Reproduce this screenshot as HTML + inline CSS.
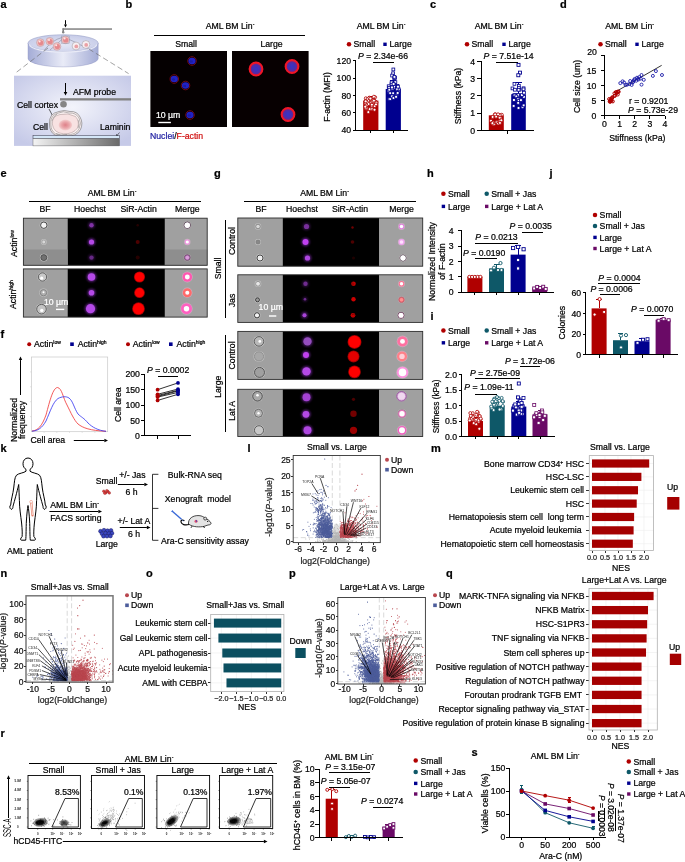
<!DOCTYPE html>
<html><head><meta charset="utf-8"><title>Figure</title>
<style>
html,body{margin:0;padding:0;background:#fff;}
body{width:685px;height:862px;overflow:hidden;font-family:"Liberation Sans",Arial,sans-serif;}
svg{display:block;}
svg text{font-family:"Liberation Sans",Arial,sans-serif;}
</style></head><body>
<svg width="685" height="862" viewBox="0 0 685 862">
<rect width="685" height="862" fill="#fff"/>
<defs>
<radialGradient id="gbox" cx="50%" cy="45%" r="65%"><stop offset="0" stop-color="#f3f4fb"/><stop offset="1" stop-color="#c6cae8"/></radialGradient>
<linearGradient id="gdish" x1="0" x2="1"><stop offset="0" stop-color="#a4acd6"/><stop offset="0.5" stop-color="#e9ebf7"/><stop offset="1" stop-color="#a4acd6"/></linearGradient>
<radialGradient id="gdtop" cx="50%" cy="60%" r="60%"><stop offset="0" stop-color="#e4e7f5"/><stop offset="1" stop-color="#c6cbe8"/></radialGradient>
<linearGradient id="gsub" x1="0" x2="1"><stop offset="0" stop-color="#f4f4f4"/><stop offset="1" stop-color="#6a6a6a"/></linearGradient>
<radialGradient id="gcell" cx="50%" cy="50%" r="50%"><stop offset="0" stop-color="#f0b0b0"/><stop offset="1" stop-color="#f7dcdc"/></radialGradient>
<radialGradient id="gnuc" cx="50%" cy="50%" r="50%"><stop offset="0" stop-color="#de8088"/><stop offset="0.6" stop-color="#eaa8ac"/><stop offset="1" stop-color="#f4d0d0"/></radialGradient>
<filter id="b1" x="-50%" y="-50%" width="200%" height="200%"><feGaussianBlur stdDeviation="0.6"/></filter>
<filter id="b2" x="-50%" y="-50%" width="200%" height="200%"><feGaussianBlur stdDeviation="1.1"/></filter>
<filter id="b3" x="-50%" y="-50%" width="200%" height="200%"><feGaussianBlur stdDeviation="0.35"/></filter>
</defs>
<text x="0.5" y="8.2" font-size="11" font-weight="bold" fill="#000" stroke="#000" stroke-width="0.22">a</text>
<path d="M65.50 20.20 L65.50 24.60" stroke="#000" stroke-width="1" fill="none"/>
<path d="M65.50 27.60 L64.00 24.60 L67.00 24.60 Z" fill="#000"/>
<rect x="62.60" y="28.30" width="49.40" height="1.50" fill="#828282"/>
<rect x="62.40" y="28.30" width="1.60" height="4.20" fill="#828282"/>
<circle cx="63.20" cy="32.30" r="1.2" fill="#858585"/>
<path d="M28 43.2 L28 58.4 A35.1 8.5 0 0 0 98.2 58.4 L98.2 43.2 Z" fill="url(#gdish)" stroke="#8f96c0" stroke-width="0.4"/>
<ellipse cx="63.1" cy="43.2" rx="35.1" ry="8.5" fill="url(#gdtop)" stroke="#8f96c0" stroke-width="0.5"/>
<path d="M29.5 44.5 A33.6 7.6 0 0 0 96.7 44.5" fill="none" stroke="#eef0fa" stroke-width="1.2" opacity="0.9"/>
<path d="M44 50.5 Q52 40 62 37.5 M50 50 Q58 43 63 38.5 M67 38.5 Q76 42 88 49" fill="none" stroke="#667" stroke-width="0.4"/>
<circle cx="40.40" cy="42.60" r="3.9" fill="#f2c0c0" stroke="#a89098" stroke-width="0.4"/>
<circle cx="40.70" cy="42.80" r="2.6" fill="#e58a8e" filter="url(#b1)"/>
<circle cx="39.60" cy="41.40" r="1.0" fill="#fbe8e8" filter="url(#b3)"/>
<circle cx="49.80" cy="41.30" r="3.9" fill="#f2c0c0" stroke="#a89098" stroke-width="0.4"/>
<circle cx="50.10" cy="41.50" r="2.6" fill="#e58a8e" filter="url(#b1)"/>
<circle cx="49.00" cy="40.10" r="1.0" fill="#fbe8e8" filter="url(#b3)"/>
<circle cx="57.00" cy="46.40" r="3.9" fill="#f2c0c0" stroke="#a89098" stroke-width="0.4"/>
<circle cx="57.30" cy="46.60" r="2.6" fill="#e58a8e" filter="url(#b1)"/>
<circle cx="56.20" cy="45.20" r="1.0" fill="#fbe8e8" filter="url(#b3)"/>
<circle cx="65.40" cy="39.80" r="3.9" fill="#f2c0c0" stroke="#a89098" stroke-width="0.4"/>
<circle cx="65.70" cy="40.00" r="2.6" fill="#e58a8e" filter="url(#b1)"/>
<circle cx="64.60" cy="38.60" r="1.0" fill="#fbe8e8" filter="url(#b3)"/>
<rect x="61.60" y="36.00" width="7.60" height="7.60" fill="none" stroke="#889" stroke-width="0.35"/>
<circle cx="76.00" cy="46.00" r="3.9" fill="#f7f0f3" stroke="#908890" stroke-width="0.45"/>
<circle cx="76.30" cy="46.40" r="1.9" fill="#eaa0a4" filter="url(#b3)"/>
<circle cx="85.90" cy="44.50" r="3.9" fill="#f7f0f3" stroke="#908890" stroke-width="0.45"/>
<circle cx="86.20" cy="44.90" r="1.9" fill="#eaa0a4" filter="url(#b3)"/>
<line x1="48.00" y1="48.00" x2="14.70" y2="73.60" stroke="#666" stroke-width="0.6" stroke-dasharray="5.5 3"/>
<line x1="88.70" y1="48.90" x2="128.60" y2="73.60" stroke="#666" stroke-width="0.6" stroke-dasharray="5.5 3"/>
<rect x="14.00" y="75.70" width="117.00" height="70.20" fill="url(#gbox)"/>
<path d="M65.50 83.00 L65.50 92.00" stroke="#000" stroke-width="1" fill="none"/>
<path d="M65.50 95.60 L63.70 92.00 L67.30 92.00 Z" fill="#000"/>
<text x="73" y="95" font-size="8.7" fill="#000" stroke="#000" stroke-width="0.22">AFM probe</text>
<rect x="60.00" y="98.20" width="71.00" height="2.30" fill="#828282"/>
<circle cx="63.50" cy="104.30" r="3.3" fill="#858585"/>
<text x="17" y="108.3" font-size="8.7" fill="#000" stroke="#000" stroke-width="0.22">Cell cortex</text>
<line x1="49.00" y1="109.00" x2="53.00" y2="116.50" stroke="#000" stroke-width="0.6"/>
<path d="M51.6 115.4 L53.6 117.8 L54 114.4 Z" fill="#000"/>
<path d="M49.5 124 Q48.5 113.5 59 111.5 Q64 109.5 70 111.5 Q77 111 80 117 Q83.5 123 80.5 129.5 Q77 136.5 66 136.3 Q60 137.5 55 135 Q49.5 132 49.5 124 Z" fill="#fbf1f1" stroke="#555" stroke-width="0.5"/>
<path d="M50.8 124 Q50 115 58.5 113 Q63 110.5 69 113 Q76 112.5 79 118 Q82 123 79 129 Q76 135 66 135 Q60 136.3 55.5 133.8 Q50.8 131 50.8 124 Z M52 121 q1.5 -5 5 -7 M78 120 q2 4 0 8 M56 133.5 q5 2.5 11 1" fill="none" stroke="#666" stroke-width="0.45"/>
<path d="M52.3 124 Q52 116 60 114.5 Q68 112.5 75.5 116.5 Q80 121.5 77.5 128 Q73 134.3 63.5 133.8 Q53.5 133 52.3 124 Z" fill="#f8e2e2" stroke="#8a7a7a" stroke-width="0.4"/>
<ellipse cx="65.4" cy="125" rx="6.8" ry="5.4" fill="url(#gnuc)"/>
<text x="33" y="130.3" font-size="8.7" fill="#000" stroke="#000" stroke-width="0.22">Cell</text>
<text x="100" y="130.3" font-size="8.7" fill="#000" stroke="#000" stroke-width="0.22">Laminin</text>
<line x1="119.50" y1="132.50" x2="117.00" y2="135.50" stroke="#000" stroke-width="0.5"/>
<path d="M116 134.2 L116.3 136.6 L118.4 135.6 Z" fill="#000"/>
<rect x="33.00" y="135.60" width="86.50" height="3.00" fill="#d4e6f7" stroke="#334" stroke-width="0.5"/>
<rect x="33.00" y="138.70" width="86.50" height="7.20" fill="url(#gsub)" stroke="#555" stroke-width="0.4"/>
<text x="125.5" y="8.2" font-size="11" font-weight="bold" fill="#000" stroke="#000" stroke-width="0.22">b</text>
<text x="230" y="29.3" font-size="8.7" text-anchor="middle" fill="#000" stroke="#000" stroke-width="0.22">AML BM Lin<tspan font-size="5.22" dy="-3.0449999999999995">-</tspan></text>
<line x1="154.00" y1="35.00" x2="304.50" y2="35.00" stroke="#000" stroke-width="1" shape-rendering="crispEdges"/>
<text x="186" y="47" font-size="8.7" text-anchor="middle" fill="#000" stroke="#000" stroke-width="0.22">Small</text>
<text x="271.5" y="47" font-size="8.7" text-anchor="middle" fill="#000" stroke="#000" stroke-width="0.22">Large</text>
<rect x="150.40" y="51.00" width="76.60" height="76.00" fill="#050001"/>
<rect x="232.00" y="51.00" width="76.60" height="76.00" fill="#070001"/>
<circle cx="192.00" cy="61.00" r="4.3" fill="none" stroke="#b01020" stroke-width="0.8" filter="url(#b3)" opacity="0.8"/>
<ellipse cx="192" cy="61" rx="3.6" ry="3.3" fill="#2424c4" filter="url(#b1)"/>
<ellipse cx="191.2" cy="61.5" rx="1.4" ry="1.2" fill="#1a1a90" filter="url(#b1)" opacity="0.7"/>
<circle cx="174.30" cy="79.00" r="4.3" fill="none" stroke="#b01020" stroke-width="0.8" filter="url(#b3)" opacity="0.8"/>
<ellipse cx="174.3" cy="79" rx="3.6" ry="3.3" fill="#2424c4" filter="url(#b1)"/>
<ellipse cx="173.5" cy="79.5" rx="1.4" ry="1.2" fill="#1a1a90" filter="url(#b1)" opacity="0.7"/>
<circle cx="185.50" cy="85.50" r="4.3" fill="none" stroke="#b01020" stroke-width="0.8" filter="url(#b3)" opacity="0.8"/>
<ellipse cx="185.5" cy="85.5" rx="3.6" ry="3.3" fill="#2424c4" filter="url(#b1)"/>
<ellipse cx="184.7" cy="86.0" rx="1.4" ry="1.2" fill="#1a1a90" filter="url(#b1)" opacity="0.7"/>
<circle cx="190.00" cy="115.00" r="4.3" fill="none" stroke="#b01020" stroke-width="0.8" filter="url(#b3)" opacity="0.8"/>
<ellipse cx="190" cy="115" rx="3.6" ry="3.3" fill="#2424c4" filter="url(#b1)"/>
<ellipse cx="189.2" cy="115.5" rx="1.4" ry="1.2" fill="#1a1a90" filter="url(#b1)" opacity="0.7"/>
<circle cx="256.00" cy="69.00" r="6.3" fill="#5a2a9c" stroke="#f01428" stroke-width="2.2" filter="url(#b1)"/>
<circle cx="256.00" cy="69.00" r="3.4" fill="#3a30c0" filter="url(#b2)"/>
<circle cx="292.00" cy="66.50" r="6.3" fill="#5a2a9c" stroke="#f01428" stroke-width="2.2" filter="url(#b1)"/>
<circle cx="292.00" cy="66.50" r="3.4" fill="#3a30c0" filter="url(#b2)"/>
<circle cx="288.00" cy="114.50" r="6.3" fill="#5a2a9c" stroke="#f01428" stroke-width="2.2" filter="url(#b1)"/>
<circle cx="288.00" cy="114.50" r="3.4" fill="#3a30c0" filter="url(#b2)"/>
<text x="156" y="118" font-size="8.7" fill="#fff" stroke="#fff" stroke-width="0.22">10 µm</text>
<rect x="158.30" y="121.80" width="12.60" height="1.40" fill="#fff"/>
<text x="150" y="139.3" font-size="8.7" fill="#000" stroke="#000" stroke-width="0.22"><tspan fill="#1c1ca0" stroke="#1c1ca0">Nuclei</tspan>/<tspan fill="#d01010" stroke="#d01010">F-actin</tspan></text>
<text x="381" y="29.3" font-size="8.7" text-anchor="middle" fill="#000" stroke="#000" stroke-width="0.22">AML BM Lin<tspan font-size="5.22" dy="-3.0449999999999995">-</tspan></text>
<circle cx="349.00" cy="44.30" r="2.25" fill="#b00000"/>
<text x="353.5" y="47.4" font-size="8.7" fill="#000" stroke="#000" stroke-width="0.22">Small</text>
<rect x="383.30" y="42.60" width="3.40" height="3.40" fill="#00008f"/>
<text x="389.5" y="47.4" font-size="8.7" fill="#000" stroke="#000" stroke-width="0.22">Large</text>
<text x="358" y="59.3" font-size="8.7" fill="#000" stroke="#000" stroke-width="0.22"><tspan font-style="italic">P</tspan> = 2.34e-66</text>
<line x1="373.40" y1="62.00" x2="393.60" y2="62.00" stroke="#000" stroke-width="1" shape-rendering="crispEdges"/>
<text x="330" y="97" font-size="8.7" text-anchor="middle" transform="rotate(-90 330 97)" fill="#000" stroke="#000" stroke-width="0.22">F-actin (MFI)</text>
<rect x="363.20" y="100.59" width="15.20" height="29.41" fill="#b00000"/>
<rect x="385.70" y="88.91" width="15.20" height="41.09" fill="#00008f"/>
<line x1="370.80" y1="96.27" x2="370.80" y2="100.59" stroke="#b00000" stroke-width="1" shape-rendering="crispEdges"/>
<line x1="367.80" y1="96.27" x2="373.80" y2="96.27" stroke="#b00000" stroke-width="1" shape-rendering="crispEdges"/>
<line x1="393.30" y1="80.69" x2="393.30" y2="89.34" stroke="#00008f" stroke-width="1" shape-rendering="crispEdges"/>
<line x1="390.30" y1="80.69" x2="396.30" y2="80.69" stroke="#00008f" stroke-width="1" shape-rendering="crispEdges"/>
<circle cx="372.55" cy="103.32" r="1.5" fill="#fff" stroke="#b00000" stroke-width="0.8"/>
<circle cx="365.84" cy="100.33" r="1.5" fill="#fff" stroke="#b00000" stroke-width="0.8"/>
<circle cx="365.67" cy="105.94" r="1.5" fill="#fff" stroke="#b00000" stroke-width="0.8"/>
<circle cx="370.89" cy="103.15" r="1.5" fill="#fff" stroke="#b00000" stroke-width="0.8"/>
<circle cx="365.81" cy="98.28" r="1.5" fill="#fff" stroke="#b00000" stroke-width="0.8"/>
<circle cx="366.05" cy="101.35" r="1.5" fill="#fff" stroke="#b00000" stroke-width="0.8"/>
<circle cx="366.44" cy="108.81" r="1.5" fill="#fff" stroke="#b00000" stroke-width="0.8"/>
<circle cx="367.59" cy="98.99" r="1.5" fill="#fff" stroke="#b00000" stroke-width="0.8"/>
<circle cx="371.69" cy="108.90" r="1.5" fill="#fff" stroke="#b00000" stroke-width="0.8"/>
<circle cx="369.60" cy="109.11" r="1.5" fill="#fff" stroke="#b00000" stroke-width="0.8"/>
<circle cx="374.96" cy="101.13" r="1.5" fill="#fff" stroke="#b00000" stroke-width="0.8"/>
<circle cx="368.36" cy="102.50" r="1.5" fill="#fff" stroke="#b00000" stroke-width="0.8"/>
<circle cx="368.58" cy="101.12" r="1.5" fill="#fff" stroke="#b00000" stroke-width="0.8"/>
<circle cx="374.47" cy="100.79" r="1.5" fill="#fff" stroke="#b00000" stroke-width="0.8"/>
<circle cx="372.41" cy="100.15" r="1.5" fill="#fff" stroke="#b00000" stroke-width="0.8"/>
<circle cx="369.32" cy="97.66" r="1.5" fill="#fff" stroke="#b00000" stroke-width="0.8"/>
<circle cx="365.69" cy="103.66" r="1.5" fill="#fff" stroke="#b00000" stroke-width="0.8"/>
<circle cx="367.39" cy="102.73" r="1.5" fill="#fff" stroke="#b00000" stroke-width="0.8"/>
<circle cx="368.64" cy="104.06" r="1.5" fill="#fff" stroke="#b00000" stroke-width="0.8"/>
<circle cx="371.79" cy="106.04" r="1.5" fill="#fff" stroke="#b00000" stroke-width="0.8"/>
<circle cx="374.21" cy="105.46" r="1.5" fill="#fff" stroke="#b00000" stroke-width="0.8"/>
<circle cx="373.11" cy="101.37" r="1.5" fill="#fff" stroke="#b00000" stroke-width="0.8"/>
<circle cx="371.09" cy="102.13" r="1.5" fill="#fff" stroke="#b00000" stroke-width="0.8"/>
<circle cx="375.15" cy="97.24" r="1.5" fill="#fff" stroke="#b00000" stroke-width="0.8"/>
<circle cx="376.37" cy="102.73" r="1.5" fill="#fff" stroke="#b00000" stroke-width="0.8"/>
<circle cx="366.37" cy="105.50" r="1.5" fill="#fff" stroke="#b00000" stroke-width="0.8"/>
<circle cx="366.76" cy="108.02" r="1.5" fill="#fff" stroke="#b00000" stroke-width="0.8"/>
<circle cx="370.67" cy="99.10" r="1.5" fill="#fff" stroke="#b00000" stroke-width="0.8"/>
<circle cx="373.87" cy="96.71" r="1.5" fill="#fff" stroke="#b00000" stroke-width="0.8"/>
<circle cx="371.65" cy="100.91" r="1.5" fill="#fff" stroke="#b00000" stroke-width="0.8"/>
<circle cx="373.07" cy="99.92" r="1.5" fill="#fff" stroke="#b00000" stroke-width="0.8"/>
<circle cx="371.89" cy="104.70" r="1.5" fill="#fff" stroke="#b00000" stroke-width="0.8"/>
<circle cx="374.74" cy="106.09" r="1.5" fill="#fff" stroke="#b00000" stroke-width="0.8"/>
<circle cx="375.96" cy="104.39" r="1.5" fill="#fff" stroke="#b00000" stroke-width="0.8"/>
<circle cx="365.70" cy="107.99" r="1.5" fill="#fff" stroke="#b00000" stroke-width="0.8"/>
<circle cx="373.14" cy="101.39" r="1.5" fill="#fff" stroke="#b00000" stroke-width="0.8"/>
<circle cx="374.53" cy="109.72" r="1.5" fill="#fff" stroke="#b00000" stroke-width="0.8"/>
<circle cx="368.30" cy="112.12" r="1.5" fill="#fff" stroke="#b00000" stroke-width="0.8"/>
<circle cx="365.26" cy="106.68" r="1.5" fill="#fff" stroke="#b00000" stroke-width="0.8"/>
<circle cx="370.36" cy="98.52" r="1.5" fill="#fff" stroke="#b00000" stroke-width="0.8"/>
<circle cx="365.68" cy="101.36" r="1.5" fill="#fff" stroke="#b00000" stroke-width="0.8"/>
<circle cx="373.91" cy="100.63" r="1.5" fill="#fff" stroke="#b00000" stroke-width="0.8"/>
<rect x="390.92" y="93.36" width="2.80" height="2.80" fill="#fff" stroke="#00008f" stroke-width="0.8"/>
<rect x="395.62" y="86.11" width="2.80" height="2.80" fill="#fff" stroke="#00008f" stroke-width="0.8"/>
<rect x="392.27" y="81.53" width="2.80" height="2.80" fill="#fff" stroke="#00008f" stroke-width="0.8"/>
<rect x="395.35" y="93.23" width="2.80" height="2.80" fill="#fff" stroke="#00008f" stroke-width="0.8"/>
<rect x="390.09" y="82.80" width="2.80" height="2.80" fill="#fff" stroke="#00008f" stroke-width="0.8"/>
<rect x="391.72" y="71.90" width="2.80" height="2.80" fill="#fff" stroke="#00008f" stroke-width="0.8"/>
<rect x="396.06" y="84.45" width="2.80" height="2.80" fill="#fff" stroke="#00008f" stroke-width="0.8"/>
<rect x="390.72" y="74.16" width="2.80" height="2.80" fill="#fff" stroke="#00008f" stroke-width="0.8"/>
<rect x="388.86" y="88.62" width="2.80" height="2.80" fill="#fff" stroke="#00008f" stroke-width="0.8"/>
<rect x="391.76" y="91.88" width="2.80" height="2.80" fill="#fff" stroke="#00008f" stroke-width="0.8"/>
<rect x="387.28" y="84.83" width="2.80" height="2.80" fill="#fff" stroke="#00008f" stroke-width="0.8"/>
<rect x="391.02" y="87.61" width="2.80" height="2.80" fill="#fff" stroke="#00008f" stroke-width="0.8"/>
<rect x="397.24" y="89.29" width="2.80" height="2.80" fill="#fff" stroke="#00008f" stroke-width="0.8"/>
<rect x="393.34" y="81.63" width="2.80" height="2.80" fill="#fff" stroke="#00008f" stroke-width="0.8"/>
<rect x="392.75" y="76.75" width="2.80" height="2.80" fill="#fff" stroke="#00008f" stroke-width="0.8"/>
<rect x="387.89" y="97.67" width="2.80" height="2.80" fill="#fff" stroke="#00008f" stroke-width="0.8"/>
<rect x="393.65" y="76.47" width="2.80" height="2.80" fill="#fff" stroke="#00008f" stroke-width="0.8"/>
<rect x="393.99" y="80.72" width="2.80" height="2.80" fill="#fff" stroke="#00008f" stroke-width="0.8"/>
<rect x="388.33" y="90.34" width="2.80" height="2.80" fill="#fff" stroke="#00008f" stroke-width="0.8"/>
<rect x="393.18" y="85.17" width="2.80" height="2.80" fill="#fff" stroke="#00008f" stroke-width="0.8"/>
<rect x="388.61" y="88.39" width="2.80" height="2.80" fill="#fff" stroke="#00008f" stroke-width="0.8"/>
<rect x="388.86" y="97.59" width="2.80" height="2.80" fill="#fff" stroke="#00008f" stroke-width="0.8"/>
<rect x="387.40" y="90.29" width="2.80" height="2.80" fill="#fff" stroke="#00008f" stroke-width="0.8"/>
<rect x="387.82" y="89.15" width="2.80" height="2.80" fill="#fff" stroke="#00008f" stroke-width="0.8"/>
<rect x="387.63" y="90.60" width="2.80" height="2.80" fill="#fff" stroke="#00008f" stroke-width="0.8"/>
<rect x="395.61" y="85.91" width="2.80" height="2.80" fill="#fff" stroke="#00008f" stroke-width="0.8"/>
<rect x="389.23" y="87.46" width="2.80" height="2.80" fill="#fff" stroke="#00008f" stroke-width="0.8"/>
<rect x="390.53" y="95.00" width="2.80" height="2.80" fill="#fff" stroke="#00008f" stroke-width="0.8"/>
<rect x="395.86" y="88.49" width="2.80" height="2.80" fill="#fff" stroke="#00008f" stroke-width="0.8"/>
<rect x="397.34" y="87.93" width="2.80" height="2.80" fill="#fff" stroke="#00008f" stroke-width="0.8"/>
<rect x="387.65" y="86.55" width="2.80" height="2.80" fill="#fff" stroke="#00008f" stroke-width="0.8"/>
<rect x="387.16" y="89.53" width="2.80" height="2.80" fill="#fff" stroke="#00008f" stroke-width="0.8"/>
<rect x="395.44" y="87.42" width="2.80" height="2.80" fill="#fff" stroke="#00008f" stroke-width="0.8"/>
<rect x="388.85" y="91.82" width="2.80" height="2.80" fill="#fff" stroke="#00008f" stroke-width="0.8"/>
<rect x="391.95" y="68.05" width="2.80" height="2.80" fill="#fff" stroke="#00008f" stroke-width="0.8"/>
<rect x="387.93" y="88.28" width="2.80" height="2.80" fill="#fff" stroke="#00008f" stroke-width="0.8"/>
<rect x="392.15" y="96.65" width="2.80" height="2.80" fill="#fff" stroke="#00008f" stroke-width="0.8"/>
<rect x="396.21" y="91.56" width="2.80" height="2.80" fill="#fff" stroke="#00008f" stroke-width="0.8"/>
<rect x="390.19" y="80.93" width="2.80" height="2.80" fill="#fff" stroke="#00008f" stroke-width="0.8"/>
<rect x="390.57" y="86.05" width="2.80" height="2.80" fill="#fff" stroke="#00008f" stroke-width="0.8"/>
<rect x="392.16" y="82.64" width="2.80" height="2.80" fill="#fff" stroke="#00008f" stroke-width="0.8"/>
<rect x="393.05" y="75.50" width="2.80" height="2.80" fill="#fff" stroke="#00008f" stroke-width="0.8"/>
<rect x="394.70" y="95.36" width="2.80" height="2.80" fill="#fff" stroke="#00008f" stroke-width="0.8"/>
<rect x="396.53" y="85.26" width="2.80" height="2.80" fill="#fff" stroke="#00008f" stroke-width="0.8"/>
<line x1="355.60" y1="60.40" x2="355.60" y2="130.40" stroke="#000" stroke-width="1" shape-rendering="crispEdges"/>
<line x1="352.60" y1="60.80" x2="355.60" y2="60.80" stroke="#000" stroke-width="1" shape-rendering="crispEdges"/>
<text x="351.1" y="63.93" font-size="8.7" text-anchor="end" fill="#000" stroke="#000" stroke-width="0.22">120</text>
<line x1="352.60" y1="78.10" x2="355.60" y2="78.10" stroke="#000" stroke-width="1" shape-rendering="crispEdges"/>
<text x="351.1" y="81.23" font-size="8.7" text-anchor="end" fill="#000" stroke="#000" stroke-width="0.22">100</text>
<line x1="352.60" y1="95.40" x2="355.60" y2="95.40" stroke="#000" stroke-width="1" shape-rendering="crispEdges"/>
<text x="351.1" y="98.53" font-size="8.7" text-anchor="end" fill="#000" stroke="#000" stroke-width="0.22">80</text>
<line x1="352.60" y1="112.70" x2="355.60" y2="112.70" stroke="#000" stroke-width="1" shape-rendering="crispEdges"/>
<text x="351.1" y="115.83" font-size="8.7" text-anchor="end" fill="#000" stroke="#000" stroke-width="0.22">60</text>
<line x1="352.60" y1="130.00" x2="355.60" y2="130.00" stroke="#000" stroke-width="1" shape-rendering="crispEdges"/>
<text x="351.1" y="133.13" font-size="8.7" text-anchor="end" fill="#000" stroke="#000" stroke-width="0.22">40</text>
<line x1="355.60" y1="130.00" x2="408.00" y2="130.00" stroke="#000" stroke-width="1" shape-rendering="crispEdges"/>
<line x1="370.80" y1="130.00" x2="370.80" y2="133.00" stroke="#000" stroke-width="1" shape-rendering="crispEdges"/>
<line x1="393.30" y1="130.00" x2="393.30" y2="133.00" stroke="#000" stroke-width="1" shape-rendering="crispEdges"/>
<text x="430" y="8.2" font-size="11" font-weight="bold" fill="#000" stroke="#000" stroke-width="0.22">c</text>
<text x="499" y="29.3" font-size="8.7" text-anchor="middle" fill="#000" stroke="#000" stroke-width="0.22">AML BM Lin<tspan font-size="5.22" dy="-3.0449999999999995">-</tspan></text>
<circle cx="467.00" cy="44.30" r="2.25" fill="#b00000"/>
<text x="471.5" y="47.4" font-size="8.7" fill="#000" stroke="#000" stroke-width="0.22">Small</text>
<rect x="502.30" y="42.60" width="3.40" height="3.40" fill="#00008f"/>
<text x="508.5" y="47.4" font-size="8.7" fill="#000" stroke="#000" stroke-width="0.22">Large</text>
<text x="483.6" y="59.3" font-size="8.7" fill="#000" stroke="#000" stroke-width="0.22"><tspan font-style="italic">P</tspan> = 7.51e-14</text>
<line x1="496.00" y1="62.00" x2="518.00" y2="62.00" stroke="#000" stroke-width="1" shape-rendering="crispEdges"/>
<text x="460.8" y="96" font-size="8.7" text-anchor="middle" transform="rotate(-90 460.8 96)" fill="#000" stroke="#000" stroke-width="0.22">Stiffness (kPa)</text>
<rect x="488.80" y="115.30" width="15.00" height="15.20" fill="#b00000"/>
<rect x="511.20" y="94.23" width="14.60" height="36.27" fill="#00008f"/>
<line x1="518.50" y1="82.49" x2="518.50" y2="94.23" stroke="#00008f" stroke-width="1" shape-rendering="crispEdges"/>
<line x1="515.50" y1="82.49" x2="521.50" y2="82.49" stroke="#00008f" stroke-width="1" shape-rendering="crispEdges"/>
<circle cx="499.73" cy="115.62" r="1.5" fill="#fff" stroke="#b00000" stroke-width="0.8"/>
<circle cx="498.99" cy="115.98" r="1.5" fill="#fff" stroke="#b00000" stroke-width="0.8"/>
<circle cx="496.50" cy="122.11" r="1.5" fill="#fff" stroke="#b00000" stroke-width="0.8"/>
<circle cx="491.02" cy="120.77" r="1.5" fill="#fff" stroke="#b00000" stroke-width="0.8"/>
<circle cx="493.83" cy="124.17" r="1.5" fill="#fff" stroke="#b00000" stroke-width="0.8"/>
<circle cx="498.46" cy="121.77" r="1.5" fill="#fff" stroke="#b00000" stroke-width="0.8"/>
<circle cx="495.71" cy="114.54" r="1.5" fill="#fff" stroke="#b00000" stroke-width="0.8"/>
<circle cx="501.77" cy="114.75" r="1.5" fill="#fff" stroke="#b00000" stroke-width="0.8"/>
<circle cx="494.78" cy="114.56" r="1.5" fill="#fff" stroke="#b00000" stroke-width="0.8"/>
<circle cx="493.24" cy="122.17" r="1.5" fill="#fff" stroke="#b00000" stroke-width="0.8"/>
<circle cx="492.99" cy="122.42" r="1.5" fill="#fff" stroke="#b00000" stroke-width="0.8"/>
<circle cx="500.78" cy="117.99" r="1.5" fill="#fff" stroke="#b00000" stroke-width="0.8"/>
<circle cx="496.07" cy="115.75" r="1.5" fill="#fff" stroke="#b00000" stroke-width="0.8"/>
<circle cx="499.66" cy="117.69" r="1.5" fill="#fff" stroke="#b00000" stroke-width="0.8"/>
<circle cx="498.10" cy="123.58" r="1.5" fill="#fff" stroke="#b00000" stroke-width="0.8"/>
<circle cx="499.46" cy="115.03" r="1.5" fill="#fff" stroke="#b00000" stroke-width="0.8"/>
<circle cx="496.05" cy="116.68" r="1.5" fill="#fff" stroke="#b00000" stroke-width="0.8"/>
<circle cx="499.54" cy="122.61" r="1.5" fill="#fff" stroke="#b00000" stroke-width="0.8"/>
<circle cx="499.67" cy="121.01" r="1.5" fill="#fff" stroke="#b00000" stroke-width="0.8"/>
<circle cx="495.13" cy="114.39" r="1.5" fill="#fff" stroke="#b00000" stroke-width="0.8"/>
<circle cx="501.30" cy="120.30" r="1.5" fill="#fff" stroke="#b00000" stroke-width="0.8"/>
<circle cx="492.60" cy="116.95" r="1.5" fill="#fff" stroke="#b00000" stroke-width="0.8"/>
<circle cx="492.39" cy="123.14" r="1.5" fill="#fff" stroke="#b00000" stroke-width="0.8"/>
<circle cx="499.73" cy="115.08" r="1.5" fill="#fff" stroke="#b00000" stroke-width="0.8"/>
<circle cx="499.96" cy="122.94" r="1.5" fill="#fff" stroke="#b00000" stroke-width="0.8"/>
<circle cx="498.06" cy="114.30" r="1.5" fill="#fff" stroke="#b00000" stroke-width="0.8"/>
<rect x="512.52" y="98.58" width="2.80" height="2.80" fill="#fff" stroke="#00008f" stroke-width="0.8"/>
<rect x="511.08" y="87.01" width="2.80" height="2.80" fill="#fff" stroke="#00008f" stroke-width="0.8"/>
<rect x="517.43" y="84.35" width="2.80" height="2.80" fill="#fff" stroke="#00008f" stroke-width="0.8"/>
<rect x="522.48" y="95.43" width="2.80" height="2.80" fill="#fff" stroke="#00008f" stroke-width="0.8"/>
<rect x="521.14" y="105.86" width="2.80" height="2.80" fill="#fff" stroke="#00008f" stroke-width="0.8"/>
<rect x="513.52" y="88.32" width="2.80" height="2.80" fill="#fff" stroke="#00008f" stroke-width="0.8"/>
<rect x="513.88" y="93.76" width="2.80" height="2.80" fill="#fff" stroke="#00008f" stroke-width="0.8"/>
<rect x="518.17" y="88.23" width="2.80" height="2.80" fill="#fff" stroke="#00008f" stroke-width="0.8"/>
<rect x="512.53" y="94.10" width="2.80" height="2.80" fill="#fff" stroke="#00008f" stroke-width="0.8"/>
<rect x="522.18" y="86.87" width="2.80" height="2.80" fill="#fff" stroke="#00008f" stroke-width="0.8"/>
<rect x="518.13" y="98.11" width="2.80" height="2.80" fill="#fff" stroke="#00008f" stroke-width="0.8"/>
<rect x="522.11" y="87.92" width="2.80" height="2.80" fill="#fff" stroke="#00008f" stroke-width="0.8"/>
<rect x="517.12" y="106.58" width="2.80" height="2.80" fill="#fff" stroke="#00008f" stroke-width="0.8"/>
<rect x="517.49" y="86.68" width="2.80" height="2.80" fill="#fff" stroke="#00008f" stroke-width="0.8"/>
<rect x="516.36" y="94.96" width="2.80" height="2.80" fill="#fff" stroke="#00008f" stroke-width="0.8"/>
<rect x="513.17" y="93.88" width="2.80" height="2.80" fill="#fff" stroke="#00008f" stroke-width="0.8"/>
<rect x="513.04" y="82.47" width="2.80" height="2.80" fill="#fff" stroke="#00008f" stroke-width="0.8"/>
<rect x="516.77" y="93.41" width="2.80" height="2.80" fill="#fff" stroke="#00008f" stroke-width="0.8"/>
<rect x="514.94" y="95.00" width="2.80" height="2.80" fill="#fff" stroke="#00008f" stroke-width="0.8"/>
<rect x="517.33" y="101.96" width="2.80" height="2.80" fill="#fff" stroke="#00008f" stroke-width="0.8"/>
<rect x="512.22" y="104.50" width="2.80" height="2.80" fill="#fff" stroke="#00008f" stroke-width="0.8"/>
<rect x="517.85" y="97.62" width="2.80" height="2.80" fill="#fff" stroke="#00008f" stroke-width="0.8"/>
<rect x="520.48" y="93.65" width="2.80" height="2.80" fill="#fff" stroke="#00008f" stroke-width="0.8"/>
<rect x="517.20" y="88.41" width="2.80" height="2.80" fill="#fff" stroke="#00008f" stroke-width="0.8"/>
<rect x="522.21" y="103.96" width="2.80" height="2.80" fill="#fff" stroke="#00008f" stroke-width="0.8"/>
<rect x="516.40" y="97.89" width="2.80" height="2.80" fill="#fff" stroke="#00008f" stroke-width="0.8"/>
<rect x="517.25" y="99.62" width="2.80" height="2.80" fill="#fff" stroke="#00008f" stroke-width="0.8"/>
<rect x="519.49" y="98.76" width="2.80" height="2.80" fill="#fff" stroke="#00008f" stroke-width="0.8"/>
<rect x="516.83" y="101.44" width="2.80" height="2.80" fill="#fff" stroke="#00008f" stroke-width="0.8"/>
<rect x="522.57" y="91.31" width="2.80" height="2.80" fill="#fff" stroke="#00008f" stroke-width="0.8"/>
<rect x="517.00" y="63.37" width="3.00" height="3.00" fill="#fff" stroke="#00008f" stroke-width="0.9"/>
<rect x="518.50" y="71.15" width="3.00" height="3.00" fill="#fff" stroke="#00008f" stroke-width="0.9"/>
<rect x="516.80" y="73.74" width="3.00" height="3.00" fill="#fff" stroke="#00008f" stroke-width="0.9"/>
<line x1="481.20" y1="61.02" x2="481.20" y2="130.90" stroke="#000" stroke-width="1" shape-rendering="crispEdges"/>
<line x1="477.40" y1="61.42" x2="481.20" y2="61.42" stroke="#000" stroke-width="1" shape-rendering="crispEdges"/>
<text x="475.2" y="64.55" font-size="8.7" text-anchor="end" fill="#000" stroke="#000" stroke-width="0.22">4</text>
<line x1="477.40" y1="78.69" x2="481.20" y2="78.69" stroke="#000" stroke-width="1" shape-rendering="crispEdges"/>
<text x="475.2" y="81.82" font-size="8.7" text-anchor="end" fill="#000" stroke="#000" stroke-width="0.22">3</text>
<line x1="477.40" y1="95.96" x2="481.20" y2="95.96" stroke="#000" stroke-width="1" shape-rendering="crispEdges"/>
<text x="475.2" y="99.09" font-size="8.7" text-anchor="end" fill="#000" stroke="#000" stroke-width="0.22">2</text>
<line x1="477.40" y1="113.23" x2="481.20" y2="113.23" stroke="#000" stroke-width="1" shape-rendering="crispEdges"/>
<text x="475.2" y="116.36" font-size="8.7" text-anchor="end" fill="#000" stroke="#000" stroke-width="0.22">1</text>
<line x1="477.40" y1="130.50" x2="481.20" y2="130.50" stroke="#000" stroke-width="1" shape-rendering="crispEdges"/>
<text x="475.2" y="133.63" font-size="8.7" text-anchor="end" fill="#000" stroke="#000" stroke-width="0.22">0</text>
<line x1="481.20" y1="130.50" x2="533.80" y2="130.50" stroke="#000" stroke-width="1" shape-rendering="crispEdges"/>
<line x1="507.50" y1="130.50" x2="507.50" y2="133.50" stroke="#000" stroke-width="1" shape-rendering="crispEdges"/>
<text x="560" y="8.2" font-size="11" font-weight="bold" fill="#000" stroke="#000" stroke-width="0.22">d</text>
<text x="629.7" y="29.3" font-size="8.7" text-anchor="middle" fill="#000" stroke="#000" stroke-width="0.22">AML BM Lin<tspan font-size="5.22" dy="-3.0449999999999995">-</tspan></text>
<circle cx="600.50" cy="44.30" r="2.25" fill="#b00000"/>
<text x="605.0" y="47.4" font-size="8.7" fill="#000" stroke="#000" stroke-width="0.22">Small</text>
<rect x="635.30" y="42.60" width="3.40" height="3.40" fill="#00008f"/>
<text x="641.5" y="47.4" font-size="8.7" fill="#000" stroke="#000" stroke-width="0.22">Large</text>
<text x="579.5" y="86.5" font-size="8.7" text-anchor="middle" transform="rotate(-90 579.5 86.5)" fill="#000" stroke="#000" stroke-width="0.22">Cell size (um)</text>
<line x1="615.46" y1="91.88" x2="661.67" y2="65.35" stroke="#000" stroke-width="0.8"/>
<circle cx="615.83" cy="92.06" r="1.5" fill="none" stroke="#b00000" stroke-width="1.0"/>
<circle cx="611.50" cy="100.95" r="1.5" fill="none" stroke="#b00000" stroke-width="1.0"/>
<circle cx="614.45" cy="93.31" r="1.5" fill="none" stroke="#b00000" stroke-width="1.0"/>
<circle cx="610.30" cy="100.79" r="1.5" fill="none" stroke="#b00000" stroke-width="1.0"/>
<circle cx="610.14" cy="100.53" r="1.5" fill="none" stroke="#b00000" stroke-width="1.0"/>
<circle cx="611.31" cy="98.68" r="1.5" fill="none" stroke="#b00000" stroke-width="1.0"/>
<circle cx="609.67" cy="101.66" r="1.5" fill="none" stroke="#b00000" stroke-width="1.0"/>
<circle cx="617.78" cy="94.52" r="1.5" fill="none" stroke="#b00000" stroke-width="1.0"/>
<circle cx="610.47" cy="100.14" r="1.5" fill="none" stroke="#b00000" stroke-width="1.0"/>
<circle cx="610.35" cy="101.78" r="1.5" fill="none" stroke="#b00000" stroke-width="1.0"/>
<circle cx="617.64" cy="91.64" r="1.5" fill="none" stroke="#b00000" stroke-width="1.0"/>
<circle cx="618.32" cy="92.09" r="1.5" fill="none" stroke="#b00000" stroke-width="1.0"/>
<circle cx="612.87" cy="101.42" r="1.5" fill="none" stroke="#b00000" stroke-width="1.0"/>
<circle cx="617.14" cy="92.74" r="1.5" fill="none" stroke="#b00000" stroke-width="1.0"/>
<circle cx="610.54" cy="101.13" r="1.5" fill="none" stroke="#b00000" stroke-width="1.0"/>
<circle cx="612.28" cy="97.22" r="1.5" fill="none" stroke="#b00000" stroke-width="1.0"/>
<circle cx="610.87" cy="100.22" r="1.5" fill="none" stroke="#b00000" stroke-width="1.0"/>
<circle cx="609.14" cy="99.06" r="1.5" fill="none" stroke="#b00000" stroke-width="1.0"/>
<circle cx="614.40" cy="96.04" r="1.5" fill="none" stroke="#b00000" stroke-width="1.0"/>
<circle cx="612.21" cy="97.89" r="1.5" fill="none" stroke="#b00000" stroke-width="1.0"/>
<circle cx="615.09" cy="95.61" r="1.5" fill="none" stroke="#b00000" stroke-width="1.0"/>
<circle cx="618.65" cy="91.61" r="1.5" fill="none" stroke="#b00000" stroke-width="1.0"/>
<circle cx="616.71" cy="92.87" r="1.5" fill="none" stroke="#b00000" stroke-width="1.0"/>
<circle cx="611.56" cy="98.74" r="1.5" fill="none" stroke="#b00000" stroke-width="1.0"/>
<circle cx="620.31" cy="83.14" r="1.5" fill="none" stroke="#1c1ca8" stroke-width="0.9"/>
<circle cx="622.58" cy="81.33" r="1.5" fill="none" stroke="#1c1ca8" stroke-width="0.9"/>
<circle cx="625.61" cy="84.95" r="1.5" fill="none" stroke="#1c1ca8" stroke-width="0.9"/>
<circle cx="627.12" cy="84.65" r="1.5" fill="none" stroke="#1c1ca8" stroke-width="0.9"/>
<circle cx="629.40" cy="84.04" r="1.5" fill="none" stroke="#1c1ca8" stroke-width="0.9"/>
<circle cx="630.15" cy="81.03" r="1.5" fill="none" stroke="#1c1ca8" stroke-width="0.9"/>
<circle cx="631.67" cy="84.95" r="1.5" fill="none" stroke="#1c1ca8" stroke-width="0.9"/>
<circle cx="632.43" cy="82.53" r="1.5" fill="none" stroke="#1c1ca8" stroke-width="0.9"/>
<circle cx="633.94" cy="80.12" r="1.5" fill="none" stroke="#1c1ca8" stroke-width="0.9"/>
<circle cx="634.70" cy="78.92" r="1.5" fill="none" stroke="#1c1ca8" stroke-width="0.9"/>
<circle cx="636.22" cy="80.73" r="1.5" fill="none" stroke="#1c1ca8" stroke-width="0.9"/>
<circle cx="636.97" cy="77.71" r="1.5" fill="none" stroke="#1c1ca8" stroke-width="0.9"/>
<circle cx="638.49" cy="79.52" r="1.5" fill="none" stroke="#1c1ca8" stroke-width="0.9"/>
<circle cx="639.25" cy="77.11" r="1.5" fill="none" stroke="#1c1ca8" stroke-width="0.9"/>
<circle cx="640.76" cy="78.62" r="1.5" fill="none" stroke="#1c1ca8" stroke-width="0.9"/>
<circle cx="641.52" cy="75.00" r="1.5" fill="none" stroke="#1c1ca8" stroke-width="0.9"/>
<circle cx="641.52" cy="84.65" r="1.5" fill="none" stroke="#1c1ca8" stroke-width="0.9"/>
<circle cx="643.79" cy="79.82" r="1.5" fill="none" stroke="#1c1ca8" stroke-width="0.9"/>
<circle cx="652.88" cy="75.90" r="1.5" fill="none" stroke="#1c1ca8" stroke-width="0.9"/>
<circle cx="655.91" cy="71.08" r="1.5" fill="none" stroke="#1c1ca8" stroke-width="0.9"/>
<circle cx="661.97" cy="75.00" r="1.5" fill="none" stroke="#1c1ca8" stroke-width="0.9"/>
<circle cx="624.10" cy="82.53" r="1.5" fill="none" stroke="#1c1ca8" stroke-width="0.9"/>
<circle cx="633.18" cy="81.93" r="1.5" fill="none" stroke="#1c1ca8" stroke-width="0.9"/>
<circle cx="637.73" cy="78.92" r="1.5" fill="none" stroke="#1c1ca8" stroke-width="0.9"/>
<text x="629" y="104.3" font-size="8.7" fill="#000" stroke="#000" stroke-width="0.22">r = 0.9201</text>
<text x="628" y="113.3" font-size="8.7" fill="#000" stroke="#000" stroke-width="0.22"><tspan font-style="italic">P</tspan> = 5.73e-29</text>
<line x1="604.40" y1="55.00" x2="604.40" y2="116.10" stroke="#000" stroke-width="1" shape-rendering="crispEdges"/>
<line x1="601.20" y1="55.40" x2="604.40" y2="55.40" stroke="#000" stroke-width="1" shape-rendering="crispEdges"/>
<text x="596.4" y="58.53" font-size="8.7" text-anchor="end" fill="#000" stroke="#000" stroke-width="0.22"></text>
<line x1="601.20" y1="70.47" x2="604.40" y2="70.47" stroke="#000" stroke-width="1" shape-rendering="crispEdges"/>
<text x="596.4" y="73.61" font-size="8.7" text-anchor="end" fill="#000" stroke="#000" stroke-width="0.22">15</text>
<line x1="601.20" y1="85.55" x2="604.40" y2="85.55" stroke="#000" stroke-width="1" shape-rendering="crispEdges"/>
<text x="596.4" y="88.68" font-size="8.7" text-anchor="end" fill="#000" stroke="#000" stroke-width="0.22">10</text>
<line x1="601.20" y1="100.62" x2="604.40" y2="100.62" stroke="#000" stroke-width="1" shape-rendering="crispEdges"/>
<text x="596.4" y="103.76" font-size="8.7" text-anchor="end" fill="#000" stroke="#000" stroke-width="0.22">5</text>
<line x1="601.20" y1="115.70" x2="604.40" y2="115.70" stroke="#000" stroke-width="1" shape-rendering="crispEdges"/>
<text x="596.4" y="118.83" font-size="8.7" text-anchor="end" fill="#000" stroke="#000" stroke-width="0.22">0</text>
<text x="596.9" y="54.8" font-size="8.7" text-anchor="end" fill="#000" stroke="#000" stroke-width="0.22">20</text>
<line x1="604.40" y1="115.70" x2="665.40" y2="115.70" stroke="#000" stroke-width="1" shape-rendering="crispEdges"/>
<line x1="604.40" y1="115.70" x2="604.40" y2="118.70" stroke="#000" stroke-width="1" shape-rendering="crispEdges"/>
<text x="604.4" y="126.97" font-size="8.7" text-anchor="middle" fill="#000" stroke="#000" stroke-width="0.22">0</text>
<line x1="619.55" y1="115.70" x2="619.55" y2="118.70" stroke="#000" stroke-width="1" shape-rendering="crispEdges"/>
<text x="619.55" y="126.97" font-size="8.7" text-anchor="middle" fill="#000" stroke="#000" stroke-width="0.22">1</text>
<line x1="634.70" y1="115.70" x2="634.70" y2="118.70" stroke="#000" stroke-width="1" shape-rendering="crispEdges"/>
<text x="634.6999999999999" y="126.97" font-size="8.7" text-anchor="middle" fill="#000" stroke="#000" stroke-width="0.22">2</text>
<line x1="649.85" y1="115.70" x2="649.85" y2="118.70" stroke="#000" stroke-width="1" shape-rendering="crispEdges"/>
<text x="649.85" y="126.97" font-size="8.7" text-anchor="middle" fill="#000" stroke="#000" stroke-width="0.22">3</text>
<line x1="665.00" y1="115.70" x2="665.00" y2="118.70" stroke="#000" stroke-width="1" shape-rendering="crispEdges"/>
<text x="665.0" y="126.97" font-size="8.7" text-anchor="middle" fill="#000" stroke="#000" stroke-width="0.22">4</text>
<text x="637.3" y="141" font-size="8.7" text-anchor="middle" fill="#000" stroke="#000" stroke-width="0.22">Stiffness (kPa)</text>
<text x="0.5" y="177" font-size="11" font-weight="bold" fill="#000" stroke="#000" stroke-width="0.22">e</text>
<text x="112" y="196.4" font-size="8.7" text-anchor="middle" fill="#000" stroke="#000" stroke-width="0.22">AML BM Lin<tspan font-size="5.22" dy="-3.0449999999999995">-</tspan></text>
<line x1="29.00" y1="201.50" x2="201.00" y2="201.50" stroke="#000" stroke-width="1" shape-rendering="crispEdges"/>
<text x="45" y="212" font-size="8.7" text-anchor="middle" fill="#000" stroke="#000" stroke-width="0.22">BF</text>
<text x="90" y="212" font-size="8.7" text-anchor="middle" fill="#000" stroke="#000" stroke-width="0.22">Hoechst</text>
<text x="138.7" y="212" font-size="8.7" text-anchor="middle" fill="#000" stroke="#000" stroke-width="0.22">SiR-Actin</text>
<text x="187.4" y="212" font-size="8.7" text-anchor="middle" fill="#000" stroke="#000" stroke-width="0.22">Merge</text>
<rect x="23.40" y="218.20" width="44.20" height="47.10" fill="#a0a0a0"/>
<rect x="67.60" y="218.20" width="97.30" height="47.10" fill="#000"/>
<rect x="164.90" y="218.20" width="42.30" height="47.10" fill="#a0a0a0"/>
<rect x="23.40" y="249.50" width="44.20" height="15.80" fill="#8e8e8e"/>
<rect x="164.90" y="249.50" width="42.30" height="15.80" fill="#8e8e8e"/>
<rect x="23.40" y="268.90" width="44.20" height="48.20" fill="#a0a0a0"/>
<rect x="67.60" y="268.90" width="97.30" height="48.20" fill="#000"/>
<rect x="164.90" y="268.90" width="42.30" height="48.20" fill="#a0a0a0"/>
<text x="16.5" y="243.5" font-size="8.7" text-anchor="middle" transform="rotate(-90 16.5 243.5)" fill="#000" stroke="#000" stroke-width="0.22">Actin<tspan font-size="5" dy="-3">low</tspan></text>
<text x="16.5" y="294.6" font-size="8.7" text-anchor="middle" transform="rotate(-90 16.5 294.6)" fill="#000" stroke="#000" stroke-width="0.22">Actin<tspan font-size="5" dy="-3">high</tspan></text>
<circle cx="43.80" cy="225.20" r="4.1000000000000005" fill="#c4c4c4" filter="url(#b3)"/>
<circle cx="43.80" cy="225.20" r="3.2" fill="#f4f4f4" stroke="#222" stroke-width="0.8" filter="url(#b3)"/>
<circle cx="43.80" cy="242.00" r="2.9" fill="#c4c4c4" filter="url(#b3)"/>
<circle cx="43.80" cy="242.00" r="2.0" fill="#d8d8d8" stroke="#999" stroke-width="0.8" filter="url(#b3)"/>
<circle cx="43.80" cy="257.60" r="3.9" fill="#c4c4c4" filter="url(#b3)"/>
<circle cx="43.80" cy="257.60" r="3.0" fill="#707070" stroke="#444" stroke-width="0.8" filter="url(#b3)"/>
<circle cx="91.50" cy="225.20" r="3.4000000000000004" fill="#7a2aa8" filter="url(#b2)" opacity="0.42"/>
<circle cx="91.50" cy="225.20" r="2.2" fill="#b44ae6" filter="url(#b1)" opacity="0.6"/>
<circle cx="91.50" cy="242.00" r="3.8" fill="#7a2aa8" filter="url(#b2)" opacity="0.7"/>
<circle cx="91.50" cy="242.00" r="2.6" fill="#b44ae6" filter="url(#b1)" opacity="1.0"/>
<circle cx="91.50" cy="257.60" r="3.4000000000000004" fill="#7a2aa8" filter="url(#b2)" opacity="0.315"/>
<circle cx="91.50" cy="257.60" r="2.2" fill="#b44ae6" filter="url(#b1)" opacity="0.45"/>
<circle cx="137.70" cy="225.20" r="1.2" fill="#ff0000" filter="url(#b1)" opacity="0.15"/>
<circle cx="137.70" cy="242.00" r="2.0" fill="#ff0000" filter="url(#b1)" opacity="0.3"/>
<circle cx="137.70" cy="257.60" r="2.0" fill="#ff0000" filter="url(#b1)" opacity="0.15"/>
<circle cx="187.30" cy="225.20" r="3.8000000000000003" fill="#c8b0c0" filter="url(#b3)"/>
<circle cx="187.30" cy="225.20" r="3.2" fill="#f0c8f0" stroke="#222" stroke-width="0.7" filter="url(#b3)"/>
<circle cx="187.30" cy="225.20" r="2.7" fill="#fff" filter="url(#b1)"/>
<circle cx="187.30" cy="242.00" r="3.2" fill="#c8b0c0" filter="url(#b3)"/>
<circle cx="187.30" cy="242.00" r="2.6" fill="#f090e0" filter="url(#b3)"/>
<circle cx="187.30" cy="242.00" r="1.612" fill="#fff" filter="url(#b1)"/>
<circle cx="187.30" cy="257.60" r="3.6" fill="#c8b0c0" filter="url(#b3)"/>
<circle cx="187.30" cy="257.60" r="3.0" fill="#b060b0" stroke="#555" stroke-width="0.7" filter="url(#b3)"/>
<circle cx="187.30" cy="257.60" r="1.8599999999999999" fill="#d8a0d8" filter="url(#b1)"/>
<circle cx="42.50" cy="277.00" r="5.1000000000000005" fill="#c4c4c4" filter="url(#b3)"/>
<circle cx="42.50" cy="277.00" r="4.2" fill="#c8c8c8" stroke="#444" stroke-width="0.8" filter="url(#b3)"/>
<circle cx="41.70" cy="278.20" r="1.6" fill="#fff"/>
<circle cx="43.50" cy="292.70" r="4.1000000000000005" fill="#c4c4c4" filter="url(#b3)"/>
<circle cx="43.50" cy="292.70" r="3.2" fill="#b0b0b0" stroke="#777" stroke-width="0.8" filter="url(#b3)"/>
<circle cx="43.50" cy="292.20" r="1.0" fill="#fff"/>
<circle cx="41.50" cy="309.20" r="5.7" fill="#c4c4c4" filter="url(#b3)"/>
<circle cx="41.50" cy="309.20" r="4.8" fill="#c4c4c4" stroke="#444" stroke-width="0.8" filter="url(#b3)"/>
<circle cx="41.80" cy="310.40" r="1.7" fill="#fff"/>
<circle cx="91.50" cy="277.00" r="5.0" fill="#7a2aa8" filter="url(#b2)" opacity="0.7"/>
<circle cx="91.50" cy="277.00" r="3.8" fill="#b44ae6" filter="url(#b1)" opacity="1.0"/>
<circle cx="91.50" cy="292.70" r="4.0" fill="#7a2aa8" filter="url(#b2)" opacity="0.7"/>
<circle cx="91.50" cy="292.70" r="2.8" fill="#b44ae6" filter="url(#b1)" opacity="1.0"/>
<circle cx="90.50" cy="308.70" r="5.8" fill="#7a2aa8" filter="url(#b2)" opacity="0.7"/>
<circle cx="90.50" cy="308.70" r="4.6" fill="#b44ae6" filter="url(#b1)" opacity="1.0"/>
<circle cx="139.50" cy="277.00" r="5.6" fill="#c00000" filter="url(#b1)" opacity="0.8"/>
<circle cx="139.50" cy="277.00" r="4.8" fill="#ff0000" filter="url(#b1)" opacity="1.0"/>
<circle cx="139.50" cy="292.70" r="5.3999999999999995" fill="#c00000" filter="url(#b1)" opacity="0.8"/>
<circle cx="139.50" cy="292.70" r="4.6" fill="#ff0000" filter="url(#b1)" opacity="1.0"/>
<circle cx="138.50" cy="308.70" r="6.3999999999999995" fill="#c00000" filter="url(#b1)" opacity="0.8"/>
<circle cx="138.50" cy="308.70" r="5.6" fill="#ff0000" filter="url(#b1)" opacity="1.0"/>
<circle cx="187.30" cy="277.00" r="5.3999999999999995" fill="#c8b0c0" filter="url(#b3)"/>
<circle cx="187.30" cy="277.00" r="4.8" fill="#ff58b0" filter="url(#b3)"/>
<circle cx="187.30" cy="277.00" r="2.43" fill="#fff" filter="url(#b1)"/>
<circle cx="187.30" cy="292.70" r="5.1" fill="#c8b0c0" filter="url(#b3)"/>
<circle cx="187.30" cy="292.70" r="4.5" fill="#ff6a6a" filter="url(#b3)"/>
<circle cx="187.30" cy="292.70" r="2.0250000000000004" fill="#fff" filter="url(#b1)"/>
<circle cx="186.50" cy="308.70" r="6.1" fill="#c8b0c0" filter="url(#b3)"/>
<circle cx="186.50" cy="308.70" r="5.5" fill="#ff60c0" filter="url(#b3)"/>
<circle cx="186.50" cy="308.70" r="2.7" fill="#fff" filter="url(#b1)"/>
<rect x="23.40" y="218.20" width="183.80" height="47.10" fill="none" stroke="#2c2c2c" stroke-width="0.9"/>
<rect x="23.40" y="268.90" width="183.80" height="48.20" fill="none" stroke="#2c2c2c" stroke-width="0.9"/>
<text x="44" y="305" font-size="8.7" fill="#fff" stroke="#fff" stroke-width="0.22">10 µm</text>
<rect x="56.00" y="308.70" width="8.30" height="1.40" fill="#fff"/>
<text x="0.5" y="338" font-size="11" font-weight="bold" fill="#000" stroke="#000" stroke-width="0.22">f</text>
<circle cx="29.20" cy="344.20" r="2" fill="#b00000"/>
<text x="34.0" y="347.3" font-size="8.7" fill="#000" stroke="#000" stroke-width="0.22">Actin<tspan font-size="5" dy="-3">low</tspan></text>
<rect x="70.20" y="342.40" width="3.60" height="3.60" fill="#00008f"/>
<text x="77.7" y="347.3" font-size="8.7" fill="#000" stroke="#000" stroke-width="0.22">Actin<tspan font-size="5" dy="-3">high</tspan></text>
<circle cx="128.00" cy="344.20" r="2" fill="#b00000"/>
<text x="132.8" y="347.3" font-size="8.7" fill="#000" stroke="#000" stroke-width="0.22">Actin<tspan font-size="5" dy="-3">low</tspan></text>
<rect x="169.00" y="342.40" width="3.60" height="3.60" fill="#00008f"/>
<text x="176.5" y="347.3" font-size="8.7" fill="#000" stroke="#000" stroke-width="0.22">Actin<tspan font-size="5" dy="-3">high</tspan></text>
<rect x="31.40" y="357.00" width="76.30" height="74.70" fill="#fff" stroke="#c8c8c8" stroke-width="0.7"/>
<line x1="30.00" y1="371.90" x2="31.40" y2="371.90" stroke="#ccc" stroke-width="0.5"/>
<line x1="30.00" y1="386.80" x2="31.40" y2="386.80" stroke="#ccc" stroke-width="0.5"/>
<line x1="30.00" y1="401.70" x2="31.40" y2="401.70" stroke="#ccc" stroke-width="0.5"/>
<line x1="30.00" y1="416.60" x2="31.40" y2="416.60" stroke="#ccc" stroke-width="0.5"/>
<line x1="44.10" y1="431.70" x2="44.10" y2="433.00" stroke="#ccc" stroke-width="0.5"/>
<line x1="56.80" y1="431.70" x2="56.80" y2="433.00" stroke="#ccc" stroke-width="0.5"/>
<line x1="69.50" y1="431.70" x2="69.50" y2="433.00" stroke="#ccc" stroke-width="0.5"/>
<line x1="82.20" y1="431.70" x2="82.20" y2="433.00" stroke="#ccc" stroke-width="0.5"/>
<line x1="94.90" y1="431.70" x2="94.90" y2="433.00" stroke="#ccc" stroke-width="0.5"/>
<path d="M20.50 395.00 L20.50 360.10" stroke="#000" stroke-width="1" fill="none"/>
<path d="M20.50 356.50 L22.20 360.10 L18.80 360.10 Z" fill="#000"/>
<text x="16.5" y="420" font-size="8.7" text-anchor="middle" transform="rotate(-90 16.5 420)" fill="#000" stroke="#000" stroke-width="0.22">Normalized</text>
<text x="25.2" y="420" font-size="8.7" text-anchor="middle" transform="rotate(-90 25.2 420)" fill="#000" stroke="#000" stroke-width="0.22">frequency</text>
<text x="30.4" y="443" font-size="8.7" fill="#000" stroke="#000" stroke-width="0.22">Cell area</text>
<path d="M73.80 440.50 L104.40 440.50" stroke="#000" stroke-width="1" fill="none"/>
<path d="M108.00 440.50 L104.40 442.20 L104.40 438.80 Z" fill="#000"/>
<path d="M32 431 C38 430.5 42 426 46 415 C50 400 53 388 57.4 387.5 C62 388 63 398 67 405 C71 413 74 420 78 424 C83 428 90 430.5 106 431.3" fill="none" stroke="#f03030" stroke-width="0.8"/>
<path d="M32 431.2 C38 430.8 42 428 46 421 C50 412 53 402 58 398.5 C62 396.5 66 396 69 398 C73 401 74 408 78 414 C81 417 84 418 88 423 C92 427 98 430.5 106 431.3" fill="none" stroke="#3030f0" stroke-width="0.8"/>
<text x="121.5" y="404.7" font-size="8.7" text-anchor="middle" transform="rotate(-90 121.5 404.7)" fill="#000" stroke="#000" stroke-width="0.22">Cell area</text>
<text x="147" y="373.4" font-size="8.7" fill="#000" stroke="#000" stroke-width="0.22"><tspan font-style="italic">P</tspan> = 0.0002</text>
<line x1="157.60" y1="376.80" x2="178.00" y2="376.80" stroke="#000" stroke-width="1" shape-rendering="crispEdges"/>
<line x1="157.60" y1="389.68" x2="178.00" y2="382.91" stroke="#000" stroke-width="0.8"/>
<line x1="157.60" y1="394.29" x2="178.00" y2="389.06" stroke="#000" stroke-width="0.8"/>
<line x1="157.60" y1="395.52" x2="178.00" y2="390.29" stroke="#000" stroke-width="0.8"/>
<line x1="157.60" y1="396.44" x2="178.00" y2="390.91" stroke="#000" stroke-width="0.8"/>
<line x1="157.60" y1="397.06" x2="178.00" y2="392.44" stroke="#000" stroke-width="0.8"/>
<line x1="157.60" y1="400.44" x2="178.00" y2="394.29" stroke="#000" stroke-width="0.8"/>
<circle cx="157.60" cy="389.68" r="1.9" fill="#b00000"/>
<circle cx="178.00" cy="382.91" r="1.9" fill="#00008f"/>
<circle cx="157.60" cy="394.29" r="1.9" fill="#b00000"/>
<circle cx="178.00" cy="389.06" r="1.9" fill="#00008f"/>
<circle cx="157.60" cy="395.52" r="1.9" fill="#b00000"/>
<circle cx="178.00" cy="390.29" r="1.9" fill="#00008f"/>
<circle cx="157.60" cy="396.44" r="1.9" fill="#b00000"/>
<circle cx="178.00" cy="390.91" r="1.9" fill="#00008f"/>
<circle cx="157.60" cy="397.06" r="1.9" fill="#b00000"/>
<circle cx="178.00" cy="392.44" r="1.9" fill="#00008f"/>
<circle cx="157.60" cy="400.44" r="1.9" fill="#b00000"/>
<circle cx="178.00" cy="394.29" r="1.9" fill="#00008f"/>
<line x1="144.40" y1="373.90" x2="144.40" y2="436.20" stroke="#000" stroke-width="1" shape-rendering="crispEdges"/>
<line x1="141.40" y1="374.30" x2="144.40" y2="374.30" stroke="#000" stroke-width="1" shape-rendering="crispEdges"/>
<text x="139.9" y="377.43" font-size="8.7" text-anchor="end" fill="#000" stroke="#000" stroke-width="0.22">200</text>
<line x1="141.40" y1="389.68" x2="144.40" y2="389.68" stroke="#000" stroke-width="1" shape-rendering="crispEdges"/>
<text x="139.9" y="392.81" font-size="8.7" text-anchor="end" fill="#000" stroke="#000" stroke-width="0.22">150</text>
<line x1="141.40" y1="405.05" x2="144.40" y2="405.05" stroke="#000" stroke-width="1" shape-rendering="crispEdges"/>
<text x="139.9" y="408.18" font-size="8.7" text-anchor="end" fill="#000" stroke="#000" stroke-width="0.22">100</text>
<line x1="141.40" y1="420.43" x2="144.40" y2="420.43" stroke="#000" stroke-width="1" shape-rendering="crispEdges"/>
<text x="139.9" y="423.56" font-size="8.7" text-anchor="end" fill="#000" stroke="#000" stroke-width="0.22">50</text>
<line x1="141.40" y1="435.80" x2="144.40" y2="435.80" stroke="#000" stroke-width="1" shape-rendering="crispEdges"/>
<text x="139.9" y="438.93" font-size="8.7" text-anchor="end" fill="#000" stroke="#000" stroke-width="0.22">0</text>
<line x1="144.40" y1="435.80" x2="190.80" y2="435.80" stroke="#000" stroke-width="1" shape-rendering="crispEdges"/>
<line x1="157.60" y1="435.80" x2="157.60" y2="438.80" stroke="#000" stroke-width="1" shape-rendering="crispEdges"/>
<line x1="178.00" y1="435.80" x2="178.00" y2="438.80" stroke="#000" stroke-width="1" shape-rendering="crispEdges"/>
<text x="214" y="177" font-size="11" font-weight="bold" fill="#000" stroke="#000" stroke-width="0.22">g</text>
<text x="324.5" y="196" font-size="8.7" text-anchor="middle" fill="#000" stroke="#000" stroke-width="0.22">AML BM Lin<tspan font-size="5.22" dy="-3.0449999999999995">-</tspan></text>
<line x1="244.00" y1="201.30" x2="416.30" y2="201.30" stroke="#000" stroke-width="1" shape-rendering="crispEdges"/>
<text x="261" y="212" font-size="8.7" text-anchor="middle" fill="#000" stroke="#000" stroke-width="0.22">BF</text>
<text x="302" y="212" font-size="8.7" text-anchor="middle" fill="#000" stroke="#000" stroke-width="0.22">Hoechst</text>
<text x="350" y="212" font-size="8.7" text-anchor="middle" fill="#000" stroke="#000" stroke-width="0.22">SiR-Actin</text>
<text x="401.5" y="212" font-size="8.7" text-anchor="middle" fill="#000" stroke="#000" stroke-width="0.22">Merge</text>
<rect x="237.80" y="218.00" width="44.90" height="48.20" fill="#a0a0a0"/>
<rect x="282.70" y="218.00" width="96.70" height="48.20" fill="#000"/>
<rect x="379.40" y="218.00" width="43.30" height="48.20" fill="#a0a0a0"/>
<rect x="237.80" y="274.80" width="44.90" height="47.60" fill="#a0a0a0"/>
<rect x="282.70" y="274.80" width="96.70" height="47.60" fill="#000"/>
<rect x="379.40" y="274.80" width="43.30" height="47.60" fill="#a0a0a0"/>
<rect x="237.80" y="331.40" width="44.90" height="48.00" fill="#a0a0a0"/>
<rect x="282.70" y="331.40" width="96.70" height="48.00" fill="#000"/>
<rect x="379.40" y="331.40" width="43.30" height="48.00" fill="#a0a0a0"/>
<rect x="237.80" y="389.30" width="44.90" height="47.20" fill="#a0a0a0"/>
<rect x="282.70" y="389.30" width="96.70" height="47.20" fill="#000"/>
<rect x="379.40" y="389.30" width="43.30" height="47.20" fill="#a0a0a0"/>
<text x="235.3" y="241" font-size="8.7" text-anchor="middle" transform="rotate(-90 235.3 241)" fill="#000" stroke="#000" stroke-width="0.22">Control</text>
<text x="235.3" y="300.5" font-size="8.7" text-anchor="middle" transform="rotate(-90 235.3 300.5)" fill="#000" stroke="#000" stroke-width="0.22">Jas</text>
<text x="235.3" y="355.4" font-size="8.7" text-anchor="middle" transform="rotate(-90 235.3 355.4)" fill="#000" stroke="#000" stroke-width="0.22">Control</text>
<text x="235.3" y="410.8" font-size="8.7" text-anchor="middle" transform="rotate(-90 235.3 410.8)" fill="#000" stroke="#000" stroke-width="0.22">Lat A</text>
<line x1="225.90" y1="220.00" x2="225.90" y2="317.50" stroke="#000" stroke-width="1" shape-rendering="crispEdges"/>
<line x1="225.90" y1="335.00" x2="225.90" y2="432.00" stroke="#000" stroke-width="1" shape-rendering="crispEdges"/>
<text x="221.5" y="268.4" font-size="8.7" text-anchor="middle" transform="rotate(-90 221.5 268.4)" fill="#000" stroke="#000" stroke-width="0.22">Small</text>
<text x="221.5" y="386.7" font-size="8.7" text-anchor="middle" transform="rotate(-90 221.5 386.7)" fill="#000" stroke="#000" stroke-width="0.22">Large</text>
<circle cx="258.00" cy="226.50" r="3.1999999999999997" fill="#c4c4c4" filter="url(#b3)"/>
<circle cx="258.00" cy="226.50" r="2.3" fill="#d8d8d8" stroke="#777" stroke-width="0.8" filter="url(#b3)"/>
<circle cx="258.00" cy="242.00" r="2.9" fill="#c4c4c4" filter="url(#b3)"/>
<circle cx="258.00" cy="242.00" r="2.0" fill="#888" stroke="#777" stroke-width="0.8" filter="url(#b3)"/>
<circle cx="260.00" cy="258.00" r="3.9" fill="#c4c4c4" filter="url(#b3)"/>
<circle cx="260.00" cy="258.00" r="3.0" fill="#eee" stroke="#222" stroke-width="0.8" filter="url(#b3)"/>
<circle cx="306.50" cy="226.50" r="3.8" fill="#7a2aa8" filter="url(#b2)" opacity="0.385"/>
<circle cx="306.50" cy="226.50" r="2.6" fill="#b44ae6" filter="url(#b1)" opacity="0.55"/>
<circle cx="305.50" cy="242.00" r="4.2" fill="#7a2aa8" filter="url(#b2)" opacity="0.7"/>
<circle cx="305.50" cy="242.00" r="3.0" fill="#c040f0" filter="url(#b1)" opacity="1.0"/>
<circle cx="307.50" cy="258.00" r="3.8" fill="#7a2aa8" filter="url(#b2)" opacity="0.6649999999999999"/>
<circle cx="307.50" cy="258.00" r="2.6" fill="#b44ae6" filter="url(#b1)" opacity="0.95"/>
<circle cx="352.50" cy="227.50" r="1.2" fill="#ff0000" filter="url(#b1)" opacity="0.45"/>
<circle cx="352.50" cy="242.00" r="1.8" fill="#ff0000" filter="url(#b1)" opacity="0.3"/>
<circle cx="353.50" cy="258.00" r="1.5" fill="#ff0000" filter="url(#b1)" opacity="0.12"/>
<circle cx="401.50" cy="226.50" r="3.4" fill="#c8b0c0" filter="url(#b3)"/>
<circle cx="401.50" cy="226.50" r="2.8" fill="#e080e0" filter="url(#b3)"/>
<circle cx="401.50" cy="226.50" r="1.736" fill="#fff" filter="url(#b1)"/>
<circle cx="401.50" cy="242.00" r="3.6" fill="#c8b0c0" filter="url(#b3)"/>
<circle cx="401.50" cy="242.00" r="3.0" fill="#f0a0f0" filter="url(#b3)"/>
<circle cx="401.50" cy="242.00" r="1.8599999999999999" fill="#ffe0ff" filter="url(#b1)"/>
<circle cx="403.00" cy="258.00" r="3.6" fill="#c8b0c0" filter="url(#b3)"/>
<circle cx="403.00" cy="258.00" r="3.0" fill="#f8d0f8" stroke="#222" stroke-width="0.7" filter="url(#b3)"/>
<circle cx="403.00" cy="258.00" r="2.7" fill="#fff" filter="url(#b1)"/>
<circle cx="258.00" cy="283.80" r="3.3" fill="#c4c4c4" filter="url(#b3)"/>
<circle cx="258.00" cy="283.80" r="2.4" fill="#e8e8e8" stroke="#888" stroke-width="0.8" filter="url(#b3)"/>
<circle cx="257.50" cy="299.80" r="2.9" fill="#c4c4c4" filter="url(#b3)"/>
<circle cx="257.50" cy="299.80" r="2.0" fill="#999" stroke="#222" stroke-width="0.8" filter="url(#b3)"/>
<circle cx="257.00" cy="315.30" r="3.5" fill="#c4c4c4" filter="url(#b3)"/>
<circle cx="257.00" cy="315.30" r="2.6" fill="#f4f4f4" stroke="#111" stroke-width="0.8" filter="url(#b3)"/>
<circle cx="305.50" cy="283.80" r="3.4000000000000004" fill="#7a2aa8" filter="url(#b2)" opacity="0.35"/>
<circle cx="305.50" cy="283.80" r="2.2" fill="#b44ae6" filter="url(#b1)" opacity="0.5"/>
<circle cx="305.00" cy="299.30" r="2.5" fill="#7a2aa8" filter="url(#b2)" opacity="0.35"/>
<circle cx="305.00" cy="299.30" r="1.3" fill="#b44ae6" filter="url(#b1)" opacity="0.5"/>
<circle cx="304.50" cy="315.30" r="3.2" fill="#7a2aa8" filter="url(#b2)" opacity="0.63"/>
<circle cx="304.50" cy="315.30" r="2.0" fill="#b44ae6" filter="url(#b1)" opacity="0.9"/>
<circle cx="353.50" cy="283.80" r="2.3" fill="#ff0000" filter="url(#b1)" opacity="0.75"/>
<circle cx="353.50" cy="299.30" r="2.2" fill="#ff0000" filter="url(#b1)" opacity="0.8"/>
<circle cx="353.00" cy="315.30" r="2.4" fill="#ff0000" filter="url(#b1)" opacity="0.75"/>
<path d="M352.0 282.3 q1.5 1.2 1 3 M352.0 314.8 q2 -1.5 3 0.5" stroke="#500" stroke-width="0.6" fill="none"/>
<circle cx="401.50" cy="283.80" r="3.4" fill="#c8b0c0" filter="url(#b3)"/>
<circle cx="401.50" cy="283.80" r="2.8" fill="#ff7090" filter="url(#b3)"/>
<circle cx="401.50" cy="283.80" r="1.736" fill="#fff" filter="url(#b1)"/>
<circle cx="401.50" cy="299.80" r="3.4" fill="#c8b0c0" filter="url(#b3)"/>
<circle cx="401.50" cy="299.80" r="2.8" fill="#f06070" stroke="#a66" stroke-width="0.7" filter="url(#b3)"/>
<circle cx="401.50" cy="299.80" r="1.736" fill="#ff9090" filter="url(#b1)"/>
<circle cx="401.00" cy="315.30" r="3.6" fill="#c8b0c0" filter="url(#b3)"/>
<circle cx="401.00" cy="315.30" r="3.0" fill="#f060c0" stroke="#333" stroke-width="0.7" filter="url(#b3)"/>
<circle cx="401.00" cy="315.30" r="2.565" fill="#fff" filter="url(#b1)"/>
<circle cx="259.00" cy="341.40" r="5.7" fill="#c4c4c4" filter="url(#b3)"/>
<circle cx="259.00" cy="341.40" r="4.8" fill="#b8b8b8" stroke="#444" stroke-width="0.8" filter="url(#b3)"/>
<circle cx="259.80" cy="341.40" r="1.4" fill="#fff"/>
<circle cx="259.00" cy="356.40" r="5.5" fill="#c4c4c4" filter="url(#b3)"/>
<circle cx="259.00" cy="356.40" r="4.6" fill="#a8a8a8" stroke="#888" stroke-width="0.8" filter="url(#b3)"/>
<circle cx="259.50" cy="372.40" r="5.9" fill="#c4c4c4" filter="url(#b3)"/>
<circle cx="259.50" cy="372.40" r="5.0" fill="#a0a0a0" stroke="#444" stroke-width="0.8" filter="url(#b3)"/>
<circle cx="307.50" cy="341.40" r="5.4" fill="#7a2aa8" filter="url(#b2)" opacity="0.5249999999999999"/>
<circle cx="307.50" cy="341.40" r="4.2" fill="#b060e0" filter="url(#b1)" opacity="0.75"/>
<circle cx="306.00" cy="354.90" r="4.2" fill="#7a2aa8" filter="url(#b2)" opacity="0.7"/>
<circle cx="306.00" cy="354.90" r="3.0" fill="#c040f0" filter="url(#b1)" opacity="1.0"/>
<circle cx="306.50" cy="371.40" r="5.4" fill="#7a2aa8" filter="url(#b2)" opacity="0.7"/>
<circle cx="306.50" cy="371.40" r="4.2" fill="#b44ae6" filter="url(#b1)" opacity="1.0"/>
<circle cx="354.50" cy="341.90" r="7.0" fill="#c00000" filter="url(#b1)" opacity="0.8"/>
<circle cx="354.50" cy="341.90" r="6.2" fill="#ff0000" filter="url(#b1)" opacity="1.0"/>
<circle cx="353.50" cy="356.40" r="6.0" fill="#c00000" filter="url(#b1)" opacity="0.8"/>
<circle cx="353.50" cy="356.40" r="5.2" fill="#e80000" filter="url(#b1)" opacity="0.95"/>
<circle cx="354.50" cy="371.90" r="6.3999999999999995" fill="#c00000" filter="url(#b1)" opacity="0.8"/>
<circle cx="354.50" cy="371.90" r="5.6" fill="#ff0000" filter="url(#b1)" opacity="1.0"/>
<circle cx="402.50" cy="341.40" r="5.8" fill="#c8b0c0" filter="url(#b3)"/>
<circle cx="402.50" cy="341.40" r="5.2" fill="#ff70a0" filter="url(#b3)"/>
<circle cx="402.50" cy="341.40" r="2.43" fill="#fff" filter="url(#b1)"/>
<circle cx="402.00" cy="356.40" r="5.6" fill="#c8b0c0" filter="url(#b3)"/>
<circle cx="402.00" cy="356.40" r="5.0" fill="#ff8088" filter="url(#b3)"/>
<circle cx="402.00" cy="356.40" r="2.7" fill="#ffd0d8" filter="url(#b1)"/>
<circle cx="402.50" cy="372.40" r="6.199999999999999" fill="#c8b0c0" filter="url(#b3)"/>
<circle cx="402.50" cy="372.40" r="5.6" fill="#ff90e0" filter="url(#b3)"/>
<circle cx="402.50" cy="372.40" r="3.78" fill="#fff" filter="url(#b1)"/>
<circle cx="257.50" cy="396.30" r="5.7" fill="#c4c4c4" filter="url(#b3)"/>
<circle cx="257.50" cy="396.30" r="4.8" fill="#a8a8a8" stroke="#333" stroke-width="0.8" filter="url(#b3)"/>
<circle cx="257.50" cy="395.30" r="1.3" fill="#fff"/>
<circle cx="258.50" cy="413.30" r="4.9" fill="#c4c4c4" filter="url(#b3)"/>
<circle cx="258.50" cy="413.30" r="4.0" fill="#b8b8b8" stroke="#555" stroke-width="0.8" filter="url(#b3)"/>
<circle cx="258.50" cy="413.30" r="1.2" fill="#fff"/>
<circle cx="259.00" cy="430.30" r="5.5" fill="#c4c4c4" filter="url(#b3)"/>
<circle cx="259.00" cy="430.30" r="4.6" fill="#c8c8c8" stroke="#444" stroke-width="0.8" filter="url(#b3)"/>
<circle cx="306.50" cy="397.30" r="5.2" fill="#7a2aa8" filter="url(#b2)" opacity="0.595"/>
<circle cx="306.50" cy="397.30" r="4.0" fill="#b44ae6" filter="url(#b1)" opacity="0.85"/>
<circle cx="306.00" cy="414.30" r="4.6" fill="#7a2aa8" filter="url(#b2)" opacity="0.7"/>
<circle cx="306.00" cy="414.30" r="3.4" fill="#b44ae6" filter="url(#b1)" opacity="1.0"/>
<circle cx="307.50" cy="430.30" r="5.2" fill="#7a2aa8" filter="url(#b2)" opacity="0.6649999999999999"/>
<circle cx="307.50" cy="430.30" r="4.0" fill="#b44ae6" filter="url(#b1)" opacity="0.95"/>
<circle cx="353.50" cy="399.30" r="1.6" fill="#ff0000" filter="url(#b1)" opacity="0.3"/>
<circle cx="353.50" cy="413.80" r="3.2" fill="#ff0000" filter="url(#b1)" opacity="0.45"/>
<circle cx="353.50" cy="430.30" r="3.6" fill="#ff0000" filter="url(#b1)" opacity="0.6"/>
<circle cx="401.50" cy="396.30" r="5.3999999999999995" fill="#c8b0c0" filter="url(#b3)"/>
<circle cx="401.50" cy="396.30" r="4.8" fill="#d8a8d8" stroke="#7a3a8a" stroke-width="0.7" filter="url(#b3)"/>
<circle cx="401.50" cy="396.30" r="3.5100000000000002" fill="#f0d8f0" filter="url(#b1)"/>
<circle cx="402.00" cy="413.80" r="4.8" fill="#c8b0c0" filter="url(#b3)"/>
<circle cx="402.00" cy="413.80" r="4.2" fill="#f070c0" stroke="#888" stroke-width="0.7" filter="url(#b3)"/>
<circle cx="402.00" cy="413.80" r="2.7" fill="#fff" filter="url(#b1)"/>
<circle cx="402.00" cy="430.30" r="5.0" fill="#c8b0c0" filter="url(#b3)"/>
<circle cx="402.00" cy="430.30" r="4.4" fill="#f060c0" filter="url(#b3)"/>
<circle cx="402.00" cy="430.30" r="2.9700000000000006" fill="#fff" filter="url(#b1)"/>
<rect x="237.80" y="218.00" width="184.90" height="48.20" fill="none" stroke="#2c2c2c" stroke-width="0.9"/>
<rect x="237.80" y="274.80" width="184.90" height="47.60" fill="none" stroke="#2c2c2c" stroke-width="0.9"/>
<rect x="237.80" y="331.40" width="184.90" height="48.00" fill="none" stroke="#2c2c2c" stroke-width="0.9"/>
<rect x="237.80" y="389.30" width="184.90" height="47.20" fill="none" stroke="#2c2c2c" stroke-width="0.9"/>
<text x="258.6" y="310" font-size="8.7" fill="#fff" stroke="#fff" stroke-width="0.22">10 µm</text>
<rect x="269.00" y="315.30" width="7.30" height="1.40" fill="#fff"/>
<text x="427" y="177" font-size="11" font-weight="bold" fill="#000" stroke="#000" stroke-width="0.22">h</text>
<circle cx="443.40" cy="193.80" r="2.25" fill="#b00000"/>
<text x="447.9" y="196.9" font-size="8.7" fill="#000" stroke="#000" stroke-width="0.22">Small</text>
<circle cx="486.70" cy="193.80" r="2.25" fill="#0e5868"/>
<text x="491.2" y="196.9" font-size="8.7" fill="#000" stroke="#000" stroke-width="0.22">Small + Jas</text>
<rect x="441.70" y="204.70" width="3.40" height="3.40" fill="#00008f"/>
<text x="447.9" y="209.5" font-size="8.7" fill="#000" stroke="#000" stroke-width="0.22">Large</text>
<rect x="485.00" y="204.70" width="3.40" height="3.40" fill="#6a0a66"/>
<text x="491.2" y="209.5" font-size="8.7" fill="#000" stroke="#000" stroke-width="0.22">Large + Lat A</text>
<text x="435.5" y="261.6" font-size="8.7" text-anchor="middle" transform="rotate(-90 435.5 261.6)" fill="#000" stroke="#000" stroke-width="0.22">Normalized Intensity</text>
<text x="445.3" y="261.6" font-size="8.7" text-anchor="middle" transform="rotate(-90 445.3 261.6)" fill="#000" stroke="#000" stroke-width="0.22">of  F-actin</text>
<rect x="467.40" y="276.92" width="15.00" height="15.38" fill="#b00000"/>
<rect x="489.00" y="268.46" width="15.00" height="23.84" fill="#0e5868"/>
<rect x="510.60" y="254.62" width="15.00" height="37.68" fill="#00008f"/>
<rect x="532.20" y="288.15" width="15.00" height="4.15" fill="#6a0a66"/>
<line x1="496.50" y1="264.62" x2="496.50" y2="269.23" stroke="#0e5868" stroke-width="1" shape-rendering="crispEdges"/>
<line x1="493.50" y1="264.62" x2="499.50" y2="264.62" stroke="#0e5868" stroke-width="1" shape-rendering="crispEdges"/>
<line x1="518.10" y1="245.39" x2="518.10" y2="255.39" stroke="#00008f" stroke-width="1" shape-rendering="crispEdges"/>
<line x1="515.10" y1="245.39" x2="521.10" y2="245.39" stroke="#00008f" stroke-width="1" shape-rendering="crispEdges"/>
<line x1="539.70" y1="286.46" x2="539.70" y2="288.45" stroke="#6a0a66" stroke-width="1" shape-rendering="crispEdges"/>
<line x1="537.20" y1="286.46" x2="542.20" y2="286.46" stroke="#6a0a66" stroke-width="1" shape-rendering="crispEdges"/>
<circle cx="469.40" cy="276.92" r="1.6" fill="#fff" stroke="#b00000" stroke-width="0.9"/>
<circle cx="472.10" cy="276.92" r="1.6" fill="#fff" stroke="#b00000" stroke-width="0.9"/>
<circle cx="474.90" cy="276.92" r="1.6" fill="#fff" stroke="#b00000" stroke-width="0.9"/>
<circle cx="477.70" cy="276.92" r="1.6" fill="#fff" stroke="#b00000" stroke-width="0.9"/>
<circle cx="480.40" cy="276.92" r="1.6" fill="#fff" stroke="#b00000" stroke-width="0.9"/>
<circle cx="491.00" cy="270.46" r="1.6" fill="#fff" stroke="#0e5868" stroke-width="0.9"/>
<circle cx="494.00" cy="267.69" r="1.6" fill="#fff" stroke="#0e5868" stroke-width="0.9"/>
<circle cx="498.00" cy="270.00" r="1.6" fill="#fff" stroke="#0e5868" stroke-width="0.9"/>
<circle cx="500.50" cy="263.08" r="1.6" fill="#fff" stroke="#0e5868" stroke-width="0.9"/>
<circle cx="501.50" cy="270.00" r="1.6" fill="#fff" stroke="#0e5868" stroke-width="0.9"/>
<rect x="511.50" y="246.41" width="3.20" height="3.20" fill="#fff" stroke="#00008f" stroke-width="0.9"/>
<rect x="516.50" y="245.33" width="3.20" height="3.20" fill="#fff" stroke="#00008f" stroke-width="0.9"/>
<rect x="522.00" y="247.64" width="3.20" height="3.20" fill="#fff" stroke="#00008f" stroke-width="0.9"/>
<rect x="516.50" y="258.40" width="3.20" height="3.20" fill="#fff" stroke="#00008f" stroke-width="0.9"/>
<rect x="516.50" y="266.86" width="3.20" height="3.20" fill="#fff" stroke="#00008f" stroke-width="0.9"/>
<rect x="532.70" y="286.95" width="3.00" height="3.00" fill="#fff" stroke="#6a0a66" stroke-width="0.9"/>
<rect x="535.70" y="285.42" width="3.00" height="3.00" fill="#fff" stroke="#6a0a66" stroke-width="0.9"/>
<rect x="538.70" y="286.49" width="3.00" height="3.00" fill="#fff" stroke="#6a0a66" stroke-width="0.9"/>
<rect x="541.70" y="285.26" width="3.00" height="3.00" fill="#fff" stroke="#6a0a66" stroke-width="0.9"/>
<rect x="544.20" y="287.42" width="3.00" height="3.00" fill="#fff" stroke="#6a0a66" stroke-width="0.9"/>
<line x1="461.20" y1="230.38" x2="461.20" y2="292.70" stroke="#000" stroke-width="1" shape-rendering="crispEdges"/>
<line x1="457.60" y1="230.78" x2="461.20" y2="230.78" stroke="#000" stroke-width="1" shape-rendering="crispEdges"/>
<text x="453.6" y="233.91" font-size="8.7" text-anchor="end" fill="#000" stroke="#000" stroke-width="0.22">4</text>
<line x1="457.60" y1="246.16" x2="461.20" y2="246.16" stroke="#000" stroke-width="1" shape-rendering="crispEdges"/>
<text x="453.6" y="249.29" font-size="8.7" text-anchor="end" fill="#000" stroke="#000" stroke-width="0.22">3</text>
<line x1="457.60" y1="261.54" x2="461.20" y2="261.54" stroke="#000" stroke-width="1" shape-rendering="crispEdges"/>
<text x="453.6" y="264.67" font-size="8.7" text-anchor="end" fill="#000" stroke="#000" stroke-width="0.22">2</text>
<line x1="457.60" y1="276.92" x2="461.20" y2="276.92" stroke="#000" stroke-width="1" shape-rendering="crispEdges"/>
<text x="453.6" y="280.05" font-size="8.7" text-anchor="end" fill="#000" stroke="#000" stroke-width="0.22">1</text>
<line x1="457.60" y1="292.30" x2="461.20" y2="292.30" stroke="#000" stroke-width="1" shape-rendering="crispEdges"/>
<text x="453.6" y="295.43" font-size="8.7" text-anchor="end" fill="#000" stroke="#000" stroke-width="0.22">0</text>
<line x1="461.20" y1="292.30" x2="553.50" y2="292.30" stroke="#000" stroke-width="1" shape-rendering="crispEdges"/>
<line x1="474.90" y1="292.30" x2="474.90" y2="295.30" stroke="#000" stroke-width="1" shape-rendering="crispEdges"/>
<line x1="496.50" y1="292.30" x2="496.50" y2="295.30" stroke="#000" stroke-width="1" shape-rendering="crispEdges"/>
<line x1="518.10" y1="292.30" x2="518.10" y2="295.30" stroke="#000" stroke-width="1" shape-rendering="crispEdges"/>
<line x1="539.70" y1="292.30" x2="539.70" y2="295.30" stroke="#000" stroke-width="1" shape-rendering="crispEdges"/>
<text x="509.6" y="228.9" font-size="8.7" fill="#000" stroke="#000" stroke-width="0.22"><tspan font-style="italic">P</tspan> = 0.0035</text>
<line x1="522.00" y1="232.20" x2="543.00" y2="232.20" stroke="#000" stroke-width="1" shape-rendering="crispEdges"/>
<text x="475.3" y="240" font-size="8.7" fill="#000" stroke="#000" stroke-width="0.22"><tspan font-style="italic">P</tspan> = 0.0213</text>
<line x1="475.30" y1="243.20" x2="517.50" y2="243.20" stroke="#000" stroke-width="1" shape-rendering="crispEdges"/>
<text x="463" y="255.6" font-size="8.7" fill="#000" stroke="#000" stroke-width="0.22"><tspan font-style="italic">P</tspan> = 0.0190</text>
<line x1="475.30" y1="258.80" x2="496.60" y2="258.80" stroke="#000" stroke-width="1" shape-rendering="crispEdges"/>
<text x="430.5" y="320" font-size="11" font-weight="bold" fill="#000" stroke="#000" stroke-width="0.22">i</text>
<circle cx="443.40" cy="330.40" r="2.25" fill="#b00000"/>
<text x="447.9" y="333.5" font-size="8.7" fill="#000" stroke="#000" stroke-width="0.22">Small</text>
<circle cx="486.70" cy="330.40" r="2.25" fill="#0e5868"/>
<text x="491.2" y="333.5" font-size="8.7" fill="#000" stroke="#000" stroke-width="0.22">Small + Jas</text>
<rect x="441.70" y="341.10" width="3.40" height="3.40" fill="#00008f"/>
<text x="447.9" y="345.9" font-size="8.7" fill="#000" stroke="#000" stroke-width="0.22">Large</text>
<rect x="485.00" y="341.10" width="3.40" height="3.40" fill="#6a0a66"/>
<text x="491.2" y="345.9" font-size="8.7" fill="#000" stroke="#000" stroke-width="0.22">Large + Lat A</text>
<text x="439.3" y="406.4" font-size="8.3" text-anchor="middle" transform="rotate(-90 439.3 406.4)" fill="#000" stroke="#000" stroke-width="0.22">Stiffness (kPa)</text>
<rect x="468.00" y="421.02" width="15.00" height="15.38" fill="#b00000"/>
<line x1="475.50" y1="417.33" x2="475.50" y2="421.02" stroke="#b00000" stroke-width="1" shape-rendering="crispEdges"/>
<line x1="473.00" y1="417.33" x2="478.00" y2="417.33" stroke="#b00000" stroke-width="1" shape-rendering="crispEdges"/>
<rect x="489.70" y="405.65" width="15.00" height="30.75" fill="#0e5868"/>
<line x1="497.20" y1="401.04" x2="497.20" y2="405.65" stroke="#0e5868" stroke-width="1" shape-rendering="crispEdges"/>
<line x1="494.70" y1="401.04" x2="499.70" y2="401.04" stroke="#0e5868" stroke-width="1" shape-rendering="crispEdges"/>
<rect x="511.30" y="406.57" width="15.00" height="29.83" fill="#00008f"/>
<line x1="518.80" y1="401.96" x2="518.80" y2="406.57" stroke="#00008f" stroke-width="1" shape-rendering="crispEdges"/>
<line x1="516.30" y1="401.96" x2="521.30" y2="401.96" stroke="#00008f" stroke-width="1" shape-rendering="crispEdges"/>
<rect x="532.50" y="414.26" width="15.00" height="22.14" fill="#6a0a66"/>
<line x1="540.00" y1="410.57" x2="540.00" y2="414.26" stroke="#6a0a66" stroke-width="1" shape-rendering="crispEdges"/>
<line x1="537.50" y1="410.57" x2="542.50" y2="410.57" stroke="#6a0a66" stroke-width="1" shape-rendering="crispEdges"/>
<circle cx="472.75" cy="413.16" r="1.5" fill="#fff" stroke="#b00000" stroke-width="0.8"/>
<circle cx="471.05" cy="418.57" r="1.5" fill="#fff" stroke="#b00000" stroke-width="0.8"/>
<circle cx="479.33" cy="428.78" r="1.5" fill="#fff" stroke="#b00000" stroke-width="0.8"/>
<circle cx="472.60" cy="415.96" r="1.5" fill="#fff" stroke="#b00000" stroke-width="0.8"/>
<circle cx="476.35" cy="414.70" r="1.5" fill="#fff" stroke="#b00000" stroke-width="0.8"/>
<circle cx="477.91" cy="412.62" r="1.5" fill="#fff" stroke="#b00000" stroke-width="0.8"/>
<circle cx="477.76" cy="419.16" r="1.5" fill="#fff" stroke="#b00000" stroke-width="0.8"/>
<circle cx="474.60" cy="419.62" r="1.5" fill="#fff" stroke="#b00000" stroke-width="0.8"/>
<circle cx="477.11" cy="411.80" r="1.5" fill="#fff" stroke="#b00000" stroke-width="0.8"/>
<circle cx="479.12" cy="415.94" r="1.5" fill="#fff" stroke="#b00000" stroke-width="0.8"/>
<circle cx="470.30" cy="413.08" r="1.5" fill="#fff" stroke="#b00000" stroke-width="0.8"/>
<circle cx="479.85" cy="416.15" r="1.5" fill="#fff" stroke="#b00000" stroke-width="0.8"/>
<circle cx="476.14" cy="424.16" r="1.5" fill="#fff" stroke="#b00000" stroke-width="0.8"/>
<circle cx="480.62" cy="419.29" r="1.5" fill="#fff" stroke="#b00000" stroke-width="0.8"/>
<circle cx="475.82" cy="420.66" r="1.5" fill="#fff" stroke="#b00000" stroke-width="0.8"/>
<circle cx="472.36" cy="418.16" r="1.5" fill="#fff" stroke="#b00000" stroke-width="0.8"/>
<circle cx="470.10" cy="418.44" r="1.5" fill="#fff" stroke="#b00000" stroke-width="0.8"/>
<circle cx="471.92" cy="418.79" r="1.5" fill="#fff" stroke="#b00000" stroke-width="0.8"/>
<circle cx="478.61" cy="421.80" r="1.5" fill="#fff" stroke="#b00000" stroke-width="0.8"/>
<circle cx="472.98" cy="417.01" r="1.5" fill="#fff" stroke="#b00000" stroke-width="0.8"/>
<circle cx="473.66" cy="423.10" r="1.5" fill="#fff" stroke="#b00000" stroke-width="0.8"/>
<circle cx="469.72" cy="420.41" r="1.5" fill="#fff" stroke="#b00000" stroke-width="0.8"/>
<circle cx="478.30" cy="420.41" r="1.5" fill="#fff" stroke="#b00000" stroke-width="0.8"/>
<circle cx="476.11" cy="419.65" r="1.5" fill="#fff" stroke="#b00000" stroke-width="0.8"/>
<circle cx="480.72" cy="418.60" r="1.5" fill="#fff" stroke="#b00000" stroke-width="0.8"/>
<circle cx="470.78" cy="415.87" r="1.5" fill="#fff" stroke="#b00000" stroke-width="0.8"/>
<circle cx="497.14" cy="403.11" r="1.5" fill="#fff" stroke="#0e5868" stroke-width="0.8"/>
<circle cx="501.22" cy="409.19" r="1.5" fill="#fff" stroke="#0e5868" stroke-width="0.8"/>
<circle cx="499.45" cy="409.04" r="1.5" fill="#fff" stroke="#0e5868" stroke-width="0.8"/>
<circle cx="502.99" cy="401.85" r="1.5" fill="#fff" stroke="#0e5868" stroke-width="0.8"/>
<circle cx="499.68" cy="409.51" r="1.5" fill="#fff" stroke="#0e5868" stroke-width="0.8"/>
<circle cx="498.83" cy="398.24" r="1.5" fill="#fff" stroke="#0e5868" stroke-width="0.8"/>
<circle cx="491.85" cy="408.32" r="1.5" fill="#fff" stroke="#0e5868" stroke-width="0.8"/>
<circle cx="492.76" cy="402.79" r="1.5" fill="#fff" stroke="#0e5868" stroke-width="0.8"/>
<circle cx="494.27" cy="398.65" r="1.5" fill="#fff" stroke="#0e5868" stroke-width="0.8"/>
<circle cx="493.16" cy="401.99" r="1.5" fill="#fff" stroke="#0e5868" stroke-width="0.8"/>
<circle cx="501.65" cy="397.91" r="1.5" fill="#fff" stroke="#0e5868" stroke-width="0.8"/>
<circle cx="499.25" cy="400.85" r="1.5" fill="#fff" stroke="#0e5868" stroke-width="0.8"/>
<circle cx="494.72" cy="405.67" r="1.5" fill="#fff" stroke="#0e5868" stroke-width="0.8"/>
<circle cx="496.71" cy="401.89" r="1.5" fill="#fff" stroke="#0e5868" stroke-width="0.8"/>
<circle cx="494.36" cy="402.47" r="1.5" fill="#fff" stroke="#0e5868" stroke-width="0.8"/>
<circle cx="502.74" cy="401.12" r="1.5" fill="#fff" stroke="#0e5868" stroke-width="0.8"/>
<circle cx="494.13" cy="399.70" r="1.5" fill="#fff" stroke="#0e5868" stroke-width="0.8"/>
<circle cx="502.79" cy="405.96" r="1.5" fill="#fff" stroke="#0e5868" stroke-width="0.8"/>
<circle cx="491.21" cy="406.51" r="1.5" fill="#fff" stroke="#0e5868" stroke-width="0.8"/>
<circle cx="495.78" cy="401.27" r="1.5" fill="#fff" stroke="#0e5868" stroke-width="0.8"/>
<circle cx="493.61" cy="410.06" r="1.5" fill="#fff" stroke="#0e5868" stroke-width="0.8"/>
<circle cx="497.26" cy="404.23" r="1.5" fill="#fff" stroke="#0e5868" stroke-width="0.8"/>
<circle cx="492.28" cy="401.66" r="1.5" fill="#fff" stroke="#0e5868" stroke-width="0.8"/>
<circle cx="495.99" cy="404.93" r="1.5" fill="#fff" stroke="#0e5868" stroke-width="0.8"/>
<circle cx="494.85" cy="404.15" r="1.5" fill="#fff" stroke="#0e5868" stroke-width="0.8"/>
<circle cx="493.99" cy="404.80" r="1.5" fill="#fff" stroke="#0e5868" stroke-width="0.8"/>
<rect x="520.31" y="409.00" width="3.00" height="3.00" fill="#fff" stroke="#00008f" stroke-width="0.8"/>
<rect x="519.19" y="407.16" width="3.00" height="3.00" fill="#fff" stroke="#00008f" stroke-width="0.8"/>
<rect x="515.97" y="406.33" width="3.00" height="3.00" fill="#fff" stroke="#00008f" stroke-width="0.8"/>
<rect x="515.21" y="413.11" width="3.00" height="3.00" fill="#fff" stroke="#00008f" stroke-width="0.8"/>
<rect x="519.99" y="402.02" width="3.00" height="3.00" fill="#fff" stroke="#00008f" stroke-width="0.8"/>
<rect x="519.02" y="404.69" width="3.00" height="3.00" fill="#fff" stroke="#00008f" stroke-width="0.8"/>
<rect x="522.00" y="396.59" width="3.00" height="3.00" fill="#fff" stroke="#00008f" stroke-width="0.8"/>
<rect x="518.83" y="402.24" width="3.00" height="3.00" fill="#fff" stroke="#00008f" stroke-width="0.8"/>
<rect x="512.97" y="405.25" width="3.00" height="3.00" fill="#fff" stroke="#00008f" stroke-width="0.8"/>
<rect x="517.59" y="412.29" width="3.00" height="3.00" fill="#fff" stroke="#00008f" stroke-width="0.8"/>
<rect x="520.96" y="412.63" width="3.00" height="3.00" fill="#fff" stroke="#00008f" stroke-width="0.8"/>
<rect x="521.22" y="404.68" width="3.00" height="3.00" fill="#fff" stroke="#00008f" stroke-width="0.8"/>
<rect x="519.49" y="412.32" width="3.00" height="3.00" fill="#fff" stroke="#00008f" stroke-width="0.8"/>
<rect x="519.62" y="409.04" width="3.00" height="3.00" fill="#fff" stroke="#00008f" stroke-width="0.8"/>
<rect x="512.90" y="404.32" width="3.00" height="3.00" fill="#fff" stroke="#00008f" stroke-width="0.8"/>
<rect x="515.63" y="403.38" width="3.00" height="3.00" fill="#fff" stroke="#00008f" stroke-width="0.8"/>
<rect x="518.00" y="397.99" width="3.00" height="3.00" fill="#fff" stroke="#00008f" stroke-width="0.8"/>
<rect x="518.83" y="399.45" width="3.00" height="3.00" fill="#fff" stroke="#00008f" stroke-width="0.8"/>
<rect x="517.17" y="409.02" width="3.00" height="3.00" fill="#fff" stroke="#00008f" stroke-width="0.8"/>
<rect x="511.34" y="409.09" width="3.00" height="3.00" fill="#fff" stroke="#00008f" stroke-width="0.8"/>
<rect x="517.34" y="402.35" width="3.00" height="3.00" fill="#fff" stroke="#00008f" stroke-width="0.8"/>
<rect x="517.72" y="411.29" width="3.00" height="3.00" fill="#fff" stroke="#00008f" stroke-width="0.8"/>
<rect x="520.14" y="405.32" width="3.00" height="3.00" fill="#fff" stroke="#00008f" stroke-width="0.8"/>
<rect x="514.33" y="405.80" width="3.00" height="3.00" fill="#fff" stroke="#00008f" stroke-width="0.8"/>
<rect x="520.05" y="401.44" width="3.00" height="3.00" fill="#fff" stroke="#00008f" stroke-width="0.8"/>
<rect x="513.76" y="402.93" width="3.00" height="3.00" fill="#fff" stroke="#00008f" stroke-width="0.8"/>
<rect x="538.43" y="412.89" width="3.00" height="3.00" fill="#fff" stroke="#6a0a66" stroke-width="0.8"/>
<rect x="537.09" y="421.37" width="3.00" height="3.00" fill="#fff" stroke="#6a0a66" stroke-width="0.8"/>
<rect x="541.70" y="418.62" width="3.00" height="3.00" fill="#fff" stroke="#6a0a66" stroke-width="0.8"/>
<rect x="539.90" y="411.29" width="3.00" height="3.00" fill="#fff" stroke="#6a0a66" stroke-width="0.8"/>
<rect x="534.27" y="413.22" width="3.00" height="3.00" fill="#fff" stroke="#6a0a66" stroke-width="0.8"/>
<rect x="535.55" y="413.50" width="3.00" height="3.00" fill="#fff" stroke="#6a0a66" stroke-width="0.8"/>
<rect x="539.31" y="412.30" width="3.00" height="3.00" fill="#fff" stroke="#6a0a66" stroke-width="0.8"/>
<rect x="532.65" y="415.81" width="3.00" height="3.00" fill="#fff" stroke="#6a0a66" stroke-width="0.8"/>
<rect x="540.56" y="408.98" width="3.00" height="3.00" fill="#fff" stroke="#6a0a66" stroke-width="0.8"/>
<rect x="540.81" y="410.88" width="3.00" height="3.00" fill="#fff" stroke="#6a0a66" stroke-width="0.8"/>
<rect x="538.70" y="413.75" width="3.00" height="3.00" fill="#fff" stroke="#6a0a66" stroke-width="0.8"/>
<rect x="538.08" y="415.33" width="3.00" height="3.00" fill="#fff" stroke="#6a0a66" stroke-width="0.8"/>
<rect x="543.22" y="414.26" width="3.00" height="3.00" fill="#fff" stroke="#6a0a66" stroke-width="0.8"/>
<rect x="534.89" y="411.69" width="3.00" height="3.00" fill="#fff" stroke="#6a0a66" stroke-width="0.8"/>
<rect x="532.71" y="403.53" width="3.00" height="3.00" fill="#fff" stroke="#6a0a66" stroke-width="0.8"/>
<rect x="538.01" y="413.53" width="3.00" height="3.00" fill="#fff" stroke="#6a0a66" stroke-width="0.8"/>
<rect x="517.30" y="382.01" width="3.00" height="3.00" fill="#fff" stroke="#00008f" stroke-width="0.9"/>
<rect x="516.50" y="395.85" width="3.00" height="3.00" fill="#fff" stroke="#00008f" stroke-width="0.9"/>
<circle cx="497.00" cy="397.04" r="1.5" fill="#fff" stroke="#0e5868" stroke-width="0.9"/>
<line x1="461.50" y1="374.50" x2="461.50" y2="436.80" stroke="#000" stroke-width="1" shape-rendering="crispEdges"/>
<line x1="458.50" y1="374.90" x2="461.50" y2="374.90" stroke="#000" stroke-width="1" shape-rendering="crispEdges"/>
<text x="457.0" y="378.03" font-size="8.7" text-anchor="end" fill="#000" stroke="#000" stroke-width="0.22">2.0</text>
<line x1="458.50" y1="390.27" x2="461.50" y2="390.27" stroke="#000" stroke-width="1" shape-rendering="crispEdges"/>
<text x="457.0" y="393.41" font-size="8.7" text-anchor="end" fill="#000" stroke="#000" stroke-width="0.22">1.5</text>
<line x1="458.50" y1="405.65" x2="461.50" y2="405.65" stroke="#000" stroke-width="1" shape-rendering="crispEdges"/>
<text x="457.0" y="408.78" font-size="8.7" text-anchor="end" fill="#000" stroke="#000" stroke-width="0.22">1.0</text>
<line x1="458.50" y1="421.02" x2="461.50" y2="421.02" stroke="#000" stroke-width="1" shape-rendering="crispEdges"/>
<text x="457.0" y="424.16" font-size="8.7" text-anchor="end" fill="#000" stroke="#000" stroke-width="0.22">0.5</text>
<line x1="458.50" y1="436.40" x2="461.50" y2="436.40" stroke="#000" stroke-width="1" shape-rendering="crispEdges"/>
<text x="457.0" y="439.53" font-size="8.7" text-anchor="end" fill="#000" stroke="#000" stroke-width="0.22">0.0</text>
<line x1="461.50" y1="436.40" x2="555.00" y2="436.40" stroke="#000" stroke-width="1" shape-rendering="crispEdges"/>
<line x1="475.50" y1="436.40" x2="475.50" y2="439.40" stroke="#000" stroke-width="1" shape-rendering="crispEdges"/>
<line x1="497.20" y1="436.40" x2="497.20" y2="439.40" stroke="#000" stroke-width="1" shape-rendering="crispEdges"/>
<line x1="518.80" y1="436.40" x2="518.80" y2="439.40" stroke="#000" stroke-width="1" shape-rendering="crispEdges"/>
<line x1="540.00" y1="436.40" x2="540.00" y2="439.40" stroke="#000" stroke-width="1" shape-rendering="crispEdges"/>
<text x="504.9" y="363.9" font-size="8.7" fill="#000" stroke="#000" stroke-width="0.22"><tspan font-style="italic">P</tspan> = 1.72e-06</text>
<line x1="519.50" y1="366.80" x2="540.30" y2="366.80" stroke="#000" stroke-width="1" shape-rendering="crispEdges"/>
<text x="470" y="375.7" font-size="8.7" fill="#000" stroke="#000" stroke-width="0.22"><tspan font-style="italic">P</tspan> = 2.75e-09</text>
<line x1="475.00" y1="378.60" x2="519.50" y2="378.60" stroke="#000" stroke-width="1" shape-rendering="crispEdges"/>
<text x="464.3" y="389.9" font-size="8.7" fill="#000" stroke="#000" stroke-width="0.22"><tspan font-style="italic">P</tspan> = 1.09e-11</text>
<line x1="475.00" y1="394.60" x2="496.60" y2="394.60" stroke="#000" stroke-width="1" shape-rendering="crispEdges"/>
<text x="549.5" y="177" font-size="11" font-weight="bold" fill="#000" stroke="#000" stroke-width="0.22">j</text>
<circle cx="595.00" cy="215.00" r="2.25" fill="#b00000"/>
<text x="599.6" y="218.1" font-size="8.7" fill="#000" stroke="#000" stroke-width="0.22">Small</text>
<circle cx="595.00" cy="226.00" r="2.25" fill="#0e5868"/>
<text x="599.6" y="229.1" font-size="8.7" fill="#000" stroke="#000" stroke-width="0.22">Small + Jas</text>
<rect x="593.30" y="235.70" width="3.40" height="3.40" fill="#00008f"/>
<text x="599.6" y="240.5" font-size="8.7" fill="#000" stroke="#000" stroke-width="0.22">Large</text>
<rect x="593.30" y="246.80" width="3.40" height="3.40" fill="#6a0a66"/>
<text x="599.6" y="251.6" font-size="8.7" fill="#000" stroke="#000" stroke-width="0.22">Large + Lat A</text>
<text x="565.5" y="322.7" font-size="8.7" text-anchor="middle" transform="rotate(-90 565.5 322.7)" fill="#000" stroke="#000" stroke-width="0.22">Colonies</text>
<rect x="591.60" y="308.39" width="15.00" height="46.21" fill="#b00000"/>
<line x1="599.10" y1="299.14" x2="599.10" y2="308.39" stroke="#b00000" stroke-width="1" shape-rendering="crispEdges"/>
<line x1="596.30" y1="299.14" x2="601.90" y2="299.14" stroke="#b00000" stroke-width="1" shape-rendering="crispEdges"/>
<rect x="613.00" y="340.22" width="15.00" height="14.38" fill="#0e5868"/>
<line x1="620.50" y1="333.55" x2="620.50" y2="340.22" stroke="#0e5868" stroke-width="1" shape-rendering="crispEdges"/>
<line x1="617.70" y1="333.55" x2="623.30" y2="333.55" stroke="#0e5868" stroke-width="1" shape-rendering="crispEdges"/>
<rect x="634.50" y="341.25" width="15.00" height="13.35" fill="#00008f"/>
<line x1="642.00" y1="338.68" x2="642.00" y2="341.25" stroke="#00008f" stroke-width="1" shape-rendering="crispEdges"/>
<line x1="639.20" y1="338.68" x2="644.80" y2="338.68" stroke="#00008f" stroke-width="1" shape-rendering="crispEdges"/>
<rect x="655.60" y="319.68" width="15.00" height="34.92" fill="#6a0a66"/>
<line x1="663.10" y1="318.14" x2="663.10" y2="319.68" stroke="#6a0a66" stroke-width="1" shape-rendering="crispEdges"/>
<line x1="660.30" y1="318.14" x2="665.90" y2="318.14" stroke="#6a0a66" stroke-width="1" shape-rendering="crispEdges"/>
<circle cx="599.60" cy="299.14" r="1.6" fill="#fff" stroke="#b00000" stroke-width="0.9"/>
<circle cx="594.60" cy="314.55" r="1.6" fill="#fff" stroke="#b00000" stroke-width="0.9"/>
<circle cx="604.10" cy="311.98" r="1.6" fill="#fff" stroke="#b00000" stroke-width="0.9"/>
<circle cx="621.00" cy="335.60" r="1.6" fill="#fff" stroke="#0e5868" stroke-width="0.9"/>
<circle cx="626.00" cy="335.09" r="1.6" fill="#fff" stroke="#0e5868" stroke-width="0.9"/>
<circle cx="621.00" cy="347.41" r="1.6" fill="#fff" stroke="#0e5868" stroke-width="0.9"/>
<rect x="636.00" y="341.29" width="3.00" height="3.00" fill="#fff" stroke="#00008f" stroke-width="0.9"/>
<rect x="641.50" y="338.21" width="3.00" height="3.00" fill="#fff" stroke="#00008f" stroke-width="0.9"/>
<rect x="646.00" y="337.70" width="3.00" height="3.00" fill="#fff" stroke="#00008f" stroke-width="0.9"/>
<rect x="657.10" y="319.21" width="3.00" height="3.00" fill="#fff" stroke="#6a0a66" stroke-width="0.9"/>
<rect x="662.10" y="317.67" width="3.00" height="3.00" fill="#fff" stroke="#6a0a66" stroke-width="0.9"/>
<rect x="667.10" y="318.70" width="3.00" height="3.00" fill="#fff" stroke="#6a0a66" stroke-width="0.9"/>
<line x1="585.60" y1="292.58" x2="585.60" y2="355.00" stroke="#000" stroke-width="1" shape-rendering="crispEdges"/>
<line x1="582.60" y1="292.98" x2="585.60" y2="292.98" stroke="#000" stroke-width="1" shape-rendering="crispEdges"/>
<text x="581.1" y="296.11" font-size="8.7" text-anchor="end" fill="#000" stroke="#000" stroke-width="0.22">60</text>
<line x1="582.60" y1="313.52" x2="585.60" y2="313.52" stroke="#000" stroke-width="1" shape-rendering="crispEdges"/>
<text x="581.1" y="316.65" font-size="8.7" text-anchor="end" fill="#000" stroke="#000" stroke-width="0.22">40</text>
<line x1="582.60" y1="334.06" x2="585.60" y2="334.06" stroke="#000" stroke-width="1" shape-rendering="crispEdges"/>
<text x="581.1" y="337.19" font-size="8.7" text-anchor="end" fill="#000" stroke="#000" stroke-width="0.22">20</text>
<line x1="582.60" y1="354.60" x2="585.60" y2="354.60" stroke="#000" stroke-width="1" shape-rendering="crispEdges"/>
<text x="581.1" y="357.73" font-size="8.7" text-anchor="end" fill="#000" stroke="#000" stroke-width="0.22">0</text>
<line x1="585.60" y1="354.60" x2="677.50" y2="354.60" stroke="#000" stroke-width="1" shape-rendering="crispEdges"/>
<line x1="599.10" y1="354.60" x2="599.10" y2="357.60" stroke="#000" stroke-width="1" shape-rendering="crispEdges"/>
<line x1="620.50" y1="354.60" x2="620.50" y2="357.60" stroke="#000" stroke-width="1" shape-rendering="crispEdges"/>
<line x1="642.00" y1="354.60" x2="642.00" y2="357.60" stroke="#000" stroke-width="1" shape-rendering="crispEdges"/>
<line x1="663.10" y1="354.60" x2="663.10" y2="357.60" stroke="#000" stroke-width="1" shape-rendering="crispEdges"/>
<text x="598.3" y="280.5" font-size="8.7" fill="#000" stroke="#000" stroke-width="0.22"><tspan font-style="italic">P</tspan> = 0.0004</text>
<line x1="598.30" y1="283.30" x2="639.70" y2="283.30" stroke="#000" stroke-width="1" shape-rendering="crispEdges"/>
<text x="590.4" y="292" font-size="8.7" fill="#000" stroke="#000" stroke-width="0.22"><tspan font-style="italic">P</tspan> = 0.0006</text>
<line x1="600.00" y1="294.30" x2="620.00" y2="294.30" stroke="#000" stroke-width="1" shape-rendering="crispEdges"/>
<text x="631" y="312.4" font-size="8.7" fill="#000" stroke="#000" stroke-width="0.22"><tspan font-style="italic">P</tspan> = 0.0070</text>
<line x1="644.40" y1="315.20" x2="664.00" y2="315.20" stroke="#000" stroke-width="1" shape-rendering="crispEdges"/>
<text x="0.5" y="452" font-size="11" font-weight="bold" fill="#000" stroke="#000" stroke-width="0.22">k</text>
<path d="M28 458 C31 458 33 460.5 33 463.7 C33 466.5 31.5 468.6 30 469.4 L30 471.2 C32 473 37.5 473.2 39.5 475.2 C41.5 477.5 41.5 482 42.3 488 C43 494 45 500 45.3 505 C46.8 506 46.2 508.6 45 509.2 C43.6 509.8 43 508 43 506.2 C41.5 501 39 492 37.3 484.5 C37 490 36.8 496 36.6 500.5 C36.6 508 35.2 516 34.4 523 C33.8 529 33.6 534 33.9 536.6 C35.5 538.4 36 539.8 34.6 540.2 L30.3 540.2 C29.8 536 30 528 29.6 521 C29.2 514 28.6 509 28 505.5 C27.4 509 26.8 514 26.4 521 C26 528 26.2 536 25.7 540.2 L21.4 540.2 C20 539.8 20.5 538.4 22.1 536.6 C22.4 534 22.2 529 21.6 523 C20.8 516 19.4 508 19.4 500.5 C19.2 496 19 490 18.7 484.5 C17 492 14.5 501 13 506.2 C13 508 12.4 509.8 11 509.2 C9.8 508.6 9.2 506 10.7 505 C11 500 13 494 13.7 488 C14.5 482 14.5 477.5 16.5 475.2 C18.5 473.2 24 473 26 471.2 L26 469.4 C24.5 468.6 23 466.5 23 463.7 C23 460.5 25 458 28 458 Z" fill="#fff" stroke="#000" stroke-width="1.0" stroke-linejoin="round"/>
<path d="M31.3 502.5 L32.5 515.5" stroke="#e8806a" stroke-width="2.2" stroke-linecap="round"/><path d="M31.4 503.5 L32.4 514.5" stroke="#fff" stroke-width="0.8" stroke-linecap="round"/><circle cx="31.1" cy="501.8" r="1.4" fill="#fff" stroke="#e8806a" stroke-width="0.5"/>
<text x="7" y="553.8" font-size="8.7" fill="#000" stroke="#000" stroke-width="0.22">AML patient</text>
<text x="74.5" y="508.1" font-size="8.7" text-anchor="middle" fill="#000" stroke="#000" stroke-width="0.22">AML BM Lin<tspan font-size="5.22" dy="-3.0449999999999995">-</tspan></text>
<path d="M49.40 511.50 L98.40 511.50" stroke="#000" stroke-width="1" fill="none"/>
<path d="M102.00 511.50 L98.40 513.20 L98.40 509.80 Z" fill="#000"/>
<text x="50.3" y="521.1" font-size="8.7" fill="#000" stroke="#000" stroke-width="0.22">FACS sorting</text>
<text x="106.5" y="484.4" font-size="8.7" text-anchor="middle" fill="#000" stroke="#000" stroke-width="0.22">Small</text>
<circle cx="103.80" cy="491.20" r="1.3" fill="#e04040" stroke="#801818" stroke-width="0.35"/>
<circle cx="105.80" cy="492.80" r="1.3" fill="#e04040" stroke="#801818" stroke-width="0.35"/>
<circle cx="107.80" cy="491.40" r="1.3" fill="#e04040" stroke="#801818" stroke-width="0.35"/>
<circle cx="109.30" cy="492.90" r="1.3" fill="#e04040" stroke="#801818" stroke-width="0.35"/>
<circle cx="104.80" cy="493.20" r="1.3" fill="#e04040" stroke="#801818" stroke-width="0.35"/>
<circle cx="106.80" cy="490.70" r="1.3" fill="#e04040" stroke="#801818" stroke-width="0.35"/>
<circle cx="100.50" cy="531.20" r="1.9" fill="#3a46c0" stroke="#14145a" stroke-width="0.45"/>
<circle cx="104.00" cy="530.20" r="1.9" fill="#3a46c0" stroke="#14145a" stroke-width="0.45"/>
<circle cx="107.50" cy="530.70" r="1.9" fill="#3a46c0" stroke="#14145a" stroke-width="0.45"/>
<circle cx="111.00" cy="530.40" r="1.9" fill="#3a46c0" stroke="#14145a" stroke-width="0.45"/>
<circle cx="102.00" cy="533.70" r="1.9" fill="#3a46c0" stroke="#14145a" stroke-width="0.45"/>
<circle cx="105.50" cy="533.20" r="1.9" fill="#3a46c0" stroke="#14145a" stroke-width="0.45"/>
<circle cx="109.00" cy="533.50" r="1.9" fill="#3a46c0" stroke="#14145a" stroke-width="0.45"/>
<circle cx="112.00" cy="533.20" r="1.9" fill="#3a46c0" stroke="#14145a" stroke-width="0.45"/>
<circle cx="103.50" cy="536.20" r="1.9" fill="#3a46c0" stroke="#14145a" stroke-width="0.45"/>
<circle cx="107.00" cy="536.20" r="1.9" fill="#3a46c0" stroke="#14145a" stroke-width="0.45"/>
<circle cx="110.50" cy="536.00" r="1.9" fill="#3a46c0" stroke="#14145a" stroke-width="0.45"/>
<text x="106.8" y="546.8" font-size="8.7" text-anchor="middle" fill="#000" stroke="#000" stroke-width="0.22">Large</text>
<text x="119.2" y="478.2" font-size="8.7" fill="#000" stroke="#000" stroke-width="0.22">+/- Jas</text>
<path d="M117.80 484.50 L144.40 484.50" stroke="#000" stroke-width="1" fill="none"/>
<path d="M148.00 484.50 L144.40 486.20 L144.40 482.80 Z" fill="#000"/>
<text x="131.5" y="495.0" font-size="8.7" text-anchor="middle" fill="#000" stroke="#000" stroke-width="0.22">6 h</text>
<text x="117.6" y="524.2" font-size="8.7" fill="#000" stroke="#000" stroke-width="0.22">+/- Lat A</text>
<path d="M119.80 527.50 L146.90 527.50" stroke="#000" stroke-width="1" fill="none"/>
<path d="M150.50 527.50 L146.90 529.20 L146.90 525.80 Z" fill="#000"/>
<text x="134" y="537.2" font-size="8.7" text-anchor="middle" fill="#000" stroke="#000" stroke-width="0.22">6 h</text>
<path d="M158.4 474.3 H152.5 V540.3 H158.4 M152.5 508.4 H158.4" fill="none" stroke="#000" stroke-width="0.8"/>
<text x="167.8" y="477.6" font-size="8.7" fill="#000" stroke="#000" stroke-width="0.22">Bulk-RNA seq</text>
<text x="164.8" y="501.7" font-size="8.7" fill="#000" stroke="#000" stroke-width="0.22">Xenograft&#160; model</text>
<text x="161" y="544.2" font-size="8.7" fill="#000" stroke="#000" stroke-width="0.22">Ara-C sensitivity assay</text>
<path d="M189 524.5 C185 525.5 181.5 524.5 181 522 C180.6 520 182.5 519.5 184 520.5" fill="none" stroke="#000" stroke-width="1.2" stroke-linecap="round"/>
<path d="M188.5 524 C188 518.5 193 515.2 199 515.6 C202 515.8 204 517 205.2 518.4 C207.5 519 210 521 211 523 C211.4 524.2 210 525 208 525 L204 526.4 C200 527.2 193 527.4 188.5 524 Z" fill="#e4e4e4" stroke="#000" stroke-width="0.7"/>
<circle cx="205.20" cy="518.60" r="1.5" fill="#ddd" stroke="#000" stroke-width="0.6"/>
<circle cx="207.70" cy="521.40" r="0.6" fill="#000"/>
<path d="M192 526.2 l-1 1.6 M203.5 526.4 l1 1.6" stroke="#000" stroke-width="0.9"/>
<circle cx="196.00" cy="521.30" r="1.5" fill="#e05070"/>
<circle cx="196.50" cy="521.00" r="0.7" fill="#3040c0"/>
<path d="M172 511 L181.5 519.3" stroke="#3a6ad8" stroke-width="1.4"/><path d="M171 511.8 L173 510.2 M181.5 519.3 L183.5 521" stroke="#3a6ad8" stroke-width="0.6"/>
<text x="247.5" y="452" font-size="11" font-weight="bold" fill="#000" stroke="#000" stroke-width="0.22">l</text>
<rect x="293.20" y="455.50" width="87.10" height="87.10" fill="#fff"/>
<clipPath id="cp101"><rect x="293.2" y="455.5" width="87.10000000000002" height="87.10000000000002"/></clipPath>
<g clip-path="url(#cp101)">
<line x1="332.31" y1="455.50" x2="332.31" y2="542.60" stroke="#cfcfcf" stroke-width="0.8" stroke-dasharray="5 2.5"/>
<line x1="339.89" y1="455.50" x2="339.89" y2="542.60" stroke="#cfcfcf" stroke-width="0.8" stroke-dasharray="5 2.5"/>
<line x1="293.20" y1="537.63" x2="380.30" y2="537.63" stroke="#cfcfcf" stroke-width="0.8" stroke-dasharray="5 2.5"/>
<polygon points="321.0,541.9 328.5,538.0 332.6,537.3 332.9,528.7 334.8,523.8 337.4,523.8 339.3,528.7 339.6,537.3 343.7,538.0 351.2,541.9" fill="#b4b4b4" opacity="0.45" filter="url(#b1)"/>
<path d="M334.4 527.5h.01M335.1 530.9h.01M331.7 541.0h.01M337.0 540.8h.01M335.0 540.9h.01M340.6 537.7h.01M337.9 541.5h.01M336.9 535.6h.01M333.8 540.2h.01M338.6 537.6h.01M334.4 539.5h.01M337.3 540.3h.01M340.4 539.0h.01M339.7 537.2h.01M338.3 539.9h.01M334.1 539.5h.01M332.4 541.9h.01M338.6 539.2h.01M333.4 541.8h.01M335.5 536.7h.01M340.0 541.2h.01M336.3 541.7h.01M336.6 541.2h.01M337.1 537.0h.01M335.7 537.4h.01M333.3 539.1h.01M329.9 540.6h.01M336.2 533.2h.01M334.4 541.9h.01M331.8 541.5h.01M338.8 529.4h.01M336.7 533.0h.01M336.9 536.7h.01M334.8 535.5h.01M338.1 541.3h.01M331.1 541.1h.01M337.4 532.4h.01M331.3 540.0h.01M337.4 528.4h.01M335.0 532.7h.01M335.5 538.5h.01M337.1 536.9h.01M335.5 540.5h.01M336.9 534.5h.01M342.1 540.8h.01M339.9 541.0h.01M342.6 538.0h.01M341.6 540.5h.01M339.7 532.6h.01M338.6 541.8h.01M332.1 539.9h.01M331.7 539.5h.01M336.8 540.5h.01M334.0 537.3h.01M332.6 540.2h.01M334.9 530.1h.01M335.0 532.3h.01M340.5 540.2h.01M338.1 541.6h.01M336.8 541.2h.01M338.1 539.9h.01M338.0 539.4h.01M333.8 536.9h.01M332.2 540.3h.01M334.1 541.3h.01M332.8 538.5h.01M334.2 536.2h.01M340.2 540.9h.01M333.0 540.4h.01M337.4 541.7h.01M345.2 538.7h.01M339.0 539.4h.01M334.9 536.6h.01M334.0 529.0h.01M336.6 524.3h.01M332.7 531.0h.01M339.0 539.3h.01M337.2 540.5h.01M334.8 536.0h.01M335.0 533.6h.01M340.4 540.8h.01M337.9 537.6h.01M333.1 535.1h.01M328.4 540.5h.01M335.9 536.6h.01M334.4 539.6h.01M335.9 540.9h.01M338.3 535.1h.01M337.9 541.0h.01M337.4 541.2h.01M335.6 537.2h.01M332.1 538.1h.01M335.3 541.0h.01M336.4 538.8h.01M334.6 538.8h.01M329.5 540.9h.01M330.2 540.5h.01M332.2 537.9h.01M339.4 539.1h.01M333.8 541.3h.01M336.8 537.9h.01M336.7 536.6h.01M340.2 537.7h.01M335.9 539.7h.01M336.8 540.4h.01M336.9 538.7h.01M338.6 540.8h.01M335.9 536.4h.01M333.1 541.2h.01M338.6 533.7h.01M340.5 537.9h.01M333.6 540.2h.01M338.6 532.2h.01M336.6 539.2h.01M336.6 541.1h.01M337.8 539.4h.01M341.7 538.7h.01M333.3 535.9h.01M338.0 540.8h.01M341.0 539.7h.01M342.4 541.4h.01M337.4 538.1h.01M333.8 537.0h.01M332.4 539.9h.01M338.0 537.8h.01M329.2 537.7h.01M336.7 537.1h.01M335.3 541.5h.01M334.6 533.7h.01M333.6 541.7h.01M337.0 541.7h.01M335.8 541.9h.01M342.3 538.3h.01M342.4 538.0h.01M337.9 535.1h.01M340.4 538.8h.01M335.1 536.3h.01M344.1 539.0h.01M335.4 535.8h.01M339.1 538.8h.01M329.3 540.1h.01M336.6 533.5h.01M339.7 536.6h.01M337.2 541.9h.01M335.3 537.7h.01M333.8 537.7h.01M340.9 540.9h.01M341.6 541.3h.01M335.1 541.4h.01M336.5 535.8h.01M339.2 532.6h.01M338.3 539.3h.01M338.3 541.1h.01M330.9 541.6h.01M337.4 533.7h.01M330.2 538.8h.01M328.5 538.7h.01M335.6 535.7h.01M337.0 536.1h.01M335.6 538.1h.01M338.4 536.5h.01M336.3 538.7h.01M333.8 538.3h.01M335.1 532.9h.01M339.9 538.8h.01M335.6 541.5h.01M338.6 534.4h.01M339.1 541.4h.01M338.2 540.3h.01M339.0 541.3h.01M337.8 535.2h.01M338.8 541.1h.01M336.5 540.7h.01M335.0 537.2h.01M338.8 541.2h.01M336.2 540.8h.01M337.5 536.5h.01M334.9 531.6h.01M336.2 540.2h.01M342.1 538.6h.01M333.6 532.6h.01M334.7 536.8h.01M334.4 540.4h.01M339.7 540.5h.01M343.7 541.2h.01M333.0 531.3h.01M336.0 541.4h.01M335.7 539.5h.01M340.8 540.8h.01M332.1 540.0h.01M338.0 541.4h.01M335.2 539.6h.01M333.5 532.9h.01M330.5 541.9h.01M336.8 538.0h.01M337.5 539.7h.01M339.8 537.8h.01M334.1 536.9h.01M337.9 533.5h.01M342.3 538.4h.01M336.5 541.7h.01M334.3 540.0h.01M335.7 533.2h.01M334.1 533.6h.01M335.0 541.2h.01M332.8 534.8h.01M337.8 535.8h.01M339.2 537.6h.01M336.6 540.2h.01M342.3 540.1h.01M331.7 541.7h.01M337.9 537.6h.01M330.7 540.3h.01M336.5 538.3h.01M337.1 535.2h.01M335.9 539.2h.01M335.4 540.9h.01M338.4 534.0h.01M338.4 538.8h.01M343.5 540.7h.01M336.9 532.7h.01M332.2 541.3h.01M335.8 541.0h.01M335.4 539.6h.01M335.1 538.3h.01M338.4 536.0h.01M333.0 535.4h.01M337.9 540.8h.01M336.8 539.9h.01M336.1 534.4h.01M336.4 541.1h.01M338.8 526.3h.01M337.0 538.6h.01M335.2 541.2h.01M338.2 536.7h.01M336.3 538.7h.01M335.2 541.5h.01M340.0 540.4h.01M340.7 540.3h.01M339.4 536.5h.01M334.5 538.2h.01M338.8 540.6h.01M331.1 541.6h.01M334.6 541.0h.01M339.6 541.4h.01M336.5 538.8h.01M338.1 540.5h.01M339.2 536.0h.01M339.2 539.2h.01M329.1 538.1h.01M337.9 525.1h.01M334.0 528.3h.01M338.9 536.9h.01M340.3 539.3h.01M335.5 534.2h.01M333.7 536.4h.01M339.3 536.3h.01M343.3 541.7h.01M337.9 537.3h.01M336.5 536.4h.01M352.7 541.7h.01M328.4 541.8h.01M328.4 539.7h.01M340.1 538.9h.01M337.1 541.0h.01M325.5 540.6h.01M344.0 541.3h.01M325.5 541.7h.01M343.7 539.1h.01M342.1 541.7h.01M334.2 541.9h.01M324.2 541.2h.01M345.0 540.2h.01M344.8 540.7h.01M348.6 538.7h.01M346.9 541.1h.01M335.3 539.0h.01M338.8 539.5h.01M341.3 541.9h.01M319.8 538.3h.01M333.5 540.4h.01M324.1 541.8h.01M337.1 539.9h.01M333.1 541.7h.01M333.9 540.8h.01M352.0 541.7h.01M324.9 540.6h.01M340.6 541.5h.01M323.1 540.4h.01M342.7 541.2h.01M337.3 540.8h.01M330.6 541.6h.01M329.2 541.4h.01M337.9 541.5h.01M328.1 541.2h.01M317.3 541.5h.01M324.9 540.7h.01M328.5 537.8h.01M338.3 541.8h.01M329.7 539.1h.01M344.4 541.1h.01M331.9 541.2h.01M343.3 540.4h.01M336.5 539.5h.01M340.1 541.9h.01M315.4 541.7h.01M322.7 541.5h.01M331.6 541.9h.01M335.5 539.1h.01M343.0 541.8h.01M324.0 541.3h.01M338.9 541.2h.01M326.6 539.6h.01M342.3 540.5h.01M346.1 541.2h.01M356.1 538.3h.01M320.1 541.8h.01M335.2 540.0h.01M317.4 540.1h.01M356.2 541.5h.01M346.4 541.8h.01M330.3 540.0h.01M351.8 540.9h.01M328.4 538.7h.01M332.4 541.9h.01M346.1 541.8h.01M323.1 538.8h.01M324.2 541.0h.01M332.4 539.6h.01M343.8 541.8h.01M328.5 541.5h.01M344.6 541.7h.01M327.3 541.2h.01M335.4 539.9h.01M335.2 541.4h.01M327.2 541.9h.01M328.3 541.9h.01M337.1 541.7h.01M320.5 541.3h.01M319.2 540.2h.01M338.2 540.0h.01M335.0 540.2h.01M352.8 540.5h.01M334.1 539.6h.01M341.8 541.6h.01M337.8 541.2h.01M309.6 539.1h.01M335.8 541.5h.01M341.8 540.6h.01M338.6 541.6h.01M323.8 540.8h.01M349.4 539.3h.01M334.8 541.4h.01M343.0 539.4h.01M330.4 541.8h.01M334.9 541.9h.01M325.4 541.0h.01M347.7 537.9h.01M342.4 541.0h.01M337.2 541.2h.01M344.5 539.5h.01M330.2 540.5h.01M341.5 540.9h.01M317.9 539.0h.01M333.3 541.7h.01M331.7 541.8h.01M333.2 541.5h.01M339.6 541.1h.01M334.5 541.9h.01M327.1 541.7h.01M343.3 541.3h.01M336.9 539.7h.01M328.8 540.3h.01M329.8 540.6h.01M336.0 541.4h.01M332.2 540.8h.01M347.9 541.7h.01M339.2 539.1h.01M337.9 541.8h.01M332.4 538.8h.01M338.6 539.2h.01M318.8 541.6h.01M348.2 541.5h.01M342.7 540.6h.01M344.9 539.6h.01M343.0 541.7h.01M345.1 541.9h.01M323.4 539.6h.01M321.9 539.7h.01M317.1 541.6h.01M369.0 541.6h.01M331.9 540.1h.01M329.8 541.3h.01M341.4 541.6h.01M344.8 540.3h.01M336.9 541.2h.01M327.0 540.0h.01M322.5 540.1h.01M324.7 541.1h.01M344.7 541.7h.01M336.7 541.4h.01M332.5 541.6h.01M335.1 540.7h.01M348.1 540.6h.01M331.7 541.0h.01M346.0 539.8h.01M323.8 541.6h.01M331.7 539.3h.01M305.8 539.0h.01M342.9 541.7h.01M327.2 541.3h.01M343.1 541.5h.01M345.4 541.9h.01M341.8 541.1h.01M340.4 539.4h.01M346.0 541.6h.01M350.3 541.1h.01M331.0 541.0h.01M344.3 541.0h.01M321.5 538.8h.01" stroke="#b4b4b4" stroke-width="1.0" stroke-linecap="round" fill="none" opacity="1.0"/>
<polygon points="332.0,537.6 332.0,522.2 329.8,517.2 326.0,516.3 322.2,520.5 319.1,526.1 316.5,532.0 315.9,537.6" fill="#4d5d9b" opacity="0.45" filter="url(#b1)"/>
<polygon points="340.2,537.6 340.2,525.5 342.4,524.1 346.2,527.4 350.6,530.7 355.0,534.0 357.6,537.6" fill="#b9474f" opacity="0.45" filter="url(#b1)"/>
<path d="M327.0 533.5h.01M323.0 528.3h.01M325.3 536.3h.01M321.6 527.4h.01M324.1 524.7h.01M329.0 531.9h.01M327.5 534.7h.01M324.5 530.3h.01M327.6 519.9h.01M328.3 537.6h.01M317.4 525.4h.01M323.5 534.0h.01M328.7 530.3h.01M324.9 531.6h.01M327.6 530.7h.01M321.9 537.4h.01M324.9 532.1h.01M326.9 528.0h.01M328.4 531.1h.01M325.8 532.9h.01M321.7 528.0h.01M321.2 532.6h.01M325.8 529.9h.01M329.2 534.4h.01M326.9 528.9h.01M326.4 523.0h.01M329.4 525.9h.01M330.1 528.9h.01M329.3 533.0h.01M332.3 533.4h.01M329.4 525.5h.01M326.8 530.7h.01M317.8 524.5h.01M327.2 520.7h.01M327.6 534.0h.01M314.6 523.8h.01M327.5 537.4h.01M329.4 531.1h.01M329.6 516.0h.01M317.3 520.1h.01M325.9 537.0h.01M331.1 535.2h.01M319.0 532.4h.01M331.5 527.8h.01M327.1 527.8h.01M328.2 519.0h.01M326.1 525.9h.01M313.8 523.2h.01M326.9 526.9h.01M327.1 534.0h.01M325.8 535.2h.01M320.1 523.2h.01M322.6 532.5h.01M328.0 524.1h.01M330.6 527.3h.01M324.1 534.1h.01M328.8 528.7h.01M318.3 529.9h.01M326.0 519.7h.01M322.8 531.8h.01M328.5 527.0h.01M323.5 535.9h.01M323.8 535.3h.01M322.6 517.8h.01M321.9 531.3h.01M322.6 534.5h.01M328.2 527.3h.01M326.8 525.9h.01M326.5 530.7h.01M327.6 528.4h.01M326.5 537.6h.01M319.5 530.1h.01M326.4 521.1h.01M327.0 527.2h.01M330.3 529.4h.01M325.4 519.4h.01M328.5 524.2h.01M331.0 525.3h.01M324.6 525.0h.01M327.6 522.9h.01M318.8 528.6h.01M329.2 533.9h.01M322.5 526.1h.01M323.6 521.3h.01M326.3 524.6h.01M322.6 529.5h.01M325.3 533.3h.01M327.5 532.9h.01M328.1 530.6h.01M325.5 523.6h.01M328.8 528.9h.01M329.3 531.5h.01M330.5 536.7h.01M325.3 526.0h.01M330.2 535.1h.01M314.4 530.2h.01M332.3 526.4h.01M326.6 527.1h.01M328.9 523.2h.01M324.8 526.9h.01M331.7 532.1h.01M327.4 523.8h.01M327.5 524.8h.01M321.0 537.1h.01M331.8 529.2h.01M318.6 517.3h.01M325.8 528.6h.01M328.2 533.7h.01M326.8 536.6h.01M323.6 525.6h.01M330.7 535.8h.01M328.2 524.5h.01M322.2 532.4h.01M323.6 528.1h.01M330.0 533.0h.01M331.6 521.1h.01M322.1 530.5h.01M327.4 526.6h.01M330.3 526.6h.01M326.4 529.3h.01M322.8 532.9h.01M330.5 531.8h.01M320.1 532.4h.01M324.4 534.0h.01M328.0 533.8h.01M324.1 531.4h.01M324.9 537.1h.01M321.5 521.0h.01M318.9 523.2h.01M326.0 525.8h.01M324.8 530.0h.01M324.8 535.1h.01M330.9 529.4h.01M330.2 526.0h.01M330.2 527.2h.01M329.2 533.1h.01M325.4 529.9h.01M326.4 534.8h.01M320.5 522.6h.01M323.8 532.9h.01M321.2 522.1h.01M325.1 513.6h.01M322.6 534.2h.01M326.3 534.7h.01M328.5 536.7h.01M323.8 520.7h.01M321.1 532.6h.01M325.6 536.9h.01M331.2 524.4h.01M327.0 532.0h.01M324.9 521.2h.01M329.3 531.9h.01M324.9 530.5h.01M329.1 533.2h.01M319.4 520.2h.01M316.4 528.2h.01M328.2 531.0h.01M325.8 534.0h.01M327.6 519.4h.01M329.2 526.5h.01M322.0 520.1h.01M323.6 535.6h.01M330.2 526.3h.01M324.4 534.5h.01M316.5 519.7h.01M325.2 527.0h.01M329.7 515.7h.01M326.3 532.0h.01M321.2 524.0h.01M330.7 523.6h.01M319.4 523.8h.01M327.2 527.7h.01M331.5 537.0h.01M329.5 534.3h.01M322.6 537.5h.01M313.7 524.7h.01M326.6 528.4h.01M325.6 524.6h.01M324.8 533.6h.01M326.4 529.8h.01M327.8 529.3h.01M331.6 530.6h.01M325.8 524.8h.01M319.6 519.5h.01M329.1 530.1h.01M328.3 527.3h.01M326.2 531.7h.01M325.3 522.9h.01M324.8 518.0h.01M317.7 520.6h.01M318.4 524.8h.01M331.2 526.8h.01M326.7 534.5h.01M326.3 525.3h.01M321.8 518.5h.01M329.1 536.4h.01M326.2 532.3h.01M330.8 528.4h.01M322.8 533.9h.01M330.0 529.4h.01M322.4 529.2h.01M322.8 529.7h.01M325.8 526.4h.01M324.7 527.2h.01M325.2 531.4h.01M320.3 519.0h.01M318.2 530.3h.01M322.9 532.4h.01M325.3 537.4h.01M320.7 528.3h.01M319.3 520.3h.01M323.3 532.5h.01M324.7 514.3h.01M318.0 536.7h.01M330.6 533.8h.01M329.9 535.3h.01M326.8 534.6h.01M322.1 521.7h.01M327.5 520.2h.01M327.0 536.6h.01M323.3 530.6h.01M324.0 532.5h.01M326.5 525.2h.01M326.5 528.7h.01M320.9 534.1h.01M328.4 537.6h.01M325.6 530.1h.01M331.4 535.4h.01M320.0 525.6h.01M323.4 528.5h.01M331.4 531.3h.01M326.0 525.1h.01M324.0 535.2h.01M322.0 533.5h.01M328.5 524.6h.01M323.7 535.8h.01M327.5 528.9h.01M318.9 523.4h.01M324.5 520.2h.01M329.1 529.8h.01M327.4 523.4h.01M325.2 519.0h.01M321.9 531.2h.01M330.0 537.1h.01M329.9 537.0h.01M326.5 534.2h.01M321.4 534.6h.01M321.4 532.1h.01M326.1 537.3h.01M323.8 530.9h.01M327.2 515.8h.01M325.0 527.7h.01M326.6 526.2h.01M327.8 530.6h.01M324.8 531.0h.01M318.4 526.4h.01M328.1 529.6h.01M320.8 528.7h.01M329.8 535.3h.01M330.5 532.1h.01M325.9 533.5h.01M330.6 535.8h.01M321.4 536.3h.01M329.2 533.7h.01M330.0 533.0h.01M327.0 534.4h.01M318.8 522.0h.01M327.1 528.6h.01M319.8 524.4h.01M322.3 532.3h.01M326.3 524.4h.01M327.0 522.4h.01M330.2 518.1h.01M326.7 532.6h.01M327.2 530.2h.01M321.0 529.0h.01M331.4 537.4h.01M325.0 532.5h.01M330.0 527.8h.01M321.9 534.9h.01M320.6 524.1h.01M326.3 527.8h.01M323.1 530.7h.01M320.2 520.6h.01M329.9 526.0h.01M317.9 534.0h.01M325.7 520.9h.01M323.5 528.3h.01M322.9 518.2h.01M319.5 526.6h.01M321.2 518.4h.01M320.2 531.1h.01M323.5 518.2h.01M327.7 525.8h.01M328.9 527.9h.01M330.3 521.1h.01M325.0 524.1h.01M319.8 525.9h.01M329.1 529.8h.01M320.0 532.0h.01M325.2 535.7h.01M319.2 525.9h.01M324.6 531.6h.01M318.8 537.5h.01M323.5 526.6h.01M326.8 530.7h.01M327.3 536.1h.01M329.6 521.4h.01M328.3 529.6h.01M323.5 525.4h.01M322.3 529.1h.01M325.7 532.3h.01M325.1 521.0h.01M325.8 535.6h.01M323.8 527.0h.01M322.8 529.1h.01M329.8 532.9h.01M331.4 528.6h.01M327.6 532.3h.01M325.8 521.1h.01M325.6 528.1h.01M329.2 514.9h.01M323.1 528.6h.01M327.2 537.4h.01M326.2 526.4h.01M318.8 534.0h.01M326.3 531.3h.01M322.7 526.3h.01M325.8 528.2h.01M317.3 534.4h.01M323.7 526.7h.01M330.0 534.6h.01M322.5 528.6h.01M325.3 531.8h.01M318.9 533.7h.01M327.0 531.4h.01M329.1 528.0h.01M328.6 529.8h.01M329.5 536.0h.01M327.6 525.5h.01M323.1 535.1h.01M327.1 535.9h.01M318.5 527.3h.01M331.1 526.8h.01M331.0 523.6h.01M323.8 518.0h.01M320.2 533.9h.01M326.8 525.9h.01M321.5 525.4h.01M327.9 530.2h.01M330.6 533.3h.01M331.4 534.7h.01M323.0 533.9h.01M326.9 522.2h.01M322.1 516.0h.01M328.4 532.7h.01M329.1 537.0h.01M327.1 527.0h.01M328.6 520.2h.01M320.6 528.6h.01M327.9 524.7h.01M325.3 525.4h.01M321.1 536.6h.01M328.3 533.4h.01M321.2 528.8h.01M328.4 526.7h.01M326.0 534.2h.01M322.7 530.5h.01M328.2 533.8h.01M331.5 536.0h.01M324.0 516.0h.01M320.0 534.6h.01M331.9 520.4h.01M327.0 524.6h.01M327.6 534.2h.01M318.6 535.5h.01M328.1 526.0h.01M327.0 533.5h.01M326.8 531.2h.01M329.6 522.1h.01M322.5 535.0h.01M328.3 535.8h.01M328.7 534.5h.01M316.8 523.6h.01M323.6 535.9h.01M324.3 523.7h.01M325.6 526.0h.01M318.5 519.9h.01M321.3 521.8h.01M329.7 525.5h.01M324.9 533.2h.01M321.5 529.0h.01M326.1 519.7h.01M327.1 534.9h.01M319.0 522.9h.01M324.8 526.0h.01M326.1 525.2h.01M326.5 532.0h.01M326.3 525.7h.01M324.1 520.3h.01M323.2 525.6h.01M331.4 526.0h.01M323.4 534.6h.01M329.0 518.6h.01M324.5 525.2h.01M323.8 526.3h.01M325.0 530.9h.01M330.3 536.0h.01M328.8 527.5h.01M331.7 533.3h.01M325.6 525.8h.01M328.9 523.0h.01M323.0 527.3h.01M324.1 523.2h.01M323.7 536.1h.01M327.9 528.0h.01M329.2 526.1h.01M330.7 531.4h.01M329.8 536.5h.01M320.4 534.8h.01M323.3 536.6h.01M328.6 521.6h.01M327.2 527.5h.01M329.4 527.6h.01M329.0 532.9h.01M326.5 532.9h.01M321.4 534.8h.01M326.9 534.5h.01M321.3 525.3h.01M323.1 529.2h.01M327.8 534.6h.01M324.0 521.1h.01M328.5 526.2h.01M324.1 516.0h.01M326.4 534.5h.01M325.4 536.7h.01M318.0 530.7h.01M332.0 528.5h.01M320.3 528.9h.01M324.9 530.5h.01M328.4 534.3h.01M329.4 535.0h.01M324.1 532.1h.01M321.6 530.1h.01M326.7 534.9h.01M329.6 529.6h.01M328.8 537.6h.01M319.3 533.6h.01M322.4 524.2h.01M322.2 528.7h.01M328.2 533.2h.01M332.2 533.3h.01M324.9 533.5h.01M330.0 520.2h.01M331.0 519.9h.01M326.6 527.8h.01M325.7 522.8h.01M326.3 537.4h.01M324.2 531.2h.01M330.6 529.3h.01M325.2 528.4h.01M328.6 536.5h.01M329.5 528.7h.01M327.5 531.9h.01M326.1 529.9h.01M319.8 524.4h.01M329.1 529.3h.01M325.4 531.3h.01M327.0 531.3h.01M323.2 518.5h.01M328.7 532.0h.01M332.2 533.9h.01M329.6 535.4h.01M327.5 531.0h.01M328.7 521.1h.01M324.8 533.1h.01M316.5 530.0h.01M327.2 524.1h.01M320.0 534.5h.01M323.2 531.2h.01M321.4 527.0h.01M329.0 533.7h.01M325.6 518.7h.01M330.0 514.0h.01M324.3 535.6h.01M327.9 532.4h.01M319.5 529.5h.01M318.6 531.7h.01M329.9 536.8h.01M319.1 528.9h.01M325.2 528.8h.01M324.3 532.4h.01M321.4 537.1h.01M329.0 521.9h.01M318.4 524.7h.01M327.7 530.8h.01M318.8 528.6h.01M323.7 534.8h.01M330.7 526.5h.01M325.4 531.9h.01M324.4 533.9h.01M327.4 537.2h.01M331.3 529.1h.01M326.7 529.8h.01M323.5 521.3h.01M329.9 526.2h.01M332.3 527.0h.01M327.8 533.9h.01M332.3 524.9h.01M329.5 528.0h.01M325.4 529.7h.01M326.8 531.5h.01M328.3 536.5h.01M324.7 523.8h.01M325.8 528.1h.01M316.9 521.3h.01M324.1 536.3h.01M328.8 526.0h.01M313.2 527.9h.01M318.3 527.2h.01M329.1 529.9h.01M331.3 535.7h.01M322.6 534.0h.01M325.7 528.1h.01M326.7 528.8h.01M328.3 534.0h.01M319.7 527.6h.01M328.4 535.8h.01M321.5 526.4h.01M324.0 526.8h.01M328.1 519.8h.01M322.9 525.1h.01M321.7 531.0h.01M325.0 517.7h.01M320.8 524.9h.01M330.0 528.2h.01M327.9 537.1h.01M325.6 531.8h.01M330.6 532.5h.01M329.8 535.8h.01M329.2 534.8h.01M330.7 535.2h.01M329.2 525.5h.01M323.3 527.8h.01M331.9 519.8h.01M328.1 527.3h.01M328.5 529.3h.01M327.5 526.4h.01M323.5 534.7h.01M331.7 535.1h.01M329.6 535.0h.01M324.5 533.7h.01M332.0 533.2h.01M329.8 530.2h.01M325.0 529.1h.01M321.0 521.1h.01M319.5 522.7h.01M323.7 524.4h.01M326.5 532.4h.01M327.3 534.6h.01M327.9 528.2h.01M327.5 531.3h.01M324.3 529.9h.01M318.1 516.6h.01M328.6 535.1h.01M326.1 534.4h.01M332.1 536.1h.01M330.7 523.1h.01M319.7 532.2h.01M319.9 528.0h.01M316.4 534.7h.01M326.6 521.1h.01M323.7 526.9h.01M327.2 534.8h.01M323.7 525.9h.01M325.3 528.0h.01M327.3 532.1h.01M324.7 533.4h.01M329.1 534.1h.01M327.6 528.3h.01M323.7 532.5h.01M325.7 536.0h.01M331.0 533.2h.01M326.6 525.1h.01M321.0 525.2h.01M322.7 517.4h.01M326.1 529.8h.01M325.9 525.3h.01M322.5 531.3h.01M330.6 527.5h.01M329.4 533.4h.01M331.5 535.4h.01M320.4 520.6h.01M325.2 520.7h.01M326.2 537.2h.01M332.1 524.1h.01M328.0 536.9h.01M323.8 524.7h.01M329.9 524.0h.01M330.2 536.9h.01M329.0 527.2h.01M323.3 532.1h.01M322.9 521.4h.01M327.8 524.4h.01M328.4 530.5h.01M324.1 528.1h.01M325.9 529.7h.01M329.5 535.3h.01M319.4 536.9h.01M322.7 531.6h.01M325.2 526.7h.01M325.9 529.6h.01M330.2 523.4h.01M324.6 530.4h.01M331.0 536.2h.01M322.3 533.5h.01M330.5 527.5h.01M326.4 523.9h.01M327.1 534.9h.01M321.6 527.8h.01M320.5 524.9h.01M325.4 525.9h.01M327.0 536.6h.01M321.7 524.5h.01M326.1 530.9h.01M325.5 536.5h.01M330.4 534.7h.01M326.8 527.4h.01M326.7 532.4h.01M327.9 534.3h.01M330.2 522.3h.01M330.8 525.5h.01M328.1 520.5h.01M325.8 530.9h.01M321.0 524.9h.01M327.6 534.8h.01M326.0 529.2h.01M326.5 525.8h.01M332.0 525.9h.01M329.4 527.9h.01M322.3 533.5h.01M321.9 535.2h.01M323.6 529.5h.01M324.1 528.6h.01M327.3 536.7h.01M327.0 531.2h.01M323.7 524.8h.01M331.9 530.4h.01M320.1 529.7h.01M324.1 533.2h.01M321.9 528.3h.01M324.3 523.8h.01M327.8 522.4h.01M326.7 529.4h.01M325.8 534.8h.01M329.9 528.6h.01M331.7 526.2h.01M329.2 528.2h.01M323.2 527.2h.01M328.8 532.0h.01M327.5 519.8h.01M328.0 527.5h.01M327.5 527.3h.01M325.9 532.7h.01M322.0 520.4h.01M322.7 533.6h.01M327.0 537.3h.01M325.5 535.8h.01M326.0 517.1h.01M324.8 524.7h.01M325.5 527.6h.01M327.3 524.4h.01M323.3 525.3h.01M325.5 533.0h.01M330.1 530.3h.01M324.7 519.4h.01M318.9 525.4h.01M325.0 531.0h.01M331.1 534.5h.01M320.5 531.5h.01M330.9 535.4h.01M325.7 530.1h.01M319.7 537.3h.01M330.4 532.2h.01M328.8 528.3h.01M330.7 520.4h.01M329.1 528.2h.01M317.1 526.1h.01M328.2 532.2h.01M330.4 517.9h.01M319.5 527.7h.01M327.0 534.7h.01M329.8 537.3h.01M324.6 523.2h.01M325.5 535.8h.01M316.2 532.0h.01M331.4 533.0h.01M332.1 536.4h.01M328.4 527.2h.01M330.1 528.3h.01M331.5 532.1h.01M320.3 528.5h.01M328.6 528.9h.01M323.0 529.2h.01M321.8 536.5h.01M324.6 528.2h.01M321.3 522.9h.01M327.1 529.1h.01M328.7 531.2h.01M320.1 528.3h.01M321.6 529.0h.01M318.7 532.5h.01M324.4 532.3h.01M327.5 524.8h.01M332.1 527.5h.01M327.9 536.5h.01M327.5 535.7h.01M324.1 529.5h.01M331.8 520.7h.01M329.5 536.4h.01M323.0 533.5h.01M328.3 523.1h.01M323.8 532.9h.01M332.3 527.3h.01M317.3 536.9h.01M328.1 526.8h.01M318.7 529.9h.01M323.5 532.7h.01M324.1 530.0h.01M327.3 531.7h.01M324.9 530.8h.01M329.7 537.4h.01M320.2 519.3h.01M327.4 529.0h.01M328.5 528.0h.01M317.4 526.6h.01M316.2 517.6h.01M328.1 532.1h.01M325.7 525.8h.01M325.2 531.7h.01M318.2 530.3h.01M323.3 523.2h.01M324.6 528.8h.01M322.0 519.7h.01M321.8 526.6h.01M323.2 527.8h.01M316.8 525.9h.01M322.8 524.7h.01M332.3 528.0h.01M331.0 532.4h.01M324.9 532.5h.01M326.5 522.5h.01M323.8 522.9h.01M328.8 528.2h.01M326.6 534.0h.01M322.2 523.5h.01M328.2 531.1h.01M332.3 523.3h.01M326.0 528.8h.01M331.2 523.6h.01M318.6 529.3h.01M322.7 524.5h.01M325.6 524.8h.01M328.8 522.8h.01M321.1 511.7h.01M330.1 525.8h.01M321.7 523.9h.01M323.7 517.6h.01M322.9 514.9h.01M328.3 513.8h.01M315.5 509.9h.01M323.2 517.2h.01M319.7 520.0h.01M322.9 522.3h.01M318.4 506.8h.01M329.0 519.1h.01M312.3 503.6h.01M325.0 509.0h.01M323.6 516.0h.01M323.1 513.7h.01M323.0 519.7h.01M328.0 521.9h.01M317.2 521.1h.01M321.4 518.4h.01M313.0 494.0h.01M322.4 524.7h.01M320.9 532.7h.01M323.0 511.1h.01M324.7 513.5h.01M320.7 515.3h.01M321.3 506.8h.01M321.2 514.7h.01M324.9 513.9h.01M327.7 513.6h.01M320.5 518.3h.01M324.4 505.3h.01M320.7 518.6h.01M318.5 510.7h.01M322.3 515.0h.01M320.7 512.9h.01M327.0 517.1h.01M327.8 531.0h.01M316.5 508.2h.01M319.5 519.5h.01M321.5 517.5h.01M321.5 515.2h.01M322.0 523.2h.01M321.2 518.2h.01M329.6 515.2h.01M324.3 522.3h.01M316.1 508.8h.01M327.5 516.2h.01M318.7 526.7h.01M324.9 521.0h.01M321.7 516.8h.01M325.8 500.3h.01M325.9 520.2h.01M330.1 528.0h.01M312.9 499.1h.01M318.6 511.9h.01M316.2 494.9h.01M323.7 526.7h.01M323.4 512.0h.01M322.3 525.5h.01M320.4 524.4h.01M317.3 516.1h.01M318.3 521.1h.01M319.2 524.5h.01M325.0 523.3h.01M328.4 514.1h.01M321.4 505.0h.01M321.8 520.1h.01M330.7 526.9h.01M314.5 502.7h.01M321.2 508.2h.01M322.1 508.2h.01M317.6 508.4h.01M320.4 511.4h.01M324.2 529.5h.01M313.3 512.8h.01M322.8 518.6h.01M321.4 519.1h.01M316.6 507.8h.01M321.2 500.8h.01M318.7 514.3h.01M325.4 507.7h.01M314.3 512.3h.01M323.7 521.2h.01M318.4 513.1h.01M324.2 527.9h.01M327.5 517.3h.01M328.7 514.4h.01M321.2 537.1h.01M318.9 510.4h.01M315.7 503.4h.01M325.4 523.0h.01M322.3 533.0h.01M329.6 526.4h.01M317.7 517.3h.01M323.7 533.4h.01M327.4 518.0h.01M322.7 509.6h.01M330.7 517.0h.01M323.2 520.9h.01M327.1 524.7h.01M322.0 507.0h.01M324.9 515.6h.01M326.2 524.3h.01M319.8 506.2h.01M322.2 506.8h.01M323.0 527.2h.01M316.8 509.6h.01M324.5 524.5h.01M324.8 528.2h.01M319.9 515.7h.01M324.8 512.6h.01M323.6 520.8h.01M331.5 526.1h.01M317.6 508.6h.01M319.6 506.1h.01M322.8 513.8h.01M329.5 525.8h.01M315.6 501.0h.01M315.2 504.2h.01M318.2 510.9h.01M322.2 514.0h.01M323.2 508.1h.01M325.5 512.6h.01M322.3 508.3h.01M322.7 515.4h.01M322.8 512.9h.01M318.6 512.3h.01M320.7 509.7h.01M324.3 521.2h.01M321.9 533.2h.01M323.3 527.4h.01M325.1 514.0h.01M319.0 509.0h.01M323.9 528.1h.01M317.6 530.6h.01M320.8 505.2h.01M320.3 513.0h.01M324.0 531.5h.01M321.3 519.5h.01M321.1 521.5h.01M321.9 509.7h.01M324.7 525.2h.01M326.2 528.7h.01M331.3 521.1h.01M326.7 531.9h.01M326.8 512.3h.01M332.0 523.0h.01M327.6 518.2h.01M326.1 518.5h.01M327.7 521.6h.01M328.7 515.7h.01M325.5 526.0h.01M320.8 528.1h.01M331.1 529.0h.01M317.6 508.7h.01M323.1 517.4h.01M320.0 520.4h.01M318.6 524.3h.01M319.3 516.2h.01M319.1 510.8h.01M327.6 506.4h.01M317.4 509.1h.01M329.7 519.0h.01M321.9 517.7h.01M323.7 527.7h.01M316.6 503.6h.01M326.4 516.3h.01M321.7 515.8h.01M329.7 523.5h.01M321.0 530.7h.01M320.9 506.0h.01M329.5 518.0h.01M327.5 507.3h.01M320.8 508.6h.01M318.9 524.0h.01M331.1 507.6h.01M328.9 506.4h.01M331.5 525.9h.01M324.1 521.9h.01M321.1 522.6h.01M323.8 513.5h.01M330.4 535.3h.01M317.8 518.5h.01M317.9 514.4h.01M318.3 510.9h.01M319.5 524.4h.01M328.9 520.2h.01M321.1 510.6h.01M324.5 529.9h.01M322.8 527.7h.01M328.5 530.2h.01M314.3 501.8h.01M330.4 512.6h.01M326.2 526.4h.01M326.1 516.6h.01M324.2 516.6h.01M318.6 512.2h.01M324.5 526.0h.01M323.1 516.6h.01M320.2 520.6h.01M327.5 525.2h.01M328.7 522.1h.01M325.5 524.2h.01M316.5 532.6h.01M318.7 509.9h.01M317.7 510.0h.01M321.7 510.5h.01M318.2 512.8h.01M326.7 529.5h.01M318.6 518.6h.01M319.5 528.9h.01M325.1 513.3h.01M318.6 520.3h.01M313.9 500.3h.01M325.7 522.4h.01M319.8 524.1h.01M331.2 525.5h.01M318.0 500.9h.01M329.2 515.1h.01M329.2 528.5h.01M327.7 522.8h.01M319.7 522.0h.01M322.1 525.1h.01M329.0 513.3h.01M322.4 528.6h.01M323.8 509.5h.01M322.1 523.4h.01M321.0 510.0h.01M319.8 507.4h.01M317.8 510.2h.01M319.4 508.9h.01M327.0 508.3h.01M330.9 524.5h.01M314.2 507.0h.01M321.7 497.7h.01M320.2 509.6h.01M322.2 518.4h.01M326.8 513.0h.01M328.6 536.0h.01M315.6 511.8h.01M324.2 514.1h.01M318.6 514.6h.01M323.6 515.6h.01M317.7 502.6h.01M325.2 514.9h.01M319.8 523.7h.01M321.2 507.1h.01M323.1 524.6h.01M318.4 519.8h.01M321.3 523.1h.01M317.6 511.6h.01M327.3 516.2h.01M315.9 512.2h.01M319.0 506.1h.01M326.7 525.7h.01M315.2 493.6h.01M316.5 500.9h.01M324.2 515.3h.01M320.8 500.5h.01M318.1 498.1h.01M319.8 508.4h.01M318.9 509.8h.01M319.6 508.6h.01M317.7 497.6h.01M323.2 499.8h.01M320.3 500.7h.01M323.8 505.0h.01M317.2 509.2h.01M320.8 512.2h.01M320.8 505.8h.01M321.9 492.4h.01M320.9 498.5h.01M325.1 516.4h.01M322.8 498.8h.01M318.0 490.8h.01M322.4 509.5h.01M322.7 505.7h.01M318.8 510.3h.01M324.3 493.4h.01M320.0 508.0h.01M319.9 489.6h.01M318.7 500.2h.01M322.6 493.1h.01M315.5 498.7h.01M319.0 502.9h.01M320.6 511.2h.01M322.6 507.0h.01M319.1 501.2h.01M322.2 518.2h.01M321.5 509.2h.01M316.2 502.1h.01M328.3 497.7h.01M325.8 511.2h.01M319.4 493.6h.01M315.6 507.8h.01M322.7 503.4h.01M316.6 491.2h.01M321.8 508.6h.01M321.2 489.4h.01M320.9 492.3h.01M320.9 511.4h.01M310.9 503.5h.01M312.8 500.4h.01M321.7 501.4h.01M321.7 501.6h.01M327.6 505.5h.01M320.3 500.9h.01M321.2 508.7h.01M322.6 504.5h.01M322.5 494.8h.01M321.8 498.8h.01M318.6 507.2h.01M324.3 497.2h.01M321.8 507.5h.01M313.1 505.1h.01M318.0 495.4h.01M323.1 511.2h.01M323.0 509.8h.01M319.1 504.9h.01M317.2 499.3h.01M316.8 501.2h.01M320.6 505.1h.01M322.3 500.3h.01M320.5 504.8h.01M316.7 510.5h.01M321.8 526.3h.01M318.3 531.1h.01M314.0 531.8h.01M319.6 530.1h.01M310.5 530.7h.01M303.7 529.5h.01M316.0 528.2h.01M316.3 529.7h.01M321.1 534.2h.01M307.6 535.3h.01M326.5 527.8h.01M314.3 519.4h.01M317.6 527.3h.01M320.4 521.9h.01M318.2 527.1h.01M317.8 531.8h.01M302.5 530.0h.01M313.1 534.1h.01M310.3 528.9h.01M315.6 532.1h.01M323.6 531.0h.01M315.7 537.4h.01M315.2 531.2h.01M321.8 533.3h.01M317.1 533.9h.01M309.0 526.4h.01M323.4 531.2h.01M319.4 528.7h.01M317.5 530.3h.01M320.9 530.6h.01M322.4 531.7h.01M307.9 522.2h.01M318.9 531.8h.01M313.1 524.8h.01M306.4 531.5h.01M319.4 534.4h.01M320.2 529.2h.01M315.1 523.7h.01M322.8 522.8h.01M323.5 533.4h.01M321.6 529.5h.01M316.0 535.0h.01M310.5 524.4h.01M320.1 535.7h.01M306.9 532.0h.01M314.0 531.6h.01M315.0 524.0h.01M315.4 528.2h.01M317.8 534.2h.01M320.4 522.8h.01M308.9 535.9h.01M316.7 531.1h.01M320.5 530.7h.01M320.9 529.8h.01M307.8 534.0h.01M330.9 534.3h.01" stroke="#4d5d9b" stroke-width="0.95" stroke-linecap="round" fill="none" opacity="1.0"/>
<path d="M352.7 521.7h.01M343.6 522.4h.01M345.1 531.5h.01M347.9 535.5h.01M353.5 521.4h.01M355.1 530.5h.01M347.8 536.5h.01M345.9 537.3h.01M345.1 529.3h.01M350.4 530.4h.01M341.4 533.8h.01M348.1 536.9h.01M345.8 532.0h.01M352.3 524.1h.01M343.1 535.8h.01M346.8 536.7h.01M354.0 532.0h.01M350.0 525.1h.01M350.3 533.8h.01M340.1 532.6h.01M347.6 528.8h.01M345.7 536.3h.01M343.9 528.4h.01M343.3 533.0h.01M347.7 535.0h.01M348.5 536.0h.01M351.5 520.5h.01M353.1 523.7h.01M343.3 534.9h.01M347.9 527.9h.01M346.4 529.9h.01M343.7 536.9h.01M348.9 533.4h.01M351.1 537.0h.01M341.7 525.2h.01M347.1 530.9h.01M348.7 527.7h.01M348.8 537.1h.01M344.1 535.8h.01M349.4 531.1h.01M351.3 524.7h.01M346.3 532.8h.01M350.5 535.8h.01M342.9 527.7h.01M350.4 536.9h.01M341.6 534.9h.01M341.0 536.7h.01M355.7 530.7h.01M347.3 531.9h.01M355.2 534.3h.01M343.3 535.1h.01M350.9 529.6h.01M353.0 537.0h.01M341.6 530.3h.01M349.2 529.6h.01M341.1 525.6h.01M353.0 523.5h.01M348.3 529.4h.01M346.6 533.6h.01M342.9 524.7h.01M344.8 534.7h.01M344.8 533.8h.01M347.9 537.0h.01M352.9 528.7h.01M347.4 525.8h.01M340.0 528.1h.01M340.1 531.2h.01M342.8 532.2h.01M342.0 532.7h.01M346.1 534.0h.01M348.6 528.6h.01M346.8 536.2h.01M353.2 524.9h.01M353.9 526.3h.01M342.4 532.8h.01M348.7 520.7h.01M349.0 532.4h.01M347.2 530.4h.01M350.6 537.5h.01M340.3 528.2h.01M345.5 534.5h.01M351.3 524.6h.01M347.9 535.0h.01M342.8 529.7h.01M345.3 525.7h.01M351.4 535.0h.01M343.1 536.6h.01M349.5 534.6h.01M347.3 537.6h.01M344.6 532.2h.01M347.4 528.2h.01M352.7 526.7h.01M349.3 523.5h.01M346.5 526.4h.01M346.2 530.1h.01M341.5 533.1h.01M350.2 525.0h.01M350.5 532.8h.01M350.6 529.3h.01M348.0 534.7h.01M343.3 533.8h.01M345.2 528.4h.01M346.5 529.3h.01M345.9 535.8h.01M347.2 534.6h.01M351.1 529.1h.01M344.8 533.8h.01M348.3 530.9h.01M345.0 527.9h.01M345.5 537.5h.01M346.4 531.5h.01M352.9 530.2h.01M344.0 530.0h.01M346.9 532.1h.01M345.1 532.7h.01M343.0 536.5h.01M352.7 529.6h.01M348.4 535.1h.01M347.3 529.6h.01M345.2 532.6h.01M346.4 525.0h.01M350.3 534.2h.01M347.0 535.5h.01M353.6 531.4h.01M345.7 533.1h.01M343.5 535.1h.01M347.2 525.3h.01M351.3 532.1h.01M345.6 530.7h.01M342.4 531.8h.01M344.8 532.8h.01M346.4 533.4h.01M344.7 533.4h.01M342.2 533.8h.01M344.7 526.9h.01M345.4 535.8h.01M344.8 535.3h.01M353.1 534.6h.01M355.6 533.7h.01M345.0 535.6h.01M345.0 534.6h.01M350.1 532.9h.01M344.2 531.9h.01M345.6 530.9h.01M351.4 529.9h.01M345.4 531.3h.01M341.9 535.0h.01M344.8 535.2h.01M342.5 532.6h.01M345.1 524.3h.01M344.1 529.8h.01M341.8 533.9h.01M343.2 534.9h.01M348.8 537.1h.01M342.4 529.5h.01M341.5 537.2h.01M343.8 535.9h.01M349.0 533.3h.01M345.6 536.0h.01M349.1 536.8h.01M351.7 529.8h.01M339.9 531.6h.01M350.9 533.7h.01M349.3 531.9h.01M344.3 528.1h.01M346.5 531.5h.01M346.9 525.6h.01M342.8 536.5h.01M340.4 529.2h.01M346.1 534.0h.01M346.5 534.6h.01M341.6 534.0h.01M342.6 529.9h.01M344.8 532.7h.01M341.5 528.0h.01M343.6 533.5h.01M352.5 527.6h.01M342.3 537.0h.01M344.8 529.4h.01M347.0 526.0h.01M341.6 528.7h.01M352.3 525.6h.01M350.7 516.3h.01M348.8 521.5h.01M344.6 530.5h.01M340.7 527.7h.01M343.8 532.6h.01M347.0 528.2h.01M341.4 536.7h.01M341.0 534.3h.01M349.5 536.7h.01M346.5 533.8h.01M340.9 533.8h.01M348.7 532.8h.01M345.1 525.9h.01M355.1 526.3h.01M343.9 533.9h.01M348.6 527.9h.01M350.5 530.9h.01M345.5 528.5h.01M347.2 530.8h.01M343.4 525.0h.01M349.8 533.1h.01M344.9 536.0h.01M346.6 525.7h.01M347.9 526.4h.01M352.7 536.8h.01M346.2 533.9h.01M341.0 536.5h.01M351.7 537.5h.01M345.2 530.6h.01M340.8 537.5h.01M348.9 531.3h.01M343.8 532.8h.01M349.9 529.9h.01M344.1 534.8h.01M345.9 534.8h.01M352.2 536.7h.01M350.3 527.4h.01M347.2 533.4h.01M341.3 535.6h.01M340.5 536.9h.01M345.8 537.0h.01M347.2 533.2h.01M343.2 529.3h.01M346.6 531.3h.01M341.5 532.9h.01M348.6 527.1h.01M350.7 530.9h.01M352.6 531.1h.01M343.0 534.2h.01M354.3 524.2h.01M344.9 525.2h.01M352.2 531.9h.01M354.0 532.1h.01M343.5 537.4h.01M342.3 534.5h.01M350.5 536.4h.01M343.8 530.0h.01M346.4 537.5h.01M342.0 533.8h.01M349.3 531.7h.01M342.9 527.3h.01M344.8 535.3h.01M341.5 527.2h.01M345.0 534.7h.01M348.4 527.9h.01M345.8 529.5h.01M345.7 528.3h.01M344.8 535.0h.01M340.4 529.0h.01M341.6 526.5h.01M344.9 530.8h.01M343.7 534.9h.01M346.4 530.4h.01M346.0 531.6h.01M360.2 534.3h.01M346.5 537.3h.01M349.6 535.7h.01M346.8 523.7h.01M350.3 523.9h.01M346.6 525.2h.01M349.8 536.2h.01M351.2 534.8h.01M344.7 532.3h.01M343.3 532.8h.01M345.2 536.1h.01M346.5 535.1h.01M340.2 535.1h.01M341.9 529.0h.01M343.0 533.4h.01M353.5 525.9h.01M345.0 528.8h.01M351.2 528.0h.01M348.8 533.1h.01M351.8 533.8h.01M345.2 530.7h.01M346.8 529.8h.01M344.4 535.1h.01M341.7 528.0h.01M345.2 534.4h.01M349.7 531.8h.01M351.4 533.3h.01M350.0 532.3h.01M345.9 533.4h.01M345.0 536.2h.01M346.6 529.1h.01M350.1 526.1h.01M351.0 529.9h.01M343.9 526.8h.01M353.4 532.4h.01M345.2 526.4h.01M344.2 529.4h.01M347.6 535.3h.01M349.1 533.2h.01M344.2 532.6h.01M346.8 528.9h.01M348.0 527.9h.01M345.7 523.3h.01M342.8 535.5h.01M347.9 520.8h.01M346.5 533.6h.01M345.9 536.4h.01M345.3 534.9h.01M342.2 530.7h.01M343.4 529.3h.01M343.7 531.5h.01M345.3 532.6h.01M345.8 532.2h.01M342.6 530.7h.01M351.4 531.8h.01M347.5 534.1h.01M351.5 530.8h.01M345.2 532.2h.01M345.1 529.3h.01M340.2 535.7h.01M348.8 524.2h.01M344.5 524.9h.01M356.8 530.3h.01M348.4 531.7h.01M343.5 531.2h.01M346.6 526.1h.01M341.0 529.5h.01M344.2 529.7h.01M346.9 526.3h.01M347.4 531.2h.01M345.2 536.5h.01M345.0 525.2h.01M341.1 523.3h.01M344.8 526.7h.01M349.9 532.2h.01M344.0 527.9h.01M344.8 531.1h.01M348.0 533.6h.01M343.2 532.5h.01M343.1 531.4h.01M341.8 535.7h.01M342.4 529.2h.01M347.4 527.3h.01M347.7 534.1h.01M350.6 531.4h.01M343.6 519.9h.01M346.1 531.2h.01M346.9 533.6h.01M350.3 532.8h.01M353.4 527.6h.01M350.4 524.7h.01M343.5 535.6h.01M344.5 533.1h.01M342.1 529.2h.01M348.1 534.3h.01M353.4 532.4h.01M348.1 527.2h.01M347.4 533.1h.01M350.3 534.0h.01M347.0 529.1h.01M343.8 527.4h.01M356.3 537.0h.01M343.5 535.9h.01M345.3 534.6h.01M355.0 534.5h.01M341.4 528.3h.01M348.2 528.2h.01M344.6 527.6h.01M353.1 528.2h.01M349.7 529.2h.01M345.2 525.1h.01M348.0 528.5h.01M347.2 527.5h.01M348.6 534.3h.01M347.5 537.2h.01M347.3 527.0h.01M342.7 535.0h.01M349.4 537.1h.01M342.7 525.2h.01M352.5 522.0h.01M347.0 537.4h.01M350.0 532.3h.01M346.0 528.8h.01M352.0 530.6h.01M347.2 530.0h.01M347.4 535.6h.01M350.0 525.5h.01M346.8 531.0h.01M347.9 529.8h.01M342.3 534.9h.01M349.9 533.8h.01M349.3 536.9h.01M342.0 534.3h.01M346.4 536.1h.01M343.5 533.1h.01M342.0 534.2h.01M343.1 530.9h.01M345.8 533.1h.01M349.8 533.7h.01M341.3 525.2h.01M341.7 526.5h.01M349.5 524.0h.01M343.1 534.8h.01M345.6 532.6h.01M340.0 535.0h.01M344.7 526.5h.01M348.1 533.0h.01M343.5 534.0h.01M344.8 525.4h.01M341.5 533.3h.01M343.5 532.3h.01M344.6 529.3h.01M345.2 527.5h.01M355.9 531.1h.01M349.8 527.4h.01M340.2 521.4h.01M341.8 533.6h.01M343.1 537.1h.01M340.4 533.2h.01M347.5 528.8h.01M344.8 532.6h.01M341.5 534.4h.01M351.3 534.4h.01M344.7 535.9h.01M341.1 526.8h.01M345.1 529.5h.01M340.4 527.1h.01M352.2 517.1h.01M345.5 529.7h.01M346.9 533.5h.01M343.7 535.9h.01M343.8 522.0h.01M347.2 537.4h.01M347.8 527.5h.01M347.2 530.6h.01M343.5 534.4h.01M346.7 530.6h.01M350.5 531.3h.01M345.0 531.2h.01M340.8 534.5h.01M340.5 534.8h.01M348.1 524.8h.01M351.8 531.1h.01M346.7 532.0h.01M346.5 529.2h.01M345.5 525.3h.01M346.4 531.5h.01M347.8 532.1h.01M346.5 537.4h.01M348.1 535.0h.01M347.3 529.7h.01M349.2 525.7h.01M349.6 521.8h.01M344.0 532.6h.01M341.0 533.1h.01M352.9 526.3h.01M341.6 531.7h.01M348.1 533.5h.01M343.0 528.3h.01M344.0 533.4h.01M344.5 529.3h.01M348.1 529.9h.01M347.0 532.7h.01M345.1 535.0h.01M345.8 523.5h.01M348.3 530.0h.01M342.6 531.9h.01M350.0 530.6h.01M348.7 531.6h.01M342.3 527.8h.01M342.9 533.2h.01M345.0 532.2h.01M340.9 534.7h.01M348.8 529.8h.01M346.9 522.9h.01M340.6 535.3h.01M348.0 537.2h.01M343.0 530.1h.01M354.7 528.9h.01M347.0 531.7h.01M345.1 536.2h.01M353.4 535.7h.01M354.5 536.5h.01M345.8 531.8h.01M340.4 530.8h.01M352.6 534.8h.01M348.7 534.7h.01M344.1 526.0h.01M342.0 535.9h.01M350.9 537.3h.01M347.5 531.9h.01M346.5 531.0h.01M345.0 536.7h.01M349.8 534.5h.01M342.1 532.1h.01M340.7 532.4h.01M340.4 534.0h.01M344.4 536.6h.01M346.0 534.5h.01M342.8 524.9h.01M351.8 531.4h.01M345.4 531.8h.01M341.1 527.2h.01M347.3 524.9h.01M347.8 534.5h.01M343.0 534.6h.01M348.1 530.3h.01M346.5 531.0h.01M344.0 534.2h.01M344.4 533.6h.01M348.1 519.3h.01M347.1 528.6h.01M341.3 524.8h.01M345.0 537.3h.01M340.0 532.6h.01M348.2 534.7h.01M344.0 526.5h.01M342.3 534.5h.01M349.7 529.2h.01M345.2 537.5h.01M351.2 535.0h.01M343.6 524.8h.01M344.1 535.2h.01M348.2 530.6h.01M350.3 528.0h.01M344.3 525.1h.01M347.2 530.1h.01M345.5 530.9h.01M345.5 529.8h.01M351.2 522.9h.01M343.6 537.3h.01M343.1 527.4h.01M347.8 532.3h.01M341.4 533.3h.01M340.6 536.5h.01M342.8 533.8h.01M344.7 536.5h.01M345.9 531.0h.01M350.4 526.6h.01M350.7 528.6h.01M344.7 527.5h.01M354.6 534.8h.01M348.2 530.5h.01M347.5 531.9h.01M348.9 533.5h.01M344.8 525.9h.01M345.0 537.5h.01M342.2 534.1h.01M340.2 531.1h.01M342.7 528.7h.01M343.0 534.8h.01M345.7 536.9h.01M340.8 531.4h.01M353.8 534.9h.01M349.9 524.9h.01M346.2 524.8h.01M346.9 526.1h.01M348.0 535.7h.01M350.0 530.7h.01M345.0 527.1h.01M351.6 535.0h.01M351.2 529.6h.01M351.7 526.4h.01M341.6 522.7h.01M355.6 530.2h.01M346.2 536.7h.01M367.5 532.8h.01M358.3 532.0h.01M356.1 515.7h.01M347.0 534.7h.01M347.0 527.2h.01M355.9 520.4h.01M351.0 533.4h.01M360.4 524.5h.01M361.3 530.1h.01M342.5 533.0h.01M352.4 534.0h.01M343.5 524.0h.01M350.5 534.3h.01M345.1 533.4h.01M361.5 530.2h.01M362.1 534.0h.01M345.9 530.3h.01M352.3 530.9h.01M349.9 529.4h.01M347.6 521.4h.01M353.1 527.9h.01M352.3 523.1h.01M355.1 518.2h.01M342.2 531.5h.01M362.9 521.1h.01M358.3 528.7h.01M350.5 532.7h.01M352.2 533.5h.01M358.5 534.2h.01M352.6 529.9h.01M342.6 531.6h.01M348.3 528.8h.01M340.3 531.2h.01M353.0 531.7h.01M355.6 532.9h.01M347.9 534.0h.01M343.7 528.4h.01M367.2 528.8h.01M365.7 532.2h.01M355.7 533.0h.01M348.3 536.3h.01M354.8 533.2h.01M349.8 534.1h.01M358.8 524.2h.01M341.9 534.4h.01M351.8 534.0h.01M342.0 534.7h.01M353.7 528.6h.01M365.8 517.2h.01M360.7 525.4h.01M351.7 527.4h.01M353.2 523.9h.01M360.5 532.5h.01M358.6 530.2h.01M355.5 533.4h.01M361.0 531.4h.01M353.9 532.2h.01M360.9 528.6h.01M360.2 528.2h.01M345.5 536.7h.01M353.4 529.9h.01M362.3 517.9h.01M356.0 519.5h.01M371.3 518.3h.01M347.8 533.5h.01M351.0 531.4h.01M363.2 529.4h.01M344.6 535.1h.01M357.3 525.0h.01M344.8 536.2h.01M349.2 525.4h.01M358.6 526.6h.01M346.5 534.5h.01M348.6 537.3h.01M340.6 537.3h.01M350.8 526.8h.01M345.8 528.6h.01M350.0 523.9h.01M352.1 522.8h.01M352.9 528.3h.01M363.5 525.5h.01M343.7 530.4h.01M350.6 529.8h.01M350.6 534.7h.01M351.4 527.2h.01M366.2 534.1h.01M351.4 524.2h.01M346.5 529.0h.01M357.4 535.5h.01M356.9 527.1h.01M358.1 517.8h.01M355.0 531.8h.01M349.9 535.8h.01M357.2 529.0h.01M356.0 531.5h.01M349.8 534.8h.01M353.6 523.9h.01M356.2 534.9h.01M350.4 532.1h.01M347.4 536.6h.01M340.1 532.8h.01M348.3 518.9h.01M345.5 526.2h.01M363.2 524.5h.01M352.8 531.0h.01M354.3 533.2h.01M355.2 523.4h.01M357.5 531.7h.01M345.4 533.1h.01M356.1 530.1h.01M360.5 531.1h.01M359.7 523.7h.01M346.4 531.0h.01M345.9 532.9h.01M353.3 527.9h.01M342.1 536.1h.01M351.8 530.3h.01M352.0 528.5h.01M353.5 530.2h.01M354.7 535.2h.01M344.5 528.7h.01M349.0 522.2h.01M343.0 531.9h.01M355.3 529.7h.01M351.3 523.0h.01M344.2 531.4h.01M363.7 527.8h.01M342.2 535.8h.01M354.1 521.6h.01M349.1 522.8h.01M346.7 527.7h.01M349.5 521.5h.01M342.0 527.7h.01M345.7 531.0h.01M366.0 524.4h.01M347.4 528.6h.01M351.5 532.3h.01M351.5 526.7h.01M358.6 528.0h.01M355.2 522.8h.01M355.0 525.0h.01M354.6 527.2h.01M357.8 522.9h.01M347.8 520.9h.01M356.3 519.2h.01M354.3 534.7h.01M348.8 528.2h.01M349.1 531.4h.01M354.0 522.5h.01M353.5 521.6h.01M350.7 535.8h.01M349.2 525.4h.01M363.1 526.0h.01M350.1 528.4h.01M353.3 533.3h.01M353.8 526.6h.01M357.0 522.9h.01M352.5 525.5h.01M345.3 525.0h.01M354.4 528.6h.01M355.0 534.0h.01M357.6 522.2h.01M355.8 532.9h.01M348.9 533.7h.01M351.8 534.0h.01M357.9 525.7h.01M355.7 532.0h.01M351.8 522.6h.01M353.6 525.5h.01M356.1 531.1h.01M353.5 523.4h.01M349.6 536.1h.01M350.6 528.2h.01M359.9 531.0h.01M356.3 535.1h.01M345.2 526.1h.01M350.5 520.7h.01M347.6 534.8h.01M356.9 527.7h.01M356.3 533.2h.01M366.4 515.9h.01M350.4 534.6h.01M356.0 530.1h.01M353.3 527.6h.01M359.2 529.4h.01M355.6 531.5h.01M351.9 529.8h.01M346.0 523.9h.01M349.1 527.2h.01M344.3 525.6h.01M343.3 524.1h.01M358.8 535.9h.01M355.8 530.8h.01M349.3 532.8h.01M349.1 531.5h.01M354.2 531.6h.01M342.3 522.5h.01M355.1 531.2h.01M347.8 527.6h.01M349.7 535.1h.01M347.2 525.3h.01M359.0 530.9h.01M353.2 530.1h.01M360.7 528.6h.01M355.9 535.8h.01M355.8 528.4h.01M361.2 532.1h.01M349.0 524.6h.01M351.8 536.1h.01M353.5 522.6h.01M350.5 523.2h.01M350.1 521.0h.01M349.6 531.8h.01M356.6 526.6h.01M351.2 532.7h.01M355.9 532.5h.01M346.3 535.1h.01M352.9 517.6h.01M363.6 528.7h.01M362.3 530.8h.01M358.3 513.4h.01M354.9 530.8h.01M365.4 504.0h.01M365.6 523.5h.01M357.5 527.4h.01M366.3 509.0h.01M363.0 531.5h.01M357.4 535.5h.01M367.4 529.0h.01M360.2 513.6h.01M355.6 523.2h.01M354.6 518.2h.01M351.1 517.7h.01M361.1 520.0h.01M363.8 526.4h.01M356.2 532.1h.01M349.4 534.8h.01M362.4 518.9h.01M355.7 520.6h.01M347.8 523.6h.01M345.0 512.8h.01M352.1 526.9h.01M371.5 520.6h.01M363.5 514.4h.01M367.7 515.5h.01M357.2 531.8h.01M363.9 522.2h.01M353.8 528.8h.01M350.6 525.4h.01M372.1 523.9h.01M370.1 525.6h.01M376.9 506.3h.01M352.0 537.1h.01M360.0 536.2h.01M363.9 499.4h.01M363.2 531.3h.01M355.4 525.7h.01M363.4 511.9h.01" stroke="#b9474f" stroke-width="0.95" stroke-linecap="round" fill="none" opacity="1.0"/>
<path d="M324.7 459.0h.01M327.9 486.7h.01M323.5 490.9h.01M326.0 485.3h.01" stroke="#4d5d9b" stroke-width="1.2" stroke-linecap="round" fill="none" opacity="1.0"/>
<path d="M362.0 474.2h.01M357.6 485.3h.01M355.0 490.9h.01M356.3 489.3h.01M368.9 496.5h.01M362.6 500.8h.01M370.2 515.6h.01M377.1 527.1h.01" stroke="#b9474f" stroke-width="1.2" stroke-linecap="round" fill="none" opacity="1.0"/>
</g>
<line x1="320.27" y1="478.17" x2="326.57" y2="496.86" stroke="#000" stroke-width="0.7"/>
<line x1="311.86" y1="483.54" x2="318.40" y2="494.05" stroke="#000" stroke-width="0.7"/>
<line x1="311.39" y1="495.92" x2="319.57" y2="501.06" stroke="#000" stroke-width="0.7"/>
<line x1="342.92" y1="511.57" x2="344.56" y2="534.93" stroke="#000" stroke-width="0.7"/>
<line x1="346.90" y1="506.20" x2="344.09" y2="533.76" stroke="#000" stroke-width="0.7"/>
<line x1="353.44" y1="502.23" x2="345.26" y2="534.93" stroke="#000" stroke-width="0.7"/>
<line x1="360.91" y1="508.07" x2="346.43" y2="534.93" stroke="#000" stroke-width="0.7"/>
<line x1="366.98" y1="513.21" x2="347.60" y2="535.40" stroke="#000" stroke-width="0.7"/>
<line x1="366.28" y1="519.75" x2="348.76" y2="535.40" stroke="#000" stroke-width="0.7"/>
<line x1="366.98" y1="523.95" x2="349.93" y2="535.63" stroke="#000" stroke-width="0.7"/>
<line x1="366.28" y1="527.92" x2="351.10" y2="535.63" stroke="#000" stroke-width="0.7"/>
<line x1="365.12" y1="531.90" x2="352.27" y2="535.63" stroke="#000" stroke-width="0.7"/>
<line x1="362.78" y1="534.93" x2="353.44" y2="536.10" stroke="#000" stroke-width="0.7"/>
<text x="319.6" y="477.7" font-size="3.4" text-anchor="middle" fill="#222">PCNA</text>
<text x="307.9" y="483.1" font-size="3.4" text-anchor="middle" fill="#222">TOP2A</text>
<text x="306.0" y="495.7" font-size="3.4" text-anchor="middle" fill="#222">MKI67</text>
<text x="337.1" y="511.6" font-size="3.4" text-anchor="middle" fill="#222">NOTCH1</text>
<text x="344.6" y="505.8" font-size="3.4" text-anchor="middle" fill="#222">CD34</text>
<text x="356.5" y="501.8" font-size="3.4" text-anchor="middle" fill="#222">WNT16</text>
<text x="364.4" y="507.6" font-size="3.4" text-anchor="middle" fill="#222">KLF12</text>
<text x="371.7" y="512.8" font-size="3.4" text-anchor="middle" fill="#222">EPAS1</text>
<text x="369.8" y="519.8" font-size="3.4" text-anchor="middle" fill="#222">KLF6</text>
<text x="372.8" y="524.4" font-size="3.4" text-anchor="middle" fill="#222">CD8115</text>
<text x="372.1" y="528.4" font-size="3.4" text-anchor="middle" fill="#222">CD133</text>
<text x="369.8" y="532.6" font-size="3.4" text-anchor="middle" fill="#222">FLT3</text>
<text x="368.6" y="536.1" font-size="3.4" text-anchor="middle" fill="#222">CCR17</text>
<rect x="293.20" y="455.50" width="87.10" height="87.10" fill="none" stroke="#333" stroke-width="0.9"/>
<line x1="298.24" y1="542.60" x2="298.24" y2="544.60" stroke="#333" stroke-width="1" shape-rendering="crispEdges"/>
<text x="298.2" y="551.8" font-size="8.5" text-anchor="middle" fill="#111" stroke="#111" stroke-width="0.22">-6</text>
<line x1="310.86" y1="542.60" x2="310.86" y2="544.60" stroke="#333" stroke-width="1" shape-rendering="crispEdges"/>
<text x="310.9" y="551.8" font-size="8.5" text-anchor="middle" fill="#111" stroke="#111" stroke-width="0.22">-4</text>
<line x1="323.48" y1="542.60" x2="323.48" y2="544.60" stroke="#333" stroke-width="1" shape-rendering="crispEdges"/>
<text x="323.5" y="551.8" font-size="8.5" text-anchor="middle" fill="#111" stroke="#111" stroke-width="0.22">-2</text>
<line x1="336.10" y1="542.60" x2="336.10" y2="544.60" stroke="#333" stroke-width="1" shape-rendering="crispEdges"/>
<text x="336.1" y="551.8" font-size="8.5" text-anchor="middle" fill="#111" stroke="#111" stroke-width="0.22">0</text>
<line x1="348.72" y1="542.60" x2="348.72" y2="544.60" stroke="#333" stroke-width="1" shape-rendering="crispEdges"/>
<text x="348.7" y="551.8" font-size="8.5" text-anchor="middle" fill="#111" stroke="#111" stroke-width="0.22">2</text>
<line x1="361.34" y1="542.60" x2="361.34" y2="544.60" stroke="#333" stroke-width="1" shape-rendering="crispEdges"/>
<text x="361.3" y="551.8" font-size="8.5" text-anchor="middle" fill="#111" stroke="#111" stroke-width="0.22">4</text>
<line x1="373.96" y1="542.60" x2="373.96" y2="544.60" stroke="#333" stroke-width="1" shape-rendering="crispEdges"/>
<text x="374.0" y="551.8" font-size="8.5" text-anchor="middle" fill="#111" stroke="#111" stroke-width="0.22">6</text>
<line x1="291.20" y1="459.70" x2="293.20" y2="459.70" stroke="#333" stroke-width="1" shape-rendering="crispEdges"/>
<text x="290.6" y="462.8" font-size="8.5" text-anchor="end" fill="#111" stroke="#111" stroke-width="0.22">25</text>
<line x1="291.20" y1="476.14" x2="293.20" y2="476.14" stroke="#333" stroke-width="1" shape-rendering="crispEdges"/>
<text x="290.6" y="479.2" font-size="8.5" text-anchor="end" fill="#111" stroke="#111" stroke-width="0.22">20</text>
<line x1="291.20" y1="492.58" x2="293.20" y2="492.58" stroke="#333" stroke-width="1" shape-rendering="crispEdges"/>
<text x="290.6" y="495.6" font-size="8.5" text-anchor="end" fill="#111" stroke="#111" stroke-width="0.22">15</text>
<line x1="291.20" y1="509.02" x2="293.20" y2="509.02" stroke="#333" stroke-width="1" shape-rendering="crispEdges"/>
<text x="290.6" y="512.1" font-size="8.5" text-anchor="end" fill="#111" stroke="#111" stroke-width="0.22">10</text>
<line x1="291.20" y1="525.46" x2="293.20" y2="525.46" stroke="#333" stroke-width="1" shape-rendering="crispEdges"/>
<text x="290.6" y="528.5" font-size="8.5" text-anchor="end" fill="#111" stroke="#111" stroke-width="0.22">5</text>
<line x1="291.20" y1="541.90" x2="293.20" y2="541.90" stroke="#333" stroke-width="1" shape-rendering="crispEdges"/>
<text x="290.6" y="545.0" font-size="8.5" text-anchor="end" fill="#111" stroke="#111" stroke-width="0.22">0</text>
<text x="337" y="450" font-size="8.7" text-anchor="middle" fill="#000" stroke="#000" stroke-width="0.22">Small vs. Large</text>
<text x="335.2" y="563.5" font-size="8.7" text-anchor="middle" fill="#222" stroke="#222" stroke-width="0.22">log2(FoldChange)</text>
<text x="272.3" y="507" font-size="8.7" text-anchor="middle" transform="rotate(-90 272.3 507)" fill="#222" stroke="#222" stroke-width="0.22">-log10(<tspan font-style="italic">P</tspan>-value)</text>
<circle cx="387.00" cy="459.70" r="2" fill="#b9474f"/>
<text x="391" y="462.8" font-size="8.7" fill="#000" stroke="#000" stroke-width="0.22">Up</text>
<rect x="385.20" y="467.90" width="3.60" height="3.60" fill="#4d5d9b"/>
<text x="391" y="472.8" font-size="8.7" fill="#000" stroke="#000" stroke-width="0.22">Down</text>
<text x="431" y="452" font-size="11" font-weight="bold" fill="#000" stroke="#000" stroke-width="0.22">m</text>
<rect x="589.30" y="455.60" width="64.10" height="95.00" fill="#fff"/>
<line x1="592.00" y1="455.60" x2="592.00" y2="550.60" stroke="#ececec" stroke-width="0.6"/>
<line x1="605.00" y1="455.60" x2="605.00" y2="550.60" stroke="#ececec" stroke-width="0.6"/>
<line x1="618.00" y1="455.60" x2="618.00" y2="550.60" stroke="#ececec" stroke-width="0.6"/>
<line x1="631.00" y1="455.60" x2="631.00" y2="550.60" stroke="#ececec" stroke-width="0.6"/>
<line x1="644.00" y1="455.60" x2="644.00" y2="550.60" stroke="#ececec" stroke-width="0.6"/>
<line x1="589.30" y1="463.50" x2="653.40" y2="463.50" stroke="#ececec" stroke-width="0.6"/>
<line x1="589.30" y1="476.87" x2="653.40" y2="476.87" stroke="#ececec" stroke-width="0.6"/>
<line x1="589.30" y1="490.24" x2="653.40" y2="490.24" stroke="#ececec" stroke-width="0.6"/>
<line x1="589.30" y1="503.61" x2="653.40" y2="503.61" stroke="#ececec" stroke-width="0.6"/>
<line x1="589.30" y1="516.98" x2="653.40" y2="516.98" stroke="#ececec" stroke-width="0.6"/>
<line x1="589.30" y1="530.35" x2="653.40" y2="530.35" stroke="#ececec" stroke-width="0.6"/>
<line x1="589.30" y1="543.72" x2="653.40" y2="543.72" stroke="#ececec" stroke-width="0.6"/>
<rect x="592.00" y="459.40" width="57.20" height="8.20" fill="#a50000"/>
<line x1="586.10" y1="463.50" x2="589.30" y2="463.50" stroke="#333" stroke-width="1" shape-rendering="crispEdges"/>
<text x="584" y="466.5" font-size="8.7" text-anchor="end" fill="#000" stroke="#000" stroke-width="0.22">Bone marrow CD34<tspan font-size="5" dy="-3">+</tspan><tspan dy="3"> HSC</tspan></text>
<rect x="592.00" y="472.77" width="49.40" height="8.20" fill="#a50000"/>
<line x1="586.10" y1="476.87" x2="589.30" y2="476.87" stroke="#333" stroke-width="1" shape-rendering="crispEdges"/>
<text x="584" y="479.9" font-size="8.7" text-anchor="end" fill="#000" stroke="#000" stroke-width="0.22">HSC-LSC</text>
<rect x="592.00" y="486.14" width="46.02" height="8.20" fill="#a50000"/>
<line x1="586.10" y1="490.24" x2="589.30" y2="490.24" stroke="#333" stroke-width="1" shape-rendering="crispEdges"/>
<text x="584" y="493.3" font-size="8.7" text-anchor="end" fill="#000" stroke="#000" stroke-width="0.22">Leukemic stem cell</text>
<rect x="592.00" y="499.51" width="44.72" height="8.20" fill="#a50000"/>
<line x1="586.10" y1="503.61" x2="589.30" y2="503.61" stroke="#333" stroke-width="1" shape-rendering="crispEdges"/>
<text x="584" y="506.7" font-size="8.7" text-anchor="end" fill="#000" stroke="#000" stroke-width="0.22">HSC</text>
<rect x="592.00" y="512.88" width="42.12" height="8.20" fill="#a50000"/>
<line x1="586.10" y1="516.98" x2="589.30" y2="516.98" stroke="#333" stroke-width="1" shape-rendering="crispEdges"/>
<text x="584" y="520.0" font-size="8.7" text-anchor="end" fill="#000" stroke="#000" stroke-width="0.22">Hematopoiesis stem cell&#160; long term</text>
<rect x="592.00" y="526.25" width="41.60" height="8.20" fill="#a50000"/>
<line x1="586.10" y1="530.35" x2="589.30" y2="530.35" stroke="#333" stroke-width="1" shape-rendering="crispEdges"/>
<text x="584" y="533.4" font-size="8.7" text-anchor="end" fill="#000" stroke="#000" stroke-width="0.22">Acute myeloid leukemia&#160;</text>
<rect x="592.00" y="539.62" width="40.82" height="8.20" fill="#a50000"/>
<line x1="586.10" y1="543.72" x2="589.30" y2="543.72" stroke="#333" stroke-width="1" shape-rendering="crispEdges"/>
<text x="584" y="546.8" font-size="8.7" text-anchor="end" fill="#000" stroke="#000" stroke-width="0.22">Hematopoietic stem cell homeostasis</text>
<rect x="589.30" y="455.60" width="64.10" height="95.00" fill="none" stroke="#b0b0b0" stroke-width="0.8"/>
<line x1="592.00" y1="550.60" x2="592.00" y2="552.60" stroke="#333" stroke-width="1" shape-rendering="crispEdges"/>
<text x="592.0" y="560.2" font-size="7.2" text-anchor="middle" fill="#222" stroke="#222" stroke-width="0.22">0.0</text>
<line x1="605.00" y1="550.60" x2="605.00" y2="552.60" stroke="#333" stroke-width="1" shape-rendering="crispEdges"/>
<text x="605.0" y="560.2" font-size="7.2" text-anchor="middle" fill="#222" stroke="#222" stroke-width="0.22">0.5</text>
<line x1="618.00" y1="550.60" x2="618.00" y2="552.60" stroke="#333" stroke-width="1" shape-rendering="crispEdges"/>
<text x="618.0" y="560.2" font-size="7.2" text-anchor="middle" fill="#222" stroke="#222" stroke-width="0.22">1.0</text>
<line x1="631.00" y1="550.60" x2="631.00" y2="552.60" stroke="#333" stroke-width="1" shape-rendering="crispEdges"/>
<text x="631.0" y="560.2" font-size="7.2" text-anchor="middle" fill="#222" stroke="#222" stroke-width="0.22">1.5</text>
<line x1="644.00" y1="550.60" x2="644.00" y2="552.60" stroke="#333" stroke-width="1" shape-rendering="crispEdges"/>
<text x="644.0" y="560.2" font-size="7.2" text-anchor="middle" fill="#222" stroke="#222" stroke-width="0.22">2.0</text>
<text x="620" y="449.5" font-size="8.7" text-anchor="middle" fill="#000" stroke="#000" stroke-width="0.22">Small vs. Large</text>
<text x="621" y="570.5" font-size="8.7" text-anchor="middle" fill="#000" stroke="#000" stroke-width="0.22">NES</text>
<text x="667" y="490.3" font-size="8.7" fill="#000" stroke="#000" stroke-width="0.22">Up</text>
<rect x="667.20" y="497.00" width="12.20" height="12.60" fill="#a50000"/>
<text x="0.5" y="576.7" font-size="11" font-weight="bold" fill="#000" stroke="#000" stroke-width="0.22">n</text>
<rect x="26.00" y="595.80" width="87.00" height="86.40" fill="#fff"/>
<clipPath id="cp202"><rect x="26" y="595.8" width="87" height="86.40000000000009"/></clipPath>
<g clip-path="url(#cp202)">
<line x1="67.20" y1="595.80" x2="67.20" y2="682.20" stroke="#cfcfcf" stroke-width="0.8" stroke-dasharray="5 2.5"/>
<line x1="71.60" y1="595.80" x2="71.60" y2="682.20" stroke="#cfcfcf" stroke-width="0.8" stroke-dasharray="5 2.5"/>
<line x1="26.00" y1="680.59" x2="113.00" y2="680.59" stroke="#cfcfcf" stroke-width="0.8" stroke-dasharray="5 2.5"/>
<polygon points="67.2,681.6 67.2,679.3 68.3,677.0 70.5,677.0 71.6,679.3 71.6,681.6" fill="#b4b4b4" opacity="0.45" filter="url(#b1)"/>
<path d="M69.6 679.4h.01M66.9 681.4h.01M67.3 679.2h.01M65.2 680.7h.01M71.5 680.6h.01M69.9 678.7h.01M66.7 681.1h.01M67.2 680.7h.01M69.0 678.9h.01M70.2 676.2h.01M69.3 680.4h.01M68.9 680.3h.01M66.0 681.3h.01M70.0 681.4h.01M72.2 680.8h.01M67.3 681.4h.01M69.3 671.1h.01M70.5 681.0h.01M70.3 674.9h.01M70.3 680.7h.01M70.9 677.1h.01M69.2 680.7h.01M68.5 656.0h.01M72.8 681.4h.01M69.0 680.7h.01M69.9 679.5h.01M67.1 681.2h.01M69.1 680.9h.01M67.9 679.8h.01M68.8 666.2h.01M69.1 668.2h.01M69.2 666.7h.01M65.6 681.5h.01M72.5 680.7h.01M71.1 676.8h.01M72.5 680.6h.01M68.6 669.6h.01M71.8 681.5h.01M70.3 681.0h.01M71.5 681.4h.01M71.0 677.1h.01M69.6 678.9h.01M69.1 681.1h.01M69.2 678.0h.01M69.6 681.3h.01M69.6 677.1h.01M71.4 681.6h.01M68.9 680.7h.01M68.1 680.6h.01M66.6 681.1h.01M71.5 675.6h.01M69.9 678.6h.01M69.7 676.9h.01M68.1 678.9h.01M68.9 679.0h.01M69.0 677.5h.01M69.6 681.5h.01M71.6 681.2h.01M71.8 681.1h.01M68.5 672.9h.01M68.7 679.6h.01M67.4 672.8h.01M67.5 679.6h.01M68.6 680.9h.01M70.3 678.3h.01M71.6 680.8h.01M67.8 678.1h.01M69.9 680.4h.01M71.8 681.3h.01M68.8 678.7h.01M71.7 680.9h.01M65.8 680.7h.01M70.0 679.3h.01M67.8 678.9h.01M71.6 681.0h.01M70.2 675.0h.01M66.8 680.9h.01M73.5 681.0h.01M70.0 676.7h.01M73.5 681.0h.01M69.8 680.7h.01M70.5 670.9h.01M66.8 680.9h.01M70.4 674.5h.01M69.1 667.5h.01M70.5 681.0h.01M71.2 681.5h.01M69.4 680.1h.01M69.6 681.0h.01M67.6 681.3h.01M71.6 679.7h.01M70.1 676.8h.01M70.4 678.2h.01M70.4 679.9h.01M68.9 675.7h.01M68.1 677.0h.01M67.1 681.3h.01M70.8 670.8h.01M69.3 673.5h.01M68.0 677.4h.01M71.2 671.1h.01M67.3 678.3h.01M67.8 670.5h.01M71.8 681.1h.01M68.9 679.9h.01M67.1 681.4h.01M68.6 679.1h.01M68.7 675.2h.01M68.0 667.2h.01M70.7 677.8h.01M68.3 675.7h.01M69.1 679.6h.01M68.5 674.0h.01M65.1 681.4h.01M71.7 681.4h.01M68.3 681.4h.01M69.4 678.8h.01M71.7 681.6h.01M70.0 673.8h.01M69.2 678.7h.01M70.4 676.5h.01M66.3 681.2h.01M68.2 680.3h.01M69.3 681.5h.01M66.9 680.9h.01M72.2 681.5h.01M68.4 678.4h.01M71.0 678.6h.01M70.0 677.2h.01M68.4 677.2h.01M70.4 681.1h.01M69.5 677.5h.01M71.7 680.8h.01M66.6 681.0h.01M67.5 680.1h.01M67.6 678.8h.01M70.4 679.7h.01M70.6 668.2h.01M69.9 681.3h.01M71.4 681.3h.01M67.1 681.1h.01M69.2 662.7h.01M67.0 680.7h.01M69.8 681.0h.01M69.5 672.5h.01M68.5 675.5h.01M70.1 681.4h.01M66.0 681.5h.01M68.8 671.3h.01M69.7 680.8h.01M69.7 681.1h.01M72.2 680.7h.01M68.1 673.9h.01M71.1 681.3h.01M69.3 676.4h.01M71.1 680.1h.01M68.3 677.8h.01M70.0 679.3h.01M69.3 678.1h.01M69.2 669.3h.01M69.8 681.5h.01M75.9 681.4h.01M73.2 681.1h.01M76.3 681.5h.01M74.5 681.5h.01M69.2 681.6h.01M58.1 681.2h.01M63.2 681.5h.01M69.0 681.5h.01M74.1 681.3h.01M75.3 680.9h.01M62.0 681.6h.01M68.4 681.4h.01M67.5 681.5h.01M65.7 681.5h.01M78.6 681.4h.01M87.0 681.5h.01M58.4 681.5h.01M85.9 681.5h.01M63.6 680.9h.01M68.0 681.5h.01M70.2 681.5h.01M65.9 681.5h.01M67.8 681.5h.01M69.6 681.5h.01M56.7 681.5h.01M67.7 681.6h.01M65.6 681.3h.01M66.5 681.2h.01M58.3 681.3h.01M72.3 681.6h.01M83.6 680.9h.01M75.5 681.3h.01M60.8 681.3h.01M58.2 681.6h.01M77.8 681.1h.01M69.1 681.5h.01M57.4 681.3h.01M78.9 681.1h.01M68.4 681.5h.01M50.2 681.3h.01M80.7 681.2h.01M67.7 681.6h.01M62.7 681.2h.01M58.2 681.4h.01M75.5 681.2h.01M59.5 680.8h.01M80.8 681.6h.01M75.1 681.5h.01M63.9 681.5h.01M74.6 681.4h.01M55.2 681.3h.01M67.2 680.8h.01M84.4 681.2h.01M80.3 681.5h.01M66.8 681.5h.01M80.4 680.9h.01M69.2 681.6h.01M57.6 681.5h.01M66.4 681.6h.01M67.4 681.0h.01M54.5 681.1h.01M71.0 681.5h.01M77.0 681.1h.01M72.9 681.2h.01M70.1 681.4h.01M73.6 681.5h.01M82.5 681.5h.01M70.3 680.9h.01M63.1 680.9h.01M84.8 681.4h.01M64.5 681.6h.01M74.3 681.4h.01M62.3 681.6h.01M82.6 681.1h.01M57.7 681.3h.01M73.4 681.3h.01M74.7 681.6h.01M68.2 681.6h.01M70.8 680.9h.01M65.1 681.1h.01M80.6 681.6h.01M62.8 680.8h.01M54.3 681.4h.01M75.7 681.5h.01M70.6 681.5h.01M65.6 681.6h.01M63.8 681.0h.01M72.3 680.9h.01M61.8 681.2h.01M72.6 681.3h.01M72.6 681.5h.01M67.4 681.5h.01M73.4 681.5h.01M80.2 681.5h.01M65.6 681.6h.01M67.3 681.0h.01M75.1 681.3h.01M82.1 681.6h.01M73.6 681.2h.01M73.6 681.5h.01M74.3 681.2h.01M67.2 681.6h.01M49.4 681.5h.01M73.6 681.6h.01M63.2 681.1h.01M76.9 681.6h.01M71.4 681.3h.01M67.2 681.6h.01M73.1 681.3h.01M63.6 681.4h.01M72.1 681.4h.01M60.2 681.1h.01M80.5 681.4h.01M69.9 681.4h.01M73.7 681.6h.01M63.0 681.3h.01M75.2 681.5h.01M62.9 681.2h.01M72.2 681.2h.01" stroke="#b4b4b4" stroke-width="1.0" stroke-linecap="round" fill="none" opacity="1.0"/>
<polygon points="67.2,681.6 67.2,673.1 63.9,671.5 60.2,673.1 56.6,676.2 53.3,679.3 51.8,681.6" fill="#4d5d9b" opacity="0.45" filter="url(#b1)"/>
<polygon points="71.6,681.6 71.6,670.8 74.9,667.6 78.6,668.4 82.2,671.5 85.9,674.6 88.8,677.7 91.4,680.1 92.1,681.6" fill="#b9474f" opacity="0.45" filter="url(#b1)"/>
<path d="M58.4 673.0h.01M58.5 676.5h.01M67.0 676.5h.01M53.9 672.5h.01M59.3 672.0h.01M55.3 672.8h.01M65.5 680.3h.01M66.1 677.6h.01M64.1 676.6h.01M60.9 678.7h.01M63.5 675.7h.01M63.2 678.5h.01M57.7 679.2h.01M58.4 677.8h.01M54.7 673.3h.01M63.3 675.5h.01M65.2 675.9h.01M65.3 676.5h.01M64.0 677.9h.01M59.8 677.2h.01M53.2 670.3h.01M62.5 677.5h.01M66.3 677.7h.01M60.7 670.8h.01M65.6 677.1h.01M66.6 677.8h.01M64.7 680.6h.01M58.2 671.3h.01M66.2 675.2h.01M63.5 674.1h.01M59.3 672.3h.01M62.7 676.7h.01M66.7 676.3h.01M65.7 671.0h.01M65.6 670.8h.01M59.4 672.9h.01M63.1 675.1h.01M65.5 669.3h.01M64.3 674.5h.01M66.4 677.6h.01M60.5 679.9h.01M62.8 676.7h.01M64.7 677.6h.01M56.2 678.3h.01M64.8 677.0h.01M58.1 676.6h.01M66.1 676.7h.01M58.6 673.7h.01M56.8 675.1h.01M57.7 674.8h.01M65.2 679.4h.01M63.9 675.8h.01M60.9 674.2h.01M67.1 677.0h.01M63.8 680.0h.01M59.7 679.5h.01M59.2 678.6h.01M64.8 680.0h.01M64.3 669.7h.01M57.0 676.8h.01M55.0 674.2h.01M64.2 679.4h.01M54.0 673.5h.01M58.1 676.8h.01M62.9 675.6h.01M51.5 673.8h.01M62.9 677.0h.01M59.9 676.0h.01M57.5 676.5h.01M63.4 672.3h.01M63.3 673.2h.01M65.3 677.4h.01M57.5 678.8h.01M53.2 676.1h.01M62.5 675.1h.01M64.3 677.0h.01M57.9 679.6h.01M56.1 675.8h.01M60.2 678.6h.01M63.3 676.4h.01M62.7 679.1h.01M66.8 675.4h.01M64.6 679.2h.01M55.4 672.8h.01M58.5 678.0h.01M61.7 674.3h.01M56.7 680.2h.01M64.3 678.8h.01M65.1 674.9h.01M64.1 678.3h.01M51.3 677.5h.01M65.7 674.1h.01M63.2 679.8h.01M63.2 671.6h.01M55.5 674.8h.01M64.7 676.1h.01M56.6 679.3h.01M64.6 674.8h.01M65.2 677.6h.01M60.0 673.5h.01M60.7 673.3h.01M66.9 674.3h.01M55.3 671.1h.01M60.3 675.5h.01M62.8 676.2h.01M65.9 677.1h.01M61.7 671.3h.01M62.4 677.2h.01M56.4 673.6h.01M64.7 674.7h.01M59.4 674.0h.01M61.3 679.4h.01M56.7 673.9h.01M57.1 676.1h.01M58.8 676.5h.01M64.3 673.3h.01M62.5 677.0h.01M64.5 678.5h.01M61.0 680.0h.01M67.1 679.9h.01M56.2 677.6h.01M56.5 672.7h.01M56.3 677.6h.01M58.0 670.8h.01M57.5 675.8h.01M55.5 677.1h.01M66.9 677.2h.01M58.9 669.2h.01M59.9 670.8h.01M56.8 678.1h.01M62.7 676.3h.01M54.2 673.6h.01M64.4 673.7h.01M62.3 677.5h.01M59.7 678.7h.01M51.1 675.4h.01M61.8 671.4h.01M65.1 675.7h.01M65.9 675.2h.01M65.3 676.1h.01M65.8 674.2h.01M66.5 670.3h.01M65.9 677.8h.01M60.4 679.5h.01M57.4 672.4h.01M60.3 677.7h.01M58.0 673.1h.01M64.9 676.8h.01M58.5 680.3h.01M66.2 679.4h.01M54.4 676.5h.01M61.6 670.3h.01M64.0 680.0h.01M60.3 679.3h.01M67.1 674.4h.01M66.7 674.0h.01M60.6 679.1h.01M53.8 667.4h.01M61.9 672.1h.01M61.4 674.4h.01M62.7 674.2h.01M53.7 679.7h.01M63.7 674.1h.01M66.8 679.9h.01M59.1 675.3h.01M62.7 677.8h.01M58.9 675.8h.01M63.7 676.3h.01M60.4 679.3h.01M62.6 676.8h.01M63.3 680.3h.01M59.4 676.0h.01M62.4 678.5h.01M56.9 674.8h.01M63.1 679.5h.01M54.0 679.2h.01M61.0 675.6h.01M59.8 679.6h.01M64.5 676.6h.01M65.8 678.8h.01M62.1 678.8h.01M65.0 680.2h.01M58.9 678.1h.01M66.9 678.0h.01M63.4 675.4h.01M65.1 678.9h.01M67.1 673.6h.01M52.9 679.2h.01M63.8 679.5h.01M61.2 680.5h.01M61.8 674.0h.01M59.3 678.3h.01M61.0 680.3h.01M59.6 675.7h.01M66.3 674.7h.01M62.2 673.8h.01M57.9 678.5h.01M56.7 674.2h.01M62.2 674.5h.01M66.2 679.8h.01M50.4 676.8h.01M61.1 678.0h.01M62.3 674.3h.01M64.3 679.9h.01M58.0 677.2h.01M61.4 673.2h.01M66.4 673.0h.01M64.9 678.7h.01M59.1 678.6h.01M67.2 678.0h.01M65.6 677.1h.01M56.9 677.7h.01M62.4 680.4h.01M65.3 679.1h.01M55.2 671.9h.01M50.5 676.7h.01M60.1 673.7h.01M59.5 679.4h.01M56.5 677.2h.01M59.7 672.9h.01M60.3 672.6h.01M59.9 677.9h.01M64.3 676.2h.01M61.2 674.6h.01M60.3 675.5h.01M53.9 678.6h.01M57.1 674.0h.01M52.0 678.1h.01M64.9 680.6h.01M60.0 675.2h.01M55.1 677.6h.01M59.6 677.7h.01M52.4 675.9h.01M66.5 676.4h.01M66.9 676.0h.01M62.8 674.8h.01M58.9 674.7h.01M54.5 676.1h.01M59.7 672.2h.01M56.5 677.6h.01M65.9 678.6h.01M57.3 678.6h.01M59.2 676.0h.01M65.0 677.8h.01M56.7 675.9h.01M62.6 677.7h.01M64.8 678.1h.01M66.5 677.3h.01M64.4 675.1h.01M62.4 675.0h.01M62.8 675.0h.01M55.8 677.7h.01M56.6 670.0h.01M57.4 677.8h.01M63.2 676.4h.01M52.1 672.5h.01M63.8 677.5h.01M66.7 678.7h.01M65.7 674.7h.01M66.8 677.2h.01M64.2 677.8h.01M59.4 678.9h.01M58.1 678.6h.01M61.0 676.0h.01M55.0 676.6h.01M63.7 676.6h.01M65.8 675.3h.01M60.0 678.8h.01M63.5 680.6h.01M59.6 672.0h.01M65.8 672.4h.01M57.3 675.5h.01M61.4 673.5h.01M60.0 676.2h.01M59.9 674.2h.01M66.6 679.9h.01M66.9 677.1h.01M59.8 673.8h.01M62.4 677.5h.01M63.9 675.0h.01M62.1 678.2h.01M61.2 679.8h.01M60.2 680.0h.01M56.4 671.3h.01M51.8 672.9h.01M66.9 674.7h.01M66.0 676.6h.01M57.0 670.1h.01M57.0 678.7h.01M62.6 675.7h.01M66.4 676.6h.01M59.1 680.0h.01M59.6 673.8h.01M66.5 670.1h.01M60.6 680.4h.01M64.5 679.1h.01M61.2 676.9h.01M63.6 680.5h.01M65.9 671.9h.01M58.7 678.4h.01M64.1 677.2h.01M62.6 677.9h.01M66.5 676.1h.01M54.9 676.1h.01M59.7 679.2h.01M63.0 675.0h.01M56.7 668.0h.01M64.8 680.5h.01M62.5 680.5h.01M51.4 675.8h.01M66.2 676.9h.01M64.8 672.7h.01M53.1 676.2h.01M53.4 678.6h.01M61.6 673.0h.01M66.8 679.2h.01M61.5 670.9h.01M63.0 680.3h.01M66.0 679.8h.01M64.8 678.4h.01M54.9 677.3h.01M55.4 676.6h.01M60.3 672.9h.01M62.0 677.5h.01M65.8 678.4h.01M55.5 673.9h.01M64.0 671.3h.01M65.1 672.4h.01M57.2 680.5h.01M57.0 674.6h.01M57.2 677.2h.01M58.5 674.9h.01M61.5 678.0h.01M56.3 679.3h.01M57.6 677.3h.01M62.3 678.1h.01M63.4 680.5h.01M65.6 676.5h.01M61.2 676.8h.01M61.1 672.0h.01M62.1 676.1h.01M65.7 673.2h.01M65.7 674.4h.01M65.7 674.3h.01M62.6 671.0h.01M66.6 674.7h.01M64.7 678.4h.01M64.3 677.0h.01M64.9 680.3h.01M64.7 674.1h.01M65.3 672.7h.01M63.3 674.1h.01M60.4 675.3h.01M61.3 670.6h.01M61.7 673.6h.01M61.0 673.1h.01M65.9 677.9h.01M59.8 672.3h.01M63.9 680.0h.01M62.5 676.2h.01M62.8 677.7h.01M57.1 671.9h.01M61.8 677.2h.01M57.4 680.4h.01M60.8 678.3h.01M59.0 677.7h.01M61.3 673.4h.01M64.5 676.2h.01M62.8 670.4h.01M64.2 677.5h.01M63.3 675.2h.01M53.6 680.2h.01M65.0 674.8h.01M61.4 680.4h.01M61.0 679.0h.01M62.6 674.2h.01M52.4 674.9h.01M57.4 679.2h.01M60.9 676.3h.01M65.1 680.1h.01M64.3 679.5h.01M62.2 663.8h.01M56.3 677.2h.01M62.0 678.2h.01M62.5 671.2h.01M63.2 675.0h.01M63.8 675.7h.01M61.1 673.7h.01M54.2 678.5h.01M64.6 671.6h.01M66.9 677.0h.01M66.5 676.4h.01M66.7 677.5h.01M64.8 670.5h.01M55.8 680.3h.01M65.4 676.1h.01M61.6 679.7h.01M63.5 672.2h.01M57.8 671.1h.01M62.3 674.2h.01M64.6 674.6h.01M59.9 676.1h.01M62.9 680.6h.01M66.6 680.6h.01M62.9 680.0h.01M56.9 679.2h.01M63.7 677.4h.01M62.2 675.5h.01M62.6 678.4h.01M66.1 672.9h.01M59.5 678.0h.01M59.9 674.2h.01M55.7 675.6h.01M66.9 673.7h.01M63.5 677.7h.01M67.1 679.9h.01M62.1 680.0h.01M61.0 675.5h.01M59.1 678.7h.01M61.2 679.2h.01M62.6 676.1h.01M62.4 674.2h.01M58.2 675.5h.01M57.8 677.9h.01M63.0 677.6h.01M58.3 680.1h.01M65.5 672.7h.01M61.7 680.3h.01M65.4 671.3h.01M65.4 678.4h.01M66.3 678.8h.01M65.1 668.6h.01M58.7 673.8h.01M67.0 678.3h.01M64.6 673.6h.01M62.9 679.1h.01M59.4 674.1h.01M63.4 679.9h.01M57.0 678.5h.01M66.0 669.8h.01M53.1 673.7h.01M55.8 673.4h.01M64.4 679.9h.01M64.7 678.0h.01M64.1 678.6h.01M60.1 676.5h.01M66.1 673.3h.01M60.2 674.2h.01M59.5 669.9h.01M62.3 676.3h.01M65.1 674.4h.01M64.1 678.9h.01M60.4 672.1h.01M63.5 679.3h.01M63.7 674.7h.01M65.8 675.1h.01M58.0 671.5h.01M63.2 678.7h.01M55.1 673.0h.01M62.2 678.1h.01M64.5 676.0h.01M60.8 679.3h.01M57.5 679.5h.01M59.0 675.5h.01M67.1 679.5h.01M65.6 674.7h.01M62.3 679.9h.01M65.8 671.1h.01M67.1 680.6h.01M63.5 674.8h.01M55.8 673.9h.01M63.2 675.2h.01M64.1 678.2h.01M63.7 669.7h.01M62.0 677.4h.01M61.7 677.6h.01M63.3 677.3h.01M63.3 674.5h.01M56.1 673.1h.01M64.2 677.6h.01M66.8 671.3h.01M65.4 674.6h.01M51.6 679.0h.01M61.0 675.5h.01M62.8 679.8h.01M61.1 679.2h.01M63.4 677.2h.01M63.2 678.8h.01M58.5 676.2h.01M58.1 674.8h.01M66.2 673.3h.01M59.5 673.6h.01M62.8 679.3h.01M60.7 675.5h.01M63.2 678.2h.01M58.6 677.9h.01M62.0 676.1h.01M63.3 680.1h.01M62.3 680.2h.01M62.9 676.5h.01M64.3 678.9h.01M64.8 673.1h.01M55.3 672.1h.01M56.2 677.5h.01M59.4 678.6h.01M65.5 679.8h.01M57.3 679.0h.01M57.1 671.4h.01M56.5 679.0h.01M54.7 676.7h.01M64.4 673.0h.01M57.4 675.6h.01M64.4 677.6h.01M59.6 673.0h.01M63.4 677.4h.01M54.8 677.4h.01M62.7 677.4h.01M60.8 680.3h.01M63.7 678.5h.01M67.0 672.2h.01M59.6 677.8h.01M59.3 676.8h.01M59.4 678.1h.01M60.3 680.3h.01M55.9 676.5h.01M58.9 677.9h.01M57.3 673.9h.01M62.4 676.5h.01M64.5 677.3h.01M59.2 672.2h.01M65.8 677.5h.01M57.6 670.5h.01M64.9 680.0h.01M60.7 676.6h.01M65.1 673.7h.01M65.0 677.3h.01M63.9 679.8h.01M67.1 668.1h.01M64.0 677.1h.01M58.2 675.6h.01M59.6 675.3h.01M63.5 680.4h.01M55.1 677.5h.01M57.3 676.2h.01M60.7 678.3h.01M62.1 676.1h.01M61.1 678.0h.01M52.3 661.5h.01M55.8 677.5h.01M65.9 677.8h.01M60.1 672.6h.01M65.7 676.4h.01M64.3 679.9h.01M67.0 676.8h.01M60.4 679.8h.01M63.5 676.4h.01M57.1 673.0h.01M65.7 676.6h.01M64.2 675.9h.01M54.3 672.7h.01M63.8 677.7h.01M57.5 677.9h.01M64.6 676.0h.01M60.1 676.8h.01M61.1 680.5h.01M61.8 674.4h.01M62.3 677.7h.01M57.5 675.6h.01M58.5 673.4h.01M67.0 679.3h.01M58.8 672.4h.01M61.2 672.2h.01M60.8 679.6h.01M61.5 677.1h.01M60.6 679.3h.01M65.1 679.6h.01M63.8 676.1h.01M60.4 673.1h.01M62.1 678.9h.01M62.9 677.7h.01M61.6 673.7h.01M61.0 675.9h.01M59.7 673.8h.01M63.4 673.5h.01M63.5 671.9h.01M54.9 680.5h.01M62.9 677.1h.01M59.6 674.9h.01M62.6 678.7h.01M60.1 680.0h.01M58.4 676.5h.01M61.2 677.9h.01M63.4 674.6h.01M58.1 669.6h.01M62.2 673.9h.01M58.5 674.2h.01M62.5 677.8h.01M62.5 679.9h.01M58.0 679.6h.01M52.0 674.1h.01M63.0 668.6h.01M54.2 675.1h.01M65.9 674.8h.01M63.5 677.0h.01M60.6 674.3h.01M53.7 673.1h.01M65.2 673.1h.01M65.0 677.5h.01M56.0 670.5h.01M57.1 680.0h.01M65.1 676.7h.01M64.3 672.3h.01M61.0 676.0h.01M60.7 678.0h.01M66.6 680.4h.01M56.9 678.2h.01M64.4 672.3h.01M61.2 675.2h.01M58.5 670.4h.01M57.6 674.0h.01M54.2 674.9h.01M65.9 680.5h.01M51.8 677.6h.01M61.8 676.3h.01M55.3 673.8h.01M54.8 674.0h.01M59.7 676.1h.01M63.4 677.8h.01M63.6 680.3h.01M63.8 679.5h.01M62.3 678.2h.01M57.6 675.9h.01M61.2 677.3h.01M64.4 680.2h.01M60.2 677.3h.01M62.5 678.5h.01M65.8 677.7h.01M59.7 676.3h.01M64.7 676.1h.01M63.2 677.6h.01M66.7 669.6h.01M66.0 676.7h.01M61.8 679.3h.01M65.5 675.8h.01M57.4 675.1h.01M58.4 676.2h.01M63.5 674.5h.01M56.9 672.6h.01M63.3 672.5h.01M53.7 675.4h.01M66.5 676.8h.01M60.4 673.4h.01M65.4 677.3h.01M59.8 677.8h.01M57.1 677.4h.01M45.4 667.4h.01M58.9 675.5h.01M63.4 675.7h.01M60.3 672.5h.01M63.0 667.5h.01M50.1 670.4h.01M62.9 667.1h.01M57.6 664.0h.01M52.0 670.5h.01M54.6 676.3h.01M52.1 670.0h.01M50.8 667.0h.01M57.7 674.9h.01M55.7 659.7h.01M57.4 673.2h.01M61.7 671.5h.01M67.1 675.4h.01M65.6 670.7h.01M56.2 677.0h.01M61.0 667.9h.01M61.8 674.6h.01M63.2 671.0h.01M54.6 678.2h.01M58.7 674.5h.01M58.1 661.4h.01M56.8 673.0h.01M57.5 670.9h.01M64.0 678.7h.01M60.5 678.1h.01M58.7 670.5h.01M55.4 670.8h.01M44.9 666.8h.01M58.8 672.9h.01M65.9 667.1h.01M66.9 680.2h.01M60.9 669.8h.01M53.8 675.5h.01M59.9 666.8h.01M57.3 667.3h.01M53.1 664.7h.01M62.1 670.0h.01M55.9 664.1h.01M57.7 667.6h.01M51.7 665.2h.01M62.1 674.0h.01M54.3 668.8h.01M57.0 675.4h.01M60.5 676.7h.01M55.9 673.5h.01M58.3 673.9h.01M62.6 666.6h.01M57.4 671.0h.01M54.2 673.4h.01M55.2 667.5h.01M53.3 671.6h.01M54.7 668.9h.01M61.2 679.8h.01M59.0 675.3h.01M54.2 675.1h.01M50.6 672.1h.01M58.0 672.6h.01M60.5 667.0h.01M63.0 675.2h.01M56.0 661.2h.01M60.8 670.9h.01M62.5 678.6h.01M62.1 678.4h.01M55.8 666.7h.01M57.5 674.4h.01M54.0 674.0h.01M61.2 669.0h.01M65.9 677.0h.01M60.8 675.5h.01M66.8 663.8h.01M52.5 672.3h.01M58.9 669.8h.01M65.9 671.5h.01M65.9 670.0h.01M60.4 672.0h.01M62.8 673.8h.01M49.2 674.9h.01M56.5 665.8h.01M52.4 669.9h.01M65.9 671.5h.01M61.4 671.5h.01M64.3 676.8h.01M64.3 673.9h.01M63.8 672.2h.01M54.3 664.0h.01M62.7 675.1h.01M63.2 677.9h.01M62.4 679.3h.01M59.6 668.5h.01M60.7 674.6h.01M64.3 679.0h.01M54.9 669.8h.01M59.4 670.7h.01M51.7 659.7h.01M57.6 660.6h.01M58.4 675.2h.01M63.5 675.8h.01M59.0 677.4h.01M58.4 680.2h.01M63.3 672.5h.01M65.7 668.2h.01M64.0 674.2h.01M55.7 668.5h.01M60.7 674.5h.01M58.4 669.5h.01M53.9 675.8h.01M59.7 675.3h.01M59.4 654.3h.01M58.7 674.4h.01M57.4 659.7h.01M56.6 676.0h.01M65.3 678.8h.01M57.1 670.1h.01M62.2 671.2h.01M65.8 679.3h.01M60.5 662.4h.01M48.3 673.2h.01M56.8 671.8h.01M55.9 672.6h.01M66.6 676.8h.01M61.7 675.3h.01M61.6 660.3h.01M55.6 670.1h.01M60.1 677.7h.01M59.3 669.6h.01M48.8 668.2h.01M45.9 662.0h.01M52.3 662.1h.01M64.4 668.1h.01M64.2 673.3h.01M63.1 663.3h.01M59.3 673.8h.01M65.0 680.2h.01M60.8 667.9h.01M58.3 665.4h.01M57.6 665.5h.01M54.1 669.0h.01M55.9 667.4h.01M58.9 667.4h.01M63.7 671.1h.01M60.5 675.2h.01M63.7 673.9h.01M59.7 669.8h.01M50.7 659.1h.01M63.0 672.9h.01M56.2 665.6h.01M58.3 677.1h.01M60.8 666.4h.01M60.2 672.3h.01M66.4 668.5h.01M55.3 677.3h.01M60.1 673.3h.01M62.3 672.3h.01M62.7 674.7h.01M56.4 676.2h.01M56.8 676.5h.01M60.4 666.0h.01M53.4 666.7h.01M55.8 660.7h.01M66.6 679.7h.01M58.8 668.8h.01M58.1 674.5h.01M58.9 672.9h.01M57.2 673.7h.01M59.3 667.7h.01M63.3 673.6h.01M47.5 674.5h.01M59.5 668.2h.01M60.2 677.5h.01M55.2 674.3h.01M63.2 671.8h.01M56.8 678.2h.01M55.7 667.4h.01M57.5 669.4h.01M65.2 669.6h.01M62.0 678.4h.01M57.2 669.7h.01M51.7 671.8h.01M61.5 676.8h.01M56.6 666.5h.01M57.2 666.5h.01M65.5 676.3h.01M61.1 677.1h.01M56.4 667.5h.01M58.3 675.1h.01M66.7 667.2h.01M56.6 670.1h.01M59.7 678.2h.01M55.5 668.9h.01M58.2 662.7h.01M58.6 666.2h.01M60.1 667.4h.01M59.4 669.1h.01M59.3 671.2h.01M52.9 667.9h.01M59.8 670.8h.01M62.3 671.9h.01M61.1 669.9h.01M55.2 677.0h.01M65.1 638.0h.01M55.9 657.9h.01M65.8 659.4h.01M55.9 678.9h.01M50.4 668.7h.01M59.7 659.1h.01M57.6 645.9h.01M52.8 650.8h.01M63.1 655.5h.01M59.6 658.8h.01M60.6 655.7h.01M55.5 657.7h.01M62.7 668.1h.01M58.1 655.8h.01M58.6 668.1h.01M60.0 663.3h.01M61.1 658.6h.01M50.8 651.5h.01M53.2 657.8h.01M56.1 658.7h.01M55.8 656.2h.01M43.4 657.9h.01M58.6 650.5h.01M60.1 662.2h.01M56.9 648.5h.01M61.8 657.5h.01M60.9 653.2h.01M65.8 655.0h.01M56.7 664.3h.01M51.8 635.5h.01M59.5 658.5h.01M62.0 661.9h.01M61.3 658.7h.01M58.2 676.5h.01M55.2 661.2h.01M62.9 665.6h.01M55.9 664.2h.01M55.1 646.8h.01M56.7 661.7h.01M64.1 665.2h.01M55.5 664.2h.01M53.3 650.1h.01M58.5 652.3h.01M52.9 648.0h.01M53.4 656.7h.01M58.8 653.1h.01M54.3 657.6h.01M52.9 666.4h.01M61.0 660.8h.01M58.1 678.9h.01M64.0 663.9h.01M64.8 657.2h.01M66.5 653.2h.01M62.3 659.4h.01M63.2 671.7h.01M42.9 676.7h.01M42.5 679.2h.01M46.7 678.8h.01M61.9 671.9h.01M52.7 676.2h.01M55.8 673.5h.01M42.0 676.4h.01M52.8 668.8h.01M49.8 680.1h.01M51.4 673.6h.01M54.6 673.3h.01M63.1 673.8h.01M50.1 678.6h.01M49.2 673.7h.01M36.9 676.3h.01M43.0 677.4h.01M52.7 673.3h.01M54.1 679.9h.01M41.9 678.5h.01M58.2 675.8h.01M41.0 676.3h.01M54.7 670.3h.01M50.9 676.3h.01M66.8 677.8h.01M59.0 672.4h.01M49.8 674.7h.01M49.3 678.0h.01M57.4 668.8h.01M56.3 672.9h.01M56.9 673.7h.01M51.7 670.1h.01M58.2 667.7h.01M32.7 677.2h.01M51.7 673.1h.01M37.3 675.6h.01M52.3 672.7h.01" stroke="#4d5d9b" stroke-width="0.95" stroke-linecap="round" fill="none" opacity="1.0"/>
<path d="M82.0 671.0h.01M78.8 674.6h.01M92.9 674.2h.01M78.2 679.2h.01M79.6 677.8h.01M79.4 676.7h.01M79.1 676.8h.01M83.3 680.0h.01M84.7 670.6h.01M78.7 675.9h.01M73.2 677.9h.01M79.2 672.7h.01M75.8 675.1h.01M81.6 678.6h.01M79.8 677.4h.01M74.8 679.8h.01M74.7 673.9h.01M72.5 676.7h.01M84.2 672.3h.01M80.4 679.3h.01M81.1 673.9h.01M80.3 674.5h.01M82.0 676.6h.01M78.4 678.6h.01M77.0 678.4h.01M81.3 672.1h.01M74.6 680.5h.01M77.0 671.3h.01M80.5 674.3h.01M85.6 670.7h.01M86.5 671.1h.01M81.3 664.0h.01M78.8 679.3h.01M81.3 674.6h.01M75.1 671.3h.01M79.9 672.5h.01M73.5 675.8h.01M80.9 673.4h.01M84.2 677.6h.01M78.2 677.0h.01M78.2 676.5h.01M72.2 673.3h.01M74.0 678.4h.01M79.2 678.5h.01M77.3 672.9h.01M72.3 678.0h.01M82.3 672.0h.01M77.5 680.2h.01M81.5 674.6h.01M79.3 675.9h.01M75.9 672.9h.01M82.4 673.7h.01M84.3 676.5h.01M88.6 672.4h.01M85.8 671.6h.01M78.3 675.4h.01M83.2 677.0h.01M80.5 678.8h.01M87.6 678.6h.01M83.8 672.9h.01M82.3 676.3h.01M74.2 679.6h.01M73.3 678.5h.01M76.8 676.6h.01M71.9 675.4h.01M81.4 676.2h.01M84.2 675.5h.01M73.0 670.5h.01M78.9 674.6h.01M82.4 674.0h.01M76.9 676.2h.01M78.3 673.9h.01M81.0 675.9h.01M77.9 673.8h.01M86.7 677.2h.01M73.4 668.8h.01M80.1 672.5h.01M83.5 677.1h.01M84.4 675.6h.01M81.1 676.2h.01M75.1 677.7h.01M73.7 675.4h.01M84.4 674.1h.01M83.0 671.2h.01M78.3 677.4h.01M78.8 677.1h.01M79.1 676.0h.01M90.0 677.5h.01M92.1 677.9h.01M73.4 677.7h.01M84.7 673.5h.01M73.1 676.8h.01M80.4 671.5h.01M81.4 671.3h.01M75.0 673.6h.01M77.2 675.1h.01M80.3 668.5h.01M78.0 676.2h.01M73.0 678.8h.01M76.3 678.4h.01M78.9 670.5h.01M79.4 673.3h.01M84.2 677.0h.01M76.0 674.2h.01M85.2 675.7h.01M82.8 668.4h.01M76.8 679.0h.01M77.3 673.8h.01M89.2 678.1h.01M85.0 678.9h.01M76.2 675.2h.01M82.3 678.6h.01M82.7 678.1h.01M79.6 679.7h.01M82.8 673.5h.01M90.6 679.5h.01M83.1 671.2h.01M77.9 673.9h.01M75.0 676.1h.01M89.5 678.3h.01M75.3 676.5h.01M79.4 677.5h.01M82.0 678.0h.01M81.4 676.2h.01M77.7 671.3h.01M80.3 679.4h.01M75.3 675.4h.01M78.5 677.2h.01M82.7 677.2h.01M72.9 674.7h.01M75.3 671.9h.01M79.6 674.3h.01M76.0 675.4h.01M80.2 676.1h.01M77.7 679.9h.01M80.8 676.6h.01M72.7 673.2h.01M81.7 676.6h.01M81.1 676.1h.01M73.1 675.1h.01M76.1 677.0h.01M74.1 674.2h.01M87.4 675.9h.01M76.3 674.6h.01M87.6 674.0h.01M75.4 674.9h.01M86.4 677.6h.01M74.4 671.9h.01M71.9 676.8h.01M77.5 677.2h.01M77.3 671.1h.01M82.3 674.6h.01M74.7 673.8h.01M75.3 667.8h.01M80.1 675.3h.01M89.1 676.6h.01M74.5 679.6h.01M77.6 676.8h.01M85.9 673.9h.01M73.9 673.8h.01M77.1 678.6h.01M83.1 674.6h.01M81.2 668.5h.01M73.8 675.7h.01M79.1 672.4h.01M81.7 677.3h.01M86.7 674.4h.01M78.3 677.2h.01M81.9 677.5h.01M86.7 679.8h.01M87.4 677.2h.01M85.7 677.2h.01M77.6 675.9h.01M75.9 670.9h.01M80.2 676.6h.01M85.2 678.2h.01M84.6 669.1h.01M80.1 673.2h.01M78.1 674.0h.01M75.6 678.8h.01M72.4 680.2h.01M78.0 676.2h.01M75.2 674.9h.01M81.2 676.1h.01M87.0 669.3h.01M75.6 674.7h.01M74.3 674.8h.01M76.3 671.5h.01M79.5 676.8h.01M74.4 675.4h.01M77.7 680.4h.01M80.5 672.2h.01M82.2 675.9h.01M76.8 678.0h.01M72.8 676.1h.01M73.6 666.4h.01M73.9 675.7h.01M84.3 678.4h.01M79.4 677.9h.01M85.6 679.2h.01M80.5 678.8h.01M73.4 675.4h.01M79.7 678.4h.01M79.2 677.6h.01M80.1 672.7h.01M73.5 679.8h.01M76.7 680.3h.01M82.8 676.6h.01M77.9 676.7h.01M80.0 676.3h.01M79.6 679.8h.01M74.4 669.4h.01M72.0 678.6h.01M78.7 675.7h.01M79.8 674.5h.01M77.5 678.0h.01M83.3 673.2h.01M79.8 678.7h.01M88.1 668.5h.01M78.9 673.6h.01M79.1 679.8h.01M82.7 677.8h.01M77.4 672.3h.01M79.3 670.6h.01M76.0 674.2h.01M75.7 677.3h.01M77.3 680.6h.01M78.6 675.1h.01M89.8 678.7h.01M85.6 679.0h.01M84.8 676.1h.01M80.7 674.3h.01M84.0 675.8h.01M77.5 679.2h.01M75.7 674.0h.01M84.9 677.2h.01M85.4 672.4h.01M72.0 674.2h.01M74.0 672.7h.01M78.8 679.4h.01M76.7 680.1h.01M80.7 673.9h.01M79.2 676.1h.01M77.9 675.0h.01M75.5 674.7h.01M84.0 678.1h.01M80.9 677.4h.01M84.1 679.8h.01M83.9 673.4h.01M80.9 675.1h.01M79.7 677.0h.01M78.4 671.1h.01M79.5 671.2h.01M77.5 673.7h.01M79.1 676.5h.01M79.8 678.9h.01M75.9 680.5h.01M80.9 673.2h.01M79.6 675.4h.01M78.0 663.7h.01M75.1 678.6h.01M82.6 676.7h.01M82.4 671.0h.01M84.9 679.7h.01M72.8 680.0h.01M82.6 674.1h.01M75.4 676.8h.01M76.8 677.3h.01M81.6 677.1h.01M80.6 674.2h.01M80.6 671.4h.01M83.1 673.7h.01M78.8 675.8h.01M75.0 678.5h.01M72.6 680.3h.01M85.0 675.9h.01M80.4 680.4h.01M77.3 678.1h.01M79.9 668.8h.01M73.9 679.4h.01M73.2 679.3h.01M83.3 672.9h.01M73.4 672.8h.01M75.3 675.1h.01M77.7 676.0h.01M81.1 671.8h.01M84.1 675.2h.01M86.8 673.4h.01M79.6 675.7h.01M75.0 675.1h.01M80.2 678.7h.01M79.9 674.5h.01M73.6 673.9h.01M77.9 676.3h.01M82.3 676.0h.01M77.9 678.4h.01M74.0 672.9h.01M79.8 673.5h.01M73.9 676.7h.01M75.8 671.0h.01M77.2 679.2h.01M81.3 678.2h.01M72.9 680.3h.01M82.4 677.9h.01M82.5 672.2h.01M80.2 679.3h.01M72.3 675.0h.01M78.1 675.2h.01M83.6 678.5h.01M81.4 679.4h.01M81.7 677.6h.01M82.2 680.3h.01M78.1 679.5h.01M78.3 675.4h.01M76.9 678.7h.01M78.7 676.2h.01M76.1 675.7h.01M77.1 672.9h.01M81.5 676.2h.01M77.9 679.3h.01M77.0 679.1h.01M74.8 672.0h.01M72.7 677.7h.01M77.5 670.6h.01M83.8 679.2h.01M74.3 679.5h.01M75.8 673.8h.01M84.4 677.2h.01M83.1 671.1h.01M76.1 677.3h.01M73.8 678.0h.01M75.3 674.7h.01M76.5 680.1h.01M73.3 677.3h.01M80.3 676.5h.01M84.4 676.5h.01M82.6 678.8h.01M72.2 676.1h.01M72.9 675.3h.01M82.2 675.5h.01M89.4 680.4h.01M73.2 671.9h.01M81.8 677.8h.01M79.4 676.8h.01M79.5 676.3h.01M78.8 670.2h.01M71.9 674.1h.01M85.8 679.0h.01M76.1 668.5h.01M82.6 676.0h.01M79.9 671.1h.01M76.0 676.6h.01M73.9 676.4h.01M82.3 675.6h.01M78.1 672.8h.01M72.0 670.9h.01M72.1 680.2h.01M73.5 673.2h.01M85.9 672.3h.01M85.9 673.5h.01M72.1 679.8h.01M84.3 677.7h.01M74.9 673.7h.01M81.9 675.0h.01M77.9 678.4h.01M84.0 679.1h.01M82.9 671.4h.01M71.6 679.9h.01M80.8 677.2h.01M71.8 678.7h.01M83.6 670.1h.01M73.1 669.7h.01M87.6 679.5h.01M87.9 671.1h.01M79.2 674.7h.01M73.4 677.1h.01M80.5 680.0h.01M81.3 675.2h.01M75.0 670.9h.01M79.3 677.9h.01M76.4 676.5h.01M86.8 676.2h.01M83.3 670.2h.01M77.8 667.7h.01M74.6 674.7h.01M84.4 674.7h.01M74.5 676.6h.01M88.4 677.1h.01M79.0 674.8h.01M80.1 673.4h.01M75.3 675.0h.01M79.1 672.3h.01M77.5 670.6h.01M84.1 671.9h.01M75.4 674.1h.01M96.7 667.7h.01M82.4 673.9h.01M75.0 679.4h.01M86.9 672.6h.01M77.5 674.6h.01M75.5 675.7h.01M75.5 672.1h.01M75.2 674.4h.01M74.9 669.0h.01M75.3 679.6h.01M78.7 673.1h.01M83.5 672.0h.01M77.3 680.1h.01M79.1 671.8h.01M78.7 671.3h.01M74.9 675.3h.01M80.1 677.0h.01M74.4 677.8h.01M81.4 674.7h.01M75.1 677.1h.01M75.0 672.6h.01M78.5 676.0h.01M73.4 676.4h.01M75.0 676.2h.01M77.8 680.1h.01M86.4 671.9h.01M80.5 676.9h.01M74.8 676.8h.01M85.4 675.6h.01M81.7 674.4h.01M81.5 676.5h.01M82.9 676.5h.01M77.6 677.0h.01M78.1 678.8h.01M89.0 679.8h.01M83.6 672.9h.01M78.9 678.1h.01M79.9 675.9h.01M78.2 669.4h.01M75.8 675.6h.01M82.6 675.9h.01M78.0 674.9h.01M77.0 676.9h.01M83.6 674.5h.01M75.5 671.9h.01M82.1 677.2h.01M79.6 679.0h.01M77.2 671.1h.01M82.2 677.8h.01M81.7 675.9h.01M72.1 676.4h.01M74.1 675.6h.01M90.2 677.4h.01M78.3 679.7h.01M83.9 675.8h.01M84.0 678.7h.01M83.0 677.6h.01M79.3 677.8h.01M79.0 679.4h.01M72.3 672.7h.01M76.3 679.2h.01M80.7 680.2h.01M82.5 670.3h.01M81.6 675.1h.01M77.0 669.0h.01M80.0 674.6h.01M77.8 673.4h.01M75.0 674.7h.01M85.0 678.0h.01M80.0 675.5h.01M78.6 673.5h.01M82.5 678.7h.01M80.1 679.8h.01M79.4 676.7h.01M83.6 677.1h.01M76.6 669.4h.01M83.7 674.7h.01M73.5 674.2h.01M79.1 675.7h.01M76.7 673.9h.01M89.4 674.1h.01M78.3 678.8h.01M79.9 672.4h.01M79.9 672.7h.01M80.0 672.2h.01M79.9 675.9h.01M78.1 671.4h.01M75.7 675.6h.01M76.6 676.3h.01M85.4 673.3h.01M77.5 672.6h.01M81.1 675.3h.01M81.1 671.9h.01M72.4 666.9h.01M79.2 677.3h.01M82.5 675.2h.01M75.0 677.9h.01M83.8 676.2h.01M80.7 674.4h.01M75.6 678.1h.01M75.0 677.7h.01M83.2 671.6h.01M84.5 678.3h.01M73.1 678.5h.01M77.0 672.8h.01M83.3 677.2h.01M74.2 676.3h.01M72.1 673.9h.01M82.8 679.2h.01M90.4 664.2h.01M81.0 664.4h.01M72.6 678.1h.01M79.1 672.0h.01M81.9 674.0h.01M86.2 670.9h.01M73.4 676.8h.01M78.3 672.2h.01M90.1 669.6h.01M78.1 679.9h.01M74.2 674.8h.01M76.4 679.3h.01M72.9 679.9h.01M82.0 670.4h.01M82.5 673.8h.01M76.5 677.8h.01M80.3 675.2h.01M74.7 678.5h.01M81.6 674.7h.01M81.0 676.2h.01M80.1 670.8h.01M78.8 680.5h.01M73.8 679.5h.01M88.8 676.0h.01M78.0 676.6h.01M81.0 679.1h.01M81.7 676.3h.01M84.3 671.8h.01M84.9 677.9h.01M81.7 675.5h.01M73.7 671.4h.01M73.9 674.6h.01M86.2 675.5h.01M81.7 675.0h.01M77.8 679.0h.01M81.3 675.3h.01M82.3 672.8h.01M79.4 678.4h.01M85.5 678.2h.01M83.1 680.5h.01M78.6 674.7h.01M75.5 677.0h.01M74.3 672.0h.01M91.2 674.6h.01M86.8 679.4h.01M84.3 679.7h.01M74.1 673.1h.01M73.4 675.6h.01M78.8 671.4h.01M75.1 670.4h.01M75.4 676.0h.01M84.5 674.6h.01M73.5 674.9h.01M71.8 672.9h.01M77.9 677.1h.01M78.7 680.2h.01M79.1 677.6h.01M80.9 675.2h.01M82.3 673.1h.01M78.5 670.7h.01M89.3 678.9h.01M79.7 673.2h.01M82.4 679.5h.01M76.3 677.9h.01M75.7 676.4h.01M85.0 677.0h.01M76.5 670.2h.01M74.8 674.7h.01M82.0 679.8h.01M72.9 679.3h.01M77.2 673.4h.01M78.8 680.3h.01M74.7 668.3h.01M78.6 675.4h.01M77.5 674.7h.01M75.9 672.8h.01M88.5 676.4h.01M76.7 669.5h.01M76.1 679.5h.01M84.0 674.7h.01M80.7 676.0h.01M77.5 679.2h.01M75.3 673.8h.01M73.7 676.0h.01M90.7 674.2h.01M73.0 677.1h.01M77.7 673.7h.01M78.4 675.6h.01M75.6 679.1h.01M77.8 674.2h.01M79.9 675.8h.01M74.2 675.5h.01M81.4 672.0h.01M78.0 678.3h.01M76.6 669.1h.01M81.6 680.3h.01M77.6 673.2h.01M82.3 670.7h.01M83.4 674.2h.01M78.0 676.4h.01M82.6 675.1h.01M90.4 677.0h.01M75.7 672.5h.01M75.9 669.3h.01M73.1 680.0h.01M78.5 678.3h.01M77.4 677.6h.01M80.1 677.1h.01M81.0 678.0h.01M74.4 679.0h.01M85.0 677.0h.01M80.8 675.6h.01M84.6 680.3h.01M73.9 677.4h.01M85.4 672.9h.01M77.7 670.3h.01M81.4 677.5h.01M75.3 677.8h.01M81.6 674.7h.01M71.9 677.7h.01M82.9 677.9h.01M73.4 672.0h.01M82.1 673.4h.01M77.6 676.7h.01M80.1 675.6h.01M72.2 679.7h.01M71.9 671.7h.01M85.7 679.0h.01M74.9 679.5h.01M83.2 675.4h.01M81.8 674.2h.01M72.3 671.3h.01M77.2 679.5h.01M83.3 676.0h.01M85.6 672.7h.01M82.0 679.6h.01M71.9 674.1h.01M72.0 674.7h.01M73.5 676.5h.01M74.6 679.0h.01M77.7 676.1h.01M79.0 676.5h.01M85.5 677.7h.01M75.3 673.6h.01M80.3 674.2h.01M74.1 678.8h.01M83.8 674.3h.01M79.1 678.9h.01M75.2 674.6h.01M78.3 679.9h.01M82.1 668.6h.01M76.9 674.0h.01M88.5 679.1h.01M81.5 677.3h.01M89.4 680.5h.01M85.4 676.5h.01M77.9 676.2h.01M78.9 680.4h.01M78.8 674.1h.01M79.4 679.3h.01M81.2 676.0h.01M77.2 676.6h.01M76.3 674.0h.01M85.0 677.9h.01M78.5 677.4h.01M74.6 677.9h.01M77.7 673.4h.01M74.0 677.1h.01M75.9 677.9h.01M76.7 673.0h.01M82.1 678.7h.01M82.0 677.9h.01M80.5 675.4h.01M72.3 676.7h.01M73.9 680.4h.01M78.7 671.4h.01M73.2 676.7h.01M82.8 677.5h.01M84.7 675.5h.01M75.7 677.2h.01M86.7 675.1h.01M83.0 676.2h.01M82.9 672.4h.01M71.8 678.7h.01M74.7 672.8h.01M73.1 677.4h.01M79.5 674.5h.01M88.2 668.6h.01M89.4 677.0h.01M80.3 678.9h.01M79.3 666.5h.01M78.8 678.0h.01M71.8 671.6h.01M81.0 668.2h.01M79.1 675.4h.01M81.4 670.8h.01M82.8 671.6h.01M80.8 678.4h.01M78.1 670.0h.01M83.2 670.3h.01M80.3 679.0h.01M74.0 674.2h.01M78.4 677.1h.01M82.7 677.4h.01M76.9 679.1h.01M86.5 678.3h.01M85.3 675.7h.01M77.3 676.9h.01M78.6 676.7h.01M76.7 676.3h.01M76.1 679.3h.01M75.3 669.3h.01M74.7 677.4h.01M79.3 675.9h.01M74.4 678.4h.01M77.1 676.3h.01M75.8 671.8h.01M74.3 675.4h.01M82.5 678.2h.01M86.4 675.1h.01M77.7 679.3h.01M79.1 677.1h.01M75.1 676.0h.01M76.0 677.7h.01M81.1 673.7h.01M76.9 675.6h.01M79.8 673.7h.01M79.5 679.7h.01M80.9 675.4h.01M78.7 669.8h.01M74.6 676.3h.01M75.4 677.6h.01M81.7 680.5h.01M83.3 673.5h.01M74.7 676.2h.01M74.8 677.5h.01M83.2 674.8h.01M79.2 674.6h.01M75.1 675.8h.01M77.4 678.4h.01M75.7 674.1h.01M84.6 675.1h.01M85.2 673.8h.01M75.6 676.6h.01M84.2 673.6h.01M73.7 675.9h.01M72.4 673.9h.01M76.7 680.2h.01M76.8 674.0h.01M74.4 677.7h.01M78.5 665.7h.01M81.7 670.4h.01M76.6 676.8h.01M81.0 674.8h.01M80.6 671.3h.01M82.6 677.1h.01M77.0 678.8h.01M73.1 679.6h.01M78.9 674.6h.01M75.0 677.2h.01M78.0 669.6h.01M75.5 680.1h.01M74.4 672.1h.01M77.8 676.8h.01M77.8 675.5h.01M78.1 675.5h.01M85.3 676.2h.01M74.6 676.8h.01M72.9 671.4h.01M75.3 670.6h.01M75.1 675.2h.01M74.9 675.3h.01M78.2 680.3h.01M74.3 675.2h.01M74.6 676.7h.01M81.5 678.9h.01M73.8 667.0h.01M76.0 674.5h.01M72.0 678.6h.01M88.2 672.1h.01M78.5 668.4h.01M74.9 673.1h.01M78.6 671.1h.01M85.6 675.7h.01M81.7 679.0h.01M73.9 670.3h.01M78.9 676.3h.01M79.3 668.1h.01M79.3 679.3h.01M77.0 677.9h.01M76.6 668.2h.01M79.8 679.2h.01M73.5 677.2h.01M83.7 669.9h.01M75.8 677.3h.01M73.9 678.6h.01M80.0 676.0h.01M76.0 670.3h.01M87.0 675.7h.01M78.9 675.0h.01M71.6 673.1h.01M77.2 676.0h.01M75.8 671.1h.01M74.6 676.3h.01M82.4 676.5h.01M72.6 673.7h.01M73.9 679.9h.01M77.6 673.2h.01M77.4 675.6h.01M82.9 669.1h.01M78.4 677.6h.01M74.8 679.9h.01M79.1 670.5h.01M81.3 674.5h.01M81.4 676.4h.01M84.4 678.9h.01M83.5 678.9h.01M82.0 671.0h.01M80.7 676.2h.01M73.0 676.2h.01M79.0 671.7h.01M82.9 679.6h.01M76.7 673.9h.01M76.0 677.4h.01M82.1 679.8h.01M75.9 676.4h.01M81.6 676.3h.01M73.5 678.1h.01M76.2 677.2h.01M74.2 672.7h.01M77.1 677.0h.01M86.9 676.7h.01M78.6 673.7h.01M75.2 678.8h.01M75.3 671.1h.01M75.5 679.6h.01M81.7 678.7h.01M80.8 680.4h.01M75.7 679.9h.01M82.0 678.0h.01M81.9 678.7h.01M79.8 680.3h.01M78.5 678.1h.01M73.3 678.8h.01M84.8 673.6h.01M84.4 677.6h.01M81.4 678.0h.01M74.1 672.6h.01M79.4 669.8h.01M77.3 675.4h.01M76.5 674.3h.01M79.0 676.5h.01M78.7 673.1h.01M75.1 679.7h.01M74.8 671.6h.01M74.4 674.3h.01M84.3 678.6h.01M79.0 675.0h.01M78.3 673.3h.01M75.8 679.4h.01M81.9 676.4h.01M88.0 678.0h.01M76.4 678.9h.01M72.6 676.0h.01M74.4 678.4h.01M79.1 674.2h.01M74.2 679.7h.01M76.8 677.7h.01M77.1 670.1h.01M82.7 671.9h.01M73.7 677.0h.01M77.4 675.3h.01M77.2 671.6h.01M79.1 674.3h.01M78.4 674.6h.01M78.8 674.2h.01M75.2 674.6h.01M80.2 674.5h.01M85.9 678.5h.01M77.3 677.0h.01M75.2 679.7h.01M82.0 671.1h.01M82.9 672.4h.01M76.2 673.0h.01M74.7 676.9h.01M83.0 675.0h.01M80.3 674.3h.01M80.7 675.0h.01M78.7 678.8h.01M74.1 676.7h.01M84.0 674.4h.01M78.8 677.1h.01M83.8 671.7h.01M71.8 673.2h.01M85.4 675.1h.01M74.5 678.4h.01M76.7 677.7h.01M74.5 676.6h.01M84.8 668.0h.01M76.9 675.1h.01M78.1 674.0h.01M74.7 676.4h.01M86.5 665.8h.01M84.9 674.8h.01M85.8 673.6h.01M76.5 678.1h.01M80.0 679.9h.01M76.2 666.3h.01M76.3 676.0h.01M80.2 674.3h.01M79.7 673.4h.01M76.7 673.3h.01M82.2 672.3h.01M83.2 677.5h.01M78.0 671.5h.01M81.1 676.8h.01M81.3 677.8h.01M82.9 670.3h.01M81.0 679.9h.01M89.0 675.1h.01M82.0 672.2h.01M82.8 674.3h.01M82.5 674.7h.01M85.1 676.5h.01M83.2 676.3h.01M75.4 678.5h.01M80.1 678.9h.01M73.6 676.8h.01M75.3 678.6h.01M78.2 669.4h.01M87.6 675.4h.01M77.3 674.1h.01M78.0 678.7h.01M84.2 678.7h.01M78.5 677.5h.01M78.8 671.8h.01M84.0 676.1h.01M79.9 669.9h.01M80.1 676.5h.01M76.0 677.4h.01M79.6 676.3h.01M76.6 675.3h.01M73.5 675.5h.01M81.7 675.0h.01M76.5 675.3h.01M83.5 675.0h.01M77.8 676.1h.01M75.8 675.0h.01M76.3 675.9h.01M72.4 677.9h.01M74.5 673.8h.01M73.8 679.8h.01M84.5 671.4h.01M78.3 673.8h.01M83.0 677.6h.01M82.5 673.3h.01M73.0 680.1h.01M79.0 674.6h.01M84.5 674.9h.01M82.4 676.1h.01M74.0 678.1h.01M74.9 667.8h.01M84.7 675.3h.01M82.7 679.4h.01M76.0 678.8h.01M78.2 674.5h.01M80.4 676.9h.01M74.9 671.9h.01M75.8 672.4h.01M80.6 672.2h.01M75.8 673.7h.01M71.8 679.2h.01M89.3 673.4h.01M82.9 672.4h.01M79.3 679.5h.01M86.5 677.0h.01M74.6 675.0h.01M73.8 675.9h.01M73.8 674.0h.01M79.2 678.8h.01M88.7 670.1h.01M77.3 675.1h.01M85.1 676.6h.01M72.6 679.8h.01M83.0 675.7h.01M74.8 678.7h.01M86.4 679.4h.01M86.0 678.4h.01M83.1 677.6h.01M77.7 673.3h.01M72.5 668.0h.01M82.9 672.0h.01M81.8 677.0h.01M79.3 678.2h.01M84.5 674.4h.01M77.2 677.8h.01M75.2 673.4h.01M73.9 674.6h.01M76.8 678.5h.01M83.3 675.9h.01M75.8 673.7h.01M91.2 670.6h.01M75.5 677.2h.01M71.8 674.6h.01M80.5 678.8h.01M79.5 674.9h.01M76.9 672.8h.01M82.0 680.1h.01M82.4 675.9h.01M79.3 673.9h.01M75.0 670.8h.01M78.1 676.5h.01M74.0 676.9h.01M72.5 680.2h.01M75.7 677.4h.01M74.5 677.7h.01M73.7 680.0h.01M77.1 670.2h.01M80.3 670.1h.01M78.0 676.2h.01M80.9 670.0h.01M74.6 677.9h.01M83.8 678.5h.01M75.0 675.9h.01M75.5 679.6h.01M85.4 677.6h.01M75.3 670.1h.01M74.8 673.6h.01M73.5 679.4h.01M87.0 679.8h.01M84.3 675.5h.01M74.8 675.5h.01M82.5 672.4h.01M81.5 676.1h.01M76.9 675.2h.01M74.5 678.9h.01M82.5 675.0h.01M80.2 676.8h.01M83.0 679.3h.01M73.5 672.9h.01M75.5 673.2h.01M90.0 679.7h.01M81.8 671.8h.01M90.4 671.7h.01M79.6 678.8h.01M76.9 675.8h.01M78.8 672.2h.01M73.5 678.5h.01M77.6 679.1h.01M80.0 675.7h.01M72.7 674.6h.01M80.0 674.1h.01M75.0 680.4h.01M77.8 677.9h.01M73.1 679.3h.01M80.6 679.2h.01M77.3 670.8h.01M81.6 676.3h.01M79.1 678.2h.01M78.0 671.3h.01M77.8 675.6h.01M76.1 677.6h.01M76.4 677.8h.01M78.5 676.4h.01M84.8 671.3h.01M79.7 678.4h.01M82.6 680.5h.01M80.2 676.0h.01M73.0 674.9h.01M77.4 679.6h.01M78.6 679.0h.01M79.6 670.0h.01M73.3 674.7h.01M84.5 676.1h.01M75.7 679.5h.01M73.9 678.7h.01M82.2 668.7h.01M77.0 676.4h.01M78.1 673.0h.01M85.7 679.1h.01M89.6 675.1h.01M79.6 671.1h.01M88.4 660.0h.01M86.8 677.3h.01M87.0 660.1h.01M91.9 675.6h.01M77.6 678.9h.01M86.2 668.1h.01M87.5 663.7h.01M83.1 672.7h.01M83.2 673.7h.01M87.3 673.3h.01M83.2 677.8h.01M74.1 668.7h.01M84.2 669.0h.01M79.9 677.8h.01M81.6 678.0h.01M81.9 670.8h.01M75.2 673.8h.01M103.4 676.5h.01M74.2 670.8h.01M93.2 671.1h.01M84.8 670.2h.01M91.5 666.5h.01M85.8 675.5h.01M89.3 671.0h.01M72.3 668.9h.01M76.4 668.9h.01M77.1 670.0h.01M95.0 672.4h.01M85.0 672.0h.01M89.0 676.8h.01M86.5 666.3h.01M84.4 674.9h.01M78.7 670.9h.01M82.1 668.0h.01M82.4 675.3h.01M76.3 662.2h.01M82.3 665.8h.01M84.8 672.5h.01M73.0 676.8h.01M85.6 675.5h.01M79.5 672.5h.01M78.1 679.4h.01M89.6 665.6h.01M77.3 673.2h.01M74.2 673.7h.01M93.4 669.5h.01M80.1 667.6h.01M75.8 664.1h.01M84.4 664.8h.01M83.3 660.4h.01M88.3 671.9h.01M87.9 672.4h.01M79.7 678.7h.01M74.1 664.1h.01M88.2 671.5h.01M77.5 667.8h.01M77.1 677.0h.01M95.8 664.2h.01M80.1 675.4h.01M85.3 663.1h.01M82.8 667.9h.01M78.7 677.3h.01M86.8 678.6h.01M85.3 676.3h.01M84.1 669.3h.01M84.5 679.3h.01M86.6 670.2h.01M78.8 672.2h.01M73.9 668.2h.01M85.1 676.7h.01M76.8 675.9h.01M74.6 678.6h.01M81.8 671.5h.01M78.6 676.3h.01M81.2 674.5h.01M80.8 678.1h.01M83.9 678.9h.01M90.5 652.2h.01M85.9 666.3h.01M72.3 669.4h.01M84.3 673.3h.01M78.3 672.4h.01M87.8 671.1h.01M80.9 674.3h.01M84.1 671.3h.01M84.6 668.1h.01M83.8 670.3h.01M81.0 671.6h.01M88.4 672.5h.01M84.9 672.9h.01M83.7 668.8h.01M82.8 676.0h.01M88.9 677.4h.01M90.7 670.6h.01M83.2 667.8h.01M87.5 670.7h.01M81.6 666.4h.01M79.1 661.8h.01M80.3 673.5h.01M79.4 665.1h.01M90.8 675.2h.01M81.0 659.2h.01M79.8 666.0h.01M80.8 672.4h.01M81.2 665.9h.01M84.7 674.1h.01M84.2 665.9h.01M94.3 671.4h.01M81.4 665.5h.01M88.2 669.2h.01M79.5 675.8h.01M92.3 666.4h.01M78.8 671.7h.01M77.1 665.7h.01M87.4 660.8h.01M84.7 674.7h.01M77.7 661.3h.01M85.0 674.8h.01M75.9 673.0h.01M88.3 671.3h.01M83.1 675.6h.01M81.9 664.3h.01M93.1 665.3h.01M75.8 673.9h.01M84.0 674.2h.01M77.6 680.0h.01M77.5 673.3h.01M73.3 667.0h.01M76.7 672.0h.01M81.8 674.3h.01M77.7 676.4h.01M84.1 665.1h.01M77.7 660.6h.01M90.9 658.4h.01M72.2 666.2h.01M79.8 667.8h.01M72.4 675.6h.01M87.1 663.0h.01M76.4 678.9h.01M89.7 676.1h.01M80.5 673.9h.01M77.8 677.2h.01M95.4 660.7h.01M84.5 666.8h.01M86.3 664.0h.01M84.7 669.0h.01M74.4 664.8h.01M88.1 670.1h.01M79.2 677.4h.01M83.7 670.1h.01M84.9 668.9h.01M80.1 665.4h.01M82.2 661.6h.01M75.9 655.1h.01M75.6 678.2h.01M81.8 666.3h.01M73.1 667.7h.01M79.4 666.8h.01M78.8 662.4h.01M76.4 680.0h.01M80.6 670.3h.01M90.2 667.8h.01M77.0 673.4h.01M89.7 663.4h.01M79.0 660.5h.01M83.1 663.1h.01M72.6 677.4h.01M84.0 665.1h.01M75.3 669.1h.01M73.1 673.4h.01M73.1 673.2h.01M81.6 671.3h.01M77.7 670.4h.01M77.9 674.6h.01M77.6 676.0h.01M85.7 668.2h.01M85.6 675.8h.01M94.6 667.2h.01M86.0 665.7h.01M81.6 662.9h.01M73.5 669.6h.01M80.5 672.3h.01M81.0 660.3h.01M81.2 677.1h.01M80.1 666.2h.01M76.6 661.4h.01M72.7 668.8h.01M85.2 668.7h.01M84.2 672.8h.01M80.4 668.6h.01M74.0 660.7h.01M82.4 674.2h.01M87.0 663.6h.01M87.4 659.4h.01M87.4 670.4h.01M83.8 672.3h.01M84.2 667.4h.01M78.9 667.5h.01M76.5 670.9h.01M87.5 668.2h.01M81.0 669.3h.01M81.9 657.0h.01M83.3 661.6h.01M88.4 674.6h.01M82.3 671.2h.01M85.2 668.2h.01M75.9 669.6h.01M82.6 667.4h.01M86.2 674.3h.01M75.2 672.8h.01M86.5 668.1h.01M79.3 674.1h.01M84.0 661.0h.01M86.2 677.8h.01M84.9 663.7h.01M77.0 668.7h.01M77.0 667.5h.01M81.4 674.7h.01M75.2 664.7h.01M85.3 669.4h.01M84.7 675.7h.01M78.4 661.6h.01M77.9 673.6h.01M82.2 674.0h.01M72.7 669.4h.01M81.9 676.0h.01M82.1 668.5h.01M81.5 679.1h.01M73.1 670.6h.01M86.5 660.5h.01M85.9 672.4h.01M78.3 676.0h.01M77.0 672.5h.01M91.9 671.5h.01M83.9 668.9h.01M85.9 673.3h.01M77.5 670.4h.01M88.0 669.0h.01M89.5 670.2h.01M80.2 667.8h.01M76.4 669.9h.01M77.7 671.0h.01M74.0 665.9h.01M80.8 663.2h.01M86.2 672.8h.01M80.5 665.5h.01M96.2 671.3h.01M74.2 667.9h.01M88.0 666.3h.01M82.8 665.0h.01M76.1 667.5h.01M80.8 664.8h.01M76.3 668.8h.01M86.8 673.0h.01M86.0 664.5h.01M78.6 678.9h.01M87.9 665.4h.01M87.2 680.0h.01M82.5 670.0h.01M81.7 670.2h.01M75.9 669.4h.01M87.8 672.7h.01M85.6 669.9h.01M89.4 669.3h.01M75.6 674.8h.01M90.4 675.4h.01M73.3 672.8h.01M84.8 676.4h.01M90.7 668.0h.01M77.5 675.2h.01M84.1 660.7h.01M83.0 671.7h.01M83.5 678.1h.01M81.7 670.0h.01M74.8 668.0h.01M80.0 660.6h.01M81.3 671.8h.01M76.6 674.7h.01M80.8 667.1h.01M78.0 674.5h.01M87.8 664.1h.01M85.0 669.4h.01M77.3 675.2h.01M79.3 668.9h.01M85.1 673.1h.01M76.3 671.7h.01M89.7 664.2h.01M89.9 675.3h.01M82.9 668.0h.01M84.6 672.3h.01M88.2 674.5h.01M79.0 673.7h.01M83.0 674.2h.01M78.1 666.8h.01M79.3 677.6h.01M87.8 672.8h.01M84.5 675.2h.01M83.7 666.9h.01M81.3 664.5h.01M80.7 667.2h.01M83.3 667.5h.01M86.4 676.7h.01M86.2 679.0h.01M72.2 675.1h.01M87.3 663.7h.01M83.5 671.3h.01M86.9 664.3h.01M78.3 666.1h.01M89.7 670.7h.01M83.2 677.5h.01M83.4 666.9h.01M75.0 673.1h.01M91.9 668.7h.01M83.1 677.8h.01M74.2 674.0h.01M85.0 657.7h.01M86.0 670.9h.01M78.0 665.3h.01M79.6 670.6h.01M81.2 673.9h.01M87.4 669.1h.01M72.3 671.5h.01M81.1 679.2h.01M81.9 662.6h.01M76.2 678.0h.01M74.8 667.8h.01M82.2 672.3h.01M87.6 675.1h.01M86.4 676.5h.01M86.4 670.1h.01M75.2 670.1h.01M82.7 679.6h.01M85.4 670.1h.01M76.5 679.8h.01M81.8 668.3h.01M86.1 671.2h.01M73.9 661.3h.01M77.6 668.3h.01M77.8 657.5h.01M89.0 670.2h.01M77.0 665.2h.01M87.8 670.8h.01M81.0 671.2h.01M75.6 671.5h.01M88.6 679.1h.01M81.6 667.3h.01M80.6 668.8h.01M85.7 671.6h.01M84.0 675.6h.01M82.2 674.7h.01M92.5 664.7h.01M80.3 666.7h.01M81.6 667.7h.01M76.9 672.5h.01M74.2 672.0h.01M90.6 664.2h.01M78.8 672.3h.01M85.8 670.4h.01M80.5 663.7h.01M89.3 671.8h.01M78.3 670.3h.01M93.1 661.2h.01M81.9 677.5h.01M81.2 674.3h.01M98.8 676.9h.01M81.5 659.6h.01M85.8 663.3h.01M87.6 659.9h.01M85.2 655.3h.01M108.5 673.2h.01M79.3 676.3h.01M76.9 678.3h.01M109.1 671.7h.01M87.2 665.7h.01M82.2 666.8h.01M87.9 677.9h.01M86.5 665.9h.01M96.4 662.9h.01M104.5 659.1h.01M87.9 663.5h.01M101.0 676.1h.01M90.7 669.9h.01M88.2 673.5h.01M85.1 670.1h.01M104.8 669.7h.01M81.8 665.1h.01M101.8 672.2h.01M80.3 666.0h.01M74.1 680.3h.01M87.3 670.1h.01M77.9 675.3h.01M89.9 674.1h.01M100.6 679.2h.01M87.5 678.9h.01M76.3 675.9h.01M87.5 665.4h.01M96.4 670.8h.01M87.0 661.7h.01M95.8 671.4h.01M89.7 662.1h.01M80.5 672.8h.01M81.7 676.9h.01M104.2 672.5h.01M85.0 668.4h.01M90.1 673.5h.01M80.5 668.6h.01M102.3 670.6h.01M100.2 672.3h.01M99.6 678.0h.01M87.3 670.2h.01M94.9 673.2h.01M82.2 671.4h.01M78.8 673.7h.01M94.7 663.7h.01M79.4 674.4h.01M94.4 668.7h.01M90.2 657.9h.01M104.2 669.6h.01M80.0 668.8h.01M95.6 657.8h.01M78.3 667.8h.01M86.4 674.6h.01M86.7 669.3h.01M93.7 671.6h.01M79.6 666.9h.01M94.8 668.9h.01M85.7 672.2h.01M95.4 663.4h.01M83.4 672.3h.01M74.2 660.2h.01M82.0 663.6h.01M84.8 670.7h.01M85.3 674.5h.01M102.7 668.1h.01M74.1 667.2h.01M80.5 650.4h.01M88.6 673.0h.01M91.9 676.2h.01M103.8 672.0h.01M95.6 679.3h.01M90.5 661.5h.01M77.8 675.4h.01M87.9 676.2h.01M88.6 668.3h.01M86.5 670.2h.01M105.4 673.5h.01M91.5 671.5h.01M105.9 673.3h.01M94.4 674.2h.01M108.1 676.0h.01M94.5 677.7h.01M94.6 675.8h.01M99.7 664.9h.01M92.3 663.4h.01M80.3 665.0h.01M98.6 679.0h.01M95.4 665.0h.01M92.5 666.6h.01M97.0 672.2h.01M90.9 680.2h.01M92.8 673.2h.01M94.5 670.4h.01M80.2 669.6h.01M92.2 678.9h.01M84.6 675.0h.01M82.9 670.0h.01M99.0 674.0h.01M85.1 673.9h.01M87.8 666.0h.01M74.7 660.2h.01M87.8 675.4h.01M94.7 676.6h.01M84.2 666.5h.01M79.4 664.9h.01M91.3 657.4h.01M89.1 640.3h.01M75.2 665.2h.01M87.0 660.1h.01M84.3 645.5h.01M85.1 653.2h.01M85.5 665.3h.01M89.0 662.4h.01M84.0 658.7h.01M94.2 649.0h.01M89.1 654.2h.01M82.2 647.8h.01M74.2 648.2h.01M87.4 660.1h.01M80.5 638.2h.01M88.8 662.6h.01M87.0 660.6h.01M96.3 667.5h.01M75.4 633.9h.01M94.4 642.4h.01M73.3 649.4h.01M82.7 644.2h.01M73.1 657.8h.01M88.8 651.6h.01M101.9 660.2h.01M89.5 644.1h.01M78.8 664.4h.01M85.7 648.6h.01M89.9 649.8h.01M87.1 651.6h.01M79.5 660.8h.01M84.0 658.1h.01M87.9 652.4h.01M102.3 648.4h.01M94.7 657.1h.01M81.4 644.0h.01M72.7 645.3h.01M86.5 645.9h.01M99.9 669.4h.01M102.3 678.0h.01M102.8 671.5h.01M103.7 676.2h.01M107.4 659.1h.01M92.8 661.6h.01M103.9 670.3h.01M109.2 668.5h.01M104.0 675.0h.01M109.5 671.6h.01M101.0 672.7h.01M112.7 674.2h.01M110.3 663.6h.01M100.6 671.1h.01M94.3 674.4h.01M103.3 661.6h.01M97.4 679.5h.01" stroke="#b9474f" stroke-width="0.95" stroke-linecap="round" fill="none" opacity="1.0"/>
<path d="M48.9 630.5h.01M51.1 633.6h.01M54.7 639.0h.01M61.3 643.6h.01M63.9 648.3h.01M62.1 650.6h.01M63.5 654.5h.01" stroke="#4d5d9b" stroke-width="1.2" stroke-linecap="round" fill="none" opacity="1.0"/>
<path d="M83.0 600.2h.01M79.7 605.6h.01M77.5 608.0h.01M77.8 615.7h.01M77.5 628.9h.01M78.9 628.9h.01M74.9 641.3h.01M84.8 635.9h.01M94.3 635.1h.01M87.7 642.9h.01M96.9 643.6h.01M78.9 650.6h.01M109.7 664.6h.01M112.6 670.8h.01M104.2 666.1h.01" stroke="#b9474f" stroke-width="1.2" stroke-linecap="round" fill="none" opacity="1.0"/>
</g>
<line x1="49.05" y1="636.20" x2="67.44" y2="678.10" stroke="#000" stroke-width="0.7"/>
<line x1="38.83" y1="639.68" x2="66.42" y2="679.12" stroke="#000" stroke-width="0.7"/>
<line x1="53.55" y1="645.40" x2="65.40" y2="676.06" stroke="#000" stroke-width="0.7"/>
<line x1="37.81" y1="648.47" x2="65.81" y2="679.53" stroke="#000" stroke-width="0.7"/>
<line x1="61.31" y1="651.12" x2="66.42" y2="675.03" stroke="#000" stroke-width="0.7"/>
<line x1="38.83" y1="654.60" x2="65.81" y2="679.73" stroke="#000" stroke-width="0.7"/>
<line x1="40.26" y1="660.73" x2="66.42" y2="679.73" stroke="#000" stroke-width="0.7"/>
<line x1="66.42" y1="662.77" x2="67.44" y2="676.06" stroke="#000" stroke-width="0.7"/>
<line x1="41.90" y1="665.84" x2="66.42" y2="679.73" stroke="#000" stroke-width="0.7"/>
<line x1="41.90" y1="670.54" x2="66.42" y2="680.14" stroke="#000" stroke-width="0.7"/>
<line x1="39.85" y1="674.62" x2="66.42" y2="680.14" stroke="#000" stroke-width="0.7"/>
<line x1="40.87" y1="679.12" x2="66.42" y2="680.55" stroke="#000" stroke-width="0.7"/>
<text x="45.4" y="636.0" font-size="3.4" text-anchor="middle" fill="#222">NOTCH4</text>
<text x="33.7" y="639.8" font-size="3.4" text-anchor="middle" fill="#222">CD110</text>
<text x="53.5" y="645.0" font-size="3.4" text-anchor="middle" fill="#222">FLT3</text>
<text x="32.7" y="648.6" font-size="3.4" text-anchor="middle" fill="#222">CD34</text>
<text x="61.9" y="650.7" font-size="3.4" text-anchor="middle" fill="#222">FNDN2</text>
<text x="32.3" y="655.2" font-size="3.4" text-anchor="middle" fill="#222">DNMT1</text>
<text x="32.7" y="661.5" font-size="3.4" text-anchor="middle" fill="#222">DNMT3B</text>
<text x="68.5" y="662.5" font-size="3.4" text-anchor="middle" fill="#222">RUNX1</text>
<text x="36.2" y="666.6" font-size="3.4" text-anchor="middle" fill="#222">KLF4</text>
<text x="35.2" y="671.5" font-size="3.4" text-anchor="middle" fill="#222">PDSM1</text>
<text x="33.1" y="675.8" font-size="3.4" text-anchor="middle" fill="#222">CEBPA</text>
<text x="37.2" y="680.3" font-size="3.4" text-anchor="middle" fill="#222">MYB</text>
<rect x="26.00" y="595.80" width="87.00" height="86.40" fill="none" stroke="#777" stroke-width="1.5"/>
<line x1="32.75" y1="682.20" x2="32.75" y2="684.20" stroke="#333" stroke-width="1" shape-rendering="crispEdges"/>
<text x="32.8" y="692.3" font-size="8.5" text-anchor="middle" fill="#111" stroke="#111" stroke-width="0.22">-10</text>
<line x1="51.08" y1="682.20" x2="51.08" y2="684.20" stroke="#333" stroke-width="1" shape-rendering="crispEdges"/>
<text x="51.1" y="692.3" font-size="8.5" text-anchor="middle" fill="#111" stroke="#111" stroke-width="0.22">-5</text>
<line x1="69.40" y1="682.20" x2="69.40" y2="684.20" stroke="#333" stroke-width="1" shape-rendering="crispEdges"/>
<text x="69.4" y="692.3" font-size="8.5" text-anchor="middle" fill="#111" stroke="#111" stroke-width="0.22">0</text>
<line x1="87.73" y1="682.20" x2="87.73" y2="684.20" stroke="#333" stroke-width="1" shape-rendering="crispEdges"/>
<text x="87.7" y="692.3" font-size="8.5" text-anchor="middle" fill="#111" stroke="#111" stroke-width="0.22">5</text>
<line x1="106.05" y1="682.20" x2="106.05" y2="684.20" stroke="#333" stroke-width="1" shape-rendering="crispEdges"/>
<text x="106.1" y="692.3" font-size="8.5" text-anchor="middle" fill="#111" stroke="#111" stroke-width="0.22">10</text>
<line x1="24.00" y1="604.10" x2="26.00" y2="604.10" stroke="#333" stroke-width="1" shape-rendering="crispEdges"/>
<text x="23.4" y="607.2" font-size="8.5" text-anchor="end" fill="#111" stroke="#111" stroke-width="0.22">100</text>
<line x1="24.00" y1="619.60" x2="26.00" y2="619.60" stroke="#333" stroke-width="1" shape-rendering="crispEdges"/>
<text x="23.4" y="622.7" font-size="8.5" text-anchor="end" fill="#111" stroke="#111" stroke-width="0.22">80</text>
<line x1="24.00" y1="635.10" x2="26.00" y2="635.10" stroke="#333" stroke-width="1" shape-rendering="crispEdges"/>
<text x="23.4" y="638.2" font-size="8.5" text-anchor="end" fill="#111" stroke="#111" stroke-width="0.22">60</text>
<line x1="24.00" y1="650.60" x2="26.00" y2="650.60" stroke="#333" stroke-width="1" shape-rendering="crispEdges"/>
<text x="23.4" y="653.7" font-size="8.5" text-anchor="end" fill="#111" stroke="#111" stroke-width="0.22">40</text>
<line x1="24.00" y1="666.10" x2="26.00" y2="666.10" stroke="#333" stroke-width="1" shape-rendering="crispEdges"/>
<text x="23.4" y="669.2" font-size="8.5" text-anchor="end" fill="#111" stroke="#111" stroke-width="0.22">20</text>
<line x1="24.00" y1="681.60" x2="26.00" y2="681.60" stroke="#333" stroke-width="1" shape-rendering="crispEdges"/>
<text x="23.4" y="684.7" font-size="8.5" text-anchor="end" fill="#111" stroke="#111" stroke-width="0.22">0</text>
<text x="69.8" y="589.6" font-size="8.7" text-anchor="middle" fill="#000" stroke="#000" stroke-width="0.22">Small+Jas vs. Small</text>
<text x="72.5" y="702.6" font-size="8.7" text-anchor="middle" fill="#222" stroke="#222" stroke-width="0.22">log2(FoldChange)</text>
<text x="6.2" y="642.5" font-size="8.7" text-anchor="middle" transform="rotate(-90 6.2 642.5)" fill="#222" stroke="#222" stroke-width="0.22">-log10(<tspan font-style="italic">P</tspan>-value)</text>
<circle cx="127.00" cy="595.30" r="2" fill="#b9474f"/>
<text x="131" y="598.4" font-size="8.7" fill="#000" stroke="#000" stroke-width="0.22">Up</text>
<rect x="125.20" y="603.50" width="3.60" height="3.60" fill="#4d5d9b"/>
<text x="131" y="608.4" font-size="8.7" fill="#000" stroke="#000" stroke-width="0.22">Down</text>
<text x="146" y="576.7" font-size="11" font-weight="bold" fill="#000" stroke="#000" stroke-width="0.22">o</text>
<rect x="210.70" y="614.40" width="73.20" height="77.20" fill="#fff"/>
<line x1="221.40" y1="614.40" x2="221.40" y2="691.60" stroke="#ececec" stroke-width="0.6"/>
<line x1="236.35" y1="614.40" x2="236.35" y2="691.60" stroke="#ececec" stroke-width="0.6"/>
<line x1="251.30" y1="614.40" x2="251.30" y2="691.60" stroke="#ececec" stroke-width="0.6"/>
<line x1="266.25" y1="614.40" x2="266.25" y2="691.60" stroke="#ececec" stroke-width="0.6"/>
<line x1="281.20" y1="614.40" x2="281.20" y2="691.60" stroke="#ececec" stroke-width="0.6"/>
<line x1="210.70" y1="623.10" x2="283.90" y2="623.10" stroke="#ececec" stroke-width="0.6"/>
<line x1="210.70" y1="638.05" x2="283.90" y2="638.05" stroke="#ececec" stroke-width="0.6"/>
<line x1="210.70" y1="653.00" x2="283.90" y2="653.00" stroke="#ececec" stroke-width="0.6"/>
<line x1="210.70" y1="667.95" x2="283.90" y2="667.95" stroke="#ececec" stroke-width="0.6"/>
<line x1="210.70" y1="682.90" x2="283.90" y2="682.90" stroke="#ececec" stroke-width="0.6"/>
<rect x="213.93" y="618.60" width="67.27" height="9.00" fill="#0b4f60"/>
<line x1="207.50" y1="623.10" x2="210.70" y2="623.10" stroke="#333" stroke-width="1" shape-rendering="crispEdges"/>
<text x="207.5" y="626.1" font-size="8.5" text-anchor="end" fill="#000" stroke="#000" stroke-width="0.22">Leukemic stem cell</text>
<rect x="218.41" y="633.55" width="62.79" height="9.00" fill="#0b4f60"/>
<line x1="207.50" y1="638.05" x2="210.70" y2="638.05" stroke="#333" stroke-width="1" shape-rendering="crispEdges"/>
<text x="207.5" y="641.0" font-size="8.5" text-anchor="end" fill="#000" stroke="#000" stroke-width="0.22">Gal Leukemic stem cell</text>
<rect x="222.30" y="648.50" width="58.90" height="9.00" fill="#0b4f60"/>
<line x1="207.50" y1="653.00" x2="210.70" y2="653.00" stroke="#333" stroke-width="1" shape-rendering="crispEdges"/>
<text x="207.5" y="656.0" font-size="8.5" text-anchor="end" fill="#000" stroke="#000" stroke-width="0.22">APL pathogenesis</text>
<rect x="223.49" y="663.45" width="57.71" height="9.00" fill="#0b4f60"/>
<line x1="207.50" y1="667.95" x2="210.70" y2="667.95" stroke="#333" stroke-width="1" shape-rendering="crispEdges"/>
<text x="207.5" y="670.9" font-size="8.5" text-anchor="end" fill="#000" stroke="#000" stroke-width="0.22">Acute myeloid leukemia</text>
<rect x="226.48" y="678.40" width="54.72" height="9.00" fill="#0b4f60"/>
<line x1="207.50" y1="682.90" x2="210.70" y2="682.90" stroke="#333" stroke-width="1" shape-rendering="crispEdges"/>
<text x="207.5" y="685.9" font-size="8.5" text-anchor="end" fill="#000" stroke="#000" stroke-width="0.22">AML with CEBPA</text>
<rect x="210.70" y="614.40" width="73.20" height="77.20" fill="none" stroke="#b0b0b0" stroke-width="0.8"/>
<line x1="221.40" y1="691.60" x2="221.40" y2="693.60" stroke="#333" stroke-width="1" shape-rendering="crispEdges"/>
<text x="221.39999999999998" y="700.5" font-size="7.2" text-anchor="middle" fill="#222" stroke="#222" stroke-width="0.22">−2.0</text>
<line x1="236.35" y1="691.60" x2="236.35" y2="693.60" stroke="#333" stroke-width="1" shape-rendering="crispEdges"/>
<text x="236.35" y="700.5" font-size="7.2" text-anchor="middle" fill="#222" stroke="#222" stroke-width="0.22">−1.5</text>
<line x1="251.30" y1="691.60" x2="251.30" y2="693.60" stroke="#333" stroke-width="1" shape-rendering="crispEdges"/>
<text x="251.29999999999998" y="700.5" font-size="7.2" text-anchor="middle" fill="#222" stroke="#222" stroke-width="0.22">−1.0</text>
<line x1="266.25" y1="691.60" x2="266.25" y2="693.60" stroke="#333" stroke-width="1" shape-rendering="crispEdges"/>
<text x="266.25" y="700.5" font-size="7.2" text-anchor="middle" fill="#222" stroke="#222" stroke-width="0.22">−0.5</text>
<line x1="281.20" y1="691.60" x2="281.20" y2="693.60" stroke="#333" stroke-width="1" shape-rendering="crispEdges"/>
<text x="281.2" y="700.5" font-size="7.2" text-anchor="middle" fill="#222" stroke="#222" stroke-width="0.22">0.0</text>
<text x="245.3" y="608" font-size="8.7" text-anchor="middle" fill="#000" stroke="#000" stroke-width="0.22">Small+Jas vs. Small</text>
<text x="247" y="710.3" font-size="8.7" text-anchor="middle" fill="#000" stroke="#000" stroke-width="0.22">NES</text>
<text x="289.6" y="644" font-size="8.7" fill="#000" stroke="#000" stroke-width="0.22">Down</text>
<rect x="295.30" y="648.00" width="10.40" height="10.00" fill="#0b4f60"/>
<text x="289" y="576.7" font-size="11" font-weight="bold" fill="#000" stroke="#000" stroke-width="0.22">p</text>
<rect x="337.80" y="597.50" width="87.60" height="86.50" fill="#fff"/>
<clipPath id="cp303"><rect x="337.8" y="597.5" width="87.59999999999997" height="86.5"/></clipPath>
<g clip-path="url(#cp303)">
<line x1="379.29" y1="597.50" x2="379.29" y2="684.00" stroke="#cfcfcf" stroke-width="0.8" stroke-dasharray="5 2.5"/>
<line x1="383.71" y1="597.50" x2="383.71" y2="684.00" stroke="#cfcfcf" stroke-width="0.8" stroke-dasharray="5 2.5"/>
<line x1="337.80" y1="681.67" x2="425.40" y2="681.67" stroke="#cfcfcf" stroke-width="0.8" stroke-dasharray="5 2.5"/>
<polygon points="379.3,683.4 379.3,679.4 380.4,672.7 382.6,672.7 383.7,679.4 383.7,683.4" fill="#b4b4b4" opacity="0.45" filter="url(#b1)"/>
<path d="M386.1 683.1h.01M382.4 660.9h.01M382.8 680.3h.01M381.0 681.2h.01M378.9 682.0h.01M383.2 682.1h.01M378.9 682.4h.01M380.8 682.8h.01M379.9 672.2h.01M382.8 675.9h.01M380.8 671.3h.01M380.2 682.3h.01M381.0 679.5h.01M382.4 676.5h.01M380.5 678.1h.01M378.3 682.3h.01M381.5 663.2h.01M386.0 682.1h.01M385.2 681.9h.01M381.4 677.3h.01M382.5 682.8h.01M379.0 681.9h.01M380.0 673.5h.01M383.5 680.5h.01M381.2 674.4h.01M383.7 681.9h.01M385.4 682.0h.01M381.4 680.5h.01M383.2 683.2h.01M385.3 681.8h.01M380.7 682.6h.01M380.5 677.9h.01M383.2 682.9h.01M382.3 682.8h.01M381.5 683.3h.01M384.1 681.9h.01M380.6 678.0h.01M380.5 683.1h.01M381.5 675.1h.01M383.6 678.5h.01M385.8 683.1h.01M382.6 682.5h.01M380.9 681.1h.01M381.2 682.4h.01M379.9 681.0h.01M382.0 681.6h.01M378.9 682.7h.01M381.8 680.1h.01M381.0 683.0h.01M383.2 680.7h.01M380.5 681.7h.01M381.5 679.9h.01M379.0 683.0h.01M381.7 676.0h.01M383.9 682.8h.01M384.7 682.9h.01M379.3 678.3h.01M385.2 681.8h.01M383.5 676.4h.01M381.4 683.2h.01M382.0 681.6h.01M380.2 678.6h.01M379.3 682.8h.01M381.4 681.2h.01M381.9 683.3h.01M381.3 678.9h.01M382.7 682.0h.01M382.2 683.3h.01M377.8 681.9h.01M384.5 683.3h.01M385.3 681.9h.01M381.2 682.6h.01M381.1 677.6h.01M382.5 677.9h.01M380.8 677.8h.01M385.9 682.2h.01M378.4 682.4h.01M383.1 676.9h.01M382.1 683.2h.01M381.2 682.2h.01M382.9 681.3h.01M380.8 679.9h.01M379.7 676.0h.01M380.9 680.7h.01M381.6 677.4h.01M380.5 680.7h.01M380.5 674.6h.01M381.5 682.7h.01M381.7 683.4h.01M379.4 669.8h.01M381.5 682.5h.01M380.7 671.5h.01M379.3 681.0h.01M382.2 683.4h.01M382.7 682.8h.01M382.1 681.1h.01M379.2 683.3h.01M383.4 678.6h.01M381.5 681.6h.01M384.0 683.3h.01M381.4 676.1h.01M380.8 681.7h.01M383.3 678.6h.01M383.0 664.0h.01M381.7 672.2h.01M382.3 682.0h.01M379.9 666.0h.01M379.9 679.5h.01M381.9 676.5h.01M380.4 680.5h.01M381.7 682.8h.01M379.0 682.7h.01M380.6 681.7h.01M380.8 681.9h.01M378.0 681.8h.01M382.4 678.9h.01M379.6 674.8h.01M377.8 682.4h.01M383.1 682.0h.01M381.9 679.3h.01M380.8 678.8h.01M382.1 681.0h.01M377.9 682.0h.01M382.0 682.8h.01M378.8 683.0h.01M381.4 681.7h.01M382.7 678.1h.01M377.3 682.7h.01M379.7 683.0h.01M378.2 683.3h.01M378.2 681.8h.01M378.9 683.0h.01M379.7 681.1h.01M383.9 683.1h.01M379.1 682.9h.01M381.8 677.7h.01M379.7 682.0h.01M380.6 668.3h.01M382.9 681.3h.01M382.1 680.7h.01M381.3 682.0h.01M385.3 682.0h.01M378.8 681.9h.01M380.4 680.9h.01M383.3 683.3h.01M381.9 683.4h.01M382.3 674.1h.01M381.9 677.4h.01M381.5 683.3h.01M382.2 681.0h.01M377.9 682.7h.01M382.7 679.8h.01M380.5 682.2h.01M380.8 682.4h.01M380.0 681.0h.01M383.5 674.7h.01M380.5 681.6h.01M380.7 673.5h.01M383.3 680.7h.01M381.7 682.6h.01M384.1 683.2h.01M360.1 683.1h.01M391.4 683.3h.01M381.8 682.8h.01M379.6 682.0h.01M376.8 683.1h.01M362.5 682.9h.01M377.2 683.3h.01M381.0 683.2h.01M381.4 682.6h.01M387.6 683.3h.01M385.6 683.3h.01M378.7 682.7h.01M405.1 683.3h.01M374.9 683.2h.01M380.3 682.7h.01M391.5 683.0h.01M387.7 682.9h.01M389.2 683.0h.01M377.2 682.7h.01M388.9 683.3h.01M379.8 683.3h.01M389.7 683.1h.01M400.8 682.9h.01M370.4 683.2h.01M380.9 682.6h.01M386.7 682.6h.01M387.6 683.2h.01M379.8 683.4h.01M370.4 682.5h.01M388.0 682.9h.01M391.1 683.4h.01M386.9 682.0h.01M393.8 683.0h.01M400.9 683.2h.01M372.2 682.8h.01M383.5 682.5h.01M376.4 683.3h.01M389.7 683.2h.01M380.9 683.4h.01M378.5 682.9h.01M375.1 683.1h.01M378.1 683.0h.01M392.4 683.2h.01M386.0 682.9h.01M388.2 682.7h.01M384.3 683.4h.01M385.9 683.3h.01M385.3 682.4h.01M372.1 682.5h.01M373.8 683.0h.01M380.9 682.9h.01M376.4 683.0h.01M379.3 682.4h.01M385.2 682.5h.01M381.9 683.1h.01M385.7 683.2h.01M378.6 683.1h.01M383.8 682.3h.01M389.8 683.2h.01M394.8 682.9h.01M388.2 682.9h.01M372.3 682.7h.01M391.1 683.2h.01M381.1 683.0h.01M390.1 683.0h.01M381.2 683.4h.01M390.9 683.1h.01M378.7 683.3h.01M373.3 682.7h.01M379.9 682.7h.01M376.0 683.2h.01M359.2 683.1h.01M393.4 683.3h.01M373.3 683.2h.01M378.0 683.1h.01M375.0 682.5h.01M376.2 682.2h.01M393.0 683.0h.01M378.5 683.4h.01M387.1 683.3h.01M387.7 683.4h.01M389.3 683.2h.01M396.4 683.3h.01M369.5 683.3h.01M390.6 682.7h.01M380.1 682.6h.01M372.4 682.7h.01M389.6 683.0h.01M369.1 683.1h.01M372.7 682.4h.01M375.6 682.5h.01M385.8 683.3h.01M377.3 682.5h.01M389.3 683.3h.01M372.1 683.3h.01M391.5 681.8h.01M384.3 683.3h.01M381.9 683.1h.01M383.5 683.1h.01M385.5 683.3h.01M373.0 682.8h.01M379.5 683.4h.01M376.2 683.2h.01M377.6 682.8h.01M382.5 683.1h.01M358.5 682.2h.01M372.5 683.4h.01M376.7 683.4h.01M374.5 683.3h.01M378.9 683.1h.01M374.0 682.7h.01M372.5 683.3h.01M384.7 682.5h.01M390.9 683.1h.01M391.1 683.2h.01M374.6 683.1h.01M397.7 683.4h.01M391.7 682.9h.01M387.2 683.3h.01" stroke="#b4b4b4" stroke-width="1.0" stroke-linecap="round" fill="none" opacity="1.0"/>
<polygon points="379.3,683.4 379.3,664.7 376.7,662.1 373.0,664.7 369.7,668.7 366.7,673.4 363.8,678.1 361.6,683.4" fill="#4d5d9b" opacity="0.45" filter="url(#b1)"/>
<polygon points="383.7,683.4 383.7,660.7 385.9,656.7 389.6,659.4 393.3,664.7 397.0,670.1 400.7,675.4 404.4,680.1 405.5,683.4" fill="#b9474f" opacity="0.45" filter="url(#b1)"/>
<path d="M364.2 679.5h.01M370.0 673.8h.01M376.8 679.1h.01M371.1 669.9h.01M364.0 671.4h.01M370.8 676.9h.01M367.3 672.5h.01M376.3 675.0h.01M364.6 679.2h.01M373.4 667.5h.01M363.5 670.6h.01M374.0 669.7h.01M373.0 667.3h.01M369.9 661.5h.01M374.8 662.8h.01M377.8 673.3h.01M374.5 679.2h.01M374.7 670.8h.01M367.5 674.4h.01M365.1 671.0h.01M369.7 674.4h.01M373.7 673.6h.01M372.8 672.2h.01M367.0 668.0h.01M375.7 677.7h.01M374.3 666.5h.01M371.8 680.6h.01M371.6 672.2h.01M369.5 680.3h.01M368.8 669.5h.01M376.6 660.1h.01M374.9 676.8h.01M372.4 678.5h.01M376.1 676.7h.01M372.3 675.0h.01M367.7 662.5h.01M367.5 671.9h.01M370.5 681.2h.01M373.4 668.3h.01M378.6 681.6h.01M378.9 677.5h.01M372.4 667.1h.01M375.8 672.2h.01M372.5 674.7h.01M363.5 664.8h.01M366.1 676.0h.01M376.4 665.1h.01M367.8 666.7h.01M376.6 674.8h.01M374.5 676.9h.01M368.2 666.8h.01M373.6 669.8h.01M373.8 677.4h.01M376.4 671.4h.01M374.7 678.0h.01M369.8 679.4h.01M374.8 675.5h.01M367.5 680.5h.01M375.5 678.0h.01M378.1 676.6h.01M364.5 667.1h.01M379.3 671.6h.01M358.7 666.2h.01M371.6 677.3h.01M365.5 679.6h.01M378.5 662.8h.01M358.5 677.0h.01M370.0 677.3h.01M368.4 679.8h.01M370.4 679.8h.01M374.2 673.7h.01M377.3 676.7h.01M368.8 676.4h.01M375.1 680.1h.01M371.5 669.7h.01M355.9 675.1h.01M369.4 665.0h.01M375.0 676.7h.01M369.8 672.7h.01M374.1 671.6h.01M365.4 670.3h.01M375.1 672.7h.01M366.5 678.7h.01M375.2 679.3h.01M374.0 662.3h.01M371.6 671.9h.01M374.0 676.0h.01M365.7 671.2h.01M366.8 672.5h.01M370.5 681.2h.01M360.1 667.8h.01M369.2 676.6h.01M367.9 667.3h.01M364.8 668.6h.01M378.8 679.0h.01M373.9 674.7h.01M375.0 671.3h.01M370.1 673.5h.01M376.3 676.5h.01M368.2 668.7h.01M366.6 661.4h.01M367.9 673.3h.01M371.9 673.1h.01M367.9 670.2h.01M374.3 676.6h.01M364.4 674.0h.01M372.0 674.2h.01M376.6 674.9h.01M376.6 668.2h.01M366.4 666.9h.01M372.5 670.7h.01M369.5 668.8h.01M372.9 673.3h.01M374.8 675.0h.01M362.5 675.7h.01M372.1 673.3h.01M372.1 674.3h.01M373.1 680.6h.01M370.4 668.3h.01M374.7 675.9h.01M374.5 675.6h.01M371.3 670.9h.01M366.1 663.0h.01M371.4 679.6h.01M376.3 666.5h.01M370.9 678.2h.01M377.1 675.5h.01M374.9 674.4h.01M376.1 673.2h.01M366.6 667.3h.01M372.7 662.8h.01M371.9 681.2h.01M367.7 671.6h.01M366.0 673.3h.01M368.4 667.5h.01M370.8 671.9h.01M373.5 680.8h.01M376.3 677.1h.01M371.2 678.5h.01M372.7 667.7h.01M372.0 672.9h.01M373.3 678.1h.01M374.9 673.8h.01M376.2 676.7h.01M374.0 680.2h.01M373.3 675.9h.01M375.5 675.7h.01M368.4 673.1h.01M370.1 677.2h.01M368.5 673.4h.01M368.2 669.2h.01M370.7 672.6h.01M370.4 676.8h.01M365.3 680.8h.01M376.0 677.3h.01M371.8 670.5h.01M372.1 678.2h.01M378.9 675.2h.01M361.9 678.2h.01M368.4 678.1h.01M374.4 671.4h.01M367.5 673.0h.01M362.1 666.8h.01M373.4 675.1h.01M367.4 677.4h.01M362.5 679.0h.01M374.0 675.6h.01M370.9 671.9h.01M370.0 663.9h.01M368.4 676.1h.01M376.4 677.8h.01M376.2 676.0h.01M369.6 672.2h.01M357.7 672.9h.01M371.3 679.2h.01M370.7 664.5h.01M370.7 681.3h.01M371.6 676.0h.01M378.2 670.5h.01M370.4 654.5h.01M369.9 671.5h.01M368.3 672.0h.01M374.3 676.0h.01M378.2 674.7h.01M371.4 669.9h.01M372.5 668.0h.01M375.8 672.4h.01M376.1 678.0h.01M373.5 669.1h.01M364.7 676.4h.01M376.2 659.5h.01M366.7 677.7h.01M378.3 663.7h.01M371.6 667.9h.01M375.6 669.6h.01M375.5 669.2h.01M374.1 671.8h.01M377.7 668.5h.01M374.1 674.1h.01M369.3 678.9h.01M370.7 676.2h.01M376.7 679.9h.01M378.0 672.3h.01M377.1 670.7h.01M378.5 676.9h.01M369.8 673.8h.01M372.3 674.4h.01M373.2 681.5h.01M378.5 676.7h.01M377.4 669.2h.01M363.8 662.4h.01M373.7 675.6h.01M367.1 676.7h.01M367.6 673.2h.01M374.2 673.0h.01M371.7 677.7h.01M377.7 677.8h.01M376.4 670.1h.01M371.1 668.4h.01M377.2 677.3h.01M368.4 681.4h.01M372.7 677.6h.01M376.9 671.1h.01M365.6 672.9h.01M363.6 672.1h.01M364.9 670.1h.01M371.6 677.9h.01M377.4 679.5h.01M364.9 674.0h.01M368.2 662.4h.01M375.7 670.0h.01M370.1 681.5h.01M374.1 662.5h.01M373.1 667.9h.01M373.3 678.7h.01M378.5 670.4h.01M377.3 672.8h.01M365.6 671.8h.01M378.7 676.9h.01M376.6 670.9h.01M377.4 664.1h.01M377.2 670.8h.01M374.2 674.9h.01M366.0 670.8h.01M367.6 666.8h.01M370.5 674.3h.01M368.5 658.7h.01M372.6 665.6h.01M377.3 672.6h.01M368.9 665.4h.01M372.6 673.6h.01M374.0 679.4h.01M368.5 677.4h.01M362.4 674.4h.01M373.8 677.6h.01M373.3 663.0h.01M368.8 676.2h.01M374.8 681.4h.01M366.8 673.1h.01M379.2 673.1h.01M372.6 671.1h.01M371.7 681.6h.01M374.9 673.0h.01M371.4 672.6h.01M364.9 660.1h.01M376.1 674.6h.01M377.4 673.5h.01M376.8 666.8h.01M369.6 669.7h.01M364.9 672.1h.01M368.2 677.2h.01M362.9 664.5h.01M378.6 675.1h.01M374.0 674.7h.01M379.1 676.4h.01M378.1 677.0h.01M377.4 678.3h.01M369.8 672.0h.01M375.2 670.1h.01M374.8 680.5h.01M370.3 674.8h.01M373.7 678.8h.01M377.6 679.0h.01M373.0 680.1h.01M374.0 674.5h.01M366.5 679.7h.01M372.9 678.4h.01M370.3 676.6h.01M373.1 672.6h.01M378.3 670.3h.01M376.0 673.8h.01M362.1 674.4h.01M369.3 677.4h.01M369.4 680.8h.01M359.2 667.3h.01M373.5 666.7h.01M376.9 669.7h.01M370.5 674.8h.01M374.6 668.8h.01M364.4 668.2h.01M377.2 674.5h.01M354.7 671.1h.01M369.4 672.1h.01M369.9 676.7h.01M375.5 672.3h.01M373.8 674.1h.01M373.7 678.9h.01M370.6 671.7h.01M372.7 665.5h.01M367.5 674.1h.01M363.4 673.9h.01M363.7 670.1h.01M368.4 675.9h.01M374.0 669.5h.01M375.8 675.0h.01M370.4 664.9h.01M378.4 675.6h.01M367.3 679.2h.01M365.8 676.1h.01M364.5 668.4h.01M374.5 680.5h.01M369.0 673.3h.01M377.6 675.3h.01M366.9 667.4h.01M375.8 673.2h.01M371.9 676.1h.01M370.0 672.6h.01M375.0 673.7h.01M371.7 673.1h.01M370.8 676.3h.01M373.2 673.6h.01M376.5 679.4h.01M374.1 663.6h.01M375.8 671.5h.01M377.5 671.4h.01M366.9 671.4h.01M373.9 680.2h.01M377.9 666.5h.01M364.9 660.9h.01M374.1 675.4h.01M375.9 669.8h.01M374.1 674.1h.01M379.0 667.3h.01M365.8 670.3h.01M378.1 678.3h.01M369.5 664.5h.01M371.2 674.1h.01M369.6 669.2h.01M375.6 674.6h.01M375.3 675.9h.01M373.4 679.7h.01M372.0 678.0h.01M366.2 674.0h.01M377.0 675.2h.01M365.5 666.9h.01M369.9 670.0h.01M372.3 678.7h.01M377.0 677.9h.01M368.0 674.3h.01M377.3 666.9h.01M371.3 675.3h.01M371.9 677.0h.01M375.5 679.3h.01M377.8 676.7h.01M366.6 676.7h.01M365.8 675.0h.01M367.4 664.2h.01M371.7 678.1h.01M366.7 671.9h.01M377.9 673.5h.01M376.2 681.4h.01M372.3 678.4h.01M374.5 670.9h.01M373.2 673.1h.01M369.0 675.2h.01M376.6 678.9h.01M376.9 655.9h.01M371.2 676.6h.01M364.7 671.4h.01M364.2 676.1h.01M369.5 673.1h.01M370.4 670.5h.01M369.5 665.4h.01M372.4 668.3h.01M371.0 668.3h.01M376.6 667.6h.01M371.6 673.2h.01M378.3 668.1h.01M376.1 674.8h.01M372.5 673.8h.01M371.3 679.8h.01M374.8 669.4h.01M377.9 680.9h.01M368.4 674.8h.01M374.7 677.5h.01M378.4 676.6h.01M371.5 678.8h.01M368.4 675.3h.01M373.8 674.2h.01M373.0 671.0h.01M372.0 671.2h.01M371.6 676.8h.01M372.3 675.5h.01M365.6 673.2h.01M371.4 679.6h.01M374.6 674.9h.01M372.4 680.0h.01M370.7 677.5h.01M366.1 679.3h.01M375.2 672.9h.01M371.6 672.0h.01M375.3 667.2h.01M367.0 672.4h.01M366.6 673.6h.01M372.6 662.2h.01M373.4 679.7h.01M378.7 677.1h.01M373.1 675.5h.01M374.5 673.2h.01M369.4 678.7h.01M370.7 670.7h.01M361.2 672.4h.01M368.9 668.7h.01M376.7 672.2h.01M371.4 673.9h.01M360.1 668.9h.01M371.3 673.8h.01M372.3 669.8h.01M369.1 676.3h.01M362.3 668.0h.01M375.2 680.1h.01M364.4 667.9h.01M373.1 674.7h.01M374.9 671.6h.01M361.0 671.6h.01M377.6 667.7h.01M368.1 676.9h.01M375.0 671.5h.01M372.9 677.9h.01M378.7 676.0h.01M378.9 676.3h.01M376.1 681.7h.01M368.8 680.8h.01M368.6 678.2h.01M367.0 676.1h.01M368.5 678.9h.01M370.8 664.1h.01M372.9 663.8h.01M362.0 667.9h.01M365.8 668.2h.01M369.9 674.4h.01M366.3 673.0h.01M375.4 667.7h.01M374.4 669.2h.01M372.7 678.1h.01M372.9 667.8h.01M366.5 681.3h.01M375.7 674.4h.01M370.5 672.7h.01M363.4 668.7h.01M359.3 679.5h.01M366.1 667.1h.01M366.7 681.1h.01M372.9 676.5h.01M369.4 675.8h.01M372.4 675.8h.01M364.8 680.1h.01M366.0 678.4h.01M377.2 675.2h.01M374.0 666.0h.01M372.2 675.5h.01M373.8 677.1h.01M368.1 672.6h.01M366.4 672.9h.01M374.7 670.9h.01M371.3 671.6h.01M375.8 667.0h.01M379.0 672.2h.01M376.3 676.3h.01M376.0 672.2h.01M365.1 663.0h.01M374.8 681.4h.01M358.9 678.8h.01M367.8 672.1h.01M378.7 672.3h.01M374.6 670.7h.01M367.9 669.2h.01M373.8 681.6h.01M375.2 673.9h.01M375.4 667.9h.01M379.2 674.9h.01M370.4 667.5h.01M374.9 660.7h.01M371.6 674.4h.01M365.7 670.6h.01M370.9 676.9h.01M375.9 677.7h.01M375.6 680.6h.01M372.3 669.4h.01M373.1 671.4h.01M371.4 677.0h.01M367.6 672.4h.01M369.5 667.7h.01M370.1 675.6h.01M377.5 677.8h.01M374.7 676.9h.01M376.3 671.3h.01M375.4 680.1h.01M372.3 660.8h.01M369.0 675.5h.01M376.2 679.7h.01M373.0 679.3h.01M368.2 675.6h.01M368.7 681.2h.01M376.4 674.3h.01M376.2 670.0h.01M360.1 671.0h.01M365.6 675.1h.01M376.3 670.1h.01M374.9 677.8h.01M370.0 676.1h.01M376.2 673.2h.01M375.4 678.5h.01M374.6 679.1h.01M373.3 669.8h.01M376.6 676.5h.01M372.1 681.4h.01M374.6 674.0h.01M366.9 675.6h.01M370.0 673.5h.01M376.3 681.1h.01M370.6 675.2h.01M370.5 669.8h.01M363.4 658.5h.01M374.1 675.7h.01M365.8 675.1h.01M374.3 678.7h.01M373.5 674.9h.01M366.8 671.2h.01M370.4 672.0h.01M374.4 675.2h.01M360.1 667.2h.01M369.4 669.2h.01M364.5 673.9h.01M373.4 669.5h.01M365.3 674.9h.01M365.6 675.2h.01M367.5 665.3h.01M371.2 675.0h.01M374.4 667.4h.01M366.2 664.1h.01M373.2 667.3h.01M376.6 679.6h.01M367.4 670.1h.01M376.1 677.7h.01M375.4 670.1h.01M360.8 667.4h.01M375.9 676.5h.01M375.1 670.5h.01M379.0 675.0h.01M373.0 674.3h.01M372.8 680.9h.01M369.8 672.2h.01M373.8 676.4h.01M372.1 669.0h.01M369.9 674.8h.01M374.0 669.0h.01M368.8 669.5h.01M374.4 681.4h.01M373.8 681.4h.01M376.3 675.7h.01M364.4 670.5h.01M369.2 675.5h.01M369.4 677.4h.01M370.5 671.5h.01M368.0 675.8h.01M374.7 675.9h.01M378.2 680.9h.01M373.4 674.3h.01M366.4 679.1h.01M367.8 669.7h.01M374.1 665.1h.01M372.1 677.8h.01M369.5 674.9h.01M366.8 674.7h.01M366.8 678.4h.01M365.3 668.3h.01M370.6 676.7h.01M372.1 669.4h.01M376.7 671.3h.01M374.3 677.7h.01M366.8 679.9h.01M367.1 669.6h.01M368.5 664.1h.01M370.8 676.9h.01M367.8 677.7h.01M377.8 677.9h.01M367.7 659.5h.01M368.9 673.1h.01M376.2 680.7h.01M377.5 673.4h.01M373.2 680.6h.01M374.0 674.7h.01M373.9 674.1h.01M372.5 673.5h.01M373.8 670.1h.01M378.0 680.7h.01M373.8 673.7h.01M378.5 667.1h.01M374.1 667.5h.01M372.0 673.6h.01M370.9 678.2h.01M365.1 676.0h.01M376.1 679.9h.01M367.3 674.3h.01M378.4 674.7h.01M370.2 670.1h.01M375.7 678.7h.01M377.1 674.8h.01M371.8 671.3h.01M371.6 674.6h.01M366.5 671.4h.01M374.6 680.9h.01M375.7 673.3h.01M366.8 675.1h.01M371.9 668.0h.01M365.5 670.0h.01M377.2 680.6h.01M375.5 670.0h.01M378.0 676.3h.01M372.8 672.3h.01M370.4 671.5h.01M367.2 668.6h.01M367.0 670.3h.01M367.5 679.0h.01M373.2 672.0h.01M373.0 672.9h.01M371.8 676.4h.01M376.8 671.6h.01M376.2 676.4h.01M371.6 678.2h.01M377.3 664.4h.01M372.9 681.4h.01M375.8 665.1h.01M373.9 665.7h.01M366.6 671.1h.01M367.5 675.3h.01M369.2 666.2h.01M372.5 678.7h.01M374.0 678.8h.01M366.2 679.2h.01M368.3 670.5h.01M371.5 679.6h.01M370.8 676.8h.01M375.5 658.7h.01M371.4 680.1h.01M362.7 671.8h.01M371.7 675.3h.01M375.4 664.0h.01M373.0 680.7h.01M370.0 673.3h.01M361.5 671.8h.01M375.8 667.5h.01M362.7 672.7h.01M364.9 664.9h.01M376.7 676.7h.01M363.5 667.9h.01M364.2 669.2h.01M377.6 676.0h.01M364.5 675.6h.01M378.0 671.1h.01M371.8 678.5h.01M374.3 677.5h.01M376.0 668.5h.01M378.3 678.9h.01M370.2 680.3h.01M375.7 672.7h.01M365.8 678.0h.01M365.7 672.4h.01M374.4 669.8h.01M379.0 666.4h.01M376.3 669.5h.01M373.9 669.2h.01M369.1 674.2h.01M362.1 672.1h.01M377.9 676.5h.01M371.3 678.7h.01M375.2 675.5h.01M374.7 676.7h.01M368.1 679.6h.01M378.7 681.5h.01M365.2 670.1h.01M366.8 675.7h.01M362.4 668.1h.01M376.1 678.5h.01M370.4 678.3h.01M377.4 676.4h.01M371.8 674.8h.01M376.4 681.4h.01M367.0 666.0h.01M373.2 680.6h.01M371.2 677.0h.01M372.1 672.8h.01M373.2 678.8h.01M363.9 668.2h.01M375.5 665.7h.01M377.9 672.8h.01M370.8 678.6h.01M367.8 677.2h.01M375.8 675.9h.01M372.0 681.2h.01M373.4 680.9h.01M372.1 681.3h.01M364.3 665.2h.01M361.0 666.9h.01M371.4 678.5h.01M372.2 668.3h.01M378.9 676.6h.01M368.8 673.4h.01M372.7 671.8h.01M372.8 675.4h.01M367.5 681.0h.01M371.9 666.4h.01M373.3 678.9h.01M375.3 671.0h.01M372.8 669.2h.01M370.4 673.7h.01M370.8 680.2h.01M376.9 670.3h.01M367.5 668.9h.01M367.7 674.4h.01M375.0 679.1h.01M370.2 674.7h.01M376.3 670.5h.01M379.0 672.9h.01M364.7 665.8h.01M377.0 676.1h.01M372.4 672.4h.01M361.3 674.3h.01M371.3 669.8h.01M361.9 677.9h.01M367.3 662.5h.01M368.0 676.3h.01M374.4 674.1h.01M376.4 675.9h.01M371.3 671.5h.01M375.4 672.8h.01M372.2 675.9h.01M362.7 668.1h.01M372.2 670.8h.01M363.2 677.9h.01M375.6 661.1h.01M378.4 662.1h.01M374.6 676.4h.01M369.6 677.0h.01M375.0 674.9h.01M369.1 674.7h.01M374.8 678.8h.01M375.2 678.3h.01M368.7 677.3h.01M372.6 662.4h.01M374.4 678.3h.01M371.7 660.6h.01M370.4 672.1h.01M367.1 676.5h.01M369.9 672.9h.01M369.7 676.6h.01M378.2 668.6h.01M374.3 673.6h.01M372.0 665.9h.01M370.3 667.2h.01M368.3 678.1h.01M378.0 676.7h.01M365.0 674.9h.01M370.4 677.9h.01M371.8 675.9h.01M375.1 666.0h.01M371.0 672.2h.01M366.1 661.1h.01M364.7 672.4h.01M371.3 679.3h.01M370.3 677.1h.01M377.5 681.1h.01M372.8 678.5h.01M367.8 670.9h.01M368.6 668.9h.01M374.8 674.8h.01M373.6 668.9h.01M364.8 671.8h.01M368.0 675.9h.01M366.4 675.7h.01M377.7 675.4h.01M372.3 679.5h.01M365.3 671.0h.01M369.3 670.6h.01M375.1 674.4h.01M369.1 664.2h.01M374.8 670.7h.01M371.4 680.1h.01M373.3 679.9h.01M372.9 675.4h.01M368.8 668.4h.01M359.3 676.9h.01M360.6 672.5h.01M377.3 664.7h.01M364.7 674.3h.01M378.1 680.8h.01M372.6 680.1h.01M369.1 662.5h.01M372.5 678.7h.01M361.6 668.9h.01M376.1 675.1h.01M364.1 664.9h.01M367.6 676.7h.01M376.7 675.2h.01M379.3 668.0h.01M377.2 668.6h.01M375.9 679.0h.01M378.9 679.0h.01M372.4 677.6h.01M370.9 678.1h.01M365.7 675.3h.01M375.5 669.0h.01M368.2 671.9h.01M370.2 665.7h.01M368.4 670.7h.01M376.7 669.8h.01M375.1 666.6h.01M370.4 671.8h.01M368.7 679.5h.01M375.5 679.9h.01M373.6 680.5h.01M367.6 675.3h.01M373.0 676.9h.01M376.3 675.6h.01M372.4 673.4h.01M375.1 672.8h.01M373.2 675.2h.01M366.8 671.7h.01M363.7 664.0h.01M367.3 670.5h.01M372.3 667.0h.01M375.1 677.5h.01M367.2 679.0h.01M370.8 672.2h.01M376.1 669.7h.01M369.7 664.7h.01M374.9 680.5h.01M372.1 661.9h.01M374.4 671.0h.01M378.2 681.3h.01M373.7 671.7h.01M372.5 666.5h.01M379.2 679.7h.01M374.9 666.2h.01M366.1 668.7h.01M364.9 676.6h.01M376.3 672.7h.01M377.7 672.8h.01M377.2 671.4h.01M363.1 676.0h.01M368.7 674.7h.01M360.1 666.5h.01M366.6 667.8h.01M378.5 666.9h.01M370.1 667.5h.01M373.6 680.1h.01M376.5 673.1h.01M360.4 673.0h.01M367.4 676.1h.01M375.4 678.1h.01M375.5 679.8h.01M371.9 678.0h.01M373.5 673.9h.01M378.3 681.5h.01M377.5 670.8h.01M368.2 662.9h.01M369.1 670.9h.01M375.3 676.9h.01M370.7 662.2h.01M371.1 670.7h.01M377.8 679.2h.01M370.3 673.2h.01M372.7 671.7h.01M374.8 664.4h.01M372.1 668.4h.01M374.6 676.0h.01M370.4 675.5h.01M374.5 669.6h.01M372.4 680.9h.01M373.4 673.3h.01M365.8 667.3h.01M367.6 671.8h.01M374.0 675.8h.01M372.7 678.9h.01M377.5 673.9h.01M373.8 676.7h.01M370.7 674.5h.01M374.8 675.7h.01M372.0 673.4h.01M368.0 676.2h.01M374.5 676.5h.01M365.1 664.4h.01M378.5 681.0h.01M371.8 662.6h.01M364.4 681.0h.01M370.2 680.0h.01M379.1 664.8h.01M371.1 676.4h.01M368.2 672.7h.01M378.8 670.8h.01M371.1 672.4h.01M368.2 668.3h.01M374.6 677.4h.01M379.1 666.6h.01M371.1 673.3h.01M375.0 677.3h.01M372.4 674.5h.01M366.1 675.8h.01M375.6 680.0h.01M375.7 676.9h.01M368.9 678.4h.01M369.7 679.9h.01M371.3 671.2h.01M369.7 676.7h.01M371.9 672.7h.01M373.1 678.7h.01M363.2 674.5h.01M365.3 668.6h.01M376.2 680.4h.01M379.0 675.1h.01M375.7 668.0h.01M362.4 681.3h.01M378.6 674.0h.01M370.7 679.3h.01M374.0 680.2h.01M371.3 676.0h.01M365.6 676.1h.01M372.5 680.8h.01M377.2 681.1h.01M377.8 678.9h.01M373.2 676.6h.01M375.9 671.3h.01M368.6 669.1h.01M378.9 679.8h.01M370.0 674.4h.01M375.5 675.2h.01M369.3 665.5h.01M376.1 673.6h.01M366.2 664.5h.01M366.9 666.7h.01M372.5 661.8h.01M370.7 672.0h.01M374.5 668.7h.01M369.6 665.7h.01M370.0 672.8h.01M373.0 669.1h.01M376.6 669.7h.01M378.0 677.5h.01M371.1 667.2h.01M376.5 671.1h.01M370.4 679.9h.01M374.6 671.1h.01M367.5 673.4h.01M378.4 673.5h.01M368.2 668.3h.01M376.7 673.7h.01M364.8 671.3h.01M367.6 671.5h.01M378.5 679.2h.01M376.7 670.0h.01M364.2 673.1h.01M378.1 671.6h.01M364.6 679.6h.01M373.2 681.6h.01M374.0 674.8h.01M368.6 672.3h.01M377.9 679.5h.01M371.6 672.9h.01M370.7 680.0h.01M372.4 673.9h.01M364.9 670.8h.01M377.4 665.8h.01M375.2 675.6h.01M373.1 672.7h.01M366.0 675.8h.01M364.2 666.4h.01M367.7 673.2h.01M372.8 666.4h.01M376.8 667.0h.01M376.5 674.7h.01M372.0 677.1h.01M367.9 678.6h.01M366.2 674.2h.01M375.8 668.1h.01M371.7 664.8h.01M374.5 675.6h.01M374.7 678.5h.01M368.9 673.7h.01M373.1 669.6h.01M371.3 679.6h.01M374.3 670.3h.01M364.7 680.9h.01M367.0 674.2h.01M365.4 673.5h.01M366.2 662.9h.01M374.5 672.8h.01M375.0 670.7h.01M373.1 671.6h.01M372.2 676.6h.01M373.2 668.2h.01M367.5 674.5h.01M366.8 670.0h.01M372.5 669.4h.01M374.4 670.7h.01M372.7 674.6h.01M374.3 670.2h.01M376.2 666.6h.01M374.3 674.3h.01M378.9 678.4h.01M373.5 678.6h.01M368.5 677.1h.01M370.5 681.1h.01M379.2 680.7h.01M374.6 681.1h.01M376.2 671.0h.01M374.5 673.8h.01M359.2 671.0h.01M369.6 668.3h.01M373.9 679.2h.01M373.6 672.2h.01M371.3 670.7h.01M374.7 674.7h.01M366.6 669.7h.01M372.7 678.8h.01M376.8 678.2h.01M377.5 674.2h.01M374.8 673.5h.01M370.7 669.4h.01M363.2 678.9h.01M376.0 674.3h.01M378.3 667.5h.01M372.2 670.8h.01M370.1 677.6h.01M372.5 675.7h.01M370.1 668.3h.01M375.3 681.1h.01M371.1 663.5h.01M374.6 670.0h.01M371.8 666.4h.01M372.6 673.1h.01M374.4 666.4h.01M375.2 673.6h.01M373.1 675.3h.01M375.0 675.6h.01M374.8 672.2h.01M377.0 681.6h.01M376.8 676.3h.01M369.1 668.1h.01M368.5 670.3h.01M379.1 674.7h.01M371.2 672.3h.01M371.3 678.9h.01M365.9 662.4h.01M364.3 678.5h.01M370.7 663.0h.01M361.8 664.0h.01M368.5 672.7h.01M365.6 675.5h.01M368.3 666.8h.01M369.2 680.5h.01M371.4 679.0h.01M359.6 668.1h.01M372.3 675.3h.01M369.1 668.4h.01M367.4 670.5h.01M374.7 678.9h.01M376.6 667.0h.01M371.8 676.6h.01M371.0 671.9h.01M368.6 669.3h.01M374.6 679.8h.01M375.8 680.7h.01M363.2 671.0h.01M374.0 677.9h.01M368.3 671.6h.01M363.1 670.2h.01M367.4 674.3h.01M376.3 677.8h.01M372.9 667.8h.01M371.3 680.2h.01M374.1 667.4h.01M377.1 678.0h.01M368.3 671.4h.01M374.4 678.8h.01M377.4 675.3h.01M374.0 671.2h.01M373.8 670.5h.01M376.7 669.2h.01M370.5 674.5h.01M370.0 668.2h.01M373.8 677.8h.01M375.6 663.3h.01M375.9 671.5h.01M377.4 678.4h.01M377.1 681.0h.01M372.4 667.0h.01M373.0 665.2h.01M377.9 679.6h.01M372.3 677.7h.01M370.4 675.3h.01M367.3 663.8h.01M375.5 677.5h.01M363.7 673.7h.01M375.4 668.3h.01M371.1 676.7h.01M378.5 672.4h.01M368.8 676.3h.01M375.0 666.0h.01M378.8 681.0h.01M378.6 673.8h.01M371.4 680.6h.01M371.7 664.0h.01M367.8 674.3h.01M369.9 671.7h.01M373.1 673.9h.01M379.1 674.3h.01M368.3 676.2h.01M377.2 670.1h.01M374.9 672.2h.01M369.2 661.3h.01M379.0 680.1h.01M372.9 679.7h.01M370.8 664.5h.01M371.3 674.3h.01M377.9 665.3h.01M370.4 678.4h.01M363.6 664.1h.01M374.6 677.6h.01M370.5 674.3h.01M371.9 674.8h.01M373.5 681.4h.01M366.0 674.1h.01M368.1 675.0h.01M375.8 669.2h.01M374.2 670.9h.01M369.5 670.7h.01M366.8 676.1h.01M372.3 675.9h.01M374.1 679.1h.01M377.7 677.9h.01M370.0 674.4h.01M375.7 671.0h.01M368.5 678.2h.01M375.0 663.2h.01M366.9 680.9h.01M374.5 680.7h.01M369.6 681.5h.01M369.2 661.6h.01M365.5 662.9h.01M374.2 680.6h.01M371.8 669.6h.01M369.5 674.2h.01M376.5 674.2h.01M370.4 674.2h.01M373.2 678.8h.01M378.5 669.3h.01M377.5 679.3h.01M372.7 664.4h.01M365.7 674.4h.01M368.0 680.8h.01M370.7 679.6h.01M375.4 660.7h.01M373.2 655.8h.01M373.7 669.6h.01M374.1 679.4h.01M372.3 675.5h.01M375.0 680.3h.01M371.9 677.6h.01M377.9 679.4h.01M362.4 667.5h.01M371.0 669.8h.01M365.7 667.4h.01M372.1 669.3h.01M365.6 674.5h.01M371.2 680.1h.01M374.5 677.6h.01M368.6 672.4h.01M377.1 676.2h.01M377.5 669.8h.01M378.2 681.1h.01M367.5 676.2h.01M373.1 671.5h.01M366.7 667.0h.01M375.8 678.3h.01M376.8 674.6h.01M370.9 680.1h.01M371.6 681.1h.01M377.2 681.2h.01M364.8 672.6h.01M373.8 671.2h.01M371.7 679.8h.01M362.9 660.8h.01M375.4 666.2h.01M368.6 666.8h.01M369.1 673.8h.01M374.4 679.2h.01M377.0 681.0h.01M365.2 674.0h.01M372.5 677.7h.01M371.8 673.2h.01M370.5 671.9h.01M371.4 678.8h.01M374.4 672.8h.01M378.0 672.5h.01M364.8 669.5h.01M365.1 666.0h.01M370.9 679.5h.01M362.4 666.2h.01M370.7 678.3h.01M368.2 671.3h.01M370.4 674.7h.01M369.5 666.5h.01M372.3 680.6h.01M371.9 665.0h.01M369.0 676.7h.01M377.7 681.0h.01M378.3 668.7h.01M366.5 657.8h.01M373.4 679.7h.01M370.2 672.1h.01M374.9 666.5h.01M370.8 668.7h.01M367.3 674.2h.01M368.3 670.8h.01M364.3 668.7h.01M371.6 673.2h.01M367.0 676.1h.01M367.7 669.0h.01M370.8 672.3h.01M370.2 681.4h.01M370.5 676.1h.01M370.8 672.6h.01M369.6 679.4h.01M373.3 670.6h.01M374.8 664.3h.01M368.2 676.6h.01M374.0 675.7h.01M376.7 667.0h.01M375.0 681.1h.01M377.1 675.1h.01M370.8 677.9h.01M370.6 677.4h.01M368.2 676.0h.01M378.3 675.8h.01M372.0 665.4h.01M363.0 662.9h.01M372.7 678.3h.01M377.6 670.3h.01M372.1 673.8h.01M376.7 674.8h.01M366.0 679.8h.01M374.5 678.4h.01M370.4 679.2h.01M376.7 668.6h.01M370.0 678.8h.01M375.6 660.7h.01M375.4 667.4h.01M363.2 663.6h.01M369.9 651.0h.01M365.8 652.3h.01M376.4 659.5h.01M366.9 662.6h.01M377.5 660.0h.01M371.9 678.3h.01M368.4 664.6h.01M364.2 657.8h.01M369.8 669.2h.01M364.1 654.7h.01M378.0 678.5h.01M364.8 651.6h.01M378.8 659.4h.01M377.4 650.1h.01M379.1 660.7h.01M371.2 670.8h.01M373.6 667.5h.01M374.1 667.0h.01M378.1 663.4h.01M370.9 668.4h.01M358.8 666.7h.01M367.8 656.1h.01M367.1 671.9h.01M361.8 655.1h.01M367.1 669.6h.01M374.8 657.8h.01M374.8 649.5h.01M361.8 666.5h.01M376.0 661.3h.01M375.7 666.1h.01M372.4 666.1h.01M365.2 662.6h.01M371.4 666.5h.01M364.5 662.0h.01M367.7 676.2h.01M369.3 666.5h.01M368.3 657.3h.01M368.2 656.2h.01M373.7 656.9h.01M370.9 646.0h.01M368.8 674.7h.01M369.0 667.6h.01M365.0 665.5h.01M375.4 668.9h.01M364.9 661.2h.01M366.9 666.2h.01M366.8 674.0h.01M365.3 676.5h.01M366.1 653.1h.01M364.7 657.9h.01M376.0 672.1h.01M368.3 654.8h.01M373.2 660.9h.01M372.5 657.7h.01M370.1 676.1h.01M372.9 655.6h.01M370.0 673.1h.01M371.5 664.4h.01M377.1 667.6h.01M377.2 657.2h.01M366.7 669.4h.01M370.5 665.3h.01M367.1 670.3h.01M370.5 657.0h.01M369.8 665.1h.01M363.1 667.1h.01M361.0 663.9h.01M368.4 680.0h.01M367.2 661.1h.01M378.2 659.2h.01M372.9 673.0h.01M373.9 672.9h.01M366.6 666.1h.01M369.6 668.8h.01M369.0 667.0h.01M358.9 665.4h.01M368.6 655.8h.01M372.1 670.8h.01M366.0 658.1h.01M371.8 661.7h.01M373.4 671.2h.01M369.5 661.7h.01M358.9 660.4h.01M369.6 651.9h.01M370.3 660.5h.01M365.3 661.5h.01M371.0 665.4h.01M375.2 674.8h.01M367.7 665.9h.01M366.4 670.6h.01M362.7 661.7h.01M363.7 660.8h.01M364.4 659.2h.01M370.4 653.9h.01M373.0 662.6h.01M365.6 661.7h.01M374.5 668.3h.01M377.1 666.1h.01M367.2 651.0h.01M377.6 654.6h.01M370.7 664.3h.01M374.8 673.2h.01M375.9 667.3h.01M371.4 673.7h.01M375.7 657.0h.01M367.3 662.2h.01M369.8 658.3h.01M369.1 665.8h.01M370.3 663.9h.01M362.7 656.0h.01M362.4 655.2h.01M371.7 666.9h.01M367.5 663.3h.01M368.1 668.4h.01M377.3 659.7h.01M365.7 669.3h.01M368.1 670.0h.01M359.2 652.9h.01M374.5 668.6h.01M372.3 674.6h.01M372.4 673.7h.01M375.4 660.6h.01M366.8 646.2h.01M370.6 667.9h.01M364.1 664.6h.01M362.3 668.2h.01M371.2 676.9h.01M370.3 669.9h.01M371.1 669.7h.01M374.1 658.8h.01M378.4 670.9h.01M372.6 653.5h.01M363.2 658.8h.01M365.5 664.3h.01M375.0 660.5h.01M375.2 676.9h.01M370.9 673.3h.01M373.5 654.5h.01M360.0 663.7h.01M379.0 674.0h.01M372.3 658.4h.01M370.8 666.5h.01M362.7 659.5h.01M374.2 670.5h.01M378.3 665.2h.01M377.0 675.4h.01M373.7 663.8h.01M365.1 667.0h.01M366.0 653.7h.01M369.7 678.1h.01M362.3 655.1h.01M371.3 671.5h.01M368.5 661.0h.01M366.0 667.1h.01M364.4 668.0h.01M367.0 653.7h.01M366.4 662.6h.01M356.2 664.9h.01M377.9 666.4h.01M370.8 671.2h.01M371.8 664.6h.01M360.4 671.7h.01M369.6 666.2h.01M376.8 659.7h.01M361.7 656.8h.01M371.0 661.9h.01M370.3 663.1h.01M370.4 671.2h.01M369.1 661.5h.01M373.3 659.6h.01M370.3 661.4h.01M373.1 671.2h.01M369.3 663.5h.01M370.3 667.3h.01M372.9 656.2h.01M372.1 661.5h.01M375.1 668.2h.01M368.6 662.5h.01M374.6 665.8h.01M362.3 660.5h.01M369.7 671.1h.01M373.0 665.6h.01M366.4 675.9h.01M368.6 666.9h.01M377.3 660.8h.01M367.5 668.0h.01M368.8 661.8h.01M373.4 665.2h.01M374.1 670.6h.01M371.7 677.2h.01M377.1 673.5h.01M365.7 658.1h.01M371.4 666.5h.01M370.5 658.6h.01M363.3 656.6h.01M362.7 673.4h.01M368.7 678.7h.01M366.3 663.0h.01M368.9 660.6h.01M378.9 665.5h.01M370.3 661.1h.01M358.6 656.3h.01M374.8 669.3h.01M373.5 660.5h.01M372.8 664.4h.01M372.3 667.8h.01M369.2 648.6h.01M362.7 657.8h.01M367.8 665.2h.01M366.9 658.3h.01M373.4 648.7h.01M363.0 651.7h.01M369.6 673.9h.01M363.1 658.9h.01M372.4 671.7h.01M370.0 655.6h.01M373.1 653.0h.01M360.4 676.6h.01M365.8 663.5h.01M371.3 658.0h.01M362.1 664.2h.01M364.1 647.0h.01M358.7 659.3h.01M358.7 646.0h.01M376.0 660.4h.01M362.1 661.0h.01M362.4 678.5h.01M379.0 664.4h.01M367.4 651.0h.01M362.9 649.4h.01M364.1 670.3h.01M371.6 665.0h.01M360.9 646.4h.01M364.0 662.9h.01M360.4 646.8h.01M373.6 661.7h.01M371.4 659.8h.01M372.5 669.9h.01M375.5 655.1h.01M371.3 657.4h.01M376.5 657.1h.01M372.8 671.6h.01M371.9 659.1h.01M369.5 680.4h.01M375.6 664.0h.01M377.1 675.7h.01M373.3 667.1h.01M360.8 673.7h.01M369.0 677.0h.01M374.0 664.9h.01M362.9 661.4h.01M370.8 662.6h.01M366.3 657.1h.01M372.0 664.2h.01M373.1 666.9h.01M371.9 669.7h.01M375.1 664.5h.01M378.2 660.3h.01M367.4 667.9h.01M364.7 665.0h.01M374.0 659.3h.01M365.7 666.7h.01M375.3 674.7h.01M374.3 675.6h.01M377.8 658.2h.01M374.3 666.7h.01M374.9 671.6h.01M370.7 662.9h.01M371.0 668.0h.01M371.3 664.9h.01M369.2 665.2h.01M374.4 665.4h.01M368.5 678.0h.01M365.7 647.6h.01M359.8 655.0h.01M373.8 675.3h.01M372.7 671.0h.01M368.4 673.5h.01M371.8 668.8h.01M370.9 656.6h.01M364.6 651.2h.01M370.6 679.0h.01M369.3 660.6h.01M370.4 670.0h.01M373.3 663.9h.01M359.8 658.8h.01M370.5 665.5h.01M367.8 660.0h.01M376.6 651.2h.01M375.7 670.0h.01M378.3 654.4h.01M370.4 671.5h.01M373.7 662.8h.01M368.5 648.6h.01M368.0 662.9h.01M364.3 658.9h.01M362.0 668.9h.01M371.5 657.5h.01M378.0 672.1h.01M371.8 660.5h.01M369.8 652.4h.01M376.6 664.3h.01M362.4 658.5h.01M372.1 673.5h.01M368.4 672.1h.01M362.9 655.7h.01M373.0 665.1h.01M366.5 666.3h.01M366.7 655.9h.01M367.1 670.0h.01M365.2 657.7h.01M372.7 673.1h.01M374.5 666.3h.01M360.0 649.7h.01M361.7 671.5h.01M374.8 675.0h.01M372.8 654.0h.01M367.5 663.2h.01M373.9 656.9h.01M378.9 658.1h.01M365.9 666.4h.01M371.3 672.8h.01M374.6 655.4h.01M373.7 671.0h.01M368.4 660.5h.01M374.2 673.5h.01M377.1 673.1h.01M372.8 657.6h.01M374.1 666.8h.01M373.3 678.2h.01M369.7 659.8h.01M361.8 667.2h.01M370.7 663.6h.01M361.2 668.9h.01M374.0 667.7h.01M370.2 656.0h.01M363.8 660.7h.01M358.8 655.3h.01M369.4 654.0h.01M360.2 674.2h.01M361.4 666.2h.01M364.6 661.9h.01M368.9 654.4h.01M370.9 664.6h.01M373.6 657.4h.01M368.3 662.3h.01M364.9 665.5h.01M367.1 663.5h.01M367.6 659.4h.01M366.4 669.7h.01M378.4 674.5h.01M365.5 661.6h.01M372.5 672.7h.01M372.4 661.3h.01M377.1 665.1h.01M376.6 667.4h.01M370.1 652.0h.01M367.8 655.3h.01M370.8 660.6h.01M366.2 671.7h.01M369.0 674.7h.01M370.8 669.7h.01M368.5 655.1h.01M372.5 658.3h.01M374.0 667.1h.01M375.3 662.0h.01M375.0 673.4h.01M371.2 672.7h.01M367.9 659.7h.01M377.4 675.1h.01M364.1 667.4h.01M359.0 662.7h.01M373.3 666.5h.01M363.1 647.6h.01M365.8 665.6h.01M373.0 650.5h.01M356.2 668.2h.01M369.3 666.7h.01M366.1 656.4h.01M373.8 660.5h.01M370.4 669.8h.01M363.4 660.9h.01M370.8 674.6h.01M374.9 674.5h.01M376.4 656.6h.01M373.8 664.6h.01M371.5 668.4h.01M365.3 663.3h.01M376.0 678.2h.01M373.4 654.7h.01M370.8 671.6h.01M362.5 676.2h.01M371.6 653.2h.01M373.8 678.7h.01M370.8 663.8h.01M376.7 677.5h.01M360.2 657.7h.01M364.5 669.0h.01M375.8 651.4h.01M364.6 666.7h.01M364.9 656.4h.01M366.6 661.0h.01M376.9 671.4h.01M376.9 662.3h.01M375.5 671.0h.01M361.9 663.4h.01M363.5 673.9h.01M376.8 671.4h.01M377.5 668.1h.01M374.5 648.2h.01M368.0 680.0h.01M364.7 663.7h.01M376.5 658.0h.01M371.0 670.7h.01M373.2 667.3h.01M366.9 655.0h.01M370.0 656.9h.01M363.9 670.8h.01M366.7 651.6h.01M374.2 666.8h.01M369.7 655.9h.01M371.8 663.0h.01M378.7 676.0h.01M371.0 679.1h.01M374.4 671.2h.01M372.0 661.0h.01M371.9 669.9h.01M365.7 650.6h.01M375.3 662.4h.01M368.6 655.1h.01M374.0 666.7h.01M378.8 667.8h.01M369.0 674.2h.01M373.6 668.2h.01M370.7 663.2h.01M362.9 664.2h.01M371.5 657.0h.01M376.0 679.0h.01M373.9 667.4h.01M363.8 664.0h.01M364.7 655.8h.01M368.6 675.3h.01M369.9 661.1h.01M378.0 657.8h.01M377.9 667.8h.01M365.6 663.6h.01M377.7 678.6h.01M375.2 664.7h.01M373.7 656.5h.01M376.4 662.9h.01M372.5 659.7h.01M363.5 659.4h.01M364.6 657.9h.01M375.4 650.0h.01M377.5 672.0h.01M367.2 657.2h.01M376.6 674.9h.01M371.6 660.5h.01M372.7 652.5h.01M364.2 657.3h.01M376.8 667.6h.01M368.2 659.6h.01M370.7 663.2h.01M363.2 663.0h.01M363.6 660.0h.01M374.3 680.1h.01M364.3 661.1h.01M376.3 670.4h.01M373.8 670.8h.01M367.2 655.9h.01M370.9 654.2h.01M371.5 665.9h.01M372.5 667.7h.01M367.2 653.8h.01M371.6 670.5h.01M377.2 665.1h.01M370.2 663.9h.01M369.1 661.8h.01M364.8 664.4h.01M369.5 662.3h.01M364.8 648.1h.01M367.9 672.2h.01M361.2 658.5h.01M371.3 660.3h.01M372.1 675.1h.01M362.1 668.6h.01M374.2 678.1h.01M378.1 662.5h.01M373.1 670.0h.01M373.0 662.3h.01M372.1 663.0h.01M365.4 677.1h.01M371.1 660.7h.01M364.7 676.4h.01M365.4 657.5h.01M376.5 652.1h.01M364.8 632.0h.01M367.6 647.3h.01M368.5 663.7h.01M363.7 641.7h.01M372.1 659.4h.01M363.1 644.6h.01M361.9 658.2h.01M370.7 643.9h.01M367.9 642.4h.01M377.8 654.1h.01M365.4 650.8h.01M377.5 660.0h.01M379.2 646.8h.01M368.8 647.7h.01M375.4 666.4h.01M357.6 640.8h.01M371.4 650.8h.01M366.6 655.7h.01M356.7 654.0h.01M373.2 640.7h.01M373.9 660.1h.01M373.6 653.1h.01M373.1 661.9h.01M360.0 645.2h.01M371.6 646.2h.01M372.0 652.6h.01M377.6 641.3h.01M365.1 643.1h.01M368.3 664.0h.01M370.2 642.5h.01M367.3 641.6h.01M368.8 645.9h.01M360.8 658.0h.01M375.4 659.0h.01M375.4 655.1h.01M365.1 647.6h.01M367.5 663.1h.01M369.6 647.5h.01M364.9 656.9h.01M371.5 654.9h.01M375.3 646.5h.01M374.1 647.7h.01M378.2 659.8h.01M366.0 659.9h.01M369.4 659.8h.01M360.7 637.1h.01M377.0 648.4h.01M372.3 647.8h.01M369.4 671.5h.01M372.9 662.1h.01M361.6 648.3h.01M375.8 666.3h.01M363.7 651.7h.01M371.9 653.8h.01M363.7 655.4h.01M365.6 649.4h.01M366.6 669.5h.01M369.5 664.4h.01M368.2 633.3h.01M375.4 656.5h.01M369.1 642.2h.01M365.9 641.7h.01M373.8 662.1h.01M367.6 656.8h.01M367.7 649.2h.01M361.6 647.7h.01M374.3 647.1h.01M369.1 622.5h.01M369.4 656.7h.01M356.1 656.4h.01M363.8 650.8h.01M370.6 666.5h.01M368.2 672.5h.01M369.2 662.1h.01M365.0 649.6h.01M376.6 649.1h.01M368.3 650.3h.01M365.9 638.1h.01M366.5 641.8h.01M361.7 660.3h.01M369.1 667.9h.01M359.3 652.7h.01M373.1 667.5h.01M358.7 655.7h.01M365.6 639.9h.01M370.9 661.0h.01M358.5 656.7h.01M366.0 635.2h.01M374.4 663.1h.01M365.4 660.3h.01M368.9 650.9h.01M373.0 652.0h.01M360.5 653.3h.01M376.8 666.6h.01M375.5 655.0h.01M369.7 652.1h.01M370.2 666.1h.01M360.9 654.8h.01M359.3 637.0h.01M358.1 650.4h.01M367.2 640.2h.01M359.9 625.6h.01M358.4 650.9h.01M367.6 655.6h.01M377.6 646.3h.01M359.9 650.2h.01M373.7 656.1h.01M373.4 644.6h.01M363.5 667.0h.01M374.0 648.4h.01M376.7 646.7h.01M365.4 672.6h.01M348.0 675.1h.01M358.8 672.4h.01M355.6 665.8h.01M354.9 681.1h.01M343.9 671.9h.01M361.2 667.3h.01M367.2 679.5h.01M354.1 665.6h.01M362.1 672.5h.01M359.2 667.8h.01M360.0 667.7h.01M348.1 675.4h.01M374.1 673.9h.01M358.1 667.5h.01M367.9 680.4h.01M352.1 666.9h.01M359.5 670.6h.01M358.8 664.9h.01M354.9 656.3h.01M366.4 673.5h.01M360.7 665.2h.01M355.8 670.0h.01M358.0 680.8h.01M364.9 666.6h.01M359.8 674.5h.01M365.0 674.7h.01M362.3 659.5h.01M361.9 657.7h.01M366.9 672.2h.01M350.7 679.9h.01M372.0 670.7h.01M357.8 675.3h.01M372.1 663.1h.01M359.6 678.7h.01M371.5 665.4h.01M364.1 672.8h.01M354.0 665.1h.01M360.3 667.6h.01M365.9 661.4h.01M363.2 678.6h.01M361.8 663.5h.01M372.2 676.1h.01M357.1 666.2h.01M361.9 675.9h.01M361.0 675.4h.01M354.8 673.7h.01M359.2 677.4h.01M358.0 668.2h.01M360.9 676.4h.01M363.8 660.7h.01M358.2 669.5h.01M367.6 665.5h.01M365.0 663.1h.01M355.4 671.2h.01M366.0 677.9h.01M365.1 660.7h.01M359.7 675.9h.01M353.1 661.1h.01M358.5 668.1h.01M359.2 678.2h.01M361.2 666.7h.01M355.3 668.3h.01M355.2 670.7h.01M356.5 676.8h.01M349.3 679.6h.01M366.5 639.2h.01M378.2 638.5h.01M367.6 638.6h.01M373.7 619.9h.01M370.8 628.0h.01M364.0 643.4h.01M369.2 637.3h.01M363.7 629.0h.01M372.4 628.2h.01M370.4 649.7h.01M374.2 617.7h.01M367.7 619.9h.01M376.2 635.9h.01M362.4 625.5h.01M370.4 629.3h.01M365.7 640.9h.01M367.6 623.7h.01M360.5 645.0h.01M372.6 660.4h.01M358.6 614.3h.01M368.9 628.2h.01M364.4 624.8h.01M372.5 652.1h.01M371.9 625.1h.01" stroke="#4d5d9b" stroke-width="0.95" stroke-linecap="round" fill="none" opacity="1.0"/>
<path d="M397.4 677.5h.01M387.9 669.4h.01M391.9 679.9h.01M384.6 679.2h.01M391.3 680.1h.01M390.4 672.9h.01M391.6 668.7h.01M388.0 673.1h.01M392.8 657.3h.01M393.2 677.1h.01M395.2 668.5h.01M397.8 674.1h.01M397.2 679.8h.01M387.6 672.3h.01M389.7 675.1h.01M400.9 667.4h.01M398.2 680.9h.01M387.7 681.4h.01M390.7 671.7h.01M387.1 675.6h.01M393.9 675.4h.01M391.2 677.5h.01M386.7 672.7h.01M389.5 669.8h.01M395.1 660.1h.01M392.0 678.6h.01M391.8 676.4h.01M395.8 672.3h.01M384.3 677.3h.01M385.3 667.6h.01M389.0 670.0h.01M390.5 672.1h.01M402.8 671.5h.01M384.5 674.1h.01M385.1 671.6h.01M401.2 678.3h.01M394.3 656.0h.01M387.3 665.2h.01M390.4 665.8h.01M400.6 673.2h.01M388.1 676.6h.01M389.0 679.3h.01M386.4 678.7h.01M392.3 677.7h.01M397.2 668.3h.01M385.0 668.9h.01M392.8 677.4h.01M401.5 680.4h.01M402.3 666.0h.01M395.3 669.5h.01M391.3 668.9h.01M390.2 679.7h.01M390.0 678.8h.01M389.6 679.9h.01M400.3 666.3h.01M398.5 671.8h.01M391.9 674.9h.01M386.2 674.9h.01M391.8 666.7h.01M395.9 668.7h.01M390.4 675.8h.01M389.9 673.5h.01M391.3 665.9h.01M391.7 668.4h.01M387.6 672.7h.01M391.4 674.3h.01M392.0 677.1h.01M384.9 680.1h.01M391.0 672.9h.01M391.0 678.0h.01M384.9 670.3h.01M397.2 680.0h.01M388.7 673.8h.01M390.3 667.2h.01M384.0 675.6h.01M392.9 669.1h.01M386.4 674.1h.01M384.4 678.0h.01M389.9 677.2h.01M395.0 663.8h.01M389.1 678.5h.01M388.9 675.0h.01M390.9 667.8h.01M399.0 668.7h.01M395.9 675.1h.01M389.1 681.3h.01M388.5 671.2h.01M391.5 680.4h.01M398.7 678.0h.01M390.9 674.2h.01M388.8 671.8h.01M397.7 669.3h.01M386.5 671.5h.01M398.7 672.8h.01M396.7 675.0h.01M397.2 670.2h.01M389.1 678.2h.01M390.7 678.6h.01M390.1 671.8h.01M386.0 675.7h.01M393.2 673.0h.01M385.2 668.4h.01M385.2 672.1h.01M395.0 674.4h.01M399.5 670.2h.01M393.8 673.8h.01M394.9 670.9h.01M394.6 673.5h.01M391.1 664.7h.01M396.8 679.9h.01M387.9 675.2h.01M393.3 675.0h.01M384.5 679.2h.01M393.0 680.9h.01M388.7 672.6h.01M384.2 669.4h.01M389.3 679.7h.01M388.6 677.5h.01M392.9 678.4h.01M389.6 666.9h.01M392.3 664.2h.01M396.5 666.0h.01M394.5 675.7h.01M392.1 673.7h.01M384.5 679.5h.01M392.0 663.6h.01M394.7 675.6h.01M387.5 678.4h.01M389.4 676.3h.01M388.5 670.3h.01M391.7 677.7h.01M392.6 678.1h.01M390.5 680.5h.01M395.4 679.9h.01M397.4 665.0h.01M394.6 669.7h.01M393.1 673.3h.01M386.6 676.6h.01M392.4 680.6h.01M387.1 668.2h.01M396.7 666.8h.01M391.9 667.4h.01M389.7 680.1h.01M389.6 679.4h.01M392.3 672.3h.01M388.8 668.0h.01M383.8 678.6h.01M389.6 674.8h.01M387.9 669.0h.01M392.1 677.4h.01M398.0 667.8h.01M391.1 664.6h.01M389.4 676.4h.01M392.0 678.3h.01M396.3 680.2h.01M384.5 671.7h.01M389.2 672.3h.01M394.3 681.1h.01M387.4 678.0h.01M387.5 680.8h.01M388.7 666.2h.01M388.5 667.5h.01M397.4 677.2h.01M394.7 676.6h.01M389.5 674.5h.01M389.3 677.6h.01M393.5 662.5h.01M395.6 676.6h.01M394.5 674.3h.01M392.0 669.8h.01M389.1 657.8h.01M399.9 668.6h.01M397.2 674.2h.01M393.2 672.8h.01M400.6 671.6h.01M397.1 676.6h.01M394.2 676.0h.01M387.0 668.1h.01M389.5 670.0h.01M384.8 675.8h.01M388.1 671.6h.01M387.6 670.8h.01M393.4 680.5h.01M390.2 678.0h.01M397.7 680.7h.01M393.1 676.6h.01M395.1 672.4h.01M385.0 674.8h.01M400.2 676.8h.01M387.1 666.1h.01M390.3 666.7h.01M400.2 660.4h.01M397.0 671.4h.01M386.9 673.1h.01M402.7 676.9h.01M392.3 674.0h.01M387.8 671.9h.01M389.9 671.2h.01M397.0 665.2h.01M403.2 671.3h.01M390.3 675.7h.01M395.9 671.8h.01M385.4 677.6h.01M390.8 675.9h.01M391.1 660.9h.01M399.1 673.0h.01M385.1 679.1h.01M389.5 668.9h.01M396.1 676.5h.01M390.2 675.0h.01M399.1 670.3h.01M385.5 675.0h.01M395.1 681.1h.01M392.9 666.7h.01M397.4 680.4h.01M390.2 675.0h.01M383.9 671.9h.01M388.4 673.7h.01M403.0 671.2h.01M398.8 666.5h.01M395.3 668.6h.01M400.8 667.3h.01M393.5 668.9h.01M396.0 672.1h.01M392.7 679.8h.01M394.2 666.5h.01M404.2 663.5h.01M385.5 675.4h.01M383.8 677.6h.01M385.7 666.7h.01M387.5 671.8h.01M388.1 663.7h.01M401.1 675.4h.01M393.1 676.0h.01M392.1 670.0h.01M398.2 666.5h.01M393.9 679.3h.01M395.9 672.3h.01M383.8 668.6h.01M399.7 668.9h.01M387.4 671.1h.01M385.7 677.3h.01M392.7 681.2h.01M384.3 678.4h.01M384.6 680.4h.01M391.5 673.4h.01M388.1 674.4h.01M399.9 670.2h.01M390.7 670.6h.01M393.4 667.8h.01M388.3 674.8h.01M394.6 674.5h.01M384.3 673.5h.01M392.8 680.4h.01M403.0 672.7h.01M390.8 665.7h.01M394.9 672.8h.01M391.7 674.9h.01M399.4 669.8h.01M388.3 673.3h.01M390.1 669.8h.01M398.1 671.3h.01M384.8 676.2h.01M390.0 664.7h.01M387.5 673.1h.01M384.6 672.2h.01M385.5 673.0h.01M386.2 679.1h.01M396.7 680.6h.01M396.0 665.6h.01M385.8 673.8h.01M396.7 674.4h.01M390.1 670.4h.01M392.9 670.3h.01M391.5 674.6h.01M393.0 677.1h.01M393.6 679.9h.01M384.1 672.0h.01M395.2 676.9h.01M397.2 671.4h.01M391.9 676.8h.01M395.0 670.4h.01M393.3 675.0h.01M392.4 671.7h.01M389.9 680.1h.01M389.5 679.6h.01M386.8 671.9h.01M392.5 668.3h.01M391.1 672.0h.01M387.8 675.0h.01M396.3 678.6h.01M385.8 679.4h.01M393.6 677.5h.01M388.1 664.8h.01M389.1 680.8h.01M385.7 677.6h.01M393.3 679.2h.01M389.4 676.3h.01M399.4 670.7h.01M398.6 679.9h.01M404.7 678.8h.01M392.6 676.7h.01M395.4 673.2h.01M390.2 678.2h.01M386.9 677.5h.01M386.9 673.6h.01M387.7 662.1h.01M389.4 679.0h.01M399.1 675.7h.01M391.0 675.4h.01M396.6 680.7h.01M386.0 672.3h.01M390.1 673.0h.01M390.9 671.1h.01M390.9 679.0h.01M391.3 671.7h.01M396.5 674.8h.01M386.4 679.8h.01M385.2 679.8h.01M394.0 678.5h.01M384.8 677.1h.01M391.0 675.0h.01M397.0 666.6h.01M392.9 665.3h.01M394.0 679.4h.01M390.1 675.5h.01M396.4 675.2h.01M390.6 667.8h.01M385.4 676.0h.01M390.0 673.9h.01M383.9 672.2h.01M394.4 674.6h.01M390.8 670.8h.01M392.3 672.1h.01M393.0 671.0h.01M389.3 669.7h.01M390.6 669.4h.01M398.7 673.9h.01M383.9 677.3h.01M391.2 669.8h.01M399.4 666.7h.01M395.5 677.1h.01M397.7 677.4h.01M386.5 679.2h.01M400.1 666.9h.01M384.3 681.0h.01M384.2 664.9h.01M396.7 671.6h.01M394.3 675.5h.01M385.2 678.9h.01M394.3 679.4h.01M403.1 680.2h.01M393.6 677.6h.01M386.3 679.2h.01M401.0 667.9h.01M398.7 671.3h.01M389.3 680.7h.01M395.1 675.0h.01M385.6 678.5h.01M396.4 678.6h.01M400.5 676.3h.01M385.7 671.1h.01M385.1 678.6h.01M398.1 679.7h.01M401.8 678.6h.01M388.8 678.2h.01M403.7 677.0h.01M398.9 677.7h.01M393.3 666.7h.01M391.0 675.3h.01M393.5 671.4h.01M387.0 667.1h.01M405.2 670.2h.01M388.5 678.2h.01M399.0 671.4h.01M384.4 679.6h.01M392.3 674.2h.01M408.0 668.6h.01M393.7 676.5h.01M391.0 663.0h.01M387.7 670.7h.01M389.2 677.9h.01M396.6 672.7h.01M399.2 673.0h.01M387.6 672.9h.01M400.4 672.6h.01M388.3 678.6h.01M394.0 669.7h.01M396.6 680.7h.01M392.0 675.4h.01M389.0 677.1h.01M398.2 678.5h.01M391.4 672.5h.01M390.6 671.3h.01M389.3 673.3h.01M393.7 681.5h.01M393.8 671.1h.01M401.6 676.5h.01M390.5 671.2h.01M398.8 661.6h.01M390.8 679.8h.01M398.8 673.4h.01M387.6 671.5h.01M392.6 678.8h.01M396.9 677.4h.01M387.7 677.2h.01M394.4 661.5h.01M387.2 668.0h.01M391.3 676.1h.01M398.9 678.8h.01M384.5 668.0h.01M394.0 677.4h.01M387.8 668.4h.01M384.2 673.3h.01M399.1 678.1h.01M384.7 679.5h.01M390.3 663.1h.01M398.5 674.8h.01M396.6 680.7h.01M389.4 669.6h.01M394.5 678.9h.01M390.4 676.4h.01M396.9 664.3h.01M386.7 678.9h.01M385.2 680.0h.01M388.2 676.5h.01M386.6 679.7h.01M396.8 677.0h.01M387.9 680.3h.01M385.6 676.1h.01M396.1 672.2h.01M393.4 678.6h.01M385.5 675.1h.01M389.7 679.9h.01M394.1 675.5h.01M394.3 672.6h.01M385.9 665.2h.01M395.2 677.4h.01M394.5 663.2h.01M394.9 679.4h.01M387.7 674.6h.01M388.0 678.6h.01M390.3 673.5h.01M394.9 672.7h.01M386.2 661.9h.01M398.3 674.1h.01M392.2 673.7h.01M389.4 679.9h.01M395.0 674.7h.01M400.2 666.3h.01M384.5 676.0h.01M398.4 662.3h.01M384.4 679.3h.01M403.0 675.8h.01M389.9 680.4h.01M386.0 677.4h.01M390.6 677.9h.01M394.3 680.2h.01M385.5 676.0h.01M388.4 678.5h.01M390.2 668.7h.01M396.5 672.8h.01M389.6 674.7h.01M398.3 675.2h.01M388.7 666.9h.01M391.2 680.9h.01M394.7 673.5h.01M393.2 676.5h.01M391.4 666.9h.01M395.2 665.8h.01M398.9 667.8h.01M396.3 677.9h.01M385.3 678.2h.01M396.7 666.5h.01M388.7 676.6h.01M388.5 681.4h.01M389.8 674.1h.01M393.0 677.4h.01M391.1 674.7h.01M392.0 670.7h.01M389.0 673.3h.01M384.7 676.5h.01M392.3 675.0h.01M387.9 669.1h.01M390.0 673.7h.01M391.6 668.7h.01M394.8 668.3h.01M384.3 668.6h.01M385.6 672.5h.01M384.6 679.0h.01M387.6 668.4h.01M397.9 676.3h.01M392.7 670.8h.01M392.9 665.4h.01M386.1 677.2h.01M390.5 680.5h.01M386.9 673.4h.01M392.0 675.5h.01M384.2 668.0h.01M395.2 668.7h.01M398.5 677.4h.01M388.0 674.6h.01M390.5 681.2h.01M394.0 671.3h.01M397.2 666.5h.01M387.4 674.8h.01M387.2 680.9h.01M392.9 676.2h.01M392.5 676.7h.01M387.1 663.4h.01M391.4 679.9h.01M393.4 664.8h.01M394.3 675.8h.01M390.9 670.9h.01M392.2 673.2h.01M389.7 665.8h.01M385.3 679.6h.01M385.7 667.1h.01M392.3 679.6h.01M393.6 681.3h.01M386.5 678.2h.01M394.2 672.4h.01M392.1 670.2h.01M390.8 679.6h.01M394.7 681.5h.01M390.9 677.0h.01M392.5 680.0h.01M389.6 676.1h.01M384.5 671.4h.01M397.3 673.2h.01M394.1 674.3h.01M395.6 677.9h.01M385.7 671.3h.01M392.9 668.1h.01M398.4 672.1h.01M389.6 672.9h.01M387.6 671.3h.01M396.1 678.2h.01M395.8 680.4h.01M398.0 669.7h.01M387.7 672.6h.01M387.9 670.6h.01M397.5 669.4h.01M395.4 674.6h.01M390.2 678.5h.01M396.7 673.9h.01M392.9 675.4h.01M398.0 676.1h.01M388.2 675.6h.01M390.8 668.7h.01M390.8 668.7h.01M397.2 664.7h.01M383.8 672.9h.01M392.4 674.9h.01M389.5 670.1h.01M392.4 672.1h.01M390.3 677.3h.01M394.0 680.6h.01M403.4 669.8h.01M387.8 668.6h.01M391.5 663.2h.01M384.9 674.8h.01M392.9 681.0h.01M392.5 674.7h.01M384.6 678.0h.01M388.9 673.8h.01M390.4 678.2h.01M391.7 668.4h.01M387.9 677.1h.01M392.2 665.4h.01M390.8 669.9h.01M392.9 668.2h.01M390.7 676.6h.01M387.8 673.6h.01M393.0 677.4h.01M388.0 678.0h.01M394.5 679.2h.01M390.6 681.6h.01M386.3 679.5h.01M392.6 668.9h.01M386.2 674.9h.01M390.4 673.5h.01M391.6 674.0h.01M395.3 673.6h.01M387.7 675.7h.01M396.0 675.6h.01M386.4 677.1h.01M388.3 670.5h.01M384.2 670.4h.01M396.2 662.4h.01M397.8 676.0h.01M398.0 657.9h.01M395.9 670.4h.01M385.5 663.6h.01M390.4 675.1h.01M388.6 666.2h.01M387.8 667.6h.01M397.7 675.8h.01M397.5 666.9h.01M390.8 664.6h.01M390.0 669.4h.01M391.7 679.6h.01M386.1 674.2h.01M391.0 669.6h.01M391.5 665.2h.01M388.6 670.5h.01M386.7 670.8h.01M391.7 668.0h.01M384.1 668.1h.01M385.6 680.3h.01M392.1 680.8h.01M386.1 678.0h.01M391.8 657.9h.01M387.4 668.9h.01M389.3 667.2h.01M386.5 679.9h.01M391.3 673.9h.01M388.3 672.8h.01M398.9 669.7h.01M399.4 676.8h.01M398.2 681.4h.01M387.5 678.6h.01M388.0 671.5h.01M398.4 669.5h.01M398.4 663.7h.01M390.0 668.6h.01M389.7 670.2h.01M385.5 681.1h.01M398.4 680.6h.01M384.7 672.1h.01M402.7 665.4h.01M395.5 674.5h.01M384.8 663.8h.01M391.7 660.1h.01M391.8 677.0h.01M383.8 667.4h.01M389.3 677.1h.01M388.8 677.8h.01M384.0 677.0h.01M394.3 670.5h.01M387.3 675.2h.01M398.1 670.4h.01M385.2 679.9h.01M387.7 675.7h.01M397.4 670.0h.01M386.0 673.1h.01M398.2 672.9h.01M389.1 671.2h.01M388.0 666.5h.01M388.1 674.8h.01M389.8 669.3h.01M389.2 673.1h.01M396.4 675.0h.01M395.7 667.7h.01M394.4 670.9h.01M389.4 666.9h.01M389.2 680.2h.01M400.1 667.9h.01M388.9 676.2h.01M400.2 672.2h.01M397.4 667.3h.01M390.4 674.0h.01M393.9 672.4h.01M389.9 672.7h.01M384.1 667.1h.01M389.3 672.9h.01M393.5 681.6h.01M396.9 667.0h.01M399.7 681.6h.01M387.4 666.2h.01M389.0 669.9h.01M395.2 678.6h.01M391.2 668.9h.01M383.8 668.1h.01M389.7 674.3h.01M386.7 679.7h.01M398.1 678.1h.01M389.6 662.7h.01M392.0 677.8h.01M387.2 672.1h.01M392.0 675.3h.01M390.2 666.8h.01M386.3 678.8h.01M400.3 679.1h.01M393.8 677.5h.01M399.1 676.1h.01M389.3 680.1h.01M386.4 668.6h.01M392.6 676.5h.01M384.5 681.4h.01M397.4 671.4h.01M388.4 670.7h.01M384.0 675.7h.01M391.9 654.9h.01M390.5 673.8h.01M397.7 660.2h.01M386.4 674.7h.01M384.1 679.0h.01M385.2 681.5h.01M387.8 667.1h.01M398.0 672.3h.01M396.1 670.7h.01M395.9 679.0h.01M389.4 665.3h.01M402.4 661.6h.01M398.9 679.0h.01M392.8 674.2h.01M401.3 672.4h.01M399.6 677.7h.01M391.0 677.5h.01M385.6 680.6h.01M397.4 662.9h.01M398.2 679.2h.01M393.4 669.9h.01M385.9 677.3h.01M387.3 663.3h.01M387.6 668.5h.01M384.5 671.9h.01M397.5 677.8h.01M384.7 675.0h.01M387.3 674.7h.01M395.1 677.5h.01M392.7 678.4h.01M393.0 679.5h.01M384.2 675.6h.01M391.2 679.6h.01M396.9 680.6h.01M384.2 680.5h.01M388.6 676.2h.01M394.8 664.2h.01M388.6 671.1h.01M390.5 674.7h.01M394.9 673.7h.01M392.4 672.0h.01M400.9 677.8h.01M390.7 679.6h.01M391.1 675.2h.01M395.3 675.5h.01M386.3 663.8h.01M388.6 672.9h.01M392.2 666.2h.01M390.3 667.5h.01M390.8 677.8h.01M394.9 674.6h.01M388.6 669.4h.01M387.3 678.4h.01M389.8 680.6h.01M388.8 666.1h.01M396.2 679.8h.01M384.3 678.9h.01M388.9 673.6h.01M397.1 670.5h.01M397.9 680.9h.01M389.9 668.4h.01M388.0 670.0h.01M390.5 669.9h.01M394.4 674.0h.01M389.6 660.1h.01M388.8 681.1h.01M385.7 677.6h.01M393.6 671.5h.01M386.4 675.6h.01M390.3 673.7h.01M400.2 675.4h.01M386.0 678.3h.01M385.2 674.9h.01M391.6 673.5h.01M389.4 672.3h.01M397.6 680.4h.01M385.2 681.4h.01M390.6 677.2h.01M394.0 671.8h.01M387.4 678.9h.01M387.7 678.4h.01M392.3 679.8h.01M395.5 678.3h.01M402.2 673.4h.01M384.8 667.9h.01M392.9 671.5h.01M386.7 675.5h.01M389.8 676.8h.01M396.3 665.7h.01M392.7 676.0h.01M389.3 671.3h.01M392.6 674.1h.01M388.7 673.8h.01M396.4 675.0h.01M394.1 676.9h.01M400.2 673.7h.01M404.4 675.8h.01M397.4 663.8h.01M383.8 672.9h.01M384.6 680.5h.01M385.2 678.7h.01M389.6 671.5h.01M394.7 680.7h.01M393.4 671.9h.01M393.1 671.1h.01M394.1 674.8h.01M389.1 669.8h.01M384.1 673.8h.01M388.7 675.4h.01M386.9 678.1h.01M390.1 674.7h.01M390.2 681.6h.01M390.6 662.6h.01M385.8 673.6h.01M391.1 678.4h.01M393.9 680.1h.01M384.0 673.6h.01M392.8 679.5h.01M390.7 672.8h.01M390.8 670.2h.01M400.3 674.1h.01M393.1 667.7h.01M384.3 676.0h.01M390.6 670.9h.01M384.8 671.4h.01M392.0 678.0h.01M384.6 674.6h.01M394.5 671.5h.01M389.8 674.3h.01M394.7 678.8h.01M384.1 675.1h.01M391.3 674.9h.01M384.0 678.7h.01M395.5 668.6h.01M393.0 678.0h.01M390.4 664.2h.01M408.3 672.3h.01M388.2 677.2h.01M389.3 674.5h.01M394.1 678.2h.01M387.5 678.6h.01M397.1 672.4h.01M386.2 665.9h.01M391.4 673.3h.01M392.9 672.6h.01M385.8 675.7h.01M390.2 675.3h.01M385.0 675.4h.01M387.1 675.6h.01M394.2 676.9h.01M392.6 670.7h.01M390.3 676.6h.01M393.1 675.3h.01M393.8 666.2h.01M393.5 669.8h.01M397.2 680.8h.01M390.2 679.9h.01M387.0 661.3h.01M395.5 669.3h.01M391.4 679.1h.01M395.0 677.0h.01M389.9 667.0h.01M393.5 672.8h.01M391.7 671.4h.01M394.0 669.5h.01M393.9 675.5h.01M390.0 669.1h.01M393.7 668.2h.01M393.5 671.6h.01M395.2 667.6h.01M395.1 677.3h.01M398.5 681.5h.01M398.1 670.2h.01M388.8 663.8h.01M395.5 680.8h.01M392.4 673.6h.01M388.5 681.2h.01M397.0 667.2h.01M397.3 666.1h.01M390.6 672.5h.01M392.5 669.7h.01M385.1 672.7h.01M401.2 677.1h.01M386.2 679.7h.01M390.9 674.4h.01M388.9 672.8h.01M390.8 674.4h.01M386.4 670.4h.01M394.5 681.4h.01M398.8 675.0h.01M394.9 659.6h.01M391.3 672.7h.01M387.9 674.3h.01M390.3 678.9h.01M387.7 675.5h.01M391.7 674.0h.01M393.3 680.8h.01M394.1 677.2h.01M388.3 677.1h.01M398.1 666.2h.01M392.3 678.8h.01M391.0 663.8h.01M387.8 673.4h.01M386.6 681.0h.01M392.4 672.0h.01M385.9 679.0h.01M385.5 676.9h.01M386.7 675.7h.01M402.4 668.2h.01M392.1 680.0h.01M386.7 677.9h.01M385.0 679.1h.01M396.7 672.4h.01M397.9 666.8h.01M395.6 668.1h.01M388.3 674.6h.01M386.1 678.5h.01M391.8 671.4h.01M386.6 674.2h.01M391.1 674.3h.01M394.9 664.5h.01M392.5 669.7h.01M390.6 673.8h.01M405.7 680.0h.01M388.4 678.0h.01M391.8 676.9h.01M389.0 671.1h.01M390.2 673.8h.01M396.5 656.3h.01M388.2 662.4h.01M393.2 670.8h.01M387.7 672.6h.01M392.4 678.4h.01M400.9 678.9h.01M385.6 673.6h.01M397.9 681.2h.01M387.2 666.4h.01M387.3 673.7h.01M386.5 679.3h.01M392.7 670.6h.01M395.4 673.4h.01M389.2 670.8h.01M386.3 668.1h.01M384.1 677.8h.01M393.6 669.2h.01M396.4 665.1h.01M392.0 678.2h.01M390.2 674.7h.01M386.4 679.3h.01M388.9 679.0h.01M397.7 678.4h.01M397.9 675.5h.01M393.5 673.3h.01M391.2 671.5h.01M388.4 680.4h.01M384.3 671.7h.01M396.1 667.8h.01M392.4 676.4h.01M396.0 670.5h.01M398.0 678.6h.01M404.5 667.6h.01M390.7 678.6h.01M391.7 667.5h.01M393.0 680.4h.01M397.3 674.8h.01M387.0 676.7h.01M386.8 673.6h.01M404.1 675.9h.01M396.5 674.1h.01M393.7 673.2h.01M394.3 674.6h.01M390.8 678.7h.01M393.4 673.9h.01M386.3 670.3h.01M400.3 665.1h.01M393.1 675.3h.01M384.7 677.2h.01M391.8 676.5h.01M392.3 674.7h.01M393.2 669.7h.01M388.8 672.5h.01M385.7 678.9h.01M394.3 667.9h.01M387.4 675.5h.01M388.4 671.2h.01M391.1 676.2h.01M402.4 672.9h.01M386.6 659.8h.01M385.4 675.3h.01M384.9 666.7h.01M386.5 673.1h.01M398.5 671.0h.01M390.5 672.4h.01M389.4 681.6h.01M395.3 665.9h.01M391.8 670.6h.01M393.8 676.6h.01M390.0 680.2h.01M390.3 678.8h.01M386.7 670.1h.01M393.3 676.2h.01M392.0 676.6h.01M387.0 677.5h.01M400.8 672.4h.01M387.1 667.4h.01M385.4 676.5h.01M394.9 676.6h.01M391.4 665.7h.01M389.3 664.4h.01M384.2 680.7h.01M397.0 677.4h.01M385.8 679.0h.01M387.4 675.6h.01M388.2 678.0h.01M389.6 676.3h.01M395.7 668.3h.01M394.5 673.4h.01M397.6 668.5h.01M391.0 675.1h.01M390.9 672.9h.01M387.1 667.5h.01M384.4 680.4h.01M398.1 671.5h.01M388.9 666.8h.01M392.1 679.1h.01M389.8 665.3h.01M393.6 680.8h.01M390.1 667.9h.01M388.0 681.0h.01M389.8 675.0h.01M395.4 673.6h.01M399.1 672.2h.01M389.2 678.4h.01M387.4 676.3h.01M394.5 675.2h.01M385.6 674.2h.01M389.5 674.0h.01M392.6 674.4h.01M386.4 677.6h.01M390.6 667.6h.01M391.1 673.5h.01M393.2 666.8h.01M386.1 671.0h.01M388.2 663.5h.01M383.9 680.1h.01M392.6 674.9h.01M385.2 673.1h.01M393.5 677.3h.01M392.0 675.9h.01M394.3 671.0h.01M396.5 678.6h.01M393.2 674.0h.01M385.2 665.4h.01M394.6 670.2h.01M387.5 671.1h.01M388.8 677.1h.01M389.8 669.4h.01M388.9 678.0h.01M387.8 674.4h.01M386.9 668.4h.01M396.0 680.5h.01M394.8 679.9h.01M397.2 670.6h.01M393.4 667.5h.01M390.0 680.8h.01M396.6 668.7h.01M388.7 678.3h.01M394.3 678.3h.01M391.7 681.2h.01M389.1 670.1h.01M396.3 669.5h.01M390.7 679.3h.01M390.3 678.7h.01M394.9 676.5h.01M392.0 673.8h.01M390.0 681.5h.01M387.1 677.5h.01M403.3 675.8h.01M398.9 678.5h.01M390.0 669.8h.01M399.1 677.9h.01M389.3 669.0h.01M386.7 678.9h.01M388.3 674.2h.01M388.1 680.8h.01M396.4 677.8h.01M392.4 670.6h.01M399.8 675.5h.01M385.3 677.8h.01M388.0 665.6h.01M396.2 666.1h.01M394.6 668.0h.01M397.2 672.1h.01M398.1 674.8h.01M393.7 666.2h.01M389.3 666.2h.01M390.4 659.9h.01M397.0 672.7h.01M391.0 678.3h.01M393.9 677.2h.01M392.2 661.5h.01M386.1 679.3h.01M398.0 681.1h.01M389.4 672.8h.01M395.7 661.7h.01M387.7 671.3h.01M390.7 675.3h.01M392.3 678.7h.01M387.4 676.1h.01M388.4 671.9h.01M392.7 669.1h.01M401.2 675.2h.01M390.5 666.4h.01M391.3 675.8h.01M397.0 677.6h.01M390.6 678.6h.01M406.6 674.2h.01M387.2 680.4h.01M384.3 676.3h.01M395.5 672.4h.01M395.1 671.4h.01M396.8 671.2h.01M386.4 674.5h.01M389.4 672.5h.01M390.0 675.0h.01M392.3 679.9h.01M389.4 668.9h.01M392.8 661.6h.01M386.9 680.5h.01M391.5 681.0h.01M389.3 676.3h.01M385.8 672.5h.01M394.0 667.8h.01M390.5 676.2h.01M397.2 671.9h.01M384.3 680.9h.01M389.1 664.9h.01M388.7 679.3h.01M395.1 676.9h.01M385.4 679.1h.01M397.3 672.7h.01M393.1 669.0h.01M386.1 681.3h.01M390.9 673.2h.01M389.5 678.5h.01M389.2 666.5h.01M397.3 676.8h.01M392.6 678.0h.01M395.8 672.9h.01M387.6 678.1h.01M396.3 673.5h.01M387.1 679.2h.01M383.9 669.9h.01M394.4 675.0h.01M390.4 671.1h.01M389.0 677.4h.01M389.8 679.2h.01M391.5 673.8h.01M384.6 673.3h.01M388.8 678.5h.01M392.3 680.6h.01M395.7 678.2h.01M388.5 666.6h.01M390.0 678.6h.01M384.8 675.6h.01M384.5 672.6h.01M392.7 680.2h.01M392.4 673.9h.01M387.9 675.9h.01M384.4 674.4h.01M393.9 668.1h.01M384.7 679.3h.01M386.3 675.2h.01M395.9 681.5h.01M386.2 679.0h.01M384.3 675.9h.01M391.7 679.7h.01M396.4 671.9h.01M397.8 671.9h.01M393.1 673.7h.01M405.3 675.7h.01M394.1 676.2h.01M409.7 679.3h.01M399.8 675.6h.01M386.2 680.4h.01M402.0 670.2h.01M389.8 672.0h.01M392.9 680.4h.01M386.3 674.2h.01M392.4 680.0h.01M392.4 666.8h.01M392.2 671.9h.01M388.7 673.7h.01M387.6 675.3h.01M392.0 671.4h.01M387.2 675.5h.01M399.6 673.9h.01M396.0 671.6h.01M390.1 678.6h.01M395.2 673.3h.01M388.7 673.2h.01M391.7 672.4h.01M390.1 669.3h.01M388.5 672.5h.01M387.2 673.6h.01M389.6 667.7h.01M388.2 667.7h.01M395.8 677.7h.01M391.2 679.1h.01M385.8 673.5h.01M384.5 679.9h.01M390.7 673.7h.01M385.4 673.7h.01M387.9 678.4h.01M398.3 670.6h.01M393.4 669.1h.01M386.6 678.9h.01M394.7 678.7h.01M393.4 671.1h.01M384.3 678.3h.01M393.5 656.0h.01M390.4 672.9h.01M394.0 678.4h.01M397.7 678.5h.01M387.4 676.4h.01M406.7 673.7h.01M385.3 681.0h.01M384.9 677.1h.01M393.6 667.7h.01M389.9 663.5h.01M386.7 675.0h.01M394.7 677.0h.01M385.6 678.0h.01M392.8 681.2h.01M389.7 669.9h.01M384.9 665.8h.01M386.1 680.1h.01M396.1 666.1h.01M396.4 678.9h.01M388.1 657.7h.01M390.8 680.3h.01M395.6 675.3h.01M393.0 673.0h.01M385.4 666.9h.01M393.7 679.6h.01M397.9 673.9h.01M396.4 671.3h.01M390.5 677.7h.01M390.4 674.2h.01M394.0 660.3h.01M389.9 677.2h.01M399.4 669.3h.01M394.6 665.8h.01M392.4 671.7h.01M390.8 671.5h.01M384.9 666.5h.01M392.2 675.3h.01M394.5 679.8h.01M384.6 659.3h.01M391.8 672.5h.01M386.2 673.8h.01M395.1 674.6h.01M386.6 674.0h.01M393.7 671.9h.01M387.7 671.5h.01M391.2 676.3h.01M393.2 667.1h.01M391.9 677.8h.01M385.6 680.2h.01M390.4 672.9h.01M394.3 665.6h.01M392.4 671.2h.01M395.5 675.3h.01M395.5 671.3h.01M388.5 674.2h.01M398.6 669.1h.01M391.7 672.2h.01M395.1 665.5h.01M400.0 677.3h.01M390.5 679.5h.01M385.2 667.5h.01M394.0 673.5h.01M392.8 678.4h.01M391.5 670.2h.01M395.2 673.9h.01M389.1 674.0h.01M395.9 671.6h.01M386.2 674.4h.01M393.5 671.7h.01M387.4 677.7h.01M386.3 670.4h.01M384.0 674.4h.01M394.0 675.5h.01M391.1 668.0h.01M390.7 678.5h.01M401.7 659.7h.01M387.4 670.5h.01M390.8 676.5h.01M393.8 671.3h.01M386.1 675.0h.01M395.4 679.1h.01M387.1 676.6h.01M392.0 663.9h.01M387.0 680.8h.01M396.6 666.4h.01M385.1 679.1h.01M392.7 677.4h.01M391.3 674.7h.01M395.0 673.7h.01M384.2 671.8h.01M401.9 676.2h.01M385.7 681.6h.01M387.5 665.2h.01M394.6 675.0h.01M389.8 676.0h.01M393.7 677.9h.01M392.2 678.6h.01M392.6 679.5h.01M395.1 678.5h.01M388.7 667.9h.01M389.6 670.4h.01M391.7 681.0h.01M386.1 674.6h.01M402.9 671.4h.01M393.4 668.4h.01M393.0 674.4h.01M389.2 668.1h.01M389.2 657.2h.01M396.2 673.5h.01M393.5 675.9h.01M398.5 681.6h.01M391.0 677.2h.01M394.0 670.0h.01M391.8 658.7h.01M397.5 671.8h.01M393.9 677.2h.01M392.4 680.1h.01M388.4 676.8h.01M401.1 667.3h.01M388.1 676.9h.01M384.3 675.4h.01M383.9 679.3h.01M392.0 669.5h.01M390.9 680.1h.01M386.2 679.1h.01M386.2 676.7h.01M389.8 679.2h.01M393.1 673.4h.01M397.6 681.1h.01M385.6 681.5h.01M389.5 673.5h.01M394.8 674.6h.01M385.0 674.3h.01M384.0 672.7h.01M389.8 677.2h.01M403.6 676.0h.01M388.6 672.4h.01M393.2 669.0h.01M395.6 666.3h.01M392.6 680.2h.01M393.3 677.2h.01M393.2 672.0h.01M385.0 671.6h.01M395.2 676.9h.01M388.8 671.7h.01M385.8 680.7h.01M394.8 666.5h.01M392.1 671.7h.01M387.6 676.4h.01M391.2 676.6h.01M387.8 670.3h.01M388.2 670.2h.01M391.1 664.5h.01M391.4 680.4h.01M389.5 680.0h.01M394.0 676.0h.01M390.7 675.1h.01M396.9 666.0h.01M383.8 669.7h.01M387.8 671.3h.01M400.3 676.8h.01M383.9 681.6h.01M388.5 676.7h.01M394.5 674.4h.01M384.4 669.3h.01M404.9 672.9h.01M390.0 672.8h.01M391.4 666.1h.01M390.5 673.7h.01M392.1 675.5h.01M395.5 680.1h.01M387.4 658.9h.01M400.0 666.0h.01M384.2 668.2h.01M392.6 679.2h.01M389.8 672.0h.01M384.9 680.3h.01M390.5 671.4h.01M392.8 664.7h.01M402.8 668.8h.01M386.1 678.7h.01M387.3 679.3h.01M388.4 681.0h.01M398.0 670.8h.01M393.7 675.7h.01M395.2 666.3h.01M388.2 674.4h.01M387.5 672.9h.01M397.5 667.5h.01M392.0 675.0h.01M402.0 671.2h.01M389.7 666.1h.01M400.5 670.6h.01M386.8 678.5h.01M388.9 672.1h.01M388.9 671.5h.01M402.5 670.9h.01M391.1 663.9h.01M398.9 671.0h.01M394.3 678.6h.01M389.1 681.5h.01M403.6 669.1h.01M386.8 677.1h.01M397.8 677.0h.01M386.3 664.2h.01M398.1 678.5h.01M392.0 665.3h.01M389.7 672.4h.01M391.1 659.7h.01M392.3 679.9h.01M384.7 673.3h.01M387.3 674.6h.01M396.3 665.0h.01M393.5 677.5h.01M401.8 674.7h.01M404.5 676.0h.01M387.3 679.9h.01M385.1 670.7h.01M393.3 681.6h.01M393.4 675.4h.01M388.3 675.1h.01M390.1 668.4h.01M401.0 672.5h.01M394.5 671.0h.01M391.5 675.1h.01M403.2 667.4h.01M385.7 670.4h.01M393.8 674.3h.01M395.3 681.5h.01M384.2 673.3h.01M397.3 675.2h.01M388.6 660.8h.01M403.1 671.5h.01M389.3 669.1h.01M388.9 659.1h.01M397.3 678.0h.01M391.3 679.4h.01M389.5 675.7h.01M391.9 660.9h.01M383.9 668.2h.01M395.2 662.5h.01M388.3 671.7h.01M388.1 669.7h.01M384.9 676.3h.01M395.1 673.2h.01M390.3 653.2h.01M395.6 666.7h.01M394.0 653.5h.01M401.7 663.1h.01M399.6 658.9h.01M393.0 669.0h.01M391.7 662.1h.01M391.1 658.2h.01M403.6 659.7h.01M396.0 656.2h.01M411.0 662.5h.01M403.2 658.9h.01M395.0 664.7h.01M403.4 668.3h.01M398.4 666.2h.01M397.8 658.4h.01M387.3 665.0h.01M387.8 664.7h.01M397.4 638.1h.01M405.8 659.9h.01M403.5 673.1h.01M387.5 665.9h.01M406.8 676.9h.01M393.8 658.6h.01M392.1 660.1h.01M389.1 657.1h.01M396.0 670.1h.01M390.9 659.1h.01M394.1 645.3h.01M386.6 655.9h.01M397.1 666.8h.01M397.1 673.6h.01M396.4 669.0h.01M394.6 659.6h.01M391.3 666.0h.01M399.4 659.2h.01M393.5 669.3h.01M390.5 670.9h.01M395.6 646.2h.01M405.9 649.0h.01M387.5 656.2h.01M408.5 646.6h.01M400.1 653.6h.01M401.9 657.3h.01M405.5 647.1h.01M387.1 664.9h.01M400.8 671.0h.01M390.7 672.5h.01M387.1 664.8h.01M393.8 668.9h.01M404.0 666.5h.01M390.2 668.6h.01M396.8 660.4h.01M401.8 653.9h.01M397.1 663.0h.01M395.8 670.8h.01M396.9 668.0h.01M387.7 662.6h.01M400.0 668.0h.01M396.4 674.0h.01M400.9 671.2h.01M397.9 676.4h.01M387.1 669.2h.01M388.4 662.8h.01M385.0 662.2h.01M394.1 666.8h.01M394.1 670.8h.01M392.8 660.4h.01M397.0 666.6h.01M393.2 654.9h.01M387.2 669.0h.01M388.4 657.0h.01M394.4 672.4h.01M388.3 665.2h.01M394.8 656.7h.01M394.5 671.5h.01M398.3 663.4h.01M402.6 664.7h.01M393.2 677.0h.01M399.9 662.2h.01M389.1 667.9h.01M396.0 669.4h.01M404.9 661.6h.01M398.4 661.8h.01M389.6 672.3h.01M392.1 650.7h.01M385.8 664.8h.01M387.6 675.3h.01M394.8 662.1h.01M390.4 666.3h.01M395.8 652.3h.01M396.0 657.0h.01M388.7 652.2h.01M393.7 673.1h.01M390.7 665.5h.01M391.7 662.7h.01M399.6 658.9h.01M400.8 669.1h.01M386.0 671.2h.01M390.6 676.6h.01M394.8 656.5h.01M390.6 679.9h.01M385.4 663.5h.01M393.1 662.2h.01M394.3 679.2h.01M404.6 658.1h.01M391.5 659.8h.01M393.8 664.9h.01M394.9 658.7h.01M394.1 664.6h.01M391.4 669.3h.01M402.1 663.9h.01M385.0 661.0h.01M384.1 666.0h.01M387.2 677.8h.01M386.3 662.0h.01M387.0 671.7h.01M395.2 678.1h.01M393.6 671.2h.01M399.7 659.4h.01M401.0 658.8h.01M406.8 647.4h.01M393.7 656.0h.01M392.6 671.1h.01M389.1 661.4h.01M393.8 667.2h.01M405.1 665.8h.01M384.3 672.7h.01M399.5 658.7h.01M389.7 655.7h.01M395.4 667.4h.01M390.6 656.2h.01M384.0 663.0h.01M390.0 668.3h.01M396.2 663.2h.01M386.3 674.1h.01M406.2 655.9h.01M390.6 661.8h.01M395.3 677.3h.01M391.4 663.8h.01M389.2 670.2h.01M394.2 669.3h.01M397.5 671.9h.01M390.2 658.4h.01M396.1 661.1h.01M395.2 657.4h.01M392.0 656.9h.01M390.2 666.5h.01M400.8 655.7h.01M395.9 649.5h.01M398.6 670.4h.01M387.3 666.2h.01M388.7 668.3h.01M399.9 660.0h.01M389.7 658.3h.01M385.1 680.6h.01M388.1 654.5h.01M402.3 666.0h.01M391.9 675.3h.01M396.4 664.8h.01M396.4 663.0h.01M392.9 670.5h.01M401.7 679.1h.01M395.4 653.1h.01M393.1 651.6h.01M399.4 670.3h.01M393.5 654.4h.01M384.4 663.7h.01M399.6 667.2h.01M401.0 675.5h.01M399.1 670.1h.01M390.4 662.2h.01M393.9 656.7h.01M406.2 664.3h.01M384.2 671.1h.01M394.1 645.1h.01M386.9 665.4h.01M390.9 651.3h.01M401.9 657.1h.01M396.9 666.4h.01M401.1 657.7h.01M395.5 667.7h.01M392.7 668.7h.01M386.2 654.6h.01M394.4 672.7h.01M384.8 663.2h.01M392.7 663.4h.01M387.7 665.8h.01M398.5 670.1h.01M399.0 655.1h.01M400.8 666.2h.01M388.8 673.9h.01M396.2 664.8h.01M398.1 672.1h.01M395.9 667.0h.01M396.0 664.2h.01M390.0 672.1h.01M393.9 658.6h.01M392.2 658.6h.01M399.4 666.4h.01M392.9 671.7h.01M386.8 665.1h.01M393.3 661.3h.01M405.6 667.7h.01M409.4 647.3h.01M389.7 659.7h.01M399.1 655.3h.01M393.1 662.2h.01M397.9 673.8h.01M388.7 656.7h.01M396.1 663.2h.01M396.7 667.5h.01M387.9 648.3h.01M388.6 665.2h.01M388.8 669.2h.01M390.1 659.1h.01M390.3 654.0h.01M404.6 645.8h.01M390.7 650.6h.01M388.8 662.6h.01M394.0 657.6h.01M386.9 665.6h.01M392.1 675.3h.01M396.8 650.3h.01M393.6 660.0h.01M390.4 645.9h.01M387.3 670.7h.01M400.7 661.5h.01M398.8 659.2h.01M396.2 663.5h.01M399.8 669.6h.01M390.2 655.7h.01M384.8 667.2h.01M399.6 657.0h.01M388.3 659.1h.01M397.1 676.3h.01M398.9 654.4h.01M396.3 665.5h.01M397.7 669.7h.01M394.7 674.5h.01M393.0 667.1h.01M386.9 679.4h.01M406.4 678.2h.01M390.3 674.4h.01M385.1 656.7h.01M389.0 653.1h.01M397.8 662.0h.01M386.2 664.9h.01M394.3 662.6h.01M405.1 656.8h.01M402.2 668.9h.01M389.0 654.5h.01M401.9 660.4h.01M390.7 671.6h.01M397.6 681.0h.01M398.8 665.7h.01M392.5 667.3h.01M394.4 667.8h.01M402.6 671.1h.01M401.5 675.8h.01M385.4 657.9h.01M397.5 669.7h.01M388.3 665.3h.01M393.2 672.8h.01M393.9 661.2h.01M397.9 664.2h.01M391.6 668.3h.01M392.9 664.9h.01M403.6 655.6h.01M389.2 668.1h.01M397.3 668.8h.01M396.8 666.3h.01M385.0 667.1h.01M401.0 665.7h.01M387.7 664.5h.01M388.2 657.3h.01M396.7 659.9h.01M400.5 670.8h.01M401.6 648.3h.01M393.6 674.4h.01M396.2 665.9h.01M396.5 680.8h.01M400.4 662.3h.01M389.4 667.5h.01M389.8 648.0h.01M389.6 664.3h.01M389.3 661.6h.01M393.4 658.4h.01M392.3 673.8h.01M385.5 652.7h.01M399.6 657.8h.01M401.1 656.0h.01M400.8 660.4h.01M387.9 668.6h.01M395.5 674.8h.01M387.4 665.5h.01M396.2 670.9h.01M387.7 661.5h.01M396.4 671.3h.01M400.8 657.1h.01M387.7 667.4h.01M404.3 668.5h.01M394.8 665.8h.01M388.1 665.0h.01M393.1 666.2h.01M401.4 654.4h.01M387.8 662.5h.01M399.5 661.3h.01M402.0 678.9h.01M394.3 666.6h.01M385.5 674.6h.01M393.1 659.2h.01M398.6 677.7h.01M390.1 664.5h.01M394.4 659.6h.01M403.2 677.7h.01M397.9 663.0h.01M387.9 662.2h.01M396.6 670.6h.01M394.3 672.5h.01M391.9 675.2h.01M392.7 673.9h.01M405.9 661.2h.01M395.3 664.0h.01M384.8 671.6h.01M398.5 662.1h.01M391.4 648.7h.01M401.4 656.7h.01M397.3 671.1h.01M396.4 664.3h.01M405.1 657.3h.01M396.1 661.4h.01M390.5 660.1h.01M389.6 654.5h.01M402.3 665.5h.01M392.3 667.0h.01M400.5 664.9h.01M396.0 664.9h.01M401.6 654.4h.01M392.6 673.1h.01M389.1 669.9h.01M389.5 667.4h.01M388.1 659.2h.01M395.8 661.7h.01M391.5 664.7h.01M401.2 655.7h.01M390.7 659.5h.01M386.5 676.1h.01M392.3 681.1h.01M394.2 654.8h.01M394.3 656.3h.01M392.0 663.8h.01M393.6 639.8h.01M394.1 672.6h.01M390.8 667.7h.01M395.2 675.9h.01M390.0 673.2h.01M392.8 670.3h.01M390.3 655.4h.01M390.7 659.9h.01M397.3 668.6h.01M400.1 671.0h.01M402.5 668.1h.01M385.8 657.2h.01M387.1 671.7h.01M401.8 652.4h.01M399.4 662.5h.01M400.0 661.1h.01M395.9 668.5h.01M394.6 658.0h.01M402.3 668.1h.01M387.0 669.8h.01M391.1 666.9h.01M397.7 662.3h.01M396.9 670.5h.01M412.9 644.3h.01M399.2 672.1h.01M389.4 664.8h.01M392.8 667.4h.01M390.5 663.0h.01M389.7 663.7h.01M387.6 659.6h.01M393.0 677.5h.01M395.3 658.9h.01M385.9 678.2h.01M398.2 665.9h.01M386.0 660.7h.01M394.8 668.8h.01M393.4 669.8h.01M403.7 661.9h.01M397.1 663.2h.01M398.1 650.7h.01M391.6 662.1h.01M389.8 655.7h.01M386.3 663.2h.01M396.5 665.2h.01M396.6 661.8h.01M393.8 667.1h.01M394.3 662.6h.01M385.7 659.5h.01M398.6 666.0h.01M389.2 661.0h.01M393.2 667.9h.01M387.9 669.4h.01M395.7 658.9h.01M409.1 671.9h.01M385.0 670.0h.01M391.0 670.3h.01M396.4 664.6h.01M397.9 669.8h.01M398.0 662.7h.01M392.7 658.9h.01M395.1 656.9h.01M393.6 675.2h.01M393.1 665.8h.01M392.0 660.6h.01M394.4 667.5h.01M397.3 668.0h.01M387.9 673.6h.01M398.8 654.8h.01M404.5 661.0h.01M398.6 649.1h.01M393.7 661.5h.01M393.4 663.2h.01M387.3 668.7h.01M390.4 647.9h.01M402.4 668.7h.01M393.8 665.3h.01M393.8 678.9h.01M401.3 657.1h.01M401.0 674.7h.01M395.5 659.4h.01M391.8 662.6h.01M389.3 655.2h.01M389.5 678.2h.01M389.7 653.2h.01M398.7 666.4h.01M399.5 653.8h.01M397.3 673.4h.01M399.0 666.4h.01M400.9 668.0h.01M395.2 667.5h.01M402.1 675.8h.01M394.3 666.0h.01M392.9 660.1h.01M390.3 680.6h.01M402.8 665.7h.01M401.2 665.9h.01M389.4 658.8h.01M398.2 662.8h.01M403.4 644.7h.01M392.2 668.1h.01M400.7 665.8h.01M406.2 646.9h.01M399.7 668.2h.01M408.9 667.6h.01M395.6 663.8h.01M388.1 670.2h.01M397.4 663.9h.01M397.8 666.0h.01M396.0 662.1h.01M386.3 680.1h.01M399.4 666.0h.01M387.1 675.2h.01M390.5 664.5h.01M395.5 666.3h.01M387.2 652.8h.01M409.3 681.3h.01M387.5 666.1h.01M384.8 666.2h.01M388.1 669.7h.01M384.9 658.6h.01M402.3 655.5h.01M392.7 674.6h.01M385.7 670.0h.01M394.3 670.7h.01M390.5 668.1h.01M392.0 671.7h.01M384.1 670.5h.01M396.6 656.7h.01M391.9 666.5h.01M402.4 658.9h.01M402.1 652.4h.01M393.1 672.3h.01M393.5 665.1h.01M387.3 676.4h.01M395.3 664.3h.01M402.6 669.1h.01M393.0 664.8h.01M385.7 662.7h.01M403.4 668.0h.01M383.9 670.1h.01M395.9 671.2h.01M401.6 670.4h.01M393.5 674.4h.01M387.0 658.6h.01M409.6 661.8h.01M398.7 675.1h.01M393.2 653.1h.01M392.4 663.0h.01M393.8 667.0h.01M397.1 667.6h.01M399.3 661.5h.01M397.9 668.9h.01M392.9 666.8h.01M386.9 664.2h.01M402.4 655.9h.01M391.9 659.0h.01M398.0 661.2h.01M395.8 666.7h.01M404.4 662.4h.01M398.6 661.2h.01M396.7 663.4h.01M388.4 678.9h.01M397.0 663.1h.01M390.2 656.9h.01M397.8 662.5h.01M402.5 651.7h.01M391.8 678.7h.01M401.2 652.1h.01M392.0 652.7h.01M385.1 654.9h.01M394.8 655.1h.01M384.8 656.7h.01M398.4 661.2h.01M391.0 672.5h.01M393.7 647.9h.01M410.2 661.3h.01M395.6 652.8h.01M402.3 666.8h.01M395.5 667.3h.01M397.8 667.4h.01M394.4 678.0h.01M392.7 675.7h.01M400.5 639.0h.01M401.7 666.8h.01M393.5 660.8h.01M399.4 659.2h.01M403.7 635.0h.01M394.3 662.4h.01M390.6 664.1h.01M393.9 667.5h.01M392.7 676.9h.01M386.6 669.9h.01M403.7 649.8h.01M392.0 672.8h.01M398.2 657.3h.01M397.9 662.9h.01M386.4 675.5h.01M391.8 662.8h.01M407.4 663.6h.01M387.6 663.2h.01M399.8 673.4h.01M401.4 666.6h.01M399.1 659.6h.01M394.2 666.1h.01M388.2 671.8h.01M397.4 646.2h.01M385.4 674.8h.01M387.7 674.0h.01M398.5 670.7h.01M394.5 668.8h.01M393.1 660.1h.01M403.6 657.2h.01M384.7 671.5h.01M395.5 668.2h.01M388.6 666.0h.01M392.1 671.4h.01M393.0 671.2h.01M394.7 669.9h.01M384.9 656.9h.01M388.0 671.1h.01M390.6 656.4h.01M397.4 671.2h.01M403.4 665.4h.01M385.7 658.1h.01M388.2 656.7h.01M390.5 676.7h.01M387.8 671.8h.01M394.4 649.7h.01M411.6 662.5h.01M398.7 661.5h.01M390.4 652.6h.01M398.0 642.6h.01M392.7 670.1h.01M391.8 676.4h.01M392.8 662.1h.01M403.0 659.3h.01M390.3 651.4h.01M397.4 654.8h.01M395.3 660.7h.01M402.1 654.8h.01M396.4 668.0h.01M400.9 646.4h.01M404.1 654.3h.01M405.3 659.3h.01M401.1 647.6h.01M394.8 634.7h.01M397.5 651.3h.01M390.1 648.3h.01M390.4 651.5h.01M399.1 647.3h.01M386.5 655.1h.01M398.4 654.2h.01M387.4 641.9h.01M396.3 635.5h.01M392.1 639.9h.01M393.6 645.7h.01M392.8 647.5h.01M386.1 637.6h.01M387.1 664.0h.01M395.7 639.3h.01M394.4 656.0h.01M398.5 655.8h.01M405.9 653.8h.01M391.4 656.7h.01M388.9 654.0h.01M388.9 648.1h.01M390.6 654.0h.01M396.9 656.4h.01M389.6 654.1h.01M397.5 642.9h.01M396.8 642.1h.01M400.8 635.9h.01M393.2 642.9h.01M391.2 649.3h.01M385.7 651.6h.01M391.1 648.0h.01M384.7 653.5h.01M384.1 651.8h.01M390.3 635.7h.01M388.8 652.3h.01M401.6 646.3h.01M399.7 648.7h.01M388.8 646.7h.01M393.1 665.1h.01M400.6 644.9h.01M401.1 654.9h.01M388.5 646.9h.01M386.9 652.6h.01M388.3 637.0h.01M394.7 657.7h.01M398.6 663.7h.01M396.0 646.1h.01M391.1 662.9h.01M400.6 652.9h.01M403.8 647.9h.01M387.7 649.7h.01M391.6 634.9h.01M396.1 639.0h.01M401.2 672.0h.01M388.4 662.6h.01M387.2 658.0h.01M394.9 636.7h.01M390.4 658.2h.01M393.2 656.9h.01M399.8 652.9h.01M410.4 647.7h.01M410.0 657.2h.01M394.9 635.2h.01M393.8 653.3h.01M388.5 639.2h.01M385.6 643.0h.01M387.9 663.3h.01M392.3 633.3h.01M388.5 649.3h.01M396.2 643.0h.01M396.5 651.3h.01M400.2 645.0h.01M395.1 648.3h.01M394.3 651.6h.01M386.4 659.0h.01M390.9 645.7h.01M396.5 639.1h.01M387.6 641.0h.01M406.4 659.1h.01M390.6 643.8h.01M394.7 653.4h.01M386.7 650.7h.01M394.1 667.3h.01M388.1 633.8h.01M386.0 662.9h.01M399.6 648.7h.01M387.5 653.6h.01M394.0 653.6h.01M399.3 656.8h.01M385.8 641.0h.01M389.5 643.7h.01M390.0 658.3h.01M390.2 648.6h.01M393.4 639.7h.01M398.9 653.9h.01M386.9 648.3h.01M393.7 643.5h.01M394.0 650.1h.01M402.9 645.8h.01M394.6 649.5h.01M386.0 645.7h.01M393.0 641.0h.01M397.0 666.7h.01M398.8 661.4h.01M390.6 654.1h.01M400.5 647.4h.01M389.0 653.2h.01M406.7 651.6h.01M386.8 657.9h.01M386.3 651.0h.01M386.6 660.3h.01M387.8 646.1h.01M397.4 645.9h.01M391.6 647.7h.01M399.1 654.1h.01M398.5 670.1h.01M392.9 637.3h.01M394.3 643.7h.01M407.4 643.9h.01M395.5 660.9h.01M385.6 643.9h.01M399.5 646.7h.01M392.6 653.1h.01M392.6 650.9h.01M395.6 640.4h.01M401.4 662.2h.01M395.0 651.2h.01M406.0 649.2h.01M390.4 641.2h.01M390.8 659.9h.01M385.6 661.9h.01M387.0 632.4h.01M397.9 651.5h.01M406.3 647.5h.01M395.3 641.6h.01M391.0 630.3h.01M413.1 674.2h.01M409.8 677.2h.01M403.2 671.1h.01M396.8 667.8h.01M397.4 666.0h.01M391.7 674.3h.01M392.1 673.6h.01M407.8 677.8h.01M411.0 667.2h.01M414.2 668.1h.01M416.4 675.3h.01M401.2 663.2h.01M411.5 656.8h.01M411.3 658.2h.01M409.8 675.0h.01M397.0 656.4h.01M415.2 672.3h.01M413.7 669.2h.01M406.1 667.9h.01M398.6 670.9h.01M404.4 668.3h.01M399.1 666.6h.01M406.5 662.8h.01M402.1 675.5h.01M410.6 667.1h.01M392.2 665.6h.01M407.5 672.7h.01M409.4 670.8h.01M404.9 675.8h.01M406.7 675.6h.01M400.1 662.8h.01M405.8 664.6h.01M411.1 680.4h.01M403.1 671.6h.01M404.3 667.2h.01M395.9 677.9h.01M406.3 680.8h.01M410.3 663.3h.01M402.2 650.9h.01M408.5 659.5h.01M407.6 668.2h.01M402.5 680.0h.01M405.8 677.4h.01M403.5 664.6h.01M407.5 675.8h.01M401.4 661.3h.01M403.2 668.9h.01M407.4 663.3h.01M392.7 681.0h.01M420.4 671.6h.01M406.7 677.5h.01M424.6 655.5h.01M414.6 672.7h.01M412.6 663.3h.01M396.9 672.2h.01M408.9 675.2h.01M403.2 667.8h.01M422.2 661.7h.01M404.7 670.6h.01M403.0 668.6h.01M415.2 657.1h.01M401.0 675.4h.01M402.1 666.0h.01M406.6 674.9h.01M401.9 672.7h.01M400.3 656.0h.01M409.0 677.1h.01M403.4 678.7h.01M404.3 676.6h.01M418.3 678.9h.01M413.1 666.3h.01M415.2 673.8h.01M391.3 662.4h.01M392.3 662.4h.01M409.5 680.2h.01M416.0 669.2h.01M418.7 672.8h.01M411.5 664.0h.01M399.1 674.2h.01M395.8 675.6h.01M409.6 670.3h.01M409.6 674.8h.01M398.5 669.7h.01M401.7 674.5h.01M409.2 673.4h.01M411.8 667.6h.01M403.0 665.2h.01M412.7 661.6h.01M416.4 660.6h.01M388.3 677.3h.01M408.4 669.9h.01M405.3 680.8h.01M416.0 668.3h.01M395.0 671.3h.01M414.0 672.0h.01M403.3 678.3h.01M404.8 673.8h.01M403.1 676.8h.01M412.3 674.8h.01M405.5 669.1h.01M399.4 653.0h.01M414.9 659.0h.01M421.3 672.2h.01M399.3 665.1h.01M418.7 673.5h.01M404.8 670.3h.01M408.2 676.5h.01M403.1 660.5h.01M406.9 665.6h.01M421.0 674.9h.01M391.3 672.3h.01M409.3 666.1h.01M399.7 664.9h.01M408.9 648.3h.01M400.7 657.4h.01M421.7 668.7h.01M408.2 653.1h.01M394.5 658.4h.01M415.0 672.5h.01M391.8 674.8h.01M400.8 664.8h.01M405.3 681.1h.01M414.6 675.9h.01M410.2 670.2h.01M396.9 656.1h.01M412.3 666.0h.01M418.5 679.9h.01M400.1 670.4h.01M395.6 657.9h.01M394.2 666.3h.01M399.4 671.1h.01M404.3 667.6h.01M422.0 673.2h.01M410.0 664.8h.01M412.6 674.3h.01M405.3 675.6h.01M400.4 663.8h.01M407.4 668.7h.01M402.6 665.5h.01M397.2 668.3h.01M396.8 623.1h.01M406.2 620.8h.01M387.4 620.6h.01M386.3 633.5h.01M395.8 636.2h.01M405.8 640.2h.01M395.5 647.1h.01M384.9 627.2h.01M393.3 624.0h.01M385.6 642.5h.01M405.3 632.4h.01M400.8 631.8h.01M385.4 630.2h.01M397.6 629.9h.01M386.6 620.7h.01M385.6 600.9h.01M393.4 623.7h.01M407.7 624.1h.01M405.0 622.1h.01M398.4 621.1h.01M385.7 634.1h.01M386.6 622.8h.01M391.6 616.5h.01M392.1 628.2h.01M396.8 634.9h.01M391.1 629.6h.01M397.3 621.5h.01M387.5 637.4h.01M386.7 639.5h.01M395.4 649.1h.01M395.1 635.2h.01M386.3 609.3h.01M397.7 623.0h.01M397.4 615.3h.01M392.8 631.5h.01M395.8 629.6h.01M397.9 618.2h.01M401.5 650.3h.01" stroke="#b9474f" stroke-width="0.95" stroke-linecap="round" fill="none" opacity="1.0"/>
<path d="M367.5 602.1h.01M369.7 616.8h.01M370.4 617.4h.01M374.1 634.1h.01M366.0 631.4h.01" stroke="#4d5d9b" stroke-width="1.2" stroke-linecap="round" fill="none" opacity="1.0"/>
<path d="M392.6 608.8h.01M397.0 608.8h.01M399.2 616.8h.01M395.5 620.7h.01M393.7 624.7h.01M394.4 627.4h.01M422.8 647.4h.01M422.1 656.7h.01M420.2 670.1h.01" stroke="#b9474f" stroke-width="1.2" stroke-linecap="round" fill="none" opacity="1.0"/>
</g>
<line x1="354.89" y1="636.49" x2="370.87" y2="674.15" stroke="#000" stroke-width="0.7"/>
<line x1="357.08" y1="655.10" x2="370.87" y2="674.15" stroke="#000" stroke-width="0.7"/>
<line x1="382.26" y1="642.40" x2="387.73" y2="674.15" stroke="#000" stroke-width="0.7"/>
<line x1="389.92" y1="639.12" x2="386.64" y2="675.25" stroke="#000" stroke-width="0.7"/>
<line x1="394.30" y1="645.69" x2="387.07" y2="676.34" stroke="#000" stroke-width="0.7"/>
<line x1="403.06" y1="638.02" x2="387.73" y2="676.34" stroke="#000" stroke-width="0.7"/>
<line x1="411.82" y1="634.74" x2="388.83" y2="676.34" stroke="#000" stroke-width="0.7"/>
<line x1="414.01" y1="640.21" x2="388.83" y2="676.34" stroke="#000" stroke-width="0.7"/>
<line x1="414.44" y1="646.35" x2="389.26" y2="676.78" stroke="#000" stroke-width="0.7"/>
<line x1="409.63" y1="655.54" x2="389.92" y2="676.78" stroke="#000" stroke-width="0.7"/>
<line x1="412.91" y1="658.39" x2="390.58" y2="677.22" stroke="#000" stroke-width="0.7"/>
<line x1="411.82" y1="661.67" x2="391.02" y2="677.44" stroke="#000" stroke-width="0.7"/>
<line x1="414.44" y1="664.96" x2="391.45" y2="677.66" stroke="#000" stroke-width="0.7"/>
<line x1="411.82" y1="669.77" x2="392.77" y2="678.10" stroke="#000" stroke-width="0.7"/>
<line x1="410.72" y1="678.97" x2="389.92" y2="679.63" stroke="#000" stroke-width="0.7"/>
<text x="355.5" y="635.5" font-size="3.4" text-anchor="middle" fill="#222">NR4A2</text>
<text x="354.4" y="654.5" font-size="3.4" text-anchor="middle" fill="#222">CD36</text>
<text x="381.8" y="642.1" font-size="3.4" text-anchor="middle" fill="#222">CREBBP</text>
<text x="388.8" y="638.6" font-size="3.4" text-anchor="middle" fill="#222">BCL2A</text>
<text x="395.4" y="645.3" font-size="3.4" text-anchor="middle" fill="#222">AK</text>
<text x="402.0" y="637.7" font-size="3.4" text-anchor="middle" fill="#222">NOTCH1</text>
<text x="414.4" y="633.7" font-size="3.4" text-anchor="middle" fill="#222">BCL2L1</text>
<text x="417.7" y="640.3" font-size="3.4" text-anchor="middle" fill="#222">TBK1</text>
<text x="417.7" y="646.9" font-size="3.4" text-anchor="middle" fill="#222">STAT1</text>
<text x="414.7" y="656.1" font-size="3.4" text-anchor="middle" fill="#222">NOTCH2</text>
<text x="417.7" y="659.4" font-size="3.4" text-anchor="middle" fill="#222">FLT1</text>
<text x="417.3" y="662.6" font-size="3.4" text-anchor="middle" fill="#222">RUNX2</text>
<text x="418.8" y="666.1" font-size="3.4" text-anchor="middle" fill="#222">JAK1</text>
<text x="417.3" y="671.0" font-size="3.4" text-anchor="middle" fill="#222">WNT5A</text>
<text x="416.9" y="680.2" font-size="3.4" text-anchor="middle" fill="#222">KLF13</text>
<rect x="337.80" y="597.50" width="87.60" height="86.50" fill="none" stroke="#333" stroke-width="0.9"/>
<line x1="344.60" y1="684.00" x2="344.60" y2="686.00" stroke="#333" stroke-width="1" shape-rendering="crispEdges"/>
<text x="344.6" y="692.3" font-size="8.5" text-anchor="middle" fill="#111" stroke="#111" stroke-width="0.22">-10</text>
<line x1="363.05" y1="684.00" x2="363.05" y2="686.00" stroke="#333" stroke-width="1" shape-rendering="crispEdges"/>
<text x="363.1" y="692.3" font-size="8.5" text-anchor="middle" fill="#111" stroke="#111" stroke-width="0.22">-5</text>
<line x1="381.50" y1="684.00" x2="381.50" y2="686.00" stroke="#333" stroke-width="1" shape-rendering="crispEdges"/>
<text x="381.5" y="692.3" font-size="8.5" text-anchor="middle" fill="#111" stroke="#111" stroke-width="0.22">0</text>
<line x1="399.95" y1="684.00" x2="399.95" y2="686.00" stroke="#333" stroke-width="1" shape-rendering="crispEdges"/>
<text x="399.9" y="692.3" font-size="8.5" text-anchor="middle" fill="#111" stroke="#111" stroke-width="0.22">5</text>
<line x1="418.40" y1="684.00" x2="418.40" y2="686.00" stroke="#333" stroke-width="1" shape-rendering="crispEdges"/>
<text x="418.4" y="692.3" font-size="8.5" text-anchor="middle" fill="#111" stroke="#111" stroke-width="0.22">10</text>
<line x1="335.80" y1="603.42" x2="337.80" y2="603.42" stroke="#333" stroke-width="1" shape-rendering="crispEdges"/>
<text x="335.2" y="606.5" font-size="8.5" text-anchor="end" fill="#111" stroke="#111" stroke-width="0.22">60</text>
<line x1="335.80" y1="616.75" x2="337.80" y2="616.75" stroke="#333" stroke-width="1" shape-rendering="crispEdges"/>
<text x="335.2" y="619.8" font-size="8.5" text-anchor="end" fill="#111" stroke="#111" stroke-width="0.22">50</text>
<line x1="335.80" y1="630.08" x2="337.80" y2="630.08" stroke="#333" stroke-width="1" shape-rendering="crispEdges"/>
<text x="335.2" y="633.1" font-size="8.5" text-anchor="end" fill="#111" stroke="#111" stroke-width="0.22">40</text>
<line x1="335.80" y1="643.41" x2="337.80" y2="643.41" stroke="#333" stroke-width="1" shape-rendering="crispEdges"/>
<text x="335.2" y="646.5" font-size="8.5" text-anchor="end" fill="#111" stroke="#111" stroke-width="0.22">30</text>
<line x1="335.80" y1="656.74" x2="337.80" y2="656.74" stroke="#333" stroke-width="1" shape-rendering="crispEdges"/>
<text x="335.2" y="659.8" font-size="8.5" text-anchor="end" fill="#111" stroke="#111" stroke-width="0.22">20</text>
<line x1="335.80" y1="670.07" x2="337.80" y2="670.07" stroke="#333" stroke-width="1" shape-rendering="crispEdges"/>
<text x="335.2" y="673.1" font-size="8.5" text-anchor="end" fill="#111" stroke="#111" stroke-width="0.22">10</text>
<line x1="335.80" y1="683.40" x2="337.80" y2="683.40" stroke="#333" stroke-width="1" shape-rendering="crispEdges"/>
<text x="335.2" y="686.5" font-size="8.5" text-anchor="end" fill="#111" stroke="#111" stroke-width="0.22">0</text>
<text x="382.3" y="589.9" font-size="8.7" text-anchor="middle" fill="#000" stroke="#000" stroke-width="0.22">Large+Lat A vs. Large</text>
<text x="384" y="702.6" font-size="8.7" text-anchor="middle" fill="#222" stroke="#222" stroke-width="0.22">log2(FoldChange)</text>
<text x="321.8" y="648" font-size="8.7" text-anchor="middle" transform="rotate(-90 321.8 648)" fill="#222" stroke="#222" stroke-width="0.22">-log10(<tspan font-style="italic">P</tspan>-value)</text>
<circle cx="435.00" cy="595.30" r="2" fill="#b9474f"/>
<text x="439" y="598.4" font-size="8.7" fill="#000" stroke="#000" stroke-width="0.22">Up</text>
<rect x="433.20" y="603.50" width="3.60" height="3.60" fill="#4d5d9b"/>
<text x="439" y="608.4" font-size="8.7" fill="#000" stroke="#000" stroke-width="0.22">Down</text>
<text x="446" y="576.7" font-size="11" font-weight="bold" fill="#000" stroke="#000" stroke-width="0.22">q</text>
<rect x="589.00" y="588.50" width="68.30" height="141.50" fill="#fff"/>
<line x1="592.00" y1="588.50" x2="592.00" y2="730.00" stroke="#ececec" stroke-width="0.6"/>
<line x1="606.00" y1="588.50" x2="606.00" y2="730.00" stroke="#ececec" stroke-width="0.6"/>
<line x1="620.00" y1="588.50" x2="620.00" y2="730.00" stroke="#ececec" stroke-width="0.6"/>
<line x1="634.00" y1="588.50" x2="634.00" y2="730.00" stroke="#ececec" stroke-width="0.6"/>
<line x1="648.00" y1="588.50" x2="648.00" y2="730.00" stroke="#ececec" stroke-width="0.6"/>
<line x1="589.00" y1="596.00" x2="657.30" y2="596.00" stroke="#ececec" stroke-width="0.6"/>
<line x1="589.00" y1="610.13" x2="657.30" y2="610.13" stroke="#ececec" stroke-width="0.6"/>
<line x1="589.00" y1="624.26" x2="657.30" y2="624.26" stroke="#ececec" stroke-width="0.6"/>
<line x1="589.00" y1="638.39" x2="657.30" y2="638.39" stroke="#ececec" stroke-width="0.6"/>
<line x1="589.00" y1="652.52" x2="657.30" y2="652.52" stroke="#ececec" stroke-width="0.6"/>
<line x1="589.00" y1="666.65" x2="657.30" y2="666.65" stroke="#ececec" stroke-width="0.6"/>
<line x1="589.00" y1="680.78" x2="657.30" y2="680.78" stroke="#ececec" stroke-width="0.6"/>
<line x1="589.00" y1="694.91" x2="657.30" y2="694.91" stroke="#ececec" stroke-width="0.6"/>
<line x1="589.00" y1="709.04" x2="657.30" y2="709.04" stroke="#ececec" stroke-width="0.6"/>
<line x1="589.00" y1="723.17" x2="657.30" y2="723.17" stroke="#ececec" stroke-width="0.6"/>
<rect x="592.00" y="591.85" width="61.60" height="8.30" fill="#a50000"/>
<line x1="585.80" y1="596.00" x2="589.00" y2="596.00" stroke="#333" stroke-width="1" shape-rendering="crispEdges"/>
<text x="584.5" y="599.0" font-size="8.7" text-anchor="end" fill="#000" stroke="#000" stroke-width="0.22">MARK-TNFA signaling via NFKB</text>
<rect x="592.00" y="605.98" width="56.00" height="8.30" fill="#a50000"/>
<line x1="585.80" y1="610.13" x2="589.00" y2="610.13" stroke="#333" stroke-width="1" shape-rendering="crispEdges"/>
<text x="584.5" y="613.2" font-size="8.7" text-anchor="end" fill="#000" stroke="#000" stroke-width="0.22">NFKB Matrix</text>
<rect x="592.00" y="620.11" width="55.16" height="8.30" fill="#a50000"/>
<line x1="585.80" y1="624.26" x2="589.00" y2="624.26" stroke="#333" stroke-width="1" shape-rendering="crispEdges"/>
<text x="584.5" y="627.3" font-size="8.7" text-anchor="end" fill="#000" stroke="#000" stroke-width="0.22">HSC-S1PR3</text>
<rect x="592.00" y="634.24" width="54.60" height="8.30" fill="#a50000"/>
<line x1="585.80" y1="638.39" x2="589.00" y2="638.39" stroke="#333" stroke-width="1" shape-rendering="crispEdges"/>
<text x="584.5" y="641.4" font-size="8.7" text-anchor="end" fill="#000" stroke="#000" stroke-width="0.22">TNF signaling via NFKB</text>
<rect x="592.00" y="648.37" width="54.04" height="8.30" fill="#a50000"/>
<line x1="585.80" y1="652.52" x2="589.00" y2="652.52" stroke="#333" stroke-width="1" shape-rendering="crispEdges"/>
<text x="584.5" y="655.6" font-size="8.7" text-anchor="end" fill="#000" stroke="#000" stroke-width="0.22">Stem cell spheres up</text>
<rect x="592.00" y="662.50" width="49.56" height="8.30" fill="#a50000"/>
<line x1="585.80" y1="666.65" x2="589.00" y2="666.65" stroke="#333" stroke-width="1" shape-rendering="crispEdges"/>
<text x="584.5" y="669.7" font-size="8.7" text-anchor="end" fill="#000" stroke="#000" stroke-width="0.22">Positive regulation of NOTCH pathway</text>
<rect x="592.00" y="676.63" width="49.56" height="8.30" fill="#a50000"/>
<line x1="585.80" y1="680.78" x2="589.00" y2="680.78" stroke="#333" stroke-width="1" shape-rendering="crispEdges"/>
<text x="584.5" y="683.8" font-size="8.7" text-anchor="end" fill="#000" stroke="#000" stroke-width="0.22">Regulation of NOTCH pathway</text>
<rect x="592.00" y="690.76" width="49.56" height="8.30" fill="#a50000"/>
<line x1="585.80" y1="694.91" x2="589.00" y2="694.91" stroke="#333" stroke-width="1" shape-rendering="crispEdges"/>
<text x="584.5" y="698.0" font-size="8.7" text-anchor="end" fill="#000" stroke="#000" stroke-width="0.22">Foroutan prodrank TGFB EMT&#160;</text>
<rect x="592.00" y="704.89" width="49.56" height="8.30" fill="#a50000"/>
<line x1="585.80" y1="709.04" x2="589.00" y2="709.04" stroke="#333" stroke-width="1" shape-rendering="crispEdges"/>
<text x="584.5" y="712.1" font-size="8.7" text-anchor="end" fill="#000" stroke="#000" stroke-width="0.22">Receptor signaling pathway via_STAT</text>
<rect x="592.00" y="719.02" width="49.56" height="8.30" fill="#a50000"/>
<line x1="585.80" y1="723.17" x2="589.00" y2="723.17" stroke="#333" stroke-width="1" shape-rendering="crispEdges"/>
<text x="584.5" y="726.2" font-size="8.7" text-anchor="end" fill="#000" stroke="#000" stroke-width="0.22">Positive regulation of protein kinase B signaling</text>
<rect x="589.00" y="588.50" width="68.30" height="141.50" fill="none" stroke="#b0b0b0" stroke-width="0.8"/>
<line x1="592.00" y1="730.00" x2="592.00" y2="732.00" stroke="#333" stroke-width="1" shape-rendering="crispEdges"/>
<text x="592.0" y="739.5" font-size="7.2" text-anchor="middle" fill="#222" stroke="#222" stroke-width="0.22">0.0</text>
<line x1="606.00" y1="730.00" x2="606.00" y2="732.00" stroke="#333" stroke-width="1" shape-rendering="crispEdges"/>
<text x="606.0" y="739.5" font-size="7.2" text-anchor="middle" fill="#222" stroke="#222" stroke-width="0.22">0.5</text>
<line x1="620.00" y1="730.00" x2="620.00" y2="732.00" stroke="#333" stroke-width="1" shape-rendering="crispEdges"/>
<text x="620.0" y="739.5" font-size="7.2" text-anchor="middle" fill="#222" stroke="#222" stroke-width="0.22">1.0</text>
<line x1="634.00" y1="730.00" x2="634.00" y2="732.00" stroke="#333" stroke-width="1" shape-rendering="crispEdges"/>
<text x="634.0" y="739.5" font-size="7.2" text-anchor="middle" fill="#222" stroke="#222" stroke-width="0.22">1.5</text>
<line x1="648.00" y1="730.00" x2="648.00" y2="732.00" stroke="#333" stroke-width="1" shape-rendering="crispEdges"/>
<text x="648.0" y="739.5" font-size="7.2" text-anchor="middle" fill="#222" stroke="#222" stroke-width="0.22">2.0</text>
<text x="624.2" y="582.8" font-size="8.7" text-anchor="middle" fill="#000" stroke="#000" stroke-width="0.22">Large+Lat A vs. Large</text>
<text x="620.4" y="748.8" font-size="8.7" text-anchor="middle" fill="#000" stroke="#000" stroke-width="0.22">NES</text>
<text x="669" y="650" font-size="8.7" fill="#000" stroke="#000" stroke-width="0.22">Up</text>
<rect x="669.80" y="653.70" width="11.40" height="11.30" fill="#a50000"/>
<text x="0.5" y="737" font-size="11" font-weight="bold" fill="#000" stroke="#000" stroke-width="0.22">r</text>
<text x="149" y="761.6" font-size="8.7" text-anchor="middle" fill="#000" stroke="#000" stroke-width="0.22">AML BM Lin<tspan font-size="5.22" dy="-3.0449999999999995">-</tspan></text>
<line x1="28.50" y1="763.80" x2="276.80" y2="763.80" stroke="#000" stroke-width="1" shape-rendering="crispEdges"/>
<text x="53.6" y="772.7" font-size="8.7" text-anchor="middle" fill="#000" stroke="#000" stroke-width="0.22">Small</text>
<text x="118.2" y="772.7" font-size="8.7" text-anchor="middle" fill="#000" stroke="#000" stroke-width="0.22">Small + Jas</text>
<text x="182.7" y="772.7" font-size="8.7" text-anchor="middle" fill="#000" stroke="#000" stroke-width="0.22">Large</text>
<text x="247.3" y="772.7" font-size="8.7" text-anchor="middle" fill="#000" stroke="#000" stroke-width="0.22">Large + Lat A</text>
<rect x="28.00" y="775.50" width="52.40" height="53.00" fill="#fff"/>
<rect x="91.50" y="775.50" width="53.00" height="53.00" fill="#fff"/>
<rect x="156.90" y="775.50" width="52.70" height="53.00" fill="#fff"/>
<rect x="219.50" y="775.50" width="53.20" height="53.00" fill="#fff"/>
<g transform="rotate(-8 40.5 822.4)">
<ellipse cx="40.5" cy="822.4" rx="7.2" ry="4.2" fill="#888" opacity="0.4" filter="url(#b1)"/>
<ellipse cx="40.5" cy="822.4" rx="5.8" ry="3.4" fill="#333" opacity="0.7" filter="url(#b1)"/>
<ellipse cx="39.9" cy="822.4" rx="4.2" ry="2.4" fill="#000" opacity="0.95" filter="url(#b1)"/>
<ellipse cx="40.5" cy="822.4" rx="6.7" ry="3.9" fill="none" stroke="#444" stroke-width="0.35"/>
<path d="M34.1 823.6h.01M45.7 820.8h.01M33.6 822.2h.01M43.0 825.8h.01M34.2 818.4h.01M44.2 823.9h.01M48.5 825.4h.01M40.0 821.6h.01M53.9 821.5h.01M36.4 818.9h.01M41.0 822.8h.01M38.7 822.2h.01M41.9 824.5h.01M46.2 823.0h.01M31.2 824.5h.01M33.1 821.9h.01M32.8 822.4h.01M36.4 823.1h.01M57.7 822.3h.01M44.9 818.4h.01M39.0 824.4h.01M40.0 823.5h.01M41.0 819.3h.01M43.4 819.9h.01M50.3 820.9h.01M44.1 822.4h.01M45.5 820.6h.01M45.7 822.0h.01M47.1 824.3h.01M41.2 820.0h.01M44.5 823.8h.01M49.1 821.2h.01M43.4 824.0h.01M42.0 823.0h.01M41.5 820.6h.01M35.2 821.2h.01M43.6 827.0h.01M45.6 825.6h.01M44.6 824.5h.01M41.5 824.8h.01M49.8 821.4h.01M36.9 828.4h.01M41.8 825.4h.01M45.1 818.9h.01M53.2 827.8h.01M41.4 824.7h.01M41.2 819.7h.01M39.9 823.5h.01M46.3 824.6h.01M40.8 826.5h.01M36.5 824.8h.01M46.3 821.5h.01M31.2 819.6h.01M41.7 824.0h.01M48.6 819.3h.01M40.5 824.4h.01M39.7 815.1h.01M44.7 829.5h.01M45.7 819.6h.01M38.3 823.1h.01" stroke="#222" stroke-width="0.55" stroke-linecap="round" fill="none" opacity="0.8"/>
</g>
<g transform="rotate(0 64.2 823)">
<ellipse cx="64.2" cy="823" rx="4.5" ry="3.2" fill="#888" opacity="0.4" filter="url(#b1)"/>
<ellipse cx="64.2" cy="823" rx="3.6" ry="2.6" fill="#333" opacity="0.7" filter="url(#b1)"/>
<ellipse cx="64.2" cy="823" rx="4.1" ry="3.0" fill="none" stroke="#444" stroke-width="0.35"/>
<path d="M59.5 823.5h.01M63.3 821.9h.01M67.3 823.2h.01M63.3 827.2h.01M62.6 820.0h.01M59.7 821.8h.01M66.3 825.0h.01M67.9 827.3h.01M69.8 824.6h.01M68.6 824.6h.01M62.5 825.0h.01M64.5 822.6h.01M70.9 824.9h.01M62.8 822.9h.01M72.0 822.5h.01M66.8 824.6h.01M66.1 824.5h.01M62.8 822.0h.01M63.9 822.3h.01M67.0 826.8h.01M61.5 824.4h.01M61.2 821.5h.01M63.6 823.4h.01M62.9 816.9h.01M68.9 822.5h.01M62.3 824.7h.01M62.4 819.7h.01M66.0 824.1h.01M61.7 825.1h.01M65.6 820.4h.01" stroke="#222" stroke-width="0.55" stroke-linecap="round" fill="none" opacity="0.8"/>
</g>
<circle cx="64.20" cy="823.00" r="1.6" fill="#333" opacity="0.7" filter="url(#b1)"/>
<g transform="rotate(-30 104.7 823)">
<ellipse cx="104.7" cy="823" rx="6.5" ry="3.5" fill="#888" opacity="0.4" filter="url(#b1)"/>
<ellipse cx="104.7" cy="823" rx="5.2" ry="2.8" fill="#333" opacity="0.7" filter="url(#b1)"/>
<ellipse cx="104.2" cy="823" rx="3.7" ry="2.0" fill="#000" opacity="0.95" filter="url(#b1)"/>
<ellipse cx="104.7" cy="823" rx="6.0" ry="3.2" fill="none" stroke="#444" stroke-width="0.35"/>
<path d="M104.3 826.8h.01M101.0 818.5h.01M106.0 824.7h.01M106.7 824.4h.01M104.5 821.7h.01M101.5 822.7h.01M103.3 825.6h.01M108.1 820.1h.01M108.4 823.2h.01M110.4 827.1h.01M107.8 818.8h.01M108.3 819.3h.01M112.6 821.6h.01M104.3 827.9h.01M96.9 823.4h.01M100.1 822.0h.01M101.4 825.0h.01M103.8 824.2h.01M108.2 818.9h.01M111.8 822.7h.01M97.4 821.6h.01M109.4 825.8h.01M102.0 823.5h.01M106.4 825.9h.01M104.6 825.8h.01M101.0 821.4h.01M108.4 825.1h.01M105.0 824.8h.01M106.2 825.3h.01M110.8 824.6h.01M109.2 822.3h.01M102.6 817.3h.01M107.2 823.4h.01M107.8 818.5h.01M102.9 821.9h.01M96.6 825.6h.01M111.1 820.0h.01M107.4 827.7h.01M99.5 825.8h.01M112.8 828.1h.01M98.7 820.6h.01M106.2 826.4h.01M99.2 821.4h.01M99.9 826.1h.01M102.6 824.8h.01M108.3 826.3h.01M107.2 824.2h.01M110.8 824.5h.01M99.2 821.9h.01M109.6 823.7h.01" stroke="#222" stroke-width="0.55" stroke-linecap="round" fill="none" opacity="0.8"/>
</g>
<g transform="rotate(-40 110 815)">
<path d="M116.1 820.8h.01M103.1 803.4h.01M109.5 819.6h.01M109.3 806.2h.01M107.5 823.6h.01M103.1 821.3h.01M112.6 817.9h.01M113.8 811.7h.01M109.4 825.8h.01M108.1 812.5h.01M103.0 812.2h.01M113.7 822.5h.01M113.2 818.8h.01M112.9 817.0h.01M115.0 814.2h.01M115.4 814.6h.01M102.1 807.4h.01M109.1 812.3h.01M104.0 810.5h.01M110.9 817.4h.01M114.2 809.9h.01M111.9 821.2h.01M111.8 825.5h.01M107.7 815.0h.01M110.9 812.6h.01M109.8 816.4h.01M109.9 812.1h.01M107.8 814.6h.01M102.5 816.1h.01M104.6 813.6h.01M104.7 815.6h.01M108.2 813.5h.01M106.4 815.7h.01M117.8 804.4h.01M112.5 816.4h.01M108.1 807.5h.01M117.8 816.1h.01M114.9 812.8h.01M106.3 821.4h.01M113.6 813.2h.01M109.0 818.7h.01M106.1 810.1h.01M109.8 820.9h.01M114.2 816.1h.01M116.6 814.1h.01M107.6 828.8h.01M107.6 818.6h.01M112.7 815.7h.01M111.1 819.1h.01M112.7 811.6h.01M110.1 823.2h.01M113.6 812.5h.01M110.3 809.3h.01M103.8 812.0h.01M117.9 811.4h.01M100.4 814.4h.01M106.7 819.4h.01M116.1 813.1h.01M110.6 809.8h.01M115.9 810.8h.01M110.2 829.0h.01M105.5 816.1h.01M109.8 817.8h.01M112.3 823.8h.01M112.5 818.6h.01M104.1 817.4h.01M103.6 822.2h.01M109.8 820.7h.01M107.7 816.4h.01M110.5 818.3h.01" stroke="#333" stroke-width="0.5" stroke-linecap="round" fill="none" opacity="0.7"/>
</g>
<g transform="rotate(0 118 818)">
<path d="M119.2 817.8h.01M117.6 814.5h.01M119.5 817.9h.01M126.8 811.8h.01M138.7 798.6h.01M118.5 823.4h.01M116.3 813.3h.01M117.5 822.3h.01M128.2 808.5h.01M119.7 813.9h.01M126.5 814.7h.01M119.0 824.6h.01M115.2 819.2h.01M111.1 815.8h.01M101.3 812.1h.01M113.0 813.2h.01M135.1 803.2h.01M98.8 818.9h.01M122.4 818.4h.01M126.9 830.5h.01M113.3 809.1h.01M115.9 824.8h.01M120.8 816.2h.01M119.9 819.2h.01M103.0 820.2h.01" stroke="#333" stroke-width="0.5" stroke-linecap="round" fill="none" opacity="0.7"/>
</g>
<ellipse cx="107" cy="820" rx="7" ry="3.5" transform="rotate(-35 107 820)" fill="none" stroke="#777" stroke-width="0.35"/>
<g transform="rotate(-38 171.7 821)">
<ellipse cx="171.7" cy="821" rx="7.8" ry="4.1" fill="#888" opacity="0.4" filter="url(#b1)"/>
<ellipse cx="171.7" cy="821" rx="6.2" ry="3.3" fill="#333" opacity="0.7" filter="url(#b1)"/>
<ellipse cx="171.1" cy="821" rx="4.5" ry="2.4" fill="#000" opacity="0.95" filter="url(#b1)"/>
<ellipse cx="171.7" cy="821" rx="7.1" ry="3.8" fill="none" stroke="#444" stroke-width="0.35"/>
<path d="M167.6 823.6h.01M166.4 822.6h.01M164.8 823.3h.01M171.3 825.2h.01M176.4 821.2h.01M170.1 822.4h.01M171.5 818.4h.01M175.1 813.8h.01M171.4 827.3h.01M174.6 816.9h.01M177.8 821.6h.01M168.4 819.2h.01M172.5 823.5h.01M171.2 826.2h.01M168.3 823.5h.01M163.2 815.3h.01M171.3 821.9h.01M182.1 820.1h.01M173.4 817.5h.01M172.0 822.7h.01M169.6 824.1h.01M179.6 822.8h.01M171.6 820.5h.01M175.3 818.1h.01M177.2 819.4h.01M173.4 817.9h.01M166.7 818.7h.01M174.8 821.2h.01M172.3 824.0h.01M167.0 823.7h.01M168.7 818.5h.01M168.9 824.2h.01M181.0 819.5h.01M165.9 816.5h.01M172.1 822.4h.01M174.1 821.8h.01M179.5 821.2h.01M174.1 820.3h.01M166.6 814.5h.01M172.0 819.3h.01M168.9 819.3h.01M172.1 821.4h.01M159.3 819.9h.01M174.2 822.0h.01M170.5 821.5h.01M162.9 822.1h.01M170.2 821.2h.01M175.3 821.4h.01M165.4 815.1h.01M169.1 821.0h.01M172.9 824.0h.01M173.9 821.9h.01M161.9 823.3h.01M172.6 827.1h.01M175.9 818.8h.01M172.3 822.9h.01M166.5 816.2h.01M174.1 819.4h.01M170.6 821.3h.01M170.1 823.3h.01" stroke="#222" stroke-width="0.55" stroke-linecap="round" fill="none" opacity="0.8"/>
</g>
<g transform="rotate(-35 178 815)">
<path d="M169.0 814.0h.01M182.0 814.2h.01M178.8 808.8h.01M176.7 813.4h.01M182.9 815.7h.01M177.9 811.9h.01M173.6 815.0h.01M184.9 807.1h.01M163.3 823.3h.01M186.5 817.8h.01M180.0 813.4h.01M176.2 810.1h.01M181.3 814.2h.01M168.0 812.9h.01M175.2 812.4h.01M188.3 819.7h.01M161.5 817.2h.01M183.8 820.7h.01M182.4 806.7h.01M182.8 815.4h.01M185.9 817.1h.01M170.3 823.0h.01M171.9 819.9h.01M180.5 812.8h.01M166.2 811.5h.01M173.3 814.4h.01M177.1 822.0h.01M180.4 820.1h.01M172.0 813.3h.01M183.0 819.3h.01" stroke="#333" stroke-width="0.5" stroke-linecap="round" fill="none" opacity="0.7"/>
</g>
<g transform="rotate(-10 234.2 821)">
<ellipse cx="234.2" cy="821" rx="7.0" ry="4.2" fill="#888" opacity="0.4" filter="url(#b1)"/>
<ellipse cx="234.2" cy="821" rx="5.6" ry="3.4" fill="#333" opacity="0.7" filter="url(#b1)"/>
<ellipse cx="233.6" cy="821" rx="4.0" ry="2.4" fill="#000" opacity="0.95" filter="url(#b1)"/>
<ellipse cx="234.2" cy="821" rx="6.4" ry="3.9" fill="none" stroke="#444" stroke-width="0.35"/>
<path d="M237.3 825.1h.01M232.5 822.8h.01M228.3 821.2h.01M228.7 821.4h.01M233.8 823.3h.01M232.6 818.5h.01M230.2 816.2h.01M242.3 815.5h.01M234.6 823.2h.01M233.6 817.0h.01M236.5 825.4h.01M240.9 816.8h.01M235.1 823.5h.01M247.9 821.3h.01M235.7 825.8h.01M227.6 820.0h.01M224.9 820.0h.01M230.7 819.5h.01M238.5 823.3h.01M236.7 820.2h.01M231.3 817.0h.01M236.0 822.8h.01M232.1 818.0h.01M229.4 822.9h.01M240.5 823.8h.01M228.9 819.0h.01M229.3 825.7h.01M237.0 817.6h.01M236.6 821.9h.01M235.4 822.0h.01M230.4 817.9h.01M237.4 827.4h.01M228.1 817.1h.01M237.4 816.8h.01M219.8 819.5h.01M239.4 824.5h.01M238.5 818.7h.01M235.5 819.2h.01M230.7 822.2h.01M227.9 823.9h.01M237.0 823.2h.01M236.6 818.9h.01M245.6 828.0h.01M233.3 820.9h.01M231.6 820.3h.01M238.5 825.3h.01M231.1 818.4h.01M227.8 820.6h.01M231.9 821.4h.01M235.2 815.8h.01M229.7 822.5h.01M229.8 818.8h.01M225.3 824.2h.01M236.6 820.0h.01M238.3 825.7h.01" stroke="#222" stroke-width="0.55" stroke-linecap="round" fill="none" opacity="0.8"/>
</g>
<g transform="rotate(0 245 819)">
<path d="M240.4 812.7h.01M237.9 818.4h.01M229.0 827.4h.01M244.2 821.2h.01M244.7 822.1h.01M242.8 821.8h.01M249.2 821.2h.01M242.1 823.8h.01M245.7 820.5h.01M247.2 823.8h.01M237.5 823.2h.01M247.0 815.1h.01M252.9 822.8h.01M245.2 815.0h.01M242.2 816.2h.01M254.8 815.1h.01M248.9 809.4h.01M245.8 824.0h.01M243.7 811.9h.01M242.5 820.4h.01M243.0 817.7h.01M244.8 818.5h.01M238.4 820.3h.01M250.0 822.1h.01M239.2 819.0h.01M254.6 814.1h.01M248.5 817.1h.01M250.8 819.6h.01M252.1 823.1h.01M244.7 821.1h.01M243.7 823.0h.01M244.4 814.6h.01M242.1 824.7h.01M248.9 819.8h.01M241.2 812.8h.01M246.8 819.9h.01M236.2 818.8h.01M251.4 819.4h.01M244.6 820.7h.01M247.3 821.9h.01M242.1 819.4h.01M236.0 813.4h.01M244.1 817.6h.01M239.9 814.4h.01M250.9 819.2h.01" stroke="#333" stroke-width="0.5" stroke-linecap="round" fill="none" opacity="0.7"/>
</g>
<ellipse cx="248.8" cy="821" rx="3.6" ry="2.6" fill="none" stroke="#777" stroke-width="0.4"/><ellipse cx="248.8" cy="821" rx="2" ry="1.4" fill="none" stroke="#999" stroke-width="0.35"/>
<polygon points="51.9,827 65,798.5 78.4,798.5 78.4,827" fill="none" stroke="#000" stroke-width="0.8"/>
<polygon points="115.6,827 128.7,798.5 142.3,798.5 142.3,827" fill="none" stroke="#000" stroke-width="0.8"/>
<polygon points="180.5,827 193.2,798.5 207,798.5 207,827" fill="none" stroke="#000" stroke-width="0.8"/>
<polygon points="243.4,827 256,798.5 270.7,798.5 270.7,827" fill="none" stroke="#000" stroke-width="0.8"/>
<rect x="28.00" y="775.50" width="52.40" height="53.00" fill="none" stroke="#000" stroke-width="0.9"/>
<text x="79.4" y="794.6" font-size="8.6" text-anchor="end" fill="#000" stroke="#000" stroke-width="0.22">8.53%</text>
<line x1="26.80" y1="827.00" x2="28.00" y2="827.00" stroke="#000" stroke-width="0.4"/>
<line x1="26.80" y1="817.87" x2="28.00" y2="817.87" stroke="#000" stroke-width="0.4"/>
<line x1="26.80" y1="808.74" x2="28.00" y2="808.74" stroke="#000" stroke-width="0.4"/>
<line x1="26.80" y1="799.61" x2="28.00" y2="799.61" stroke="#000" stroke-width="0.4"/>
<line x1="26.80" y1="790.48" x2="28.00" y2="790.48" stroke="#000" stroke-width="0.4"/>
<line x1="26.80" y1="781.35" x2="28.00" y2="781.35" stroke="#000" stroke-width="0.4"/>
<line x1="37.69" y1="828.50" x2="37.69" y2="829.70" stroke="#000" stroke-width="0.4"/>
<text x="37.7" y="834.6" font-size="2.9" text-anchor="middle" font-weight="bold" fill="#222">0</text>
<line x1="52.63" y1="828.50" x2="52.63" y2="829.70" stroke="#000" stroke-width="0.4"/>
<text x="52.6" y="834.6" font-size="2.9" text-anchor="middle" font-weight="bold" fill="#222">10<tspan font-size="1.8" dy="-1">3</tspan></text>
<line x1="62.06" y1="828.50" x2="62.06" y2="829.70" stroke="#000" stroke-width="0.4"/>
<text x="62.1" y="834.6" font-size="2.9" text-anchor="middle" font-weight="bold" fill="#222">10<tspan font-size="1.8" dy="-1">4</tspan></text>
<line x1="71.23" y1="828.50" x2="71.23" y2="829.70" stroke="#000" stroke-width="0.4"/>
<text x="71.2" y="834.6" font-size="2.9" text-anchor="middle" font-weight="bold" fill="#222">10<tspan font-size="1.8" dy="-1">5</tspan></text>
<line x1="79.88" y1="828.50" x2="79.88" y2="829.70" stroke="#000" stroke-width="0.4"/>
<text x="79.9" y="834.6" font-size="2.9" text-anchor="middle" font-weight="bold" fill="#222">10<tspan font-size="1.8" dy="-1">6</tspan></text>
<rect x="91.50" y="775.50" width="53.00" height="53.00" fill="none" stroke="#000" stroke-width="0.9"/>
<text x="143.5" y="794.6" font-size="8.6" text-anchor="end" fill="#000" stroke="#000" stroke-width="0.22">0.1%</text>
<line x1="90.30" y1="827.00" x2="91.50" y2="827.00" stroke="#000" stroke-width="0.4"/>
<line x1="90.30" y1="817.87" x2="91.50" y2="817.87" stroke="#000" stroke-width="0.4"/>
<line x1="90.30" y1="808.74" x2="91.50" y2="808.74" stroke="#000" stroke-width="0.4"/>
<line x1="90.30" y1="799.61" x2="91.50" y2="799.61" stroke="#000" stroke-width="0.4"/>
<line x1="90.30" y1="790.48" x2="91.50" y2="790.48" stroke="#000" stroke-width="0.4"/>
<line x1="90.30" y1="781.35" x2="91.50" y2="781.35" stroke="#000" stroke-width="0.4"/>
<line x1="101.31" y1="828.50" x2="101.31" y2="829.70" stroke="#000" stroke-width="0.4"/>
<text x="101.3" y="834.6" font-size="2.9" text-anchor="middle" font-weight="bold" fill="#222">0</text>
<line x1="116.41" y1="828.50" x2="116.41" y2="829.70" stroke="#000" stroke-width="0.4"/>
<text x="116.4" y="834.6" font-size="2.9" text-anchor="middle" font-weight="bold" fill="#222">10<tspan font-size="1.8" dy="-1">3</tspan></text>
<line x1="125.95" y1="828.50" x2="125.95" y2="829.70" stroke="#000" stroke-width="0.4"/>
<text x="126.0" y="834.6" font-size="2.9" text-anchor="middle" font-weight="bold" fill="#222">10<tspan font-size="1.8" dy="-1">4</tspan></text>
<line x1="135.22" y1="828.50" x2="135.22" y2="829.70" stroke="#000" stroke-width="0.4"/>
<text x="135.2" y="834.6" font-size="2.9" text-anchor="middle" font-weight="bold" fill="#222">10<tspan font-size="1.8" dy="-1">5</tspan></text>
<line x1="143.97" y1="828.50" x2="143.97" y2="829.70" stroke="#000" stroke-width="0.4"/>
<text x="144.0" y="834.6" font-size="2.9" text-anchor="middle" font-weight="bold" fill="#222">10<tspan font-size="1.8" dy="-1">6</tspan></text>
<rect x="156.90" y="775.50" width="52.70" height="53.00" fill="none" stroke="#000" stroke-width="0.9"/>
<text x="207.5" y="794.6" font-size="8.6" text-anchor="end" fill="#000" stroke="#000" stroke-width="0.22">0.13%</text>
<line x1="155.70" y1="827.00" x2="156.90" y2="827.00" stroke="#000" stroke-width="0.4"/>
<line x1="155.70" y1="817.87" x2="156.90" y2="817.87" stroke="#000" stroke-width="0.4"/>
<line x1="155.70" y1="808.74" x2="156.90" y2="808.74" stroke="#000" stroke-width="0.4"/>
<line x1="155.70" y1="799.61" x2="156.90" y2="799.61" stroke="#000" stroke-width="0.4"/>
<line x1="155.70" y1="790.48" x2="156.90" y2="790.48" stroke="#000" stroke-width="0.4"/>
<line x1="155.70" y1="781.35" x2="156.90" y2="781.35" stroke="#000" stroke-width="0.4"/>
<line x1="166.65" y1="828.50" x2="166.65" y2="829.70" stroke="#000" stroke-width="0.4"/>
<text x="166.6" y="834.6" font-size="2.9" text-anchor="middle" font-weight="bold" fill="#222">0</text>
<line x1="181.67" y1="828.50" x2="181.67" y2="829.70" stroke="#000" stroke-width="0.4"/>
<text x="181.7" y="834.6" font-size="2.9" text-anchor="middle" font-weight="bold" fill="#222">10<tspan font-size="1.8" dy="-1">3</tspan></text>
<line x1="191.16" y1="828.50" x2="191.16" y2="829.70" stroke="#000" stroke-width="0.4"/>
<text x="191.2" y="834.6" font-size="2.9" text-anchor="middle" font-weight="bold" fill="#222">10<tspan font-size="1.8" dy="-1">4</tspan></text>
<line x1="200.38" y1="828.50" x2="200.38" y2="829.70" stroke="#000" stroke-width="0.4"/>
<text x="200.4" y="834.6" font-size="2.9" text-anchor="middle" font-weight="bold" fill="#222">10<tspan font-size="1.8" dy="-1">5</tspan></text>
<line x1="209.07" y1="828.50" x2="209.07" y2="829.70" stroke="#000" stroke-width="0.4"/>
<text x="209.1" y="834.6" font-size="2.9" text-anchor="middle" font-weight="bold" fill="#222">10<tspan font-size="1.8" dy="-1">6</tspan></text>
<rect x="219.50" y="775.50" width="53.20" height="53.00" fill="none" stroke="#000" stroke-width="0.9"/>
<text x="272" y="794.6" font-size="8.6" text-anchor="end" fill="#000" stroke="#000" stroke-width="0.22">1.97%</text>
<line x1="218.30" y1="827.00" x2="219.50" y2="827.00" stroke="#000" stroke-width="0.4"/>
<line x1="218.30" y1="817.87" x2="219.50" y2="817.87" stroke="#000" stroke-width="0.4"/>
<line x1="218.30" y1="808.74" x2="219.50" y2="808.74" stroke="#000" stroke-width="0.4"/>
<line x1="218.30" y1="799.61" x2="219.50" y2="799.61" stroke="#000" stroke-width="0.4"/>
<line x1="218.30" y1="790.48" x2="219.50" y2="790.48" stroke="#000" stroke-width="0.4"/>
<line x1="218.30" y1="781.35" x2="219.50" y2="781.35" stroke="#000" stroke-width="0.4"/>
<line x1="229.34" y1="828.50" x2="229.34" y2="829.70" stroke="#000" stroke-width="0.4"/>
<text x="229.3" y="834.6" font-size="2.9" text-anchor="middle" font-weight="bold" fill="#222">0</text>
<line x1="244.50" y1="828.50" x2="244.50" y2="829.70" stroke="#000" stroke-width="0.4"/>
<text x="244.5" y="834.6" font-size="2.9" text-anchor="middle" font-weight="bold" fill="#222">10<tspan font-size="1.8" dy="-1">3</tspan></text>
<line x1="254.08" y1="828.50" x2="254.08" y2="829.70" stroke="#000" stroke-width="0.4"/>
<text x="254.1" y="834.6" font-size="2.9" text-anchor="middle" font-weight="bold" fill="#222">10<tspan font-size="1.8" dy="-1">4</tspan></text>
<line x1="263.39" y1="828.50" x2="263.39" y2="829.70" stroke="#000" stroke-width="0.4"/>
<text x="263.4" y="834.6" font-size="2.9" text-anchor="middle" font-weight="bold" fill="#222">10<tspan font-size="1.8" dy="-1">5</tspan></text>
<line x1="272.17" y1="828.50" x2="272.17" y2="829.70" stroke="#000" stroke-width="0.4"/>
<text x="272.2" y="834.6" font-size="2.9" text-anchor="middle" font-weight="bold" fill="#222">10<tspan font-size="1.8" dy="-1">6</tspan></text>
<text x="17.8" y="828.0" font-size="2.9" text-anchor="middle" font-weight="bold" fill="#222">0</text>
<text x="17.8" y="818.85" font-size="2.9" text-anchor="middle" font-weight="bold" fill="#222">1.0M</text>
<text x="17.8" y="809.7" font-size="2.9" text-anchor="middle" font-weight="bold" fill="#222">2.0M</text>
<text x="17.8" y="800.55" font-size="2.9" text-anchor="middle" font-weight="bold" fill="#222">3.0M</text>
<text x="17.8" y="791.4" font-size="2.9" text-anchor="middle" font-weight="bold" fill="#222">4.0M</text>
<text x="17.8" y="782.25" font-size="2.9" text-anchor="middle" font-weight="bold" fill="#222">5.0M</text>
<text transform="translate(11.4 836.9) rotate(-90) scale(0.58 1)" font-size="10.4" fill="#000">SSC-A</text>
<path d="M8.50 818.00 L8.50 778.90" stroke="#000" stroke-width="1" fill="none"/>
<path d="M8.50 775.30 L10.20 778.90 L6.80 778.90 Z" fill="#000"/>
<text x="13.6" y="843.5" font-size="8.6" fill="#000" stroke="#000" stroke-width="0.22">hCD45-FITC</text>
<path d="M62.80 841.50 L263.90 841.50" stroke="#000" stroke-width="1" fill="none"/>
<path d="M267.50 841.50 L263.90 843.20 L263.90 839.80 Z" fill="#000"/>
<text x="349.2" y="759.5" font-size="8.7" text-anchor="middle" fill="#000" stroke="#000" stroke-width="0.22">AML BM Lin<tspan font-size="5.22" dy="-3.0449999999999995">-</tspan></text>
<text x="300.3" y="805" font-size="8.7" text-anchor="middle" transform="rotate(-90 300.3 805)" fill="#000" stroke="#000" stroke-width="0.22">hCD45<tspan font-size="5" dy="-3">+</tspan><tspan dy="3"> cells in BM (%)</tspan></text>
<rect x="325.70" y="798.71" width="12.10" height="38.99" fill="#b00000"/>
<line x1="331.75" y1="789.14" x2="331.75" y2="798.71" stroke="#b00000" stroke-width="1" shape-rendering="crispEdges"/>
<line x1="328.25" y1="789.14" x2="335.25" y2="789.14" stroke="#b00000" stroke-width="1" shape-rendering="crispEdges"/>
<rect x="344.30" y="836.67" width="12.10" height="1.03" fill="#0e5868"/>
<line x1="350.35" y1="835.65" x2="350.35" y2="836.67" stroke="#0e5868" stroke-width="1" shape-rendering="crispEdges"/>
<line x1="346.85" y1="835.65" x2="353.85" y2="835.65" stroke="#0e5868" stroke-width="1" shape-rendering="crispEdges"/>
<rect x="363.30" y="837.02" width="12.10" height="0.68" fill="#00008f"/>
<line x1="369.35" y1="836.33" x2="369.35" y2="837.02" stroke="#00008f" stroke-width="1" shape-rendering="crispEdges"/>
<line x1="365.85" y1="836.33" x2="372.85" y2="836.33" stroke="#00008f" stroke-width="1" shape-rendering="crispEdges"/>
<rect x="382.60" y="826.76" width="12.10" height="10.94" fill="#6a0a66"/>
<line x1="388.65" y1="824.02" x2="388.65" y2="826.76" stroke="#6a0a66" stroke-width="1" shape-rendering="crispEdges"/>
<line x1="385.15" y1="824.02" x2="392.15" y2="824.02" stroke="#6a0a66" stroke-width="1" shape-rendering="crispEdges"/>
<circle cx="327.25" cy="789.82" r="1.5" fill="#fff" stroke="#b00000" stroke-width="0.9"/>
<circle cx="332.25" cy="789.14" r="1.5" fill="#fff" stroke="#b00000" stroke-width="0.9"/>
<circle cx="336.25" cy="791.19" r="1.5" fill="#fff" stroke="#b00000" stroke-width="0.9"/>
<circle cx="332.05" cy="803.50" r="1.5" fill="#fff" stroke="#b00000" stroke-width="0.9"/>
<circle cx="332.05" cy="808.97" r="1.5" fill="#fff" stroke="#b00000" stroke-width="0.9"/>
<circle cx="345.85" cy="837.15" r="1.5" fill="#fff" stroke="#0e5868" stroke-width="0.9"/>
<circle cx="348.85" cy="835.99" r="1.5" fill="#fff" stroke="#0e5868" stroke-width="0.9"/>
<circle cx="351.85" cy="836.88" r="1.5" fill="#fff" stroke="#0e5868" stroke-width="0.9"/>
<circle cx="355.15" cy="835.65" r="1.5" fill="#fff" stroke="#0e5868" stroke-width="0.9"/>
<rect x="363.45" y="835.48" width="2.80" height="2.80" fill="#fff" stroke="#00008f" stroke-width="0.9"/>
<rect x="366.45" y="835.96" width="2.80" height="2.80" fill="#fff" stroke="#00008f" stroke-width="0.9"/>
<rect x="369.45" y="835.48" width="2.80" height="2.80" fill="#fff" stroke="#00008f" stroke-width="0.9"/>
<rect x="372.75" y="835.75" width="2.80" height="2.80" fill="#fff" stroke="#00008f" stroke-width="0.9"/>
<rect x="382.75" y="827.07" width="2.80" height="2.80" fill="#fff" stroke="#6a0a66" stroke-width="0.9"/>
<rect x="385.75" y="825.36" width="2.80" height="2.80" fill="#fff" stroke="#6a0a66" stroke-width="0.9"/>
<rect x="388.75" y="823.65" width="2.80" height="2.80" fill="#fff" stroke="#6a0a66" stroke-width="0.9"/>
<rect x="392.05" y="826.38" width="2.80" height="2.80" fill="#fff" stroke="#6a0a66" stroke-width="0.9"/>
<rect x="392.05" y="822.62" width="2.80" height="2.80" fill="#fff" stroke="#6a0a66" stroke-width="0.9"/>
<line x1="319.40" y1="768.90" x2="319.40" y2="838.10" stroke="#000" stroke-width="1" shape-rendering="crispEdges"/>
<line x1="315.20" y1="769.30" x2="319.40" y2="769.30" stroke="#000" stroke-width="1" shape-rendering="crispEdges"/>
<text x="314.6" y="772.43" font-size="8.7" text-anchor="end" fill="#000" stroke="#000" stroke-width="0.22">10</text>
<line x1="315.20" y1="782.98" x2="319.40" y2="782.98" stroke="#000" stroke-width="1" shape-rendering="crispEdges"/>
<text x="314.6" y="786.11" font-size="8.7" text-anchor="end" fill="#000" stroke="#000" stroke-width="0.22">8</text>
<line x1="315.20" y1="796.66" x2="319.40" y2="796.66" stroke="#000" stroke-width="1" shape-rendering="crispEdges"/>
<text x="314.6" y="799.79" font-size="8.7" text-anchor="end" fill="#000" stroke="#000" stroke-width="0.22">6</text>
<line x1="315.20" y1="810.34" x2="319.40" y2="810.34" stroke="#000" stroke-width="1" shape-rendering="crispEdges"/>
<text x="314.6" y="813.47" font-size="8.7" text-anchor="end" fill="#000" stroke="#000" stroke-width="0.22">4</text>
<line x1="315.20" y1="824.02" x2="319.40" y2="824.02" stroke="#000" stroke-width="1" shape-rendering="crispEdges"/>
<text x="314.6" y="827.15" font-size="8.7" text-anchor="end" fill="#000" stroke="#000" stroke-width="0.22">2</text>
<line x1="315.20" y1="837.70" x2="319.40" y2="837.70" stroke="#000" stroke-width="1" shape-rendering="crispEdges"/>
<text x="314.6" y="840.83" font-size="8.7" text-anchor="end" fill="#000" stroke="#000" stroke-width="0.22">0</text>
<line x1="319.40" y1="837.70" x2="402.90" y2="837.70" stroke="#000" stroke-width="1" shape-rendering="crispEdges"/>
<line x1="331.75" y1="837.70" x2="331.75" y2="840.70" stroke="#000" stroke-width="1" shape-rendering="crispEdges"/>
<line x1="350.35" y1="837.70" x2="350.35" y2="840.70" stroke="#000" stroke-width="1" shape-rendering="crispEdges"/>
<line x1="369.35" y1="837.70" x2="369.35" y2="840.70" stroke="#000" stroke-width="1" shape-rendering="crispEdges"/>
<line x1="388.65" y1="837.70" x2="388.65" y2="840.70" stroke="#000" stroke-width="1" shape-rendering="crispEdges"/>
<text x="325.3" y="769.6" font-size="8.7" fill="#000" stroke="#000" stroke-width="0.22"><tspan font-style="italic">P</tspan> = 3.15e-07</text>
<line x1="328.90" y1="772.70" x2="370.30" y2="772.70" stroke="#000" stroke-width="1" shape-rendering="crispEdges"/>
<text x="320.7" y="784" font-size="8.7" fill="#000" stroke="#000" stroke-width="0.22"><tspan font-style="italic">P</tspan> = 5.05e-07</text>
<line x1="328.90" y1="787.20" x2="349.80" y2="787.20" stroke="#000" stroke-width="1" shape-rendering="crispEdges"/>
<text x="361" y="804" font-size="8.7" fill="#000" stroke="#000" stroke-width="0.22"><tspan font-style="italic">P</tspan> = 0.0274</text>
<line x1="372.80" y1="807.20" x2="392.70" y2="807.20" stroke="#000" stroke-width="1" shape-rendering="crispEdges"/>
<circle cx="415.70" cy="760.40" r="2.25" fill="#b00000"/>
<text x="420.5" y="763.5" font-size="8.7" fill="#000" stroke="#000" stroke-width="0.22">Small</text>
<circle cx="415.70" cy="772.00" r="2.25" fill="#0e5868"/>
<text x="420.5" y="775.1" font-size="8.7" fill="#000" stroke="#000" stroke-width="0.22">Small + Jas</text>
<rect x="414.00" y="781.70" width="3.40" height="3.40" fill="#00008f"/>
<text x="420.5" y="786.5" font-size="8.7" fill="#000" stroke="#000" stroke-width="0.22">Large</text>
<rect x="414.00" y="792.30" width="3.40" height="3.40" fill="#6a0a66"/>
<text x="420.5" y="797.1" font-size="8.7" fill="#000" stroke="#000" stroke-width="0.22">Large + Lat A</text>
<text x="471.5" y="755.5" font-size="11" font-weight="bold" fill="#000" stroke="#000" stroke-width="0.22">s</text>
<text x="555.2" y="759" font-size="8.7" text-anchor="middle" fill="#000" stroke="#000" stroke-width="0.22">AML BM Lin<tspan font-size="5.22" dy="-3.0449999999999995">-</tspan></text>
<text x="488.2" y="803.3" font-size="8.7" text-anchor="middle" transform="rotate(-90 488.2 803.3)" fill="#000" stroke="#000" stroke-width="0.22">Viable cells (%)</text>
<line x1="521.60" y1="785.50" x2="521.60" y2="793.33" stroke="#0e5868" stroke-width="1" shape-rendering="crispEdges"/>
<line x1="519.80" y1="785.50" x2="523.40" y2="785.50" stroke="#0e5868" stroke-width="1" shape-rendering="crispEdges"/>
<line x1="519.80" y1="793.33" x2="523.40" y2="793.33" stroke="#0e5868" stroke-width="1" shape-rendering="crispEdges"/>
<polyline points="521.6,789.6 545.2,812.7 569.2,822.8 593.1,828.3" fill="none" stroke="#0e5868" stroke-width="0.9"/>
<polyline points="521.6,791.0 545.2,810.4 569.2,816.8 593.1,821.4" fill="none" stroke="#00008f" stroke-width="0.9"/>
<polyline points="521.6,791.0 545.2,803.9 569.2,808.5 593.1,815.0" fill="none" stroke="#6a0a66" stroke-width="0.9"/>
<polyline points="521.6,791.0 545.2,795.6 569.2,800.2 593.1,808.1" fill="none" stroke="#b00000" stroke-width="0.9"/>
<circle cx="521.60" cy="789.65" r="1.9" fill="#0e5868"/>
<circle cx="545.20" cy="812.68" r="1.9" fill="#0e5868"/>
<circle cx="569.20" cy="822.82" r="1.9" fill="#0e5868"/>
<circle cx="593.10" cy="828.35" r="1.9" fill="#0e5868"/>
<rect x="519.80" y="789.23" width="3.60" height="3.60" fill="#00008f"/>
<rect x="543.40" y="808.58" width="3.60" height="3.60" fill="#00008f"/>
<rect x="567.40" y="815.03" width="3.60" height="3.60" fill="#00008f"/>
<rect x="591.30" y="819.64" width="3.60" height="3.60" fill="#00008f"/>
<rect x="519.80" y="789.23" width="3.60" height="3.60" fill="#6a0a66"/>
<rect x="543.40" y="802.13" width="3.60" height="3.60" fill="#6a0a66"/>
<rect x="567.40" y="806.74" width="3.60" height="3.60" fill="#6a0a66"/>
<rect x="591.30" y="813.19" width="3.60" height="3.60" fill="#6a0a66"/>
<circle cx="521.60" cy="791.03" r="1.9" fill="#b00000"/>
<circle cx="545.20" cy="795.64" r="1.9" fill="#b00000"/>
<circle cx="569.20" cy="800.24" r="1.9" fill="#b00000"/>
<circle cx="593.10" cy="808.08" r="1.9" fill="#b00000"/>
<line x1="569.20" y1="797.94" x2="569.20" y2="802.55" stroke="#b00000" stroke-width="1" shape-rendering="crispEdges"/>
<line x1="567.60" y1="797.94" x2="570.80" y2="797.94" stroke="#b00000" stroke-width="1" shape-rendering="crispEdges"/>
<line x1="567.60" y1="802.55" x2="570.80" y2="802.55" stroke="#b00000" stroke-width="1" shape-rendering="crispEdges"/>
<line x1="593.10" y1="826.50" x2="593.10" y2="830.19" stroke="#0e5868" stroke-width="1" shape-rendering="crispEdges"/>
<line x1="591.50" y1="826.50" x2="594.70" y2="826.50" stroke="#0e5868" stroke-width="1" shape-rendering="crispEdges"/>
<line x1="509.00" y1="767.60" x2="509.00" y2="837.50" stroke="#000" stroke-width="1" shape-rendering="crispEdges"/>
<line x1="505.80" y1="768.00" x2="509.00" y2="768.00" stroke="#000" stroke-width="1" shape-rendering="crispEdges"/>
<text x="505.3" y="771.13" font-size="8.7" text-anchor="end" fill="#000" stroke="#000" stroke-width="0.22">150</text>
<line x1="505.80" y1="791.03" x2="509.00" y2="791.03" stroke="#000" stroke-width="1" shape-rendering="crispEdges"/>
<text x="505.3" y="794.16" font-size="8.7" text-anchor="end" fill="#000" stroke="#000" stroke-width="0.22">100</text>
<line x1="505.80" y1="814.07" x2="509.00" y2="814.07" stroke="#000" stroke-width="1" shape-rendering="crispEdges"/>
<text x="505.3" y="817.2" font-size="8.7" text-anchor="end" fill="#000" stroke="#000" stroke-width="0.22">50</text>
<line x1="505.80" y1="837.10" x2="509.00" y2="837.10" stroke="#000" stroke-width="1" shape-rendering="crispEdges"/>
<text x="505.3" y="840.23" font-size="8.7" text-anchor="end" fill="#000" stroke="#000" stroke-width="0.22">0</text>
<line x1="509.00" y1="837.10" x2="605.80" y2="837.10" stroke="#000" stroke-width="1" shape-rendering="crispEdges"/>
<line x1="521.60" y1="837.10" x2="521.60" y2="840.10" stroke="#000" stroke-width="1" shape-rendering="crispEdges"/>
<text x="521.6" y="848.37" font-size="8.7" text-anchor="middle" fill="#000" stroke="#000" stroke-width="0.22">0</text>
<line x1="545.20" y1="837.10" x2="545.20" y2="840.10" stroke="#000" stroke-width="1" shape-rendering="crispEdges"/>
<text x="545.2" y="848.37" font-size="8.7" text-anchor="middle" fill="#000" stroke="#000" stroke-width="0.22">50</text>
<line x1="569.20" y1="837.10" x2="569.20" y2="840.10" stroke="#000" stroke-width="1" shape-rendering="crispEdges"/>
<text x="569.2" y="848.37" font-size="8.7" text-anchor="middle" fill="#000" stroke="#000" stroke-width="0.22">200</text>
<line x1="593.10" y1="837.10" x2="593.10" y2="840.10" stroke="#000" stroke-width="1" shape-rendering="crispEdges"/>
<text x="593.1" y="848.37" font-size="8.7" text-anchor="middle" fill="#000" stroke="#000" stroke-width="0.22">500</text>
<text x="560.8" y="859.2" font-size="8.7" text-anchor="middle" fill="#000" stroke="#000" stroke-width="0.22">Ara-C (nM)</text>
<circle cx="628.80" cy="761.40" r="2.25" fill="#b00000"/>
<text x="633.4" y="764.5" font-size="8.7" fill="#000" stroke="#000" stroke-width="0.22">Small</text>
<circle cx="628.80" cy="772.10" r="2.25" fill="#0e5868"/>
<text x="633.4" y="775.2" font-size="8.7" fill="#000" stroke="#000" stroke-width="0.22">Small + Jas</text>
<rect x="627.10" y="781.50" width="3.40" height="3.40" fill="#00008f"/>
<text x="633.4" y="786.3" font-size="8.7" fill="#000" stroke="#000" stroke-width="0.22">Large</text>
<rect x="627.10" y="792.30" width="3.40" height="3.40" fill="#6a0a66"/>
<text x="633.4" y="797.1" font-size="8.7" fill="#000" stroke="#000" stroke-width="0.22">Large + Lat A</text>
<text x="617.5" y="793.8" font-size="8.5" transform="rotate(90 617.5 793.8)" fill="#000" stroke="#000" stroke-width="0.22"><tspan font-style="italic">P</tspan> = 1.37e-07</text>
<line x1="615.50" y1="807.80" x2="615.50" y2="831.00" stroke="#000" stroke-width="1" shape-rendering="crispEdges"/>
<text x="607.8" y="782.9" font-size="8.5" transform="rotate(90 607.8 782.9)" fill="#000" stroke="#000" stroke-width="0.22"><tspan font-style="italic">P</tspan> = 3.02e-08</text>
<line x1="604.30" y1="808.30" x2="604.30" y2="820.50" stroke="#000" stroke-width="1" shape-rendering="crispEdges"/>
<text x="599" y="795" font-size="8.5" transform="rotate(90 599 795)" fill="#000" stroke="#000" stroke-width="0.22"><tspan font-style="italic">P</tspan> = 0.0003</text>
<line x1="598.00" y1="811.30" x2="598.00" y2="821.00" stroke="#000" stroke-width="1" shape-rendering="crispEdges"/>
</svg>
</body></html>
